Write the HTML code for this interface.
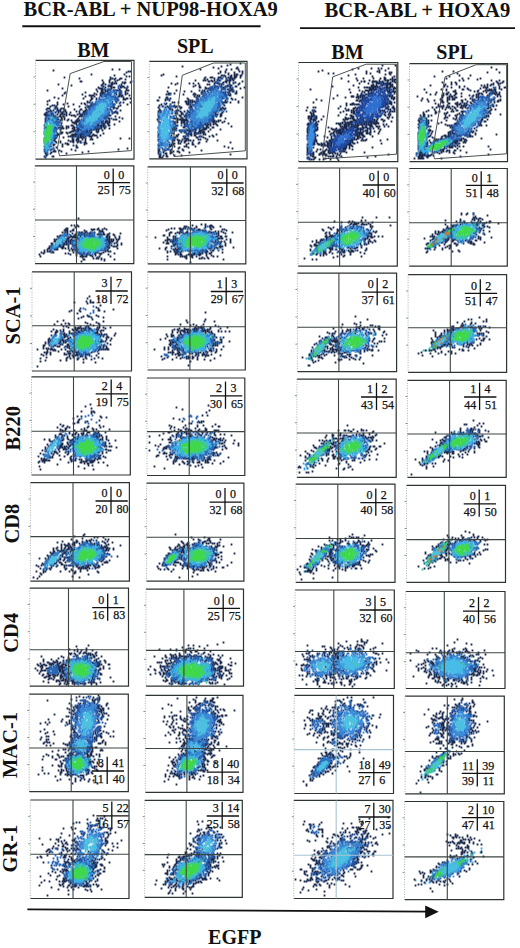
<!DOCTYPE html>
<html><head><meta charset="utf-8"><title>Figure</title>
<style>html,body{margin:0;padding:0;background:#fff;width:520px;height:948px;overflow:hidden}svg{display:block}</style>
</head><body>
<svg width="520" height="948" viewBox="0 0 520 948">
<rect width="520" height="948" fill="#fff"/>
<g font-family="&quot;Liberation Serif&quot;, serif" font-weight="bold" fill="#111">
<text x="23.5" y="15.6" font-size="20.5px">BCR-ABL + NUP98-HOXA9</text>
<text x="324.6" y="17.1" font-size="20.6px">BCR-ABL + HOXA9</text>
<text x="77.2" y="56.6" font-size="20px">BM</text>
<text x="176.9" y="53.3" font-size="20px">SPL</text>
<text x="331.3" y="58.7" font-size="20px">BM</text>
<text x="436.3" y="58.7" font-size="20px">SPL</text>
<text transform="translate(20.1 344.5) rotate(-90)" font-size="20.5px">SCA-1</text>
<text transform="translate(19.7 450.5) rotate(-90)" font-size="20.5px">B220</text>
<text transform="translate(19.2 543.5) rotate(-90)" font-size="20.5px">CD8</text>
<text transform="translate(17.5 652.7) rotate(-90)" font-size="20.5px">CD4</text>
<text transform="translate(17.3 778) rotate(-90)" font-size="20.5px">MAC-1</text>
<text transform="translate(16.7 872.5) rotate(-90)" font-size="20.5px">GR-1</text>
<text x="208.1" y="944" font-size="20px">EGFP</text>
</g>
<line x1="22.3" y1="26.2" x2="260.6" y2="26.2" stroke="#111" stroke-width="2"/>
<line x1="300" y1="28.2" x2="515" y2="28.2" stroke="#111" stroke-width="1.8"/>
<line x1="27.4" y1="909.4" x2="428" y2="911.6" stroke="#111" stroke-width="1.8"/>
<polygon points="425.2,905.6 438.7,911.7 425.2,918.3" fill="#111"/>
<g stroke-width="1.8" stroke-linecap="square" fill="none" transform="translate(0.5 0.5)">
<path stroke="#1b2a4c" d="M112 69h0m7 0h0m-66 1h0m75 1h0m2 0h0m-4 1h0m-35 2h0m33 0h0m-10 1h0m12 1h0m3 0h0m-65 1h0m46 0h0m-31 1h0m33 0h0m3 0h0m5 0h0m1 0h0m-11 1h0m4 0h0m5 0h0m6 0h0m-23 1h0m7 0h0m8 0h0m-37 1h0m1 0h0m34 0h0m16 0h0m-28 1h0m6 0h0m3 0h0m10 0h0m2 0h0m1 0h0m5 0h0m-27 1h0m8 0h0m3 0h0m2 0h0m8 0h0m-66 1h0m44 0h0m3 0h0m7 0h0m9 0h0m-50 1h0m30 0h0m8 0h0m2 0h0m-8 1h0m5 0h0m2 0h0m1 0h0m9 0h0m2 0h0m1 0h0m-25 1h0m7 0h0m8 0h0m1 0h0m6 0h0m1 0h0m3 0h0m3 0h0m-65 1h0m37 0h0m1 0h0m1 0h0m1 0h0m9 0h0m15 0h0m-30 1h0m8 0h0m4 0h0m2 0h0m9 0h0m7 0h0m-79 1h0m54 0h0m1 0h0m3 0h0m2 0h0m3 0h0m3 0h0m1 0h0m1 0h0m1 0h0m1 0h0m2 0h0m1 0h0m7 0h0m1 0h0m-31 1h0m5 0h0m3 0h0m2 0h0m2 0h0m6 0h0m10 0h0m-60 1h0m20 0h0m16 0h0m1 0h0m1 0h0m5 0h0m3 0h0m4 0h0m5 0h0m5 0h0m-61 1h0m30 0h0m6 0h0m3 0h0m1 0h0m15 0h0m1 0h0m7 0h0m-45 1h0m14 0h0m6 0h0m8 0h0m6 0h0m3 0h0m1 0h0m5 0h0m-63 1h0m27 0h0m1 0h0m2 0h0m1 0h0m7 0h0m3 0h0m2 0h0m16 0h0m1 0h0m7 0h0m-44 1h0m6 0h0m3 0h0m7 0h0m17 0h0m1 0h0m2 0h0m-67 1h0m59 0h0m10 0h0m-65 1h0m25 0h0m8 0h0m1 0h0m4 0h0m14 0h0m2 0h0m1 0h0m1 0h0m12 0h0m1 0h0m3 0h0m-39 1h0m5 0h0m8 0h0m11 0h0m8 0h0m1 0h0m1 0h0m-76 1h0m41 0h0m10 0h0m6 0h0m-59 1h0m40 0h0m-30 1h0m30 0h0m2 0h0m27 0h0m4 0h0m3 0h0m7 0h0m-73 1h0m10 0h0m14 0h0m3 0h0m7 0h0m-44 1h0m10 0h0m6 0h0m10 0h0m12 0h0m8 0h0m2 0h0m1 0h0m15 0h0m3 0h0m13 0h0m-75 1h0m2 0h0m36 0h0m1 0h0m8 0h0m3 0h0m6 0h0m12 0h0m-70 1h0m6 0h0m12 0h0m11 0h0m8 0h0m1 0h0m1 0h0m2 0h0m3 0h0m17 0h0m2 0h0m5 0h0m-63 1h0m30 0h0m3 0h0m8 0h0m17 0h0m1 0h0m-67 1h0m1 0h0m1 0h0m6 0h0m2 0h0m4 0h0m2 0h0m27 0h0m3 0h0m4 0h0m1 0h0m3 0h0m3 0h0m9 0h0m3 0h0m1 0h0m-71 1h0m14 0h0m4 0h0m10 0h0m6 0h0m1 0h0m5 0h0m3 0h0m18 0h0m-57 1h0m3 0h0m4 0h0m1 0h0m7 0h0m20 0h0m3 0h0m2 0h0m7 0h0m6 0h0m4 0h0m4 0h0m9 0h0m-72 1h0m2 0h0m1 0h0m9 0h0m3 0h0m2 0h0m11 0h0m3 0h0m4 0h0m1 0h0m3 0h0m9 0h0m3 0h0m16 0h0m-69 1h0m1 0h0m4 0h0m4 0h0m3 0h0m4 0h0m4 0h0m4 0h0m13 0h0m2 0h0m1 0h0m2 0h0m10 0h0m3 0h0m2 0h0m9 0h0m2 0h0m2 0h0m1 0h0m-72 1h0m2 0h0m5 0h0m9 0h0m2 0h0m16 0h0m8 0h0m1 0h0m20 0h0m4 0h0m5 0h0m-73 1h0m2 0h0m5 0h0m6 0h0m3 0h0m2 0h0m2 0h0m2 0h0m3 0h0m8 0h0m3 0h0m1 0h0m1 0h0m2 0h0m-39 1h0m2 0h0m1 0h0m1 0h0m3 0h0m1 0h0m13 0h0m5 0h0m2 0h0m1 0h0m6 0h0m2 0h0m20 0h0m4 0h0m1 0h0m2 0h0m1 0h0m-64 1h0m7 0h0m2 0h0m4 0h0m1 0h0m3 0h0m12 0h0m4 0h0m2 0h0m5 0h0m29 0h0m-69 1h0m11 0h0m4 0h0m3 0h0m20 0h0m18 0h0m2 0h0m1 0h0m2 0h0m12 0h0m-74 1h0m3 0h0m3 0h0m3 0h0m7 0h0m17 0h0m5 0h0m13 0h0m9 0h0m3 0h0m1 0h0m13 0h0m-73 1h0m1 0h0m1 0h0m5 0h0m1 0h0m1 0h0m3 0h0m3 0h0m4 0h0m9 0h0m22 0h0m14 0h0m2 0h0m1 0h0m-71 1h0m4 0h0m2 0h0m5 0h0m4 0h0m7 0h0m4 0h0m5 0h0m3 0h0m18 0h0m9 0h0m3 0h0m-34 1h0m2 0h0m1 0h0m18 0h0m1 0h0m4 0h0m4 0h0m1 0h0m1 0h0m12 0h0m-74 1h0m1 0h0m9 0h0m2 0h0m2 0h0m13 0h0m1 0h0m2 0h0m1 0h0m12 0h0m10 0h0m3 0h0m1 0h0m3 0h0m4 0h0m-64 1h0m1 0h0m4 0h0m4 0h0m1 0h0m6 0h0m13 0h0m5 0h0m4 0h0m9 0h0m5 0h0m1 0h0m4 0h0m1 0h0m4 0h0m1 0h0m-32 1h0m3 0h0m15 0h0m9 0h0m1 0h0m10 0h0m-70 1h0m2 0h0m8 0h0m17 0h0m1 0h0m25 0h0m1 0h0m2 0h0m1 0h0m2 0h0m5 0h0m1 0h0m-62 1h0m15 0h0m4 0h0m2 0h0m5 0h0m4 0h0m3 0h0m6 0h0m9 0h0m2 0h0m2 0h0m1 0h0m1 0h0m2 0h0m2 0h0m-60 1h0m2 0h0m4 0h0m4 0h0m3 0h0m1 0h0m1 0h0m2 0h0m6 0h0m5 0h0m1 0h0m5 0h0m2 0h0m5 0h0m6 0h0m3 0h0m2 0h0m2 0h0m5 0h0m1 0h0m-60 1h0m1 0h0m1 0h0m9 0h0m4 0h0m1 0h0m2 0h0m3 0h0m6 0h0m5 0h0m1 0h0m1 0h0m1 0h0m2 0h0m8 0h0m7 0h0m2 0h0m2 0h0m3 0h0m5 0h0m-64 1h0m2 0h0m2 0h0m5 0h0m6 0h0m14 0h0m4 0h0m2 0h0m1 0h0m1 0h0m4 0h0m1 0h0m3 0h0m1 0h0m2 0h0m1 0h0m2 0h0m2 0h0m-53 1h0m1 0h0m14 0h0m13 0h0m1 0h0m1 0h0m2 0h0m8 0h0m1 0h0m1 0h0m2 0h0m13 0h0m-57 1h0m26 0h0m1 0h0m1 0h0m3 0h0m1 0h0m1 0h0m5 0h0m2 0h0m4 0h0m1 0h0m1 0h0m5 0h0m2 0h0m-52 1h0m15 0h0m1 0h0m4 0h0m3 0h0m1 0h0m8 0h0m1 0h0m4 0h0m2 0h0m1 0h0m1 0h0m3 0h0m1 0h0m6 0h0m-53 1h0m2 0h0m11 0h0m3 0h0m1 0h0m6 0h0m8 0h0m3 0h0m1 0h0m2 0h0m2 0h0m7 0h0m13 0h0m-58 1h0m1 0h0m12 0h0m14 0h0m1 0h0m1 0h0m1 0h0m1 0h0m2 0h0m2 0h0m1 0h0m1 0h0m1 0h0m1 0h0m5 0h0m4 0h0m-47 1h0m2 0h0m7 0h0m1 0h0m1 0h0m14 0h0m1 0h0m5 0h0m1 0h0m2 0h0m3 0h0m4 0h0m1 0h0m1 0h0m3 0h0m2 0h0m1 0h0m1 0h0m4 0h0m-51 1h0m4 0h0m15 0h0m2 0h0m2 0h0m1 0h0m2 0h0m5 0h0m1 0h0m1 0h0m3 0h0m4 0h0m1 0h0m1 0h0m-46 1h0m1 0h0m2 0h0m1 0h0m5 0h0m2 0h0m7 0h0m14 0h0m1 0h0m2 0h0m1 0h0m2 0h0m2 0h0m6 0h0m6 0h0m-53 1h0m1 0h0m2 0h0m1 0h0m6 0h0m1 0h0m17 0h0m6 0h0m7 0h0m6 0h0m29 0h0m9 0h0m-84 1h0m1 0h0m1 0h0m4 0h0m22 0h0m3 0h0m1 0h0m1 0h0m4 0h0m8 0h0m2 0h0m-48 1h0m1 0h0m8 0h0m1 0h0m14 0h0m4 0h0m1 0h0m3 0h0m9 0h0m-38 1h0m8 0h0m5 0h0m10 0h0m2 0h0m6 0h0m2 0h0m-36 1h0m2 0h0m2 0h0m3 0h0m5 0h0m4 0h0m13 0h0m4 0h0m3 0h0m4 0h0m1 0h0m-39 1h0m1 0h0m3 0h0m15 0h0m2 0h0m19 0h0m7 0h0m-48 1h0m5 0h0m3 0h0m1 0h0m8 0h0m5 0h0m1 0h0m16 0h0m-37 1h0m6 0h0m9 0h0m11 0h0m3 0h0m-31 1h0m3 0h0m14 0h0m-17 1h0m11 0h0m20 0h0m1 0h0m-32 1h0m1 0h0m3 0h0m4 0h0m74 0h0m-83 1h0m1 0h0m6 0h0m20 0h0m47 0h0m-73 1h0m2 0h0m7 0h0m5 0h0m16 0h0m-22 1h0m1 0h0m1 0h0m6 0h0m27 0h0m-43 1h0m6 0h0m31 0h0m-37 1h0m1 0h0m4 0h0m16 0h0m-20 1h0m1 0h0m-1 1h0m-2 1h0m1 0h0m7 0h0m1 0h0m-8 1h0"/>
<path stroke="#2458a8" d="M108 85h0m11 0h0m-17 1h0m16 0h0m9 0h0m-9 2h0m-14 1h0m3 0h0m2 0h0m5 1h0m1 0h0m-5 1h0m3 0h0m1 0h0m5 0h0m2 0h0m-13 1h0m6 0h0m2 0h0m3 0h0m-15 1h0m3 0h0m1 0h0m1 0h0m1 0h0m4 0h0m7 0h0m-16 1h0m1 0h0m1 0h0m2 0h0m1 0h0m-8 1h0m1 0h0m2 0h0m1 0h0m2 0h0m1 0h0m1 0h0m4 0h0m-12 1h0m2 0h0m1 0h0m3 0h0m2 0h0m1 0h0m1 0h0m1 0h0m1 0h0m1 0h0m-16 1h0m7 0h0m4 0h0m2 0h0m2 0h0m3 0h0m-10 1h0m1 0h0m2 0h0m1 0h0m2 0h0m1 0h0m1 0h0m1 0h0m-17 1h0m2 0h0m2 0h0m2 0h0m10 0h0m2 0h0m1 0h0m-19 1h0m1 0h0m4 0h0m2 0h0m4 0h0m7 0h0m1 0h0m-22 1h0m2 0h0m5 0h0m1 0h0m5 0h0m3 0h0m3 0h0m1 0h0m-24 1h0m3 0h0m1 0h0m4 0h0m2 0h0m7 0h0m3 0h0m-21 1h0m4 0h0m1 0h0m2 0h0m10 0h0m1 0h0m1 0h0m1 0h0m8 0h0m-26 1h0m3 0h0m13 0h0m1 0h0m2 0h0m1 0h0m1 0h0m-27 1h0m7 0h0m2 0h0m12 0h0m1 0h0m4 0h0m-26 1h0m3 0h0m1 0h0m2 0h0m2 0h0m10 0h0m7 0h0m-21 1h0m2 0h0m2 0h0m15 0h0m-21 1h0m5 0h0m13 0h0m3 0h0m-20 1h0m1 0h0m18 0h0m1 0h0m-20 1h0m1 0h0m1 0h0m3 0h0m2 0h0m9 0h0m5 0h0m-24 1h0m1 0h0m2 0h0m1 0h0m7 0h0m10 0h0m8 0h0m-30 1h0m1 0h0m1 0h0m2 0h0m2 0h0m1 0h0m4 0h0m1 0h0m6 0h0m2 0h0m1 0h0m2 0h0m3 0h0m-30 1h0m5 0h0m2 0h0m2 0h0m1 0h0m2 0h0m10 0h0m2 0h0m1 0h0m1 0h0m-23 1h0m1 0h0m1 0h0m2 0h0m8 0h0m8 0h0m2 0h0m-19 1h0m15 0h0m1 0h0m1 0h0m1 0h0m1 0h0m-24 1h0m1 0h0m2 0h0m16 0h0m-16 1h0m15 0h0m1 0h0m2 0h0m3 0h0m-23 1h0m1 0h0m13 0h0m6 0h0m1 0h0m6 0h0m-30 1h0m4 0h0m14 0h0m1 0h0m-19 1h0m2 0h0m1 0h0m3 0h0m11 0h0m1 0h0m1 0h0m2 0h0m1 0h0m-23 1h0m3 0h0m1 0h0m12 0h0m-16 1h0m1 0h0m2 0h0m3 0h0m3 0h0m3 0h0m1 0h0m1 0h0m2 0h0m1 0h0m2 0h0m4 0h0m-21 1h0m1 0h0m1 0h0m4 0h0m2 0h0m2 0h0m1 0h0m2 0h0m1 0h0m1 0h0m1 0h0m3 0h0m-22 1h0m2 0h0m2 0h0m8 0h0m3 0h0m-17 1h0m1 0h0m1 0h0m1 0h0m2 0h0m1 0h0m1 0h0m1 0h0m1 0h0m2 0h0m2 0h0m1 0h0m1 0h0m-14 1h0m3 0h0m1 0h0m3 0h0m1 0h0m1 0h0m2 0h0m2 0h0m2 0h0m1 0h0m1 0h0m1 0h0m3 0h0m6 0h0m-29 1h0m2 0h0m1 0h0m2 0h0m2 0h0m2 0h0m3 0h0m1 0h0m1 0h0m4 0h0m3 0h0m2 0h0m-18 1h0m1 0h0m4 0h0m1 0h0m1 0h0m1 0h0m1 0h0m1 0h0m1 0h0m-11 1h0m3 0h0m2 0h0m1 0h0m1 0h0m1 0h0m1 0h0m3 0h0m-17 1h0m4 0h0m1 0h0m2 0h0m1 0h0m1 0h0m0 1h0m5 0h0m-14 1h0m2 0h0m3 0h0m2 0h0m1 0h0m4 0h0m-9 1h0m5 0h0m2 0h0m-8 1h0m6 0h0m2 0h0m2 0h0m-11 1h0m5 0h0m1 0h0m-6 1h0m-4 1h0m12 0h0m-4 5h0"/>
<path stroke="#2866b8" d="M54 108h0m-7 2h0m9 1h0m-6 1h0m1 0h0m-4 1h0m6 0h0m-4 1h0m3 1h0m3 0h0m-8 1h0m1 0h0m1 0h0m1 0h0m-4 1h0m4 0h0m1 0h0m-5 1h0m6 0h0m2 0h0m2 0h0m1 0h0m-8 1h0m2 0h0m3 0h0m-7 1h0m5 0h0m4 0h0m-10 1h0m6 0h0m1 0h0m3 0h0m1 0h0m2 0h0m-5 1h0m1 0h0m3 0h0m1 0h0m-9 1h0m2 0h0m1 0h0m1 0h0m1 0h0m2 0h0m1 0h0m-12 1h0m7 0h0m1 0h0m2 0h0m2 0h0m-5 1h0m1 0h0m2 0h0m1 0h0m2 0h0m1 0h0m-9 1h0m1 0h0m2 0h0m-9 1h0m5 0h0m2 0h0m1 0h0m1 0h0m-10 1h0m2 0h0m3 0h0m3 0h0m2 0h0m4 0h0m1 0h0m-13 1h0m1 0h0m2 0h0m1 0h0m2 0h0m2 0h0m1 0h0m1 0h0m-6 1h0m1 0h0m2 0h0m2 0h0m-11 1h0m7 0h0m1 0h0m1 0h0m3 0h0m-11 1h0m9 0h0m2 0h0m-7 1h0m3 0h0m1 0h0m1 0h0m-8 1h0m3 0h0m1 0h0m2 0h0m1 0h0m1 0h0m-8 1h0m-1 1h0m5 0h0m2 0h0m1 0h0m1 0h0m2 0h0m-5 1h0m3 0h0m-9 1h0m5 0h0m2 0h0m1 0h0m-3 1h0m-5 1h0m0 1h0m3 1h0m3 0h0m1 0h0m-6 1h0m5 0h0m-6 1h0m3 0h0m-3 1h0m1 0h0m-2 1h0m1 0h0m2 0h0m2 0h0m1 0h0m1 0h0m-6 1h0m2 0h0m6 1h0m-8 1h0m2 0h0m1 0h0m-2 1h0m4 0h0m-6 1h0m1 0h0m2 1h0m0 1h0m-2 3h0"/>
<path stroke="#3cb0e8" d="M50 117h0m1 0h0m0 1h0m3 1h0m-4 1h0m-2 1h0m1 0h0m2 0h0m-4 1h0m2 0h0m2 0h0m1 0h0m-7 1h0m1 0h0m6 0h0m2 1h0m-9 1h0m1 0h0m1 0h0m6 0h0m2 0h0m-4 1h0m2 0h0m-2 1h0m-6 2h0m7 0h0m-2 2h0m1 0h0m-6 1h0m7 0h0m1 1h0m-8 1h0m6 0h0m-4 1h0m4 0h0m1 0h0m-1 1h0m1 0h0m-6 1h0m4 0h0m1 0h0m-2 1h0m-3 1h0m6 0h0m-7 1h0m0 2h0m4 0h0m1 0h0m3 0h0m-5 1h0m-3 1h0m4 0h0m-5 1h0m1 0h0m1 0h0m1 0h0m-1 2h0m2 0h0m-3 1h0m2 0h0m1 0h0m1 0h0m-3 2h0"/>
<path stroke="#3a8ad8" d="M109 91h0m3 0h0m3 0h0m-4 1h0m0 2h0m-8 1h0m11 0h0m-6 1h0m-6 1h0m7 0h0m1 0h0m-3 1h0m2 0h0m3 0h0m1 0h0m-15 1h0m6 0h0m2 0h0m3 0h0m1 0h0m1 0h0m2 0h0m-12 1h0m3 0h0m1 0h0m1 0h0m1 0h0m1 0h0m3 0h0m-12 1h0m1 0h0m2 0h0m1 0h0m1 0h0m1 0h0m1 0h0m1 0h0m1 0h0m1 0h0m-13 1h0m1 0h0m1 0h0m2 0h0m1 0h0m2 0h0m2 0h0m1 0h0m1 0h0m-9 1h0m1 0h0m1 0h0m4 0h0m3 0h0m2 0h0m1 0h0m-13 1h0m1 0h0m1 0h0m1 0h0m1 0h0m3 0h0m2 0h0m2 0h0m1 0h0m-13 1h0m1 0h0m3 0h0m2 0h0m3 0h0m2 0h0m2 0h0m1 0h0m1 0h0m-17 1h0m1 0h0m2 0h0m1 0h0m1 0h0m8 0h0m2 0h0m-15 1h0m1 0h0m1 0h0m1 0h0m1 0h0m6 0h0m2 0h0m-15 1h0m1 0h0m3 0h0m9 0h0m1 0h0m1 0h0m-15 1h0m1 0h0m2 0h0m9 0h0m1 0h0m2 0h0m-18 1h0m3 0h0m1 0h0m1 0h0m2 0h0m11 0h0m-16 1h0m1 0h0m1 0h0m1 0h0m1 0h0m8 0h0m1 0h0m1 0h0m1 0h0m3 0h0m-20 1h0m2 0h0m1 0h0m1 0h0m1 0h0m9 0h0m2 0h0m1 0h0m1 0h0m1 0h0m-17 1h0m1 0h0m1 0h0m1 0h0m8 0h0m1 0h0m-14 1h0m1 0h0m2 0h0m1 0h0m5 0h0m3 0h0m1 0h0m2 0h0m1 0h0m1 0h0m1 0h0m-19 1h0m2 0h0m1 0h0m1 0h0m1 0h0m1 0h0m1 0h0m4 0h0m1 0h0m1 0h0m1 0h0m2 0h0m-18 1h0m3 0h0m2 0h0m1 0h0m1 0h0m6 0h0m2 0h0m1 0h0m1 0h0m-18 1h0m2 0h0m1 0h0m1 0h0m2 0h0m1 0h0m1 0h0m1 0h0m1 0h0m2 0h0m2 0h0m1 0h0m-15 1h0m1 0h0m3 0h0m1 0h0m1 0h0m1 0h0m2 0h0m2 0h0m1 0h0m1 0h0m4 0h0m1 0h0m-17 1h0m2 0h0m1 0h0m1 0h0m1 0h0m2 0h0m1 0h0m3 0h0m1 0h0m3 0h0m2 0h0m-16 1h0m1 0h0m2 0h0m3 0h0m1 0h0m1 0h0m3 0h0m1 0h0m1 0h0m-18 1h0m3 0h0m1 0h0m1 0h0m1 0h0m2 0h0m1 0h0m1 0h0m1 0h0m1 0h0m1 0h0m1 0h0m2 0h0m-16 1h0m1 0h0m1 0h0m2 0h0m1 0h0m1 0h0m1 0h0m1 0h0m2 0h0m2 0h0m1 0h0m1 0h0m1 0h0m2 0h0m-14 1h0m1 0h0m2 0h0m2 0h0m1 0h0m1 0h0m1 0h0m2 0h0m1 0h0m-13 1h0m2 0h0m1 0h0m1 0h0m1 0h0m1 0h0m1 0h0m1 0h0m2 0h0m1 0h0m2 0h0m-10 1h0m1 0h0m1 0h0m1 0h0m1 0h0m5 0h0m-16 1h0m6 0h0m2 0h0m1 0h0m1 0h0m3 0h0m-6 1h0m1 0h0m1 0h0m3 0h0m2 0h0m-12 1h0m5 0h0m3 0h0m4 0h0m-10 1h0m1 0h0m1 0h0m4 0h0m-9 3h0"/>
<path stroke="#3cc8a0" d="M52 117h0m-2 7h0m1 0h0m-6 1h0m3 0h0m1 0h0m2 0h0m-2 1h0m1 1h0m2 0h0m-2 1h0m-5 1h0m3 0h0m3 0h0m-6 1h0m-1 1h0m7 0h0m-7 1h0m1 0h0m1 0h0m-1 1h0m6 0h0m-7 1h0m4 0h0m2 0h0m-1 1h0m-4 1h0m-1 2h0m3 0h0m1 0h0m1 0h0m1 0h0m-5 1h0m1 0h0m2 0h0m1 0h0m-4 1h0m1 0h0m0 1h0m-2 1h0m1 0h0m1 0h0m1 0h0m-2 1h0m0 2h0m1 0h0"/>
<path stroke="#3fd84a" d="M47 125h0m0 1h0m3 0h0m-2 1h0m2 0h0m-3 1h0m1 0h0m1 0h0m1 0h0m-2 1h0m1 0h0m1 0h0m-4 1h0m1 0h0m2 0h0m1 0h0m-3 1h0m1 0h0m1 0h0m1 0h0m-3 1h0m1 0h0m1 0h0m1 0h0m-5 1h0m3 0h0m1 0h0m1 0h0m-3 1h0m1 0h0m-2 1h0m1 0h0m2 0h0m-3 1h0m1 0h0m1 0h0m1 0h0m-3 1h0m1 0h0m-2 1h0m1 0h0m1 0h0m2 0h0m-2 1h0m-3 1h0m2 0h0m2 0h0m-2 1h0"/>
<path stroke="#4cc0e0" d="M107 100h0m1 2h0m-7 1h0m1 0h0m2 0h0m-5 1h0m1 0h0m5 0h0m-4 1h0m1 0h0m1 0h0m-6 1h0m2 0h0m1 0h0m1 0h0m1 0h0m3 0h0m-9 1h0m4 0h0m1 0h0m1 0h0m-6 1h0m1 0h0m1 0h0m2 0h0m1 0h0m2 0h0m1 0h0m-8 1h0m2 0h0m1 0h0m1 0h0m3 0h0m-7 1h0m1 0h0m2 0h0m1 0h0m1 0h0m1 0h0m1 0h0m-9 1h0m1 0h0m1 0h0m2 0h0m3 0h0m-8 1h0m1 0h0m1 0h0m3 0h0m5 0h0m-10 1h0m1 0h0m1 0h0m1 0h0m3 0h0m1 0h0m1 0h0m-9 1h0m1 0h0m2 0h0m1 0h0m1 0h0m1 0h0m-6 1h0m2 0h0m1 0h0m1 0h0m2 0h0m1 0h0m-10 1h0m1 0h0m2 0h0m1 0h0m1 0h0m4 0h0m-6 1h0m2 0h0m2 0h0m-9 1h0m2 0h0m1 0h0m1 0h0m1 0h0m1 0h0m1 0h0m2 0h0m-10 1h0m1 0h0m1 0h0m1 0h0m1 0h0m1 0h0m1 0h0m1 0h0m1 0h0m2 0h0m-8 1h0m1 0h0m1 0h0m1 0h0m1 0h0m1 0h0m1 0h0m-8 1h0m1 0h0m1 0h0m3 0h0m1 0h0m-8 2h0m2 0h0m5 0h0m-1 1h0"/>
</g>
<path d="M35.5 60.3H134V159.2H35.5" fill="none" stroke="#2e3432" stroke-width="1.2"/>
<line x1="35.5" y1="60.3" x2="35.5" y2="159.2" stroke="#9aa8a8" stroke-width="0.9" stroke-dasharray="1 1.5"/>
<line x1="33.5" y1="131.7" x2="35.5" y2="131.7" stroke="#6a7a7a" stroke-width="0.8"/>
<line x1="33.5" y1="104.3" x2="35.5" y2="104.3" stroke="#6a7a7a" stroke-width="0.8"/>
<line x1="33.5" y1="76.8" x2="35.5" y2="76.8" stroke="#6a7a7a" stroke-width="0.8"/>
<polygon points="70.2,73.6 104,61.5 131.5,61.5 131.5,150.6 59.6,155.8 57.5,148" fill="none" stroke="#4a5250" stroke-width="1"/>
<g stroke-width="1.8" stroke-linecap="square" fill="none" transform="translate(0.5 0.5)">
<path stroke="#1b2a4c" d="M240 63h0m-10 1h0m-3 1h0m-45 1h0m39 0h0m-8 1h0m24 0h0m-19 1h0m18 0h0m-36 1h0m26 0h0m5 0h0m7 0h0m-18 2h0m5 0h0m14 0h0m3 0h0m-22 1h0m5 0h0m9 0h0m-16 1h0m10 0h0m14 0h0m-79 1h0m65 0h0m6 0h0m2 0h0m1 0h0m-76 1h0m60 0h0m1 0h0m2 0h0m7 0h0m9 0h0m1 0h0m-65 1h0m49 0h0m5 0h0m4 0h0m1 0h0m1 0h0m-31 1h0m5 0h0m1 0h0m1 0h0m6 0h0m1 0h0m1 0h0m8 0h0m3 0h0m4 0h0m5 0h0m-36 1h0m10 0h0m7 0h0m5 0h0m4 0h0m2 0h0m2 0h0m-27 1h0m7 0h0m4 0h0m11 0h0m3 0h0m-37 1h0m8 0h0m2 0h0m6 0h0m3 0h0m3 0h0m2 0h0m7 0h0m1 0h0m3 0h0m3 0h0m-25 1h0m1 0h0m3 0h0m13 0h0m4 0h0m13 0h0m-27 1h0m1 0h0m7 0h0m3 0h0m3 0h0m6 0h0m-64 1h0m6 0h0m12 0h0m4 0h0m5 0h0m16 0h0m3 0h0m1 0h0m1 0h0m3 0h0m7 0h0m4 0h0m6 0h0m-64 1h0m32 0h0m2 0h0m5 0h0m7 0h0m17 0h0m-43 1h0m4 0h0m28 0h0m2 0h0m1 0h0m1 0h0m-38 1h0m6 0h0m16 0h0m1 0h0m5 0h0m4 0h0m2 0h0m2 0h0m6 0h0m1 0h0m-68 1h0m31 0h0m1 0h0m5 0h0m5 0h0m1 0h0m3 0h0m2 0h0m5 0h0m2 0h0m7 0h0m14 0h0m-39 1h0m1 0h0m2 0h0m3 0h0m1 0h0m5 0h0m6 0h0m1 0h0m8 0h0m8 0h0m-31 1h0m6 0h0m12 0h0m1 0h0m1 0h0m2 0h0m-55 1h0m23 0h0m5 0h0m6 0h0m1 0h0m18 0h0m1 0h0m3 0h0m-66 1h0m17 0h0m7 0h0m11 0h0m2 0h0m3 0h0m25 0h0m1 0h0m3 0h0m-35 1h0m13 0h0m9 0h0m2 0h0m3 0h0m1 0h0m-61 1h0m1 0h0m1 0h0m4 0h0m20 0h0m7 0h0m1 0h0m8 0h0m13 0h0m12 0h0m1 0h0m-70 1h0m2 0h0m1 0h0m14 0h0m10 0h0m2 0h0m27 0h0m3 0h0m3 0h0m2 0h0m-33 1h0m2 0h0m17 0h0m9 0h0m1 0h0m3 0h0m1 0h0m-36 1h0m5 0h0m3 0h0m1 0h0m22 0h0m-66 1h0m7 0h0m1 0h0m29 0h0m1 0h0m5 0h0m2 0h0m6 0h0m1 0h0m13 0h0m18 0h0m-72 1h0m17 0h0m10 0h0m5 0h0m6 0h0m12 0h0m7 0h0m4 0h0m-66 1h0m2 0h0m2 0h0m19 0h0m10 0h0m4 0h0m8 0h0m3 0h0m1 0h0m1 0h0m17 0h0m3 0h0m-78 1h0m1 0h0m7 0h0m4 0h0m21 0h0m2 0h0m9 0h0m2 0h0m5 0h0m4 0h0m5 0h0m3 0h0m5 0h0m-40 1h0m1 0h0m2 0h0m6 0h0m2 0h0m2 0h0m12 0h0m11 0h0m4 0h0m13 0h0m-66 1h0m2 0h0m4 0h0m8 0h0m4 0h0m2 0h0m4 0h0m8 0h0m2 0h0m17 0h0m1 0h0m1 0h0m1 0h0m4 0h0m8 0h0m-72 1h0m20 0h0m2 0h0m7 0h0m2 0h0m2 0h0m4 0h0m8 0h0m11 0h0m-61 1h0m4 0h0m5 0h0m17 0h0m1 0h0m2 0h0m17 0h0m9 0h0m1 0h0m1 0h0m-59 1h0m15 0h0m19 0h0m1 0h0m3 0h0m2 0h0m2 0h0m5 0h0m8 0h0m1 0h0m9 0h0m-62 1h0m5 0h0m3 0h0m3 0h0m3 0h0m3 0h0m11 0h0m1 0h0m9 0h0m16 0h0m-58 1h0m7 0h0m3 0h0m2 0h0m5 0h0m5 0h0m1 0h0m8 0h0m2 0h0m7 0h0m17 0h0m1 0h0m1 0h0m5 0h0m-42 1h0m40 0h0m3 0h0m2 0h0m-66 1h0m10 0h0m1 0h0m2 0h0m18 0h0m24 0h0m1 0h0m1 0h0m1 0h0m3 0h0m1 0h0m3 0h0m-64 1h0m12 0h0m4 0h0m2 0h0m13 0h0m20 0h0m2 0h0m2 0h0m4 0h0m-61 1h0m17 0h0m1 0h0m4 0h0m4 0h0m4 0h0m6 0h0m18 0h0m1 0h0m3 0h0m-56 1h0m4 0h0m17 0h0m8 0h0m5 0h0m18 0h0m1 0h0m2 0h0m7 0h0m-64 1h0m9 0h0m8 0h0m2 0h0m4 0h0m1 0h0m4 0h0m5 0h0m24 0h0m6 0h0m-63 1h0m23 0h0m5 0h0m4 0h0m2 0h0m24 0h0m1 0h0m3 0h0m-62 1h0m21 0h0m6 0h0m4 0h0m22 0h0m1 0h0m1 0h0m1 0h0m1 0h0m6 0h0m-63 1h0m1 0h0m11 0h0m3 0h0m7 0h0m4 0h0m2 0h0m6 0h0m1 0h0m2 0h0m15 0h0m1 0h0m1 0h0m1 0h0m3 0h0m4 0h0m-61 1h0m13 0h0m1 0h0m8 0h0m5 0h0m5 0h0m4 0h0m-36 1h0m1 0h0m13 0h0m1 0h0m1 0h0m2 0h0m5 0h0m30 0h0m1 0h0m12 0h0m-68 1h0m20 0h0m2 0h0m1 0h0m2 0h0m1 0h0m2 0h0m1 0h0m6 0h0m15 0h0m2 0h0m2 0h0m1 0h0m-45 1h0m14 0h0m1 0h0m1 0h0m1 0h0m1 0h0m1 0h0m1 0h0m8 0h0m13 0h0m3 0h0m3 0h0m4 0h0m2 0h0m-62 1h0m11 0h0m4 0h0m4 0h0m4 0h0m10 0h0m1 0h0m17 0h0m3 0h0m1 0h0m1 0h0m2 0h0m2 0h0m6 0h0m-50 1h0m1 0h0m2 0h0m4 0h0m2 0h0m1 0h0m3 0h0m3 0h0m6 0h0m8 0h0m3 0h0m6 0h0m9 0h0m-41 1h0m10 0h0m1 0h0m2 0h0m6 0h0m2 0h0m1 0h0m2 0h0m5 0h0m5 0h0m13 0h0m-69 1h0m10 0h0m5 0h0m10 0h0m1 0h0m1 0h0m1 0h0m3 0h0m2 0h0m2 0h0m1 0h0m2 0h0m5 0h0m1 0h0m2 0h0m2 0h0m1 0h0m5 0h0m3 0h0m-48 1h0m8 0h0m1 0h0m7 0h0m5 0h0m4 0h0m2 0h0m1 0h0m2 0h0m1 0h0m2 0h0m6 0h0m3 0h0m7 0h0m-55 1h0m10 0h0m1 0h0m1 0h0m10 0h0m9 0h0m3 0h0m3 0h0m3 0h0m4 0h0m1 0h0m24 0h0m-73 1h0m1 0h0m24 0h0m1 0h0m4 0h0m7 0h0m2 0h0m3 0h0m3 0h0m5 0h0m4 0h0m1 0h0m-41 1h0m2 0h0m2 0h0m13 0h0m1 0h0m9 0h0m4 0h0m1 0h0m1 0h0m1 0h0m-34 1h0m3 0h0m11 0h0m5 0h0m3 0h0m1 0h0m7 0h0m2 0h0m1 0h0m5 0h0m10 0h0m-61 1h0m13 0h0m2 0h0m5 0h0m1 0h0m2 0h0m2 0h0m3 0h0m1 0h0m1 0h0m1 0h0m2 0h0m7 0h0m1 0h0m1 0h0m-43 1h0m22 0h0m5 0h0m10 0h0m4 0h0m4 0h0m5 0h0m-50 1h0m1 0h0m1 0h0m11 0h0m13 0h0m5 0h0m1 0h0m4 0h0m1 0h0m3 0h0m2 0h0m2 0h0m1 0h0m1 0h0m-46 1h0m1 0h0m10 0h0m4 0h0m13 0h0m2 0h0m3 0h0m5 0h0m1 0h0m1 0h0m2 0h0m-22 1h0m10 0h0m2 0h0m4 0h0m9 0h0m2 0h0m11 0h0m-58 1h0m13 0h0m5 0h0m1 0h0m10 0h0m4 0h0m3 0h0m1 0h0m17 0h0m-54 1h0m19 0h0m6 0h0m2 0h0m14 0h0m2 0h0m8 0h0m4 0h0m-43 1h0m4 0h0m1 0h0m10 0h0m11 0h0m1 0h0m6 0h0m-36 1h0m7 0h0m10 0h0m3 0h0m18 0h0m-47 1h0m1 0h0m13 0h0m1 0h0m4 0h0m5 0h0m4 0h0m2 0h0m10 0h0m2 0h0m7 0h0m-49 1h0m9 0h0m5 0h0m2 0h0m4 0h0m1 0h0m6 0h0m1 0h0m2 0h0m2 0h0m3 0h0m24 0h0m-36 1h0m3 0h0m1 0h0m21 0h0m-46 1h0m12 0h0m6 0h0m6 0h0m8 0h0m7 0h0m31 0h0m-71 1h0m4 0h0m11 0h0m4 0h0m2 0h0m8 0h0m10 0h0m-29 1h0m2 0h0m2 0h0m13 0h0m6 0h0m1 0h0m-35 1h0m1 0h0m12 0h0m15 0h0m-21 1h0m4 0h0m1 0h0m4 0h0m10 0h0m2 0h0m9 0h0m29 0h0m-65 1h0m20 0h0m9 0h0m40 0h0m-66 1h0m3 0h0m3 0h0m10 0h0m54 0h0m-74 1h0m1 0h0m8 0h0m1 0h0m3 0h0m11 0h0m-24 1h0m1 0h0m4 0h0m1 0h0m1 0h0m5 0h0m13 0h0m18 0h0m-43 1h0m15 0h0m4 0h0m1 0h0m-18 1h0m3 0h0m7 0h0m1 0h0m8 0h0m10 0h0m-31 1h0m2 0h0m5 0h0m1 0h0m4 0h0m-11 1h0m7 0h0m64 0h0m-71 1h0m1 0h0m3 0h0m3 0h0m8 0h0m7 0h0m-15 1h0m1 0h0m-8 1h0m1 0h0m2 0h0"/>
<path stroke="#2866b8" d="M170 94h0m-2 5h0m-4 4h0m6 1h0m-7 2h0m6 0h0m1 0h0m2 0h0m-13 1h0m11 0h0m-6 2h0m0 1h0m2 0h0m-5 1h0m3 0h0m4 0h0m7 0h0m-11 1h0m4 0h0m4 0h0m-11 1h0m3 0h0m2 0h0m5 0h0m1 0h0m-14 1h0m10 0h0m-9 1h0m3 0h0m13 0h0m-2 1h0m-3 1h0m2 0h0m-14 1h0m2 0h0m1 0h0m2 2h0m-4 1h0m11 0h0m2 0h0m-13 1h0m1 0h0m10 0h0m3 0h0m-14 1h0m14 0h0m-14 1h0m13 0h0m1 0h0m-3 1h0m4 0h0m-15 1h0m13 0h0m-2 1h0m5 0h0m-17 1h0m1 0h0m0 1h0m1 1h0m10 0h0m6 0h0m-17 1h0m12 0h0m1 0h0m-13 1h0m2 0h0m10 0h0m-12 1h0m12 0h0m-4 1h0m-9 2h0m1 0h0m1 0h0m-2 1h0m2 0h0m10 0h0m2 0h0m-3 1h0m1 0h0m4 0h0m-3 1h0m-13 1h0m2 0h0m7 0h0m-8 1h0m1 0h0m-1 1h0m1 0h0m1 0h0m3 0h0m1 0h0m3 0h0m1 0h0m-8 1h0m1 0h0m-4 1h0m1 0h0m1 0h0m2 0h0m3 0h0m1 0h0m-5 1h0m2 0h0m4 0h0m-9 2h0m0 1h0m10 0h0m-4 1h0m1 0h0m1 0h0m-3 1h0m-4 3h0"/>
<path stroke="#2458a8" d="M223 76h0m-1 2h0m-5 1h0m9 0h0m-6 1h0m-4 2h0m2 0h0m15 0h0m-14 2h0m4 0h0m-9 1h0m5 0h0m10 0h0m-17 1h0m5 0h0m3 0h0m6 0h0m-16 1h0m2 0h0m3 0h0m3 0h0m3 0h0m11 0h0m-22 1h0m5 0h0m1 0h0m1 0h0m1 0h0m3 0h0m4 0h0m-16 1h0m2 0h0m2 0h0m2 0h0m1 0h0m5 0h0m1 0h0m1 0h0m1 0h0m5 0h0m-27 1h0m5 0h0m4 0h0m2 0h0m3 0h0m5 0h0m-10 1h0m2 0h0m3 0h0m1 0h0m1 0h0m1 0h0m2 0h0m4 0h0m8 0h0m-28 1h0m3 0h0m3 0h0m3 0h0m6 0h0m2 0h0m5 0h0m-25 1h0m2 0h0m5 0h0m11 0h0m4 0h0m5 0h0m-23 1h0m3 0h0m9 0h0m1 0h0m1 0h0m2 0h0m2 0h0m-21 1h0m2 0h0m4 0h0m8 0h0m2 0h0m5 0h0m2 0h0m-23 1h0m1 0h0m3 0h0m8 0h0m2 0h0m4 0h0m2 0h0m-26 1h0m5 0h0m4 0h0m1 0h0m1 0h0m4 0h0m4 0h0m2 0h0m1 0h0m3 0h0m4 0h0m-26 1h0m4 0h0m2 0h0m13 0h0m1 0h0m2 0h0m1 0h0m4 0h0m-31 1h0m7 0h0m13 0h0m2 0h0m2 0h0m6 0h0m-29 1h0m4 0h0m4 0h0m14 0h0m1 0h0m1 0h0m-23 1h0m1 0h0m4 0h0m2 0h0m15 0h0m1 0h0m6 0h0m-31 1h0m2 0h0m4 0h0m5 0h0m11 0h0m4 0h0m-32 1h0m7 0h0m1 0h0m3 0h0m18 0h0m-27 1h0m3 0h0m1 0h0m1 0h0m3 0h0m1 0h0m8 0h0m8 0h0m1 0h0m5 0h0m-29 1h0m2 0h0m2 0h0m1 0h0m2 0h0m1 0h0m2 0h0m12 0h0m2 0h0m1 0h0m1 0h0m-17 1h0m7 0h0m1 0h0m1 0h0m3 0h0m4 0h0m-30 1h0m6 0h0m2 0h0m3 0h0m1 0h0m5 0h0m8 0h0m4 0h0m1 0h0m-27 1h0m3 0h0m1 0h0m1 0h0m2 0h0m11 0h0m1 0h0m3 0h0m3 0h0m-27 1h0m19 0h0m3 0h0m2 0h0m1 0h0m2 0h0m-30 1h0m3 0h0m2 0h0m1 0h0m3 0h0m17 0h0m3 0h0m1 0h0m4 0h0m-29 1h0m4 0h0m13 0h0m3 0h0m1 0h0m2 0h0m1 0h0m7 0h0m3 0h0m-39 1h0m3 0h0m1 0h0m1 0h0m2 0h0m2 0h0m16 0h0m1 0h0m-22 1h0m1 0h0m1 0h0m17 0h0m1 0h0m1 0h0m-29 1h0m3 0h0m2 0h0m1 0h0m3 0h0m1 0h0m1 0h0m14 0h0m3 0h0m-20 1h0m8 0h0m8 0h0m1 0h0m2 0h0m1 0h0m1 0h0m1 0h0m3 0h0m-29 1h0m2 0h0m1 0h0m2 0h0m2 0h0m2 0h0m11 0h0m2 0h0m1 0h0m1 0h0m-25 1h0m3 0h0m4 0h0m3 0h0m8 0h0m2 0h0m2 0h0m3 0h0m-18 1h0m1 0h0m3 0h0m1 0h0m7 0h0m1 0h0m3 0h0m1 0h0m1 0h0m1 0h0m-20 1h0m1 0h0m2 0h0m7 0h0m1 0h0m4 0h0m1 0h0m1 0h0m-18 1h0m1 0h0m4 0h0m4 0h0m1 0h0m1 0h0m1 0h0m2 0h0m2 0h0m2 0h0m2 0h0m-23 1h0m3 0h0m1 0h0m1 0h0m3 0h0m1 0h0m4 0h0m1 0h0m2 0h0m1 0h0m2 0h0m1 0h0m1 0h0m-23 1h0m7 0h0m1 0h0m2 0h0m2 0h0m1 0h0m1 0h0m1 0h0m1 0h0m1 0h0m1 0h0m1 0h0m2 0h0m2 0h0m-23 1h0m5 0h0m1 0h0m8 0h0m1 0h0m1 0h0m1 0h0m-18 1h0m5 0h0m3 0h0m1 0h0m2 0h0m1 0h0m1 0h0m2 0h0m1 0h0m1 0h0m1 0h0m-22 1h0m4 0h0m2 0h0m1 0h0m1 0h0m3 0h0m1 0h0m2 0h0m1 0h0m2 0h0m3 0h0m1 0h0m1 0h0m-27 1h0m9 0h0m1 0h0m1 0h0m1 0h0m3 0h0m1 0h0m5 0h0m1 0h0m1 0h0m1 0h0m2 0h0m-11 1h0m3 0h0m2 0h0m1 0h0m1 0h0m2 1h0m-12 1h0m3 0h0m2 0h0m3 0h0m-16 1h0m2 0h0m11 0h0m-9 1h0m7 0h0m-10 1h0m7 0h0m1 1h0m8 0h0m-11 1h0m-2 2h0m4 0h0m12 0h0"/>
<path stroke="#3a92dc" d="M166 108h0m0 2h0m3 0h0m-6 1h0m8 0h0m-6 1h0m1 0h0m1 0h0m-9 1h0m3 0h0m2 0h0m3 0h0m3 0h0m-10 1h0m4 0h0m3 0h0m-3 1h0m1 0h0m3 0h0m-7 1h0m2 0h0m4 0h0m-5 1h0m4 0h0m1 0h0m1 0h0m5 0h0m-12 1h0m1 0h0m4 0h0m5 0h0m-6 1h0m2 0h0m3 0h0m-3 1h0m1 0h0m2 0h0m-2 1h0m3 0h0m-3 1h0m-5 1h0m7 0h0m-10 1h0m13 0h0m-13 1h0m9 0h0m6 0h0m-14 1h0m8 0h0m2 0h0m2 0h0m-14 1h0m1 0h0m1 0h0m10 0h0m1 0h0m-11 1h0m8 0h0m1 0h0m-10 1h0m2 0h0m9 0h0m1 1h0m-11 1h0m-2 1h0m3 0h0m7 0h0m2 0h0m-11 1h0m1 0h0m7 0h0m-6 1h0m2 1h0m2 0h0m3 0h0m1 0h0m-10 1h0m7 0h0m1 0h0m-8 1h0m1 0h0m1 0h0m6 0h0m2 0h0m-8 1h0m1 0h0m1 0h0m2 0h0m2 0h0m2 0h0m-6 1h0m2 0h0m1 0h0m1 0h0m1 0h0m3 0h0m-12 1h0m1 0h0m2 0h0m3 0h0m-6 1h0m3 0h0m3 1h0m-6 1h0m5 0h0m3 0h0m-4 1h0m2 0h0m-1 1h0m4 0h0m-8 1h0m5 0h0m-6 1h0m2 0h0m4 1h0m-5 4h0"/>
<path stroke="#3a8ad8" d="M216 88h0m-1 2h0m-3 1h0m2 0h0m3 0h0m2 0h0m-6 1h0m1 0h0m4 0h0m-11 1h0m3 0h0m4 0h0m1 0h0m1 0h0m2 0h0m-10 1h0m3 0h0m2 0h0m3 0h0m2 0h0m1 0h0m1 0h0m2 0h0m-14 1h0m3 0h0m1 0h0m1 0h0m1 0h0m3 0h0m1 0h0m4 0h0m-17 1h0m3 0h0m2 0h0m1 0h0m2 0h0m1 0h0m1 0h0m-13 1h0m5 0h0m1 0h0m1 0h0m3 0h0m1 0h0m1 0h0m2 0h0m2 0h0m6 0h0m-21 1h0m4 0h0m1 0h0m1 0h0m1 0h0m1 0h0m1 0h0m4 0h0m1 0h0m1 0h0m2 0h0m-18 1h0m2 0h0m3 0h0m1 0h0m4 0h0m1 0h0m1 0h0m1 0h0m2 0h0m2 0h0m-14 1h0m1 0h0m1 0h0m1 0h0m2 0h0m5 0h0m1 0h0m2 0h0m2 0h0m-21 1h0m1 0h0m2 0h0m2 0h0m1 0h0m6 0h0m1 0h0m4 0h0m1 0h0m3 0h0m-19 1h0m1 0h0m2 0h0m1 0h0m6 0h0m3 0h0m1 0h0m-17 1h0m1 0h0m1 0h0m3 0h0m12 0h0m-19 1h0m2 0h0m3 0h0m1 0h0m1 0h0m9 0h0m1 0h0m1 0h0m1 0h0m1 0h0m4 0h0m-24 1h0m2 0h0m1 0h0m2 0h0m2 0h0m2 0h0m8 0h0m2 0h0m1 0h0m1 0h0m-23 1h0m4 0h0m6 0h0m2 0h0m3 0h0m2 0h0m1 0h0m2 0h0m1 0h0m1 0h0m-18 1h0m1 0h0m5 0h0m4 0h0m5 0h0m-15 1h0m2 0h0m4 0h0m5 0h0m1 0h0m1 0h0m1 0h0m2 0h0m1 0h0m1 0h0m-21 1h0m1 0h0m2 0h0m1 0h0m8 0h0m3 0h0m3 0h0m1 0h0m1 0h0m-19 1h0m2 0h0m1 0h0m1 0h0m1 0h0m1 0h0m5 0h0m2 0h0m2 0h0m2 0h0m1 0h0m4 0h0m-27 1h0m4 0h0m2 0h0m1 0h0m4 0h0m6 0h0m2 0h0m1 0h0m-17 1h0m2 0h0m2 0h0m1 0h0m8 0h0m1 0h0m2 0h0m1 0h0m7 0h0m-25 1h0m3 0h0m2 0h0m1 0h0m1 0h0m6 0h0m1 0h0m1 0h0m2 0h0m2 0h0m-21 1h0m2 0h0m2 0h0m1 0h0m1 0h0m1 0h0m1 0h0m1 0h0m5 0h0m1 0h0m1 0h0m2 0h0m-18 1h0m2 0h0m2 0h0m2 0h0m2 0h0m3 0h0m1 0h0m1 0h0m2 0h0m1 0h0m-15 1h0m2 0h0m2 0h0m1 0h0m1 0h0m2 0h0m1 0h0m1 0h0m2 0h0m2 0h0m1 0h0m3 0h0m4 0h0m-23 1h0m2 0h0m3 0h0m1 0h0m1 0h0m1 0h0m1 0h0m1 0h0m1 0h0m1 0h0m1 0h0m2 0h0m1 0h0m1 0h0m2 0h0m-22 1h0m5 0h0m3 0h0m1 0h0m1 0h0m1 0h0m1 0h0m1 0h0m1 0h0m2 0h0m1 0h0m1 0h0m-16 1h0m2 0h0m2 0h0m3 0h0m2 0h0m1 0h0m1 0h0m1 0h0m1 0h0m1 0h0m3 0h0m-13 1h0m1 0h0m2 0h0m2 0h0m1 0h0m1 0h0m-8 1h0m3 0h0m2 0h0m5 0h0m2 0h0m2 0h0m-11 1h0m2 0h0m4 0h0m-12 1h0m3 0h0m4 0h0m1 0h0m5 0h0m-10 1h0m1 0h0m-5 1h0m1 0h0m4 0h0m2 0h0m-7 1h0m6 0h0m-5 1h0m0 1h0m-5 1h0"/>
<path stroke="#48bce8" d="M166 112h0m2 2h0m-3 2h0m-1 1h0m1 0h0m-2 1h0m1 0h0m2 0h0m-2 1h0m1 0h0m1 0h0m-5 1h0m4 0h0m1 0h0m1 0h0m1 0h0m-4 1h0m1 0h0m1 0h0m-3 1h0m1 0h0m1 0h0m1 0h0m1 0h0m1 0h0m-6 1h0m2 0h0m3 0h0m1 0h0m-6 1h0m1 0h0m1 0h0m1 0h0m1 0h0m1 0h0m-6 1h0m2 0h0m2 0h0m1 0h0m1 0h0m1 0h0m-8 1h0m1 0h0m1 0h0m1 0h0m1 0h0m2 0h0m1 0h0m1 0h0m1 0h0m-6 1h0m1 0h0m1 0h0m1 0h0m1 0h0m1 0h0m-8 1h0m5 0h0m1 0h0m1 0h0m1 0h0m1 0h0m-8 1h0m2 0h0m1 0h0m1 0h0m1 0h0m1 0h0m-5 1h0m1 0h0m1 0h0m1 0h0m1 0h0m1 0h0m-9 1h0m3 0h0m2 0h0m1 0h0m3 0h0m-6 1h0m2 0h0m1 0h0m1 0h0m2 0h0m1 0h0m-7 1h0m2 0h0m2 0h0m1 0h0m-5 1h0m1 0h0m1 0h0m2 0h0m1 0h0m1 0h0m-5 1h0m2 0h0m1 0h0m1 0h0m-5 1h0m2 0h0m1 0h0m1 0h0m-1 1h0m3 0h0m-5 1h0m1 0h0m2 1h0m-2 2h0"/>
<path stroke="#4cc0e0" d="M217 96h0m-4 1h0m1 0h0m-5 1h0m3 0h0m0 1h0m2 0h0m-6 1h0m3 0h0m1 0h0m1 0h0m-5 1h0m1 0h0m1 0h0m-9 1h0m3 0h0m2 0h0m1 0h0m1 0h0m1 0h0m1 0h0m1 0h0m3 0h0m-9 1h0m1 0h0m1 0h0m1 0h0m1 0h0m1 0h0m1 0h0m-9 1h0m1 0h0m2 0h0m1 0h0m1 0h0m1 0h0m1 0h0m1 0h0m1 0h0m1 0h0m1 0h0m-10 1h0m1 0h0m1 0h0m1 0h0m3 0h0m1 0h0m1 0h0m-8 1h0m1 0h0m1 0h0m1 0h0m1 0h0m2 0h0m2 0h0m1 0h0m-15 1h0m6 0h0m1 0h0m1 0h0m1 0h0m2 0h0m1 0h0m2 0h0m-11 1h0m1 0h0m2 0h0m2 0h0m1 0h0m1 0h0m1 0h0m1 0h0m1 0h0m-10 1h0m1 0h0m1 0h0m1 0h0m1 0h0m1 0h0m1 0h0m1 0h0m1 0h0m1 0h0m1 0h0m-7 1h0m1 0h0m1 0h0m1 0h0m1 0h0m1 0h0m1 0h0m1 0h0m-13 1h0m1 0h0m3 0h0m1 0h0m1 0h0m2 0h0m1 0h0m1 0h0m1 0h0m-7 1h0m1 0h0m1 0h0m1 0h0m1 0h0m1 0h0m1 0h0m-8 1h0m3 0h0m1 0h0m1 0h0m1 0h0m1 0h0m1 0h0m-9 1h0m1 0h0m1 0h0m1 0h0m1 0h0m1 0h0m3 0h0m-7 1h0m2 0h0m1 0h0m1 0h0m2 0h0m2 0h0m-10 1h0m2 0h0m1 0h0m2 0h0m-6 1h0m4 0h0m2 0h0"/>
</g>
<path d="M149.3 61.3H247V158.8H149.3" fill="none" stroke="#2e3432" stroke-width="1.2"/>
<line x1="149.3" y1="61.3" x2="149.3" y2="158.8" stroke="#9aa8a8" stroke-width="0.9" stroke-dasharray="1 1.5"/>
<line x1="147.3" y1="131.7" x2="149.3" y2="131.7" stroke="#6a7a7a" stroke-width="0.8"/>
<line x1="147.3" y1="104.6" x2="149.3" y2="104.6" stroke="#6a7a7a" stroke-width="0.8"/>
<line x1="147.3" y1="77.5" x2="149.3" y2="77.5" stroke="#6a7a7a" stroke-width="0.8"/>
<polygon points="182.3,75.3 213.5,63 245.3,63 245.3,150.8 174.2,156.5 171.9,150.8" fill="none" stroke="#4a5250" stroke-width="1"/>
<g stroke-width="1.8" stroke-linecap="square" fill="none" transform="translate(0.5 0.5)">
<path stroke="#1b2a4c" d="M358 68h0m-6 1h0m-30 1h0m-4 1h0m10 2h0m5 0h0m22 1h0m-7 1h0m-7 3h0m47 2h0m-24 1h0m9 0h0m-20 4h0m28 0h0m-49 1h0m47 1h0m-69 2h0m49 1h0m-22 5h0m15 1h0m34 0h0m-53 2h0m-12 2h0m39 0h0m-53 7h0m6 0h0m35 2h0m8 0h0m-50 1h0m17 6h0m68 5h0m-83 6h0m21 4h0m41 1h0m-53 3h0m-4 1h0m74 3h0m-50 1h0m43 0h0m1 3h0m-63 1h0m34 2h0m20 1h0m-42 5h0m34 0h0m-29 1h0m-16 1h0m69 0h0m-13 2h0m-8 1h0"/>
<path stroke="#18264a" d="M382 65h0m13 0h0m-24 3h0m7 0h0m3 0h0m7 0h0m-9 2h0m6 0h0m-19 1h0m11 0h0m2 1h0m10 0h0m2 0h0m-25 1h0m4 0h0m19 0h0m-4 1h0m5 0h0m-18 2h0m22 0h0m-10 1h0m8 0h0m-36 1h0m7 0h0m10 0h0m7 0h0m5 0h0m-1 1h0m6 0h0m2 0h0m2 0h0m1 0h0m-38 1h0m12 0h0m10 0h0m6 0h0m2 0h0m-39 1h0m13 0h0m3 0h0m8 0h0m2 0h0m1 0h0m1 0h0m3 0h0m3 0h0m10 0h0m2 0h0m-22 1h0m5 0h0m2 0h0m1 0h0m1 0h0m2 0h0m4 0h0m3 0h0m5 0h0m-36 1h0m9 0h0m8 0h0m2 0h0m1 0h0m2 0h0m4 0h0m1 0h0m1 0h0m1 0h0m1 0h0m-16 1h0m3 0h0m5 0h0m2 0h0m1 0h0m5 0h0m1 0h0m2 0h0m-21 1h0m1 0h0m4 0h0m6 0h0m4 0h0m1 0h0m3 0h0m1 0h0m-20 1h0m2 0h0m1 0h0m1 0h0m2 0h0m15 0h0m-34 1h0m6 0h0m2 0h0m1 0h0m2 0h0m3 0h0m5 0h0m7 0h0m2 0h0m1 0h0m2 0h0m1 0h0m4 0h0m-24 1h0m3 0h0m2 0h0m1 0h0m3 0h0m1 0h0m2 0h0m11 0h0m1 0h0m1 0h0m-46 1h0m20 0h0m1 0h0m1 0h0m1 0h0m1 0h0m2 0h0m1 0h0m6 0h0m4 0h0m1 0h0m2 0h0m4 0h0m-28 1h0m1 0h0m1 0h0m2 0h0m5 0h0m6 0h0m4 0h0m-22 1h0m6 0h0m3 0h0m16 0h0m2 0h0m3 0h0m1 0h0m2 0h0m-45 1h0m14 0h0m7 0h0m11 0h0m6 0h0m1 0h0m1 0h0m4 0h0m-33 1h0m7 0h0m2 0h0m2 0h0m12 0h0m6 0h0m4 0h0m-37 1h0m9 0h0m5 0h0m-11 1h0m1 0h0m1 0h0m1 0h0m1 0h0m4 0h0m3 0h0m7 0h0m9 0h0m2 0h0m1 0h0m2 0h0m-41 1h0m2 0h0m4 0h0m1 0h0m4 0h0m2 0h0m19 0h0m6 0h0m3 0h0m-47 1h0m11 0h0m4 0h0m6 0h0m18 0h0m7 0h0m3 0h0m-36 1h0m4 0h0m1 0h0m2 0h0m21 0h0m1 0h0m4 0h0m2 0h0m1 0h0m-78 1h0m47 0h0m5 0h0m16 0h0m1 0h0m3 0h0m5 0h0m-37 1h0m1 0h0m3 0h0m1 0h0m1 0h0m22 0h0m-25 1h0m7 0h0m19 0h0m4 0h0m1 0h0m-77 1h0m78 0h0m3 0h0m-48 1h0m6 0h0m1 0h0m9 0h0m23 0h0m1 0h0m1 0h0m2 0h0m1 0h0m-40 1h0m1 0h0m1 0h0m2 0h0m2 0h0m1 0h0m1 0h0m23 0h0m2 0h0m1 0h0m2 0h0m1 0h0m4 0h0m-45 1h0m16 0h0m-22 1h0m21 0h0m22 0h0m2 0h0m3 0h0m5 0h0m-78 1h0m40 0h0m3 0h0m1 0h0m8 0h0m20 0h0m5 0h0m-54 1h0m7 0h0m8 0h0m1 0h0m3 0h0m4 0h0m25 0h0m1 0h0m6 0h0m1 0h0m-6 1h0m2 0h0m4 0h0m-82 1h0m2 0h0m32 0h0m2 0h0m3 0h0m2 0h0m3 0h0m6 0h0m18 0h0m2 0h0m2 0h0m-71 1h0m2 0h0m28 0h0m11 0h0m4 0h0m22 0h0m3 0h0m1 0h0m6 0h0m2 0h0m2 0h0m-84 1h0m30 0h0m11 0h0m2 0h0m4 0h0m2 0h0m20 0h0m6 0h0m4 0h0m-78 1h0m2 0h0m40 0h0m1 0h0m4 0h0m16 0h0m-28 1h0m17 0h0m12 0h0m9 0h0m4 0h0m2 0h0m-79 1h0m2 0h0m1 0h0m24 0h0m12 0h0m1 0h0m7 0h0m19 0h0m3 0h0m5 0h0m-77 1h0m1 0h0m3 0h0m4 0h0m35 0h0m1 0h0m1 0h0m7 0h0m1 0h0m10 0h0m18 0h0m-78 1h0m3 0h0m1 0h0m30 0h0m17 0h0m15 0h0m10 0h0m5 0h0m-84 1h0m2 0h0m1 0h0m5 0h0m29 0h0m1 0h0m2 0h0m2 0h0m2 0h0m1 0h0m7 0h0m3 0h0m9 0h0m16 0h0m-78 1h0m1 0h0m2 0h0m1 0h0m7 0h0m22 0h0m2 0h0m2 0h0m7 0h0m3 0h0m2 0h0m2 0h0m7 0h0m6 0h0m3 0h0m4 0h0m1 0h0m-72 1h0m5 0h0m38 0h0m1 0h0m1 0h0m4 0h0m1 0h0m1 0h0m2 0h0m4 0h0m3 0h0m2 0h0m2 0h0m2 0h0m8 0h0m-74 1h0m3 0h0m5 0h0m26 0h0m6 0h0m1 0h0m5 0h0m1 0h0m5 0h0m3 0h0m1 0h0m3 0h0m1 0h0m1 0h0m1 0h0m4 0h0m7 0h0m-73 1h0m6 0h0m26 0h0m3 0h0m2 0h0m1 0h0m2 0h0m1 0h0m1 0h0m3 0h0m2 0h0m2 0h0m2 0h0m3 0h0m4 0h0m1 0h0m5 0h0m2 0h0m1 0h0m-69 1h0m2 0h0m1 0h0m4 0h0m21 0h0m2 0h0m2 0h0m2 0h0m3 0h0m4 0h0m2 0h0m4 0h0m5 0h0m1 0h0m2 0h0m3 0h0m5 0h0m2 0h0m1 0h0m1 0h0m1 0h0m2 0h0m-71 1h0m2 0h0m2 0h0m1 0h0m1 0h0m4 0h0m22 0h0m5 0h0m2 0h0m2 0h0m1 0h0m3 0h0m3 0h0m2 0h0m1 0h0m2 0h0m1 0h0m3 0h0m4 0h0m1 0h0m1 0h0m1 0h0m4 0h0m8 0h0m3 0h0m-78 1h0m1 0h0m6 0h0m1 0h0m24 0h0m5 0h0m1 0h0m5 0h0m2 0h0m1 0h0m3 0h0m1 0h0m4 0h0m4 0h0m3 0h0m2 0h0m-63 1h0m1 0h0m5 0h0m1 0h0m25 0h0m2 0h0m2 0h0m4 0h0m3 0h0m1 0h0m1 0h0m1 0h0m2 0h0m6 0h0m8 0h0m2 0h0m4 0h0m1 0h0m2 0h0m5 0h0m4 0h0m-80 1h0m1 0h0m5 0h0m3 0h0m11 0h0m16 0h0m1 0h0m1 0h0m4 0h0m1 0h0m2 0h0m2 0h0m2 0h0m6 0h0m2 0h0m1 0h0m4 0h0m-63 1h0m2 0h0m4 0h0m18 0h0m5 0h0m5 0h0m2 0h0m2 0h0m7 0h0m1 0h0m3 0h0m1 0h0m1 0h0m2 0h0m2 0h0m1 0h0m4 0h0m2 0h0m4 0h0m5 0h0m-71 1h0m1 0h0m7 0h0m1 0h0m1 0h0m15 0h0m1 0h0m2 0h0m4 0h0m1 0h0m2 0h0m1 0h0m3 0h0m1 0h0m1 0h0m4 0h0m4 0h0m2 0h0m2 0h0m1 0h0m1 0h0m8 0h0m10 0h0m-73 1h0m7 0h0m1 0h0m1 0h0m21 0h0m1 0h0m1 0h0m1 0h0m2 0h0m1 0h0m3 0h0m6 0h0m1 0h0m2 0h0m2 0h0m3 0h0m5 0h0m2 0h0m-33 1h0m2 0h0m4 0h0m2 0h0m1 0h0m5 0h0m4 0h0m4 0h0m7 0h0m3 0h0m4 0h0m4 0h0m5 0h0m-72 1h0m1 0h0m6 0h0m19 0h0m3 0h0m2 0h0m1 0h0m1 0h0m1 0h0m2 0h0m12 0h0m1 0h0m2 0h0m1 0h0m1 0h0m2 0h0m4 0h0m1 0h0m-59 1h0m23 0h0m2 0h0m4 0h0m1 0h0m1 0h0m1 0h0m1 0h0m6 0h0m10 0h0m3 0h0m1 0h0m5 0h0m1 0h0m2 0h0m9 0h0m-69 1h0m5 0h0m16 0h0m4 0h0m3 0h0m3 0h0m1 0h0m13 0h0m2 0h0m1 0h0m2 0h0m2 0h0m1 0h0m8 0h0m-63 1h0m7 0h0m41 0h0m4 0h0m3 0h0m1 0h0m-49 1h0m1 0h0m9 0h0m7 0h0m3 0h0m1 0h0m22 0h0m1 0h0m5 0h0m1 0h0m8 0h0m-64 1h0m19 0h0m8 0h0m13 0h0m1 0h0m2 0h0m3 0h0m6 0h0m-53 1h0m8 0h0m16 0h0m4 0h0m16 0h0m2 0h0m4 0h0m1 0h0m4 0h0m-49 1h0m18 0h0m2 0h0m19 0h0m2 0h0m2 0h0m10 0h0m-53 1h0m1 0h0m1 0h0m1 0h0m13 0h0m1 0h0m2 0h0m13 0h0m2 0h0m1 0h0m1 0h0m1 0h0m1 0h0m1 0h0m9 0h0m2 0h0m2 0h0m-55 1h0m6 0h0m10 0h0m3 0h0m1 0h0m3 0h0m14 0h0m2 0h0m-35 1h0m13 0h0m2 0h0m1 0h0m1 0h0m2 0h0m15 0h0m2 0h0m2 0h0m5 0h0m-44 1h0m4 0h0m4 0h0m3 0h0m4 0h0m6 0h0m8 0h0m7 0h0m4 0h0m1 0h0m-47 1h0m1 0h0m4 0h0m1 0h0m1 0h0m5 0h0m3 0h0m2 0h0m3 0h0m2 0h0m2 0h0m13 0h0m1 0h0m1 0h0m1 0h0m1 0h0m2 0h0m-29 1h0m4 0h0m2 0h0m1 0h0m2 0h0m1 0h0m9 0h0m5 0h0m1 0h0m3 0h0m2 0h0m-42 1h0m14 0h0m4 0h0m1 0h0m3 0h0m11 0h0m2 0h0m1 0h0m1 0h0m3 0h0m-42 1h0m6 0h0m15 0h0m1 0h0m6 0h0m6 0h0m3 0h0m1 0h0m1 0h0m-39 1h0m2 0h0m20 0h0m4 0h0m1 0h0m5 0h0m3 0h0m1 0h0m1 0h0m1 0h0m4 0h0m-42 1h0m10 0h0m3 0h0m6 0h0m3 0h0m1 0h0m1 0h0m2 0h0m1 0h0m4 0h0m1 0h0m4 0h0m2 0h0m7 0h0m-45 1h0m2 0h0m2 0h0m14 0h0m3 0h0m1 0h0m1 0h0m4 0h0m6 0h0m3 0h0m-36 1h0m9 0h0m7 0h0m1 0h0m4 0h0m4 0h0m1 0h0m8 0h0m1 0h0m2 0h0m-37 1h0m6 0h0m8 0h0m2 0h0m5 0h0m2 0h0m4 0h0m12 0h0m-38 1h0m2 0h0m1 0h0m1 0h0m8 0h0m4 0h0m5 0h0m3 0h0m5 0h0m3 0h0m-33 1h0m4 0h0m2 0h0m6 0h0m3 0h0m1 0h0m3 0h0m11 0h0m-27 1h0m3 0h0m12 0h0m1 0h0m7 0h0m6 0h0m-27 1h0m1 0h0m15 0h0m2 0h0m2 0h0m1 0h0m3 0h0m5 0h0m-34 1h0m1 0h0m7 0h0m21 0h0m-28 1h0m1 0h0m5 0h0m11 0h0m12 0h0m-28 1h0m2 0h0m2 0h0m6 0h0m4 0h0m7 0h0m8 1h0"/>
<path stroke="#2456b0" d="M313 110h0m1 6h0m0 1h0m-5 3h0m2 2h0m1 1h0m-2 1h0m1 0h0m1 0h0m1 0h0m1 0h0m-5 1h0m1 0h0m3 0h0m1 0h0m-3 1h0m-2 1h0m1 0h0m2 0h0m1 0h0m2 0h0m-7 1h0m1 0h0m1 0h0m2 0h0m2 0h0m1 0h0m-7 1h0m1 0h0m4 0h0m-4 1h0m4 0h0m-4 1h0m1 0h0m3 0h0m-4 1h0m3 0h0m-3 1h0m5 0h0m-6 1h0m6 0h0m1 0h0m-2 1h0m-6 1h0m1 0h0m4 0h0m2 0h0m-6 1h0m4 1h0m-5 1h0m5 0h0m1 0h0m-5 1h0m5 0h0m-5 1h0m4 0h0m1 0h0m-5 1h0m1 0h0m3 0h0m-4 2h0m1 0h0m2 0h0m1 0h0m-4 1h0m1 0h0m1 0h0m1 0h0m-4 1h0m1 0h0m1 0h0m1 0h0m1 0h0m-2 1h0m1 0h0m1 0h0m-2 2h0m1 0h0m1 0h0m-1 1h0m1 0h0m-1 1h0m-2 1h0m2 0h0m-3 2h0m4 0h0m-4 4h0m2 0h0"/>
<path stroke="#1f48a0" d="M380 82h0m1 0h0m0 1h0m3 1h0m1 0h0m-4 1h0m-2 1h0m-3 2h0m3 0h0m3 0h0m2 0h0m3 1h0m4 0h0m-13 1h0m2 0h0m5 0h0m5 0h0m-17 1h0m3 0h0m4 0h0m1 0h0m1 0h0m2 0h0m-12 1h0m1 0h0m3 0h0m2 0h0m2 0h0m4 0h0m7 0h0m-22 1h0m4 0h0m2 0h0m3 0h0m5 0h0m5 0h0m-26 1h0m3 0h0m6 0h0m3 0h0m5 0h0m1 0h0m3 0h0m2 0h0m5 0h0m-21 1h0m2 0h0m1 0h0m3 0h0m1 0h0m3 0h0m2 0h0m1 0h0m3 0h0m2 0h0m-19 1h0m2 0h0m1 0h0m2 0h0m3 0h0m1 0h0m1 0h0m2 0h0m4 0h0m3 0h0m-24 1h0m1 0h0m3 0h0m3 0h0m2 0h0m4 0h0m3 0h0m2 0h0m2 0h0m1 0h0m1 0h0m-21 1h0m6 0h0m1 0h0m1 0h0m4 0h0m2 0h0m8 0h0m-21 1h0m2 0h0m1 0h0m2 0h0m2 0h0m9 0h0m1 0h0m3 0h0m2 0h0m-24 1h0m1 0h0m1 0h0m1 0h0m2 0h0m1 0h0m2 0h0m8 0h0m2 0h0m1 0h0m1 0h0m-22 1h0m5 0h0m1 0h0m1 0h0m12 0h0m1 0h0m1 0h0m1 0h0m1 0h0m1 0h0m2 0h0m2 0h0m-28 1h0m1 0h0m2 0h0m1 0h0m3 0h0m10 0h0m1 0h0m1 0h0m1 0h0m1 0h0m1 0h0m1 0h0m-19 1h0m1 0h0m4 0h0m9 0h0m1 0h0m1 0h0m1 0h0m1 0h0m4 0h0m-28 1h0m4 0h0m2 0h0m14 0h0m1 0h0m1 0h0m3 0h0m-23 1h0m1 0h0m2 0h0m1 0h0m16 0h0m1 0h0m2 0h0m-24 1h0m2 0h0m17 0h0m2 0h0m1 0h0m-24 1h0m4 0h0m1 0h0m1 0h0m14 0h0m2 0h0m1 0h0m1 0h0m6 0h0m-29 1h0m4 0h0m1 0h0m1 0h0m13 0h0m1 0h0m6 0h0m-24 1h0m1 0h0m1 0h0m15 0h0m-21 1h0m2 0h0m1 0h0m1 0h0m4 0h0m1 0h0m9 0h0m3 0h0m1 0h0m-21 1h0m1 0h0m4 0h0m2 0h0m2 0h0m6 0h0m1 0h0m2 0h0m3 0h0m4 0h0m4 0h0m-31 1h0m7 0h0m1 0h0m1 0h0m9 0h0m1 0h0m4 0h0m1 0h0m-18 1h0m2 0h0m1 0h0m3 0h0m4 0h0m3 0h0m2 0h0m5 0h0m-27 1h0m1 0h0m2 0h0m2 0h0m2 0h0m1 0h0m2 0h0m2 0h0m1 0h0m3 0h0m2 0h0m8 0h0m-23 1h0m2 0h0m1 0h0m1 0h0m4 0h0m6 0h0m4 0h0m2 0h0m1 0h0m-23 1h0m4 0h0m1 0h0m1 0h0m5 0h0m1 0h0m2 0h0m1 0h0m1 0h0m1 0h0m2 0h0m4 0h0m1 0h0m-23 1h0m4 0h0m1 0h0m2 0h0m1 0h0m1 0h0m4 0h0m1 0h0m1 0h0m4 0h0m1 0h0m1 0h0m-21 1h0m4 0h0m1 0h0m3 0h0m2 0h0m1 0h0m1 0h0m2 0h0m-12 1h0m2 0h0m6 0h0m1 0h0m2 0h0m-13 1h0m2 0h0m3 0h0m4 0h0m1 0h0m1 0h0m4 0h0m-11 1h0m6 0h0m-13 1h0m1 0h0m2 0h0m6 0h0m-11 1h0m6 0h0m2 0h0m9 0h0m-16 2h0m12 0h0m-16 2h0m3 0h0m-2 1h0m2 0h0m4 0h0m14 0h0m-29 1h0m8 0h0m2 0h0m1 0h0m1 0h0m9 0h0m-18 1h0m3 0h0m1 0h0m1 0h0m1 0h0m1 0h0m2 0h0m1 0h0m-9 1h0m4 0h0m1 0h0m2 0h0m5 0h0m-14 1h0m1 0h0m3 0h0m1 0h0m1 0h0m2 0h0m1 0h0m-15 1h0m6 0h0m1 0h0m1 0h0m4 0h0m1 0h0m1 0h0m4 0h0m-12 1h0m2 0h0m5 0h0m1 0h0m2 0h0m1 0h0m-21 1h0m4 0h0m2 0h0m3 0h0m1 0h0m5 0h0m1 0h0m2 0h0m-16 1h0m2 0h0m1 0h0m1 0h0m11 0h0m1 0h0m1 0h0m-17 1h0m3 0h0m11 0h0m3 0h0m-17 1h0m2 0h0m1 0h0m9 0h0m5 0h0m1 0h0m-20 1h0m2 0h0m1 0h0m1 0h0m1 0h0m12 0h0m-15 1h0m1 0h0m1 0h0m10 0h0m1 0h0m-16 1h0m1 0h0m1 0h0m2 0h0m8 0h0m2 0h0m1 0h0m2 0h0m-20 1h0m4 0h0m2 0h0m9 0h0m2 0h0m1 0h0m1 0h0m-15 1h0m1 0h0m1 0h0m2 0h0m2 0h0m1 0h0m1 0h0m3 0h0m1 0h0m-12 1h0m1 0h0m2 0h0m2 0h0m1 0h0m1 0h0m1 0h0m2 0h0m1 0h0m2 0h0m-17 1h0m4 0h0m3 0h0m1 0h0m3 0h0m1 0h0m1 0h0m1 0h0m-14 1h0m4 0h0m1 0h0m3 0h0m2 0h0m5 0h0m-14 1h0m1 0h0m4 0h0m1 0h0m1 0h0m1 0h0m2 0h0m1 0h0m1 0h0m-10 1h0m1 0h0m1 0h0m4 0h0m2 0h0m-10 1h0m2 0h0m1 0h0m2 0h0m-5 1h0m4 0h0m2 0h0m4 0h0m1 0h0m-9 1h0m7 0h0"/>
<path stroke="#3a8ee0" d="M312 124h0m-2 2h0m1 0h0m-1 1h0m1 0h0m-1 1h0m1 0h0m1 0h0m1 0h0m-2 1h0m1 0h0m1 0h0m-3 1h0m1 0h0m1 0h0m-2 1h0m-1 1h0m1 0h0m1 0h0m1 0h0m-3 1h0m1 0h0m1 0h0m-2 1h0m1 0h0m2 0h0m1 0h0m-4 1h0m2 0h0m1 0h0m-3 1h0m1 0h0m1 0h0m1 0h0m1 0h0m-5 1h0m1 0h0m1 0h0m2 0h0m-3 1h0m1 0h0m1 0h0m-2 1h0m2 0h0m1 0h0m-4 1h0m1 0h0m1 0h0m1 0h0m1 0h0m-3 1h0m1 0h0m1 0h0m-3 1h0m1 0h0m1 0h0m1 0h0m-1 1h0m1 0h0m-2 1h0m1 0h0m-1 1h0m1 0h0m1 0h0m-3 1h0m2 0h0m0 1h0m1 0h0m-2 2h0m1 0h0"/>
<path stroke="#2f6fd0" d="M376 95h0m0 1h0m3 0h0m-9 1h0m2 0h0m2 0h0m2 0h0m3 0h0m1 0h0m-6 1h0m1 0h0m1 0h0m2 0h0m1 0h0m-6 1h0m6 0h0m-7 1h0m1 0h0m1 0h0m1 0h0m1 0h0m2 0h0m1 0h0m-6 1h0m1 0h0m1 0h0m1 0h0m2 0h0m1 0h0m1 0h0m1 0h0m-11 1h0m3 0h0m2 0h0m2 0h0m1 0h0m1 0h0m1 0h0m-11 1h0m2 0h0m1 0h0m1 0h0m1 0h0m1 0h0m1 0h0m1 0h0m1 0h0m1 0h0m-12 1h0m3 0h0m1 0h0m1 0h0m2 0h0m1 0h0m1 0h0m1 0h0m1 0h0m2 0h0m-12 1h0m1 0h0m1 0h0m1 0h0m1 0h0m1 0h0m1 0h0m1 0h0m2 0h0m1 0h0m2 0h0m-12 1h0m1 0h0m1 0h0m1 0h0m2 0h0m2 0h0m1 0h0m1 0h0m1 0h0m-12 1h0m2 0h0m1 0h0m2 0h0m2 0h0m1 0h0m1 0h0m1 0h0m2 0h0m-12 1h0m1 0h0m1 0h0m1 0h0m1 0h0m1 0h0m1 0h0m2 0h0m2 0h0m-13 1h0m4 0h0m1 0h0m1 0h0m2 0h0m2 0h0m2 0h0m1 0h0m-11 1h0m2 0h0m2 0h0m1 0h0m1 0h0m3 0h0m-8 1h0m1 0h0m1 0h0m1 0h0m1 0h0m1 0h0m2 0h0m2 0h0m-4 1h0m-4 1h0m2 0h0m5 0h0m-11 1h0m6 0h0m-3 1h0m-1 1h0m-16 16h0m1 0h0m-5 2h0m2 0h0m-5 1h0m3 0h0m3 0h0m-8 1h0m4 0h0m2 0h0m1 0h0m1 0h0m1 0h0m-9 1h0m2 0h0m1 0h0m1 0h0m1 0h0m1 0h0m5 0h0m-13 1h0m2 0h0m1 0h0m2 0h0m3 0h0m1 0h0m-9 1h0m1 0h0m1 0h0m2 0h0m1 0h0m-5 1h0m1 0h0m1 0h0m1 0h0m1 0h0m1 0h0m-4 1h0m1 0h0m2 0h0m-6 1h0m1 0h0m1 0h0m1 0h0m2 0h0m2 0h0m-7 1h0m1 0h0m1 0h0m-1 1h0m2 0h0"/>
</g>
<path d="M298.5 62.5H397.8V161.6H298.5" fill="none" stroke="#2e3432" stroke-width="1.2"/>
<line x1="298.5" y1="62.5" x2="298.5" y2="161.6" stroke="#9aa8a8" stroke-width="0.9" stroke-dasharray="1 1.5"/>
<line x1="296.5" y1="134.1" x2="298.5" y2="134.1" stroke="#6a7a7a" stroke-width="0.8"/>
<line x1="296.5" y1="106.5" x2="298.5" y2="106.5" stroke="#6a7a7a" stroke-width="0.8"/>
<line x1="296.5" y1="79.0" x2="298.5" y2="79.0" stroke="#6a7a7a" stroke-width="0.8"/>
<polygon points="332.7,76.9 366.2,64.2 396.6,64.2 396.6,154.2 323.5,158.8 322.3,154.2" fill="none" stroke="#4a5250" stroke-width="1"/>
<g stroke-width="1.8" stroke-linecap="square" fill="none" transform="translate(0.5 0.5)">
<path stroke="#1b2a4c" d="M491 67h0m5 2h0m-54 2h0m11 0h0m34 1h0m12 0h0m-42 1h0m2 2h0m11 0h0m-36 1h0m15 0h0m-3 2h0m16 0h0m6 0h0m12 0h0m-3 1h0m-18 1h0m4 0h0m28 0h0m8 0h0m-3 1h0m7 0h0m-61 1h0m9 0h0m4 0h0m42 0h0m5 0h0m-46 1h0m37 0h0m5 0h0m2 0h0m-55 1h0m6 0h0m5 0h0m31 0h0m4 0h0m2 0h0m5 0h0m-68 1h0m14 0h0m37 0h0m3 0h0m3 0h0m3 0h0m-46 1h0m3 0h0m12 0h0m5 0h0m35 0h0m-48 1h0m8 0h0m24 0h0m2 0h0m2 0h0m17 0h0m1 0h0m-38 1h0m13 0h0m6 0h0m8 0h0m5 0h0m-75 1h0m17 0h0m5 0h0m16 0h0m1 0h0m5 0h0m21 0h0m2 0h0m3 0h0m1 0h0m6 0h0m-55 1h0m9 0h0m15 0h0m8 0h0m7 0h0m2 0h0m1 0h0m1 0h0m1 0h0m3 0h0m2 0h0m-42 1h0m1 0h0m20 0h0m3 0h0m6 0h0m9 0h0m3 0h0m-69 1h0m10 0h0m12 0h0m7 0h0m31 0h0m5 0h0m2 0h0m3 0h0m3 0h0m-56 1h0m3 0h0m1 0h0m9 0h0m5 0h0m17 0h0m1 0h0m2 0h0m8 0h0m1 0h0m1 0h0m1 0h0m2 0h0m-64 1h0m5 0h0m11 0h0m1 0h0m3 0h0m5 0h0m21 0h0m2 0h0m4 0h0m13 0h0m2 0h0m1 0h0m1 0h0m-57 1h0m1 0h0m11 0h0m15 0h0m4 0h0m14 0h0m2 0h0m-72 1h0m32 0h0m2 0h0m1 0h0m9 0h0m11 0h0m4 0h0m2 0h0m10 0h0m9 0h0m3 0h0m-58 1h0m5 0h0m2 0h0m6 0h0m1 0h0m20 0h0m2 0h0m9 0h0m-65 1h0m19 0h0m11 0h0m2 0h0m16 0h0m8 0h0m3 0h0m6 0h0m7 0h0m-67 1h0m13 0h0m7 0h0m2 0h0m3 0h0m1 0h0m1 0h0m11 0h0m7 0h0m2 0h0m4 0h0m13 0h0m2 0h0m7 0h0m-79 1h0m13 0h0m8 0h0m19 0h0m1 0h0m10 0h0m10 0h0m16 0h0m2 0h0m-72 1h0m13 0h0m6 0h0m15 0h0m5 0h0m6 0h0m1 0h0m6 0h0m3 0h0m6 0h0m1 0h0m4 0h0m3 0h0m1 0h0m-56 1h0m1 0h0m14 0h0m5 0h0m8 0h0m19 0h0m1 0h0m4 0h0m-59 1h0m13 0h0m1 0h0m6 0h0m1 0h0m4 0h0m4 0h0m2 0h0m5 0h0m5 0h0m4 0h0m3 0h0m5 0h0m-50 1h0m18 0h0m1 0h0m2 0h0m14 0h0m14 0h0m1 0h0m4 0h0m-49 1h0m4 0h0m14 0h0m2 0h0m1 0h0m2 0h0m26 0h0m1 0h0m3 0h0m-58 1h0m1 0h0m2 0h0m2 0h0m6 0h0m3 0h0m5 0h0m6 0h0m2 0h0m16 0h0m7 0h0m5 0h0m-61 1h0m4 0h0m6 0h0m4 0h0m2 0h0m6 0h0m6 0h0m1 0h0m4 0h0m25 0h0m-48 1h0m8 0h0m5 0h0m7 0h0m5 0h0m20 0h0m1 0h0m-54 1h0m11 0h0m7 0h0m32 0h0m1 0h0m6 0h0m4 0h0m-67 1h0m28 0h0m1 0h0m33 0h0m-64 1h0m9 0h0m4 0h0m12 0h0m2 0h0m8 0h0m1 0h0m1 0h0m24 0h0m2 0h0m-66 1h0m12 0h0m1 0h0m11 0h0m15 0h0m24 0h0m2 0h0m-65 1h0m12 0h0m9 0h0m2 0h0m13 0h0m3 0h0m22 0h0m6 0h0m-67 1h0m1 0h0m33 0h0m43 0h0m-80 1h0m4 0h0m4 0h0m3 0h0m14 0h0m4 0h0m6 0h0m5 0h0m1 0h0m2 0h0m20 0h0m3 0h0m2 0h0m-65 1h0m5 0h0m28 0h0m4 0h0m22 0h0m4 0h0m2 0h0m-67 1h0m3 0h0m21 0h0m2 0h0m15 0h0m22 0h0m1 0h0m-66 1h0m1 0h0m6 0h0m18 0h0m9 0h0m3 0h0m3 0h0m14 0h0m4 0h0m5 0h0m-62 1h0m1 0h0m5 0h0m29 0h0m26 0h0m1 0h0m5 0h0m-69 1h0m1 0h0m4 0h0m5 0h0m3 0h0m15 0h0m-23 1h0m2 0h0m1 0h0m2 0h0m31 0h0m18 0h0m3 0h0m1 0h0m3 0h0m1 0h0m-66 1h0m2 0h0m5 0h0m15 0h0m16 0h0m23 0h0m-61 1h0m9 0h0m10 0h0m17 0h0m1 0h0m2 0h0m20 0h0m2 0h0m-62 1h0m1 0h0m1 0h0m6 0h0m19 0h0m9 0h0m2 0h0m2 0h0m16 0h0m6 0h0m-53 1h0m20 0h0m2 0h0m2 0h0m28 0h0m2 0h0m5 0h0m-59 1h0m1 0h0m2 0h0m22 0h0m-34 1h0m1 0h0m1 0h0m30 0h0m3 0h0m1 0h0m-28 1h0m26 0h0m8 0h0m11 0h0m3 0h0m-55 1h0m10 0h0m26 0h0m14 0h0m-50 1h0m9 0h0m2 0h0m22 0h0m1 0h0m15 0h0m8 0h0m-47 1h0m3 0h0m18 0h0m2 0h0m6 0h0m9 0h0m2 0h0m1 0h0m1 0h0m2 0h0m-25 1h0m1 0h0m1 0h0m11 0h0m11 0h0m-54 1h0m1 0h0m9 0h0m3 0h0m17 0h0m4 0h0m1 0h0m1 0h0m12 0h0m3 0h0m6 0h0m-25 1h0m5 0h0m1 0h0m10 0h0m3 0h0m6 0h0m21 0h0m-78 1h0m12 0h0m14 0h0m1 0h0m3 0h0m2 0h0m4 0h0m4 0h0m1 0h0m6 0h0m5 0h0m-52 1h0m1 0h0m9 0h0m1 0h0m13 0h0m3 0h0m1 0h0m3 0h0m2 0h0m4 0h0m2 0h0m10 0h0m2 0h0m1 0h0m2 0h0m-54 1h0m1 0h0m1 0h0m12 0h0m9 0h0m4 0h0m2 0h0m1 0h0m7 0h0m-36 1h0m15 0h0m7 0h0m6 0h0m1 0h0m3 0h0m1 0h0m9 0h0m2 0h0m18 0h0m-63 1h0m8 0h0m10 0h0m2 0h0m2 0h0m2 0h0m1 0h0m8 0h0m5 0h0m3 0h0m2 0h0m4 0h0m-39 1h0m3 0h0m5 0h0m4 0h0m1 0h0m3 0h0m5 0h0m1 0h0m6 0h0m1 0h0m1 0h0m1 0h0m2 0h0m1 0h0m1 0h0m3 0h0m2 0h0m-31 1h0m2 0h0m15 0h0m3 0h0m1 0h0m1 0h0m7 0h0m-37 1h0m3 0h0m4 0h0m12 0h0m2 0h0m5 0h0m1 0h0m9 0h0m2 0h0m-45 1h0m5 0h0m1 0h0m1 0h0m4 0h0m2 0h0m9 0h0m9 0h0m1 0h0m3 0h0m1 0h0m1 0h0m2 0h0m-33 1h0m1 0h0m19 0h0m2 0h0m2 0h0m-32 1h0m4 0h0m9 0h0m7 0h0m9 0h0m5 0h0m2 0h0m3 0h0m-38 1h0m3 0h0m1 0h0m1 0h0m2 0h0m2 0h0m1 0h0m11 0h0m4 0h0m3 0h0m2 0h0m2 0h0m4 0h0m4 0h0m4 0h0m25 0h0m-69 1h0m1 0h0m29 0h0m1 0h0m1 0h0m1 0h0m-34 1h0m1 0h0m4 0h0m15 0h0m6 0h0m13 0h0m-39 1h0m3 0h0m2 0h0m17 0h0m2 0h0m1 0h0m47 0h0m-70 1h0m3 0h0m4 0h0m12 0h0m1 0h0m2 0h0m5 0h0m2 0h0m5 0h0m1 0h0m5 0h0m-41 1h0m1 0h0m6 0h0m10 0h0m7 0h0m3 0h0m-28 1h0m1 0h0m1 0h0m1 0h0m2 0h0m2 0h0m9 0h0m3 0h0m4 0h0m8 0h0m4 0h0m13 0h0m-50 1h0m3 0h0m5 0h0m3 0h0m12 0h0m15 0h0m-34 1h0m2 0h0m3 0h0m6 0h0m57 0h0m-69 1h0m1 0h0m1 0h0m1 0h0m1 0h0m1 0h0m3 0h0m1 0h0m1 0h0m1 0h0m3 0h0m-15 1h0m1 0h0m2 0h0m1 0h0m4 0h0m2 0h0m32 0h0m-42 1h0m1 0h0m8 0h0m-13 1h0m4 0h0m1 0h0m1 0h0m1 0h0m1 0h0m1 0h0m18 0h0"/>
<path stroke="#2458a8" d="M493 87h0m2 0h0m-2 4h0m-2 1h0m-1 2h0m1 0h0m-11 2h0m2 0h0m1 0h0m5 0h0m-16 1h0m7 0h0m1 0h0m1 0h0m2 0h0m1 0h0m1 0h0m1 0h0m1 0h0m7 0h0m-12 1h0m3 0h0m4 0h0m4 0h0m-8 1h0m1 0h0m1 0h0m1 0h0m1 0h0m-15 1h0m2 0h0m1 0h0m3 0h0m1 0h0m2 0h0m3 0h0m1 0h0m4 0h0m-13 1h0m4 0h0m1 0h0m5 0h0m1 0h0m1 0h0m1 0h0m-17 1h0m5 0h0m1 0h0m4 0h0m-8 1h0m3 0h0m5 0h0m3 0h0m-20 1h0m10 0h0m1 0h0m1 0h0m4 0h0m4 0h0m-18 1h0m2 0h0m2 0h0m3 0h0m7 0h0m3 0h0m4 0h0m2 0h0m-22 1h0m2 0h0m2 0h0m8 0h0m-14 1h0m6 0h0m1 0h0m-5 1h0m10 0h0m4 0h0m1 0h0m-14 1h0m12 0h0m2 0h0m-15 1h0m1 0h0m12 0h0m1 0h0m-20 1h0m1 0h0m3 0h0m13 0h0m5 0h0m-18 1h0m15 0h0m1 0h0m-18 1h0m13 0h0m5 0h0m3 0h0m-6 1h0m1 0h0m2 0h0m-22 1h0m-2 1h0m2 0h0m3 0h0m17 0h0m3 0h0m-24 1h0m1 0h0m1 0h0m1 0h0m-3 1h0m1 0h0m2 0h0m15 0h0m-20 1h0m3 0h0m-5 1h0m3 0h0m1 0h0m2 0h0m15 1h0m2 0h0m-23 1h0m2 0h0m15 0h0m-15 1h0m16 0h0m-18 1h0m2 0h0m15 0h0m1 0h0m3 0h0m-26 1h0m3 0h0m1 0h0m4 0h0m11 0h0m2 0h0m-20 1h0m4 0h0m20 0h0m-24 1h0m2 0h0m4 0h0m17 0h0m-8 1h0m1 0h0m-17 1h0m1 0h0m2 0h0m1 0h0m1 0h0m6 0h0m3 0h0m-9 1h0m3 0h0m11 0h0m-16 1h0m1 0h0m2 0h0m3 0h0m2 0h0m5 0h0m2 0h0m-19 1h0m6 0h0m5 0h0m2 0h0m1 0h0m1 0h0m3 0h0m-18 1h0m4 0h0m1 0h0m3 0h0m3 0h0m1 0h0m-3 1h0m2 0h0m1 0h0m2 0h0m2 0h0m-14 1h0m5 0h0m3 0h0m3 0h0m4 0h0m-18 1h0m5 0h0m5 0h0m7 0h0m-14 1h0m2 0h0m2 1h0m1 0h0m1 0h0m-9 1h0m2 0h0m3 0h0m-3 1h0m1 0h0m-1 1h0m5 2h0m-11 5h0"/>
<path stroke="#2866b8" d="M424 117h0m-3 1h0m1 0h0m-3 1h0m5 1h0m1 0h0m-4 1h0m2 0h0m-1 1h0m3 0h0m-5 1h0m1 0h0m2 0h0m1 0h0m-5 1h0m4 1h0m1 0h0m1 0h0m1 0h0m-7 1h0m2 0h0m6 0h0m-7 1h0m-1 1h0m1 1h0m-1 1h0m0 1h0m-1 1h0m1 0h0m9 0h0m-10 1h0m9 0h0m-8 1h0m6 0h0m2 0h0m-7 1h0m5 0h0m26 0h0m-32 1h0m7 0h0m28 0h0m-34 1h0m6 0h0m1 0h0m20 0h0m5 0h0m-6 1h0m3 0h0m2 0h0m5 0h0m-36 1h0m24 0h0m1 0h0m5 0h0m8 0h0m-40 1h0m1 0h0m23 0h0m10 0h0m-34 1h0m6 0h0m9 0h0m1 0h0m4 0h0m1 0h0m2 0h0m8 0h0m3 0h0m-34 1h0m7 0h0m22 0h0m1 0h0m2 0h0m-32 1h0m7 0h0m7 0h0m-13 1h0m7 0h0m5 0h0m2 0h0m15 0h0m3 0h0m-27 1h0m8 0h0m21 0h0m-35 1h0m5 0h0m22 0h0m1 0h0m-28 1h0m3 0h0m1 0h0m6 0h0m-9 1h0m5 0h0m-3 1h0m1 0h0m2 0h0m1 0h0m-6 1h0m3 0h0m1 0h0m1 0h0m14 0h0m-12 1h0m8 0h0m-10 1h0m3 0h0m5 0h0m2 0h0m-17 1h0m9 1h0m-10 1h0"/>
<path stroke="#3cb0e8" d="M424 121h0m-1 1h0m-1 1h0m1 0h0m-3 1h0m2 1h0m2 0h0m-2 1h0m-2 1h0m1 0h0m1 0h0m2 0h0m-4 1h0m2 0h0m1 0h0m1 1h0m-5 1h0m3 0h0m2 0h0m1 0h0m-6 1h0m1 0h0m4 0h0m1 1h0m0 1h0m1 1h0m-8 1h0m1 0h0m0 1h0m5 0h0m2 0h0m-8 1h0m7 0h0m-6 1h0m0 1h0m28 0h0m2 0h0m-30 1h0m7 0h0m13 0h0m3 0h0m1 0h0m1 0h0m2 0h0m4 0h0m1 0h0m-32 1h0m2 0h0m3 0h0m1 0h0m15 0h0m1 0h0m1 0h0m2 0h0m1 0h0m6 0h0m-32 1h0m2 0h0m3 0h0m11 0h0m2 0h0m8 0h0m1 0h0m2 0h0m1 0h0m-30 1h0m2 0h0m1 0h0m1 0h0m1 0h0m20 0h0m3 0h0m-28 1h0m2 0h0m1 0h0m2 0h0m8 0h0m2 0h0m10 0h0m1 0h0m2 0h0m-27 1h0m1 0h0m10 0h0m2 0h0m1 0h0m11 0h0m-24 1h0m2 0h0m5 0h0m13 0h0m-21 1h0m1 0h0m19 0h0m-21 1h0m2 0h0m1 0h0m4 0h0m1 0h0m11 0h0m-15 1h0m7 0h0m7 0h0m2 0h0m-20 1h0m3 0h0m4 0h0m2 0h0m1 0h0m2 0h0m1 0h0m4 0h0m-13 1h0m1 0h0m3 0h0m3 0h0m2 0h0m-14 1h0m5 0h0m3 1h0"/>
<path stroke="#3a8ad8" d="M490 95h0m3 2h0m-13 1h0m4 0h0m3 1h0m-10 2h0m4 0h0m4 0h0m-8 1h0m1 0h0m1 0h0m1 0h0m2 0h0m1 0h0m6 0h0m-10 1h0m4 0h0m2 0h0m-11 1h0m1 0h0m4 0h0m1 0h0m4 0h0m-6 1h0m1 0h0m2 0h0m1 0h0m2 0h0m1 0h0m-15 1h0m2 0h0m4 0h0m2 0h0m1 0h0m1 0h0m1 0h0m1 0h0m1 0h0m4 0h0m-13 1h0m3 0h0m1 0h0m2 0h0m1 0h0m3 0h0m-11 1h0m1 0h0m1 0h0m1 0h0m3 0h0m1 0h0m1 0h0m1 0h0m1 0h0m2 0h0m-12 1h0m2 0h0m2 0h0m1 0h0m2 0h0m1 0h0m-14 1h0m1 0h0m4 0h0m1 0h0m5 0h0m2 0h0m2 0h0m-13 1h0m3 0h0m1 0h0m5 0h0m2 0h0m7 0h0m-21 1h0m14 0h0m1 0h0m1 0h0m2 0h0m-16 1h0m4 0h0m7 0h0m1 0h0m1 0h0m-11 1h0m8 0h0m1 0h0m1 0h0m-15 1h0m2 0h0m12 0h0m1 0h0m2 0h0m1 0h0m-19 1h0m3 0h0m8 0h0m2 0h0m3 0h0m2 0h0m-19 1h0m3 0h0m9 0h0m3 0h0m2 0h0m-15 1h0m1 0h0m10 0h0m3 0h0m-16 1h0m1 0h0m1 0h0m1 0h0m9 0h0m2 0h0m-15 1h0m12 0h0m1 0h0m2 0h0m-15 1h0m1 0h0m1 0h0m8 0h0m1 0h0m1 0h0m1 0h0m1 0h0m-17 1h0m2 0h0m1 0h0m2 0h0m1 0h0m5 0h0m1 0h0m2 0h0m-12 1h0m2 0h0m1 0h0m3 0h0m2 0h0m2 0h0m1 0h0m1 0h0m1 0h0m-12 1h0m3 0h0m3 0h0m1 0h0m3 0h0m1 0h0m-15 1h0m1 0h0m5 0h0m1 0h0m2 0h0m2 0h0m1 0h0m-12 1h0m6 0h0m1 0h0m7 0h0m-17 1h0m2 0h0m1 0h0m1 0h0m1 0h0m1 0h0m1 0h0m3 0h0m1 0h0m1 0h0m2 0h0m-11 1h0m1 0h0m1 0h0m2 0h0m4 0h0m4 0h0m-14 1h0m1 0h0m3 0h0m2 0h0m1 0h0m2 0h0m4 1h0m-11 1h0m2 0h0m3 0h0m3 0h0m-10 1h0m3 0h0m3 0h0m1 0h0m1 0h0m-4 1h0m1 0h0m-6 2h0m0 2h0m-7 2h0"/>
<path stroke="#3cc8a0" d="M423 118h0m-2 6h0m0 2h0m1 1h0m1 1h0m2 0h0m-3 1h0m-2 1h0m1 1h0m2 0h0m-4 1h0m2 0h0m3 1h0m-5 1h0m5 0h0m-6 1h0m1 1h0m1 0h0m4 0h0m-6 1h0m6 0h0m-6 1h0m0 1h0m5 0h0m24 0h0m-27 1h0m3 0h0m22 0h0m-4 1h0m4 0h0m-26 1h0m2 0h0m17 0h0m1 0h0m2 0h0m1 0h0m-22 1h0m1 0h0m1 0h0m15 0h0m7 0h0m4 0h0m-28 1h0m1 0h0m1 0h0m20 0h0m3 0h0m-26 1h0m1 0h0m2 0h0m11 0h0m8 0h0m0 1h0m-11 1h0m8 0h0m1 0h0m1 0h0m-19 1h0m10 0h0m0 1h0m4 0h0m1 0h0m-5 1h0"/>
<path stroke="#3fd84a" d="M422 127h0m1 0h0m-1 2h0m-1 1h0m2 0h0m-3 1h0m1 0h0m1 0h0m1 0h0m-2 1h0m1 0h0m1 0h0m1 0h0m-4 1h0m2 0h0m1 0h0m1 0h0m-5 1h0m1 0h0m1 0h0m1 0h0m1 0h0m-3 1h0m1 0h0m1 0h0m-2 1h0m1 0h0m1 0h0m1 0h0m-4 1h0m3 0h0m1 0h0m-3 1h0m1 0h0m1 0h0m1 0h0m-3 1h0m1 0h0m1 0h0m1 0h0m-3 1h0m1 0h0m1 0h0m-1 1h0m1 0h0m22 0h0m3 0h0m-27 1h0m21 0h0m1 0h0m2 1h0m1 0h0m-10 1h0m1 0h0m1 0h0m1 0h0m1 0h0m1 0h0m1 0h0m1 0h0m1 0h0m-9 1h0m1 0h0m4 0h0m2 0h0m1 0h0m-10 1h0m2 0h0m1 0h0m2 0h0m1 0h0m2 0h0m1 0h0m-11 1h0m1 0h0m2 0h0m1 0h0m1 0h0m1 0h0m1 0h0m2 0h0m-8 1h0m1 0h0m1 0h0m1 0h0m1 0h0m2 0h0m1 0h0m-9 1h0m2 0h0m4 0h0"/>
<path stroke="#4cc0e0" d="M479 106h0m4 0h0m-6 2h0m1 0h0m1 0h0m2 0h0m-5 1h0m1 0h0m2 0h0m-8 1h0m2 0h0m1 0h0m2 0h0m2 0h0m-5 1h0m1 0h0m2 0h0m1 0h0m-4 1h0m1 0h0m1 0h0m1 0h0m1 0h0m-7 1h0m1 0h0m1 0h0m3 0h0m1 0h0m1 0h0m-8 1h0m4 0h0m2 0h0m1 0h0m2 0h0m-9 1h0m1 0h0m1 0h0m1 0h0m1 0h0m1 0h0m1 0h0m1 0h0m1 0h0m3 0h0m-13 1h0m1 0h0m1 0h0m1 0h0m2 0h0m2 0h0m1 0h0m-7 1h0m1 0h0m1 0h0m1 0h0m2 0h0m2 0h0m-9 1h0m2 0h0m1 0h0m1 0h0m1 0h0m2 0h0m1 0h0m1 0h0m-9 1h0m2 0h0m1 0h0m2 0h0m1 0h0m1 0h0m-10 1h0m2 0h0m1 0h0m1 0h0m1 0h0m1 0h0m1 0h0m2 0h0m2 0h0m-8 1h0m1 0h0m2 0h0m2 0h0m1 0h0m-8 1h0m1 0h0m2 0h0m1 0h0m1 0h0m1 0h0m-6 1h0m1 0h0m1 0h0m1 0h0m2 0h0m-5 1h0m1 0h0m1 0h0m3 0h0m-5 1h0m4 0h0m-4 1h0m1 0h0m1 0h0m0 1h0"/>
</g>
<path d="M409.5 63.7H507.5V161.6H409.5" fill="none" stroke="#2e3432" stroke-width="1.2"/>
<line x1="409.5" y1="63.7" x2="409.5" y2="161.6" stroke="#9aa8a8" stroke-width="0.9" stroke-dasharray="1 1.5"/>
<line x1="407.5" y1="134.4" x2="409.5" y2="134.4" stroke="#6a7a7a" stroke-width="0.8"/>
<line x1="407.5" y1="107.2" x2="409.5" y2="107.2" stroke="#6a7a7a" stroke-width="0.8"/>
<line x1="407.5" y1="80.0" x2="409.5" y2="80.0" stroke="#6a7a7a" stroke-width="0.8"/>
<polygon points="445,76.9 476.2,64.7 506.6,64.7 506.6,153.8 434.6,158.8 432.3,152" fill="none" stroke="#4a5250" stroke-width="1"/>
<g stroke-width="1.8" stroke-linecap="square" fill="none" transform="translate(0.5 0.5)">
<path stroke="#1b2a4c" d="M78 218h0m-7 7h0m3 0h0m3 0h0m1 1h0m-3 1h0m-9 1h0m1 0h0m31 0h0m6 0h0m-39 1h0m2 0h0m6 0h0m18 0h0m2 0h0m1 0h0m3 0h0m5 0h0m4 0h0m-42 1h0m2 0h0m6 0h0m1 0h0m11 0h0m8 0h0m7 0h0m-32 1h0m3 0h0m16 0h0m14 0h0m1 0h0m1 0h0m-40 1h0m3 0h0m2 0h0m9 0h0m3 0h0m2 0h0m1 0h0m3 0h0m5 0h0m4 0h0m5 0h0m4 0h0m-39 1h0m3 0h0m5 0h0m12 0h0m3 0h0m2 0h0m3 0h0m7 0h0m1 0h0m9 0h0m11 0h0m-53 1h0m8 0h0m3 0h0m2 0h0m1 0h0m1 0h0m9 0h0m1 0h0m5 0h0m1 0h0m3 0h0m2 0h0m1 0h0m3 0h0m1 0h0m5 0h0m-53 1h0m2 0h0m3 0h0m1 0h0m1 0h0m3 0h0m4 0h0m4 0h0m6 0h0m2 0h0m3 0h0m3 0h0m8 0h0m1 0h0m6 0h0m7 0h0m-57 1h0m2 0h0m8 0h0m3 0h0m1 0h0m2 0h0m2 0h0m1 0h0m1 0h0m3 0h0m4 0h0m3 0h0m1 0h0m2 0h0m16 0h0m3 0h0m10 0h0m-52 1h0m1 0h0m1 0h0m3 0h0m1 0h0m1 0h0m1 0h0m2 0h0m15 0h0m7 0h0m8 0h0m8 0h0m-57 1h0m9 0h0m9 0h0m2 0h0m4 0h0m20 0h0m3 0h0m4 0h0m10 0h0m-65 1h0m2 0h0m8 0h0m1 0h0m1 0h0m2 0h0m3 0h0m6 0h0m16 0h0m13 0h0m1 0h0m2 0h0m2 0h0m2 0h0m3 0h0m2 0h0m-53 1h0m5 0h0m2 0h0m2 0h0m2 0h0m4 0h0m2 0h0m20 0h0m2 0h0m2 0h0m2 0h0m1 0h0m4 0h0m-59 1h0m1 0h0m7 0h0m3 0h0m1 0h0m2 0h0m4 0h0m1 0h0m2 0h0m34 0h0m2 0h0m1 0h0m5 0h0m-51 1h0m4 0h0m6 0h0m32 0h0m1 0h0m1 0h0m6 0h0m-65 1h0m1 0h0m11 0h0m1 0h0m4 0h0m2 0h0m2 0h0m4 0h0m2 0h0m28 0h0m8 0h0m7 0h0m-70 1h0m6 0h0m2 0h0m5 0h0m2 0h0m6 0h0m3 0h0m34 0h0m8 0h0m4 0h0m-70 1h0m1 0h0m5 0h0m3 0h0m2 0h0m1 0h0m5 0h0m5 0h0m5 0h0m23 0h0m5 0h0m2 0h0m3 0h0m6 0h0m-68 1h0m9 0h0m1 0h0m1 0h0m14 0h0m1 0h0m1 0h0m37 0h0m1 0h0m2 0h0m-65 1h0m6 0h0m4 0h0m1 0h0m1 0h0m5 0h0m8 0h0m27 0h0m2 0h0m2 0h0m2 0h0m-61 1h0m1 0h0m6 0h0m7 0h0m3 0h0m3 0h0m3 0h0m5 0h0m31 0h0m1 0h0m9 0h0m-70 1h0m7 0h0m1 0h0m1 0h0m1 0h0m16 0h0m2 0h0m4 0h0m11 0h0m11 0h0m3 0h0m3 0h0m-63 1h0m6 0h0m19 0h0m3 0h0m3 0h0m1 0h0m2 0h0m1 0h0m2 0h0m9 0h0m2 0h0m3 0h0m10 0h0m2 0h0m-60 1h0m2 0h0m1 0h0m1 0h0m1 0h0m25 0h0m2 0h0m4 0h0m5 0h0m5 0h0m2 0h0m1 0h0m1 0h0m8 0h0m3 0h0m2 0h0m-69 1h0m3 0h0m7 0h0m2 0h0m20 0h0m4 0h0m1 0h0m2 0h0m10 0h0m4 0h0m3 0h0m6 0h0m-60 1h0m22 0h0m3 0h0m8 0h0m3 0h0m1 0h0m3 0h0m4 0h0m7 0h0m1 0h0m4 0h0m2 0h0m13 0h0m-75 1h0m31 0h0m6 0h0m5 0h0m5 0h0m1 0h0m2 0h0m11 0h0m8 0h0m-32 1h0m5 0h0m1 0h0m8 0h0m1 0h0m4 0h0m-55 1h0m40 0h0m3 0h0m2 0h0m1 0h0m6 0h0m7 0h0m11 0h0m-28 1h0m15 0h0m-4 1h0m3 0h0m2 0h0m3 0h0m-18 1h0m1 0h0m17 0h0m3 0h0m10 0h0m-10 1h0m-23 1h0"/>
<path stroke="#2866b8" d="M78 232h0m13 0h0m8 0h0m-17 1h0m10 0h0m2 0h0m6 0h0m-20 1h0m5 0h0m1 0h0m1 0h0m3 0h0m1 0h0m1 0h0m2 0h0m-18 1h0m9 0h0m2 0h0m3 0h0m1 0h0m3 0h0m7 0h0m-19 1h0m5 0h0m1 0h0m2 0h0m1 0h0m1 0h0m1 0h0m1 0h0m5 0h0m-21 1h0m7 0h0m3 0h0m8 0h0m2 0h0m2 0h0m-20 1h0m1 0h0m2 0h0m7 0h0m4 0h0m1 0h0m3 0h0m1 0h0m2 0h0m1 0h0m-25 1h0m2 0h0m8 0h0m9 0h0m5 0h0m3 0h0m-30 1h0m1 0h0m7 0h0m4 0h0m12 0h0m3 0h0m1 0h0m1 0h0m1 0h0m-32 1h0m4 0h0m3 0h0m2 0h0m1 0h0m18 0h0m2 0h0m4 0h0m-31 1h0m1 0h0m2 0h0m1 0h0m2 0h0m19 0h0m1 0h0m2 0h0m4 0h0m-39 1h0m4 0h0m2 0h0m1 0h0m1 0h0m2 0h0m2 0h0m2 0h0m21 0h0m2 0h0m6 0h0m-34 1h0m1 0h0m22 0h0m6 0h0m1 0h0m-31 1h0m2 0h0m2 0h0m19 0h0m1 0h0m2 0h0m1 0h0m3 0h0m-34 1h0m1 0h0m1 0h0m2 0h0m2 0h0m3 0h0m21 0h0m1 0h0m2 0h0m-30 1h0m1 0h0m1 0h0m2 0h0m2 0h0m17 0h0m1 0h0m1 0h0m1 0h0m1 0h0m-28 1h0m7 0h0m3 0h0m2 0h0m9 0h0m2 0h0m3 0h0m5 0h0m2 0h0m-30 1h0m4 0h0m3 0h0m2 0h0m9 0h0m3 0h0m1 0h0m2 0h0m4 0h0m-30 1h0m2 0h0m2 0h0m2 0h0m2 0h0m3 0h0m4 0h0m4 0h0m2 0h0m1 0h0m1 0h0m1 0h0m1 0h0m2 0h0m1 0h0m-25 1h0m1 0h0m3 0h0m2 0h0m9 0h0m1 0h0m2 0h0m1 0h0m-21 1h0m2 0h0m1 0h0m2 0h0m13 0h0m-10 1h0m2 0h0m2 0h0m-8 1h0m4 0h0m5 0h0m3 0h0"/>
<path stroke="#3cb0e8" d="M78 236h0m4 0h0m20 0h0m-15 1h0m9 0h0m-16 1h0m3 0h0m1 0h0m1 0h0m1 0h0m2 0h0m2 0h0m1 0h0m2 0h0m1 0h0m3 0h0m4 0h0m1 0h0m2 0h0m1 0h0m-23 1h0m5 0h0m4 0h0m4 0h0m1 0h0m1 0h0m1 0h0m3 0h0m2 0h0m-26 1h0m3 0h0m3 0h0m1 0h0m9 0h0m3 0h0m2 0h0m1 0h0m1 0h0m1 0h0m1 0h0m1 0h0m-26 1h0m4 0h0m1 0h0m1 0h0m1 0h0m2 0h0m7 0h0m-19 1h0m3 0h0m2 0h0m1 0h0m2 0h0m1 0h0m15 0h0m1 0h0m2 0h0m2 0h0m-26 1h0m4 0h0m22 0h0m-26 1h0m1 0h0m1 0h0m2 0h0m1 0h0m15 0h0m1 0h0m1 0h0m2 0h0m2 0h0m-25 1h0m2 0h0m4 0h0m15 0h0m3 0h0m2 0h0m-27 1h0m1 0h0m1 0h0m2 0h0m3 0h0m2 0h0m11 0h0m3 0h0m-21 1h0m1 0h0m1 0h0m2 0h0m2 0h0m8 0h0m1 0h0m2 0h0m3 0h0m2 0h0m2 0h0m-23 1h0m1 0h0m1 0h0m1 0h0m1 0h0m1 0h0m1 0h0m2 0h0m4 0h0m2 0h0m2 0h0m1 0h0m1 0h0m2 0h0m-18 1h0m1 0h0m1 0h0m1 0h0m1 0h0m1 0h0m1 0h0m2 0h0m3 0h0m1 0h0m1 0h0m1 0h0m1 0h0m1 0h0m1 0h0m-20 1h0m1 0h0m3 0h0m1 0h0m1 0h0m2 0h0m3 0h0m1 0h0m2 0h0m1 0h0m2 0h0m-15 1h0m1 0h0m8 0h0m4 0h0m-2 1h0"/>
<path stroke="#2f7fd0" d="M65 233h0m-1 1h0m1 0h0m4 0h0m-6 1h0m4 0h0m-6 1h0m1 0h0m1 0h0m1 0h0m3 0h0m-8 1h0m2 0h0m2 0h0m-3 1h0m1 0h0m2 0h0m1 0h0m-6 1h0m4 0h0m2 0h0m1 0h0m-3 1h0m2 0h0m-4 2h0m1 0h0m-6 1h0m7 0h0m-7 1h0m2 0h0m-5 1h0m1 0h0m3 0h0m2 0h0m3 0h0m-7 1h0m1 0h0m2 0h0m-6 1h0m2 0h0m1 0h0m1 0h0m1 0h0m-5 1h0m1 0h0m2 0h0m-3 1h0m0 1h0m0 1h0"/>
<path stroke="#3cc8a0" d="M97 237h0m-13 1h0m10 0h0m-8 1h0m3 0h0m1 0h0m1 0h0m3 0h0m2 0h0m3 0h0m1 0h0m-16 1h0m1 0h0m1 0h0m1 0h0m1 0h0m1 0h0m1 0h0m5 0h0m1 0h0m2 0h0m1 0h0m-17 1h0m2 0h0m2 0h0m2 0h0m7 0h0m2 0h0m1 0h0m3 0h0m-21 1h0m1 0h0m2 0h0m2 0h0m2 0h0m9 0h0m2 0h0m2 0h0m-20 1h0m1 0h0m3 0h0m1 0h0m10 0h0m3 0h0m3 0h0m-19 1h0m1 0h0m2 0h0m11 0h0m2 0h0m2 0h0m-19 1h0m1 0h0m2 0h0m1 0h0m11 0h0m1 0h0m1 0h0m1 0h0m1 0h0m1 0h0m-19 1h0m1 0h0m1 0h0m1 0h0m1 0h0m9 0h0m3 0h0m-17 1h0m3 0h0m1 0h0m1 0h0m1 0h0m1 0h0m2 0h0m1 0h0m5 0h0m3 0h0m-12 1h0m1 0h0m2 0h0m1 0h0m2 0h0m4 0h0m-8 1h0m2 0h0m2 0h0m-5 1h0m4 0h0m2 0h0"/>
<path stroke="#3fd84a" d="M92 238h0m-6 1h0m4 0h0m2 0h0m-5 1h0m3 0h0m1 0h0m5 0h0m-10 1h0m2 0h0m1 0h0m1 0h0m1 0h0m1 0h0m3 0h0m-6 1h0m1 0h0m1 0h0m1 0h0m1 0h0m3 0h0m1 0h0m-13 1h0m1 0h0m1 0h0m1 0h0m1 0h0m1 0h0m2 0h0m1 0h0m3 0h0m1 0h0m2 0h0m1 0h0m-15 1h0m2 0h0m1 0h0m1 0h0m1 0h0m1 0h0m1 0h0m1 0h0m1 0h0m2 0h0m2 0h0m-13 1h0m1 0h0m1 0h0m1 0h0m1 0h0m2 0h0m1 0h0m1 0h0m1 0h0m1 0h0m1 0h0m1 0h0m-12 1h0m1 0h0m2 0h0m1 0h0m1 0h0m1 0h0m1 0h0m1 0h0m1 0h0m1 0h0m-7 1h0m1 0h0m1 0h0m1 0h0m1 0h0m1 0h0m2 0h0m-3 1h0m3 0h0"/>
<path stroke="#4cc0e0" d="M62 237h0m1 1h0m-3 1h0m4 0h0m-6 1h0m2 0h0m1 0h0m-4 1h0m1 0h0m1 0h0m-2 1h0m2 0h0m1 0h0m-4 1h0m1 0h0m1 0h0m-2 1h0m1 0h0m-1 1h0m-2 1h0"/>
</g>
<path d="M35 165.8H133.8V263.6H35" fill="none" stroke="#2e3432" stroke-width="1.2"/>
<line x1="35" y1="165.8" x2="35" y2="263.6" stroke="#9aa8a8" stroke-width="0.9" stroke-dasharray="1 1.5"/>
<line x1="33" y1="236.4" x2="35" y2="236.4" stroke="#6a7a7a" stroke-width="0.8"/>
<line x1="33" y1="209.3" x2="35" y2="209.3" stroke="#6a7a7a" stroke-width="0.8"/>
<line x1="33" y1="182.1" x2="35" y2="182.1" stroke="#6a7a7a" stroke-width="0.8"/>
<line x1="35" y1="220" x2="133.8" y2="220" stroke="#3c4442" stroke-width="1.1"/>
<line x1="76.5" y1="165.8" x2="76.5" y2="263.6" stroke="#3c4442" stroke-width="1.1"/>
<g font-family="&quot;Liberation Serif&quot;, serif" font-size="12px" fill="#111" stroke="#111" stroke-width="0.25">
<line x1="97.7" y1="182.7" x2="130.0" y2="182.7" stroke="#111" stroke-width="1.3"/>
<line x1="113.2" y1="168.5" x2="113.2" y2="195.7" stroke="#111" stroke-width="1.3"/>
<text x="109.8" y="178.8" text-anchor="end">0</text>
<text x="118.2" y="178.8">0</text>
<text x="109.8" y="194.4" text-anchor="end">25</text>
<text x="118.7" y="194.4">75</text>
</g>
<g stroke-width="1.8" stroke-linecap="square" fill="none" transform="translate(0.5 0.5)">
<path stroke="#1b2a4c" d="M201 224h0m4 0h0m-13 1h0m18 0h0m1 0h0m-27 1h0m2 0h0m10 0h0m9 0h0m4 0h0m1 0h0m2 0h0m8 0h0m-32 1h0m8 0h0m9 0h0m8 0h0m-42 1h0m3 0h0m5 0h0m1 0h0m3 0h0m2 0h0m5 0h0m1 0h0m3 0h0m16 0h0m-42 1h0m13 0h0m1 0h0m10 0h0m6 0h0m1 0h0m12 0h0m11 0h0m2 0h0m-58 1h0m14 0h0m13 0h0m3 0h0m2 0h0m2 0h0m2 0h0m1 0h0m2 0h0m21 0h0m-44 1h0m5 0h0m8 0h0m6 0h0m1 0h0m7 0h0m6 0h0m3 0h0m3 0h0m-51 1h0m1 0h0m6 0h0m2 0h0m2 0h0m5 0h0m1 0h0m7 0h0m9 0h0m1 0h0m4 0h0m2 0h0m1 0h0m2 0h0m10 0h0m9 0h0m-63 1h0m6 0h0m4 0h0m4 0h0m2 0h0m1 0h0m1 0h0m6 0h0m2 0h0m9 0h0m3 0h0m4 0h0m5 0h0m2 0h0m7 0h0m-42 1h0m3 0h0m2 0h0m4 0h0m2 0h0m8 0h0m1 0h0m8 0h0m-48 1h0m1 0h0m5 0h0m36 0h0m1 0h0m12 0h0m-45 1h0m2 0h0m6 0h0m1 0h0m34 0h0m1 0h0m3 0h0m1 0h0m4 0h0m1 0h0m-71 1h0m12 0h0m6 0h0m2 0h0m6 0h0m32 0h0m2 0h0m2 0h0m-44 1h0m2 0h0m2 0h0m37 0h0m4 0h0m1 0h0m2 0h0m1 0h0m-55 1h0m1 0h0m1 0h0m8 0h0m39 0h0m1 0h0m9 0h0m4 0h0m-65 1h0m6 0h0m2 0h0m2 0h0m2 0h0m34 0h0m4 0h0m15 0h0m-63 1h0m3 0h0m2 0h0m3 0h0m37 0h0m6 0h0m3 0h0m3 0h0m-61 1h0m9 0h0m1 0h0m2 0h0m1 0h0m6 0h0m31 0h0m2 0h0m2 0h0m1 0h0m2 0h0m10 0h0m-64 1h0m1 0h0m1 0h0m5 0h0m4 0h0m4 0h0m27 0h0m8 0h0m1 0h0m8 0h0m-51 1h0m1 0h0m5 0h0m35 0h0m1 0h0m4 0h0m-47 1h0m1 0h0m3 0h0m2 0h0m32 0h0m3 0h0m11 0h0m-54 1h0m6 0h0m6 0h0m26 0h0m10 0h0m1 0h0m1 0h0m1 0h0m-56 1h0m14 0h0m5 0h0m22 0h0m4 0h0m1 0h0m2 0h0m2 0h0m4 0h0m13 0h0m-74 1h0m6 0h0m10 0h0m3 0h0m2 0h0m29 0h0m1 0h0m4 0h0m3 0h0m-52 1h0m8 0h0m4 0h0m2 0h0m6 0h0m3 0h0m1 0h0m7 0h0m5 0h0m4 0h0m17 0h0m-48 1h0m2 0h0m1 0h0m1 0h0m3 0h0m1 0h0m3 0h0m3 0h0m1 0h0m11 0h0m2 0h0m4 0h0m6 0h0m1 0h0m5 0h0m-51 1h0m3 0h0m4 0h0m3 0h0m1 0h0m2 0h0m1 0h0m9 0h0m4 0h0m4 0h0m4 0h0m3 0h0m2 0h0m-40 1h0m8 0h0m2 0h0m3 0h0m14 0h0m2 0h0m3 0h0m6 0h0m1 0h0m5 0h0m11 0h0m-46 1h0m4 0h0m13 0h0m1 0h0m2 0h0m3 0h0m1 0h0m2 0h0m4 0h0m3 0h0m1 0h0m-35 1h0m3 0h0m2 0h0m1 0h0m7 0h0m1 0h0m2 0h0m2 0h0m1 0h0m4 0h0m2 0h0m-14 1h0m4 0h0m2 0h0m7 0h0m7 0h0m5 0h0m-44 1h0m13 0h0m2 0h0m2 0h0m2 0h0m4 0h0m1 0h0m5 0h0m17 0h0m4 0h0m-32 1h0m7 0h0m10 0h0m5 0h0m-21 1h0m13 0h0m2 0h0m3 0h0m4 0h0m-41 1h0m56 0h0m-33 3h0"/>
<path stroke="#2866b8" d="M207 226h0m-19 2h0m16 0h0m-17 1h0m3 0h0m2 0h0m2 1h0m-12 1h0m13 0h0m4 0h0m1 0h0m3 0h0m2 0h0m1 0h0m-14 1h0m1 0h0m2 0h0m2 0h0m2 0h0m5 0h0m1 0h0m4 0h0m-21 1h0m1 0h0m1 0h0m2 0h0m1 0h0m3 0h0m5 0h0m1 0h0m5 0h0m5 0h0m2 0h0m-31 1h0m1 0h0m1 0h0m3 0h0m1 0h0m4 0h0m2 0h0m5 0h0m2 0h0m2 0h0m2 0h0m8 0h0m2 0h0m-35 1h0m8 0h0m1 0h0m1 0h0m2 0h0m6 0h0m5 0h0m3 0h0m2 0h0m3 0h0m-29 1h0m4 0h0m1 0h0m2 0h0m13 0h0m6 0h0m1 0h0m1 0h0m1 0h0m-31 1h0m1 0h0m4 0h0m1 0h0m20 0h0m3 0h0m4 0h0m2 0h0m-42 1h0m5 0h0m1 0h0m1 0h0m1 0h0m27 0h0m2 0h0m1 0h0m3 0h0m-37 1h0m1 0h0m1 0h0m6 0h0m25 0h0m1 0h0m3 0h0m-44 1h0m7 0h0m1 0h0m2 0h0m1 0h0m26 0h0m3 0h0m-37 1h0m2 0h0m2 0h0m1 0h0m27 0h0m1 0h0m1 0h0m2 0h0m1 0h0m2 0h0m-39 1h0m1 0h0m3 0h0m1 0h0m2 0h0m1 0h0m2 0h0m25 0h0m5 0h0m2 0h0m2 0h0m-45 1h0m3 0h0m2 0h0m29 0h0m2 0h0m6 0h0m-7 1h0m3 0h0m4 0h0m1 0h0m3 0h0m-41 1h0m4 0h0m1 0h0m1 0h0m2 0h0m20 0h0m8 0h0m-40 1h0m7 0h0m2 0h0m1 0h0m19 0h0m4 0h0m3 0h0m2 0h0m1 0h0m-36 1h0m2 0h0m2 0h0m1 0h0m1 0h0m13 0h0m2 0h0m-27 1h0m12 0h0m1 0h0m12 0h0m2 0h0m4 0h0m6 0h0m3 0h0m7 0h0m-36 1h0m6 0h0m2 0h0m4 0h0m7 0h0m2 0h0m-25 1h0m2 0h0m7 0h0m1 0h0m2 0h0m1 0h0m1 0h0m2 0h0m2 0h0m1 0h0m3 0h0m5 0h0m5 0h0m-21 1h0m4 0h0m1 0h0m4 0h0m1 0h0m4 0h0m1 0h0m-15 1h0m8 0h0m4 0h0m-23 1h0m14 0h0m4 1h0"/>
<path stroke="#3cb0e8" d="M195 230h0m6 1h0m-2 1h0m1 0h0m-7 1h0m2 0h0m1 0h0m3 0h0m2 0h0m1 0h0m1 0h0m1 0h0m-18 1h0m3 0h0m2 0h0m3 0h0m2 0h0m1 0h0m1 0h0m1 0h0m2 0h0m1 0h0m5 0h0m4 0h0m-35 1h0m7 0h0m6 0h0m1 0h0m1 0h0m1 0h0m2 0h0m1 0h0m2 0h0m4 0h0m1 0h0m3 0h0m-25 1h0m2 0h0m7 0h0m1 0h0m7 0h0m3 0h0m1 0h0m2 0h0m1 0h0m2 0h0m1 0h0m1 0h0m1 0h0m-28 1h0m3 0h0m3 0h0m22 0h0m-29 1h0m2 0h0m2 0h0m1 0h0m2 0h0m1 0h0m1 0h0m1 0h0m1 0h0m1 0h0m12 0h0m1 0h0m1 0h0m2 0h0m2 0h0m1 0h0m3 0h0m2 0h0m-38 1h0m1 0h0m5 0h0m1 0h0m2 0h0m1 0h0m17 0h0m1 0h0m1 0h0m2 0h0m-30 1h0m7 0h0m21 0h0m1 0h0m5 0h0m-32 1h0m1 0h0m2 0h0m1 0h0m2 0h0m18 0h0m1 0h0m1 0h0m-29 1h0m3 0h0m2 0h0m1 0h0m1 0h0m1 0h0m2 0h0m16 0h0m2 0h0m3 0h0m-26 1h0m3 0h0m16 0h0m3 0h0m1 0h0m3 0h0m-27 1h0m2 0h0m3 0h0m2 0h0m15 0h0m1 0h0m4 0h0m12 0h0m-43 1h0m1 0h0m1 0h0m4 0h0m20 0h0m1 0h0m4 0h0m-23 1h0m3 0h0m5 0h0m4 0h0m1 0h0m1 0h0m1 0h0m2 0h0m1 0h0m1 0h0m4 0h0m-27 1h0m3 0h0m3 0h0m1 0h0m1 0h0m4 0h0m4 0h0m4 0h0m2 0h0m2 0h0m7 0h0m-29 1h0m1 0h0m1 0h0m2 0h0m1 0h0m3 0h0m2 0h0m2 0h0m2 0h0m3 0h0m3 0h0m-21 1h0m2 0h0m5 0h0m9 0h0m19 0h0m-38 1h0m3 1h0m10 0h0m3 1h0"/>
<path stroke="#3cc8a0" d="M195 234h0m1 1h0m4 0h0m3 0h0m2 0h0m2 0h0m-22 1h0m4 0h0m3 0h0m3 0h0m2 0h0m1 0h0m1 0h0m1 0h0m1 0h0m1 0h0m1 0h0m-15 1h0m1 0h0m2 0h0m4 0h0m2 0h0m2 0h0m2 0h0m1 0h0m1 0h0m1 0h0m2 0h0m-19 1h0m1 0h0m2 0h0m1 0h0m1 0h0m1 0h0m2 0h0m2 0h0m2 0h0m3 0h0m-19 1h0m7 0h0m14 0h0m-23 1h0m6 0h0m1 0h0m1 0h0m13 0h0m2 0h0m1 0h0m-26 1h0m7 0h0m1 0h0m2 0h0m14 0h0m1 0h0m1 0h0m1 0h0m-22 1h0m2 0h0m1 0h0m16 0h0m2 0h0m-22 1h0m3 0h0m3 0h0m1 0h0m10 0h0m1 0h0m1 0h0m1 0h0m1 0h0m1 0h0m1 0h0m-21 1h0m1 0h0m2 0h0m1 0h0m1 0h0m4 0h0m5 0h0m1 0h0m2 0h0m2 0h0m-18 1h0m2 0h0m2 0h0m4 0h0m1 0h0m1 0h0m1 0h0m3 0h0m2 0h0m-19 1h0m5 0h0m2 0h0m4 0h0m3 0h0m-7 1h0m1 0h0m8 0h0m-9 1h0"/>
<path stroke="#3fd84a" d="M196 236h0m1 0h0m-7 1h0m1 0h0m3 0h0m1 0h0m4 0h0m-11 1h0m3 0h0m1 0h0m1 0h0m2 0h0m2 0h0m2 0h0m1 0h0m1 0h0m1 0h0m-13 1h0m1 0h0m1 0h0m1 0h0m1 0h0m1 0h0m1 0h0m1 0h0m1 0h0m1 0h0m1 0h0m1 0h0m1 0h0m1 0h0m1 0h0m-16 1h0m3 0h0m1 0h0m1 0h0m1 0h0m1 0h0m1 0h0m1 0h0m1 0h0m1 0h0m1 0h0m1 0h0m1 0h0m1 0h0m2 0h0m-17 1h0m2 0h0m1 0h0m1 0h0m2 0h0m1 0h0m1 0h0m1 0h0m1 0h0m1 0h0m1 0h0m1 0h0m-11 1h0m1 0h0m1 0h0m1 0h0m1 0h0m2 0h0m1 0h0m2 0h0m1 0h0m1 0h0m-12 1h0m1 0h0m1 0h0m1 0h0m1 0h0m1 0h0m1 0h0m2 0h0m1 0h0m1 0h0m2 0h0m2 0h0m-14 1h0m3 0h0m1 0h0m2 0h0m2 0h0m1 0h0m1 0h0m3 0h0m1 0h0m-17 1h0m3 0h0m4 0h0m4 0h0m1 0h0m1 0h0m-13 1h0m12 0h0m3 0h0"/>
</g>
<path d="M147.7 166.9H245.8V263.8H147.7" fill="none" stroke="#2e3432" stroke-width="1.2"/>
<line x1="147.7" y1="166.9" x2="147.7" y2="263.8" stroke="#9aa8a8" stroke-width="0.9" stroke-dasharray="1 1.5"/>
<line x1="145.7" y1="236.9" x2="147.7" y2="236.9" stroke="#6a7a7a" stroke-width="0.8"/>
<line x1="145.7" y1="210.0" x2="147.7" y2="210.0" stroke="#6a7a7a" stroke-width="0.8"/>
<line x1="145.7" y1="183.1" x2="147.7" y2="183.1" stroke="#6a7a7a" stroke-width="0.8"/>
<line x1="147.7" y1="220.5" x2="245.8" y2="220.5" stroke="#3c4442" stroke-width="1.1"/>
<line x1="190.4" y1="166.9" x2="190.4" y2="263.8" stroke="#3c4442" stroke-width="1.1"/>
<g font-family="&quot;Liberation Serif&quot;, serif" font-size="12px" fill="#111" stroke="#111" stroke-width="0.25">
<line x1="211.3" y1="183" x2="243.60000000000002" y2="183" stroke="#111" stroke-width="1.3"/>
<line x1="226.8" y1="168.8" x2="226.8" y2="196" stroke="#111" stroke-width="1.3"/>
<text x="223.4" y="179.1" text-anchor="end">0</text>
<text x="231.8" y="179.1">0</text>
<text x="223.4" y="194.7" text-anchor="end">32</text>
<text x="232.3" y="194.7">68</text>
</g>
<g stroke-width="1.8" stroke-linecap="square" fill="none" transform="translate(0.5 0.5)">
<path stroke="#3ea6e2" d="M336 235h0m-2 1h0m-3 1h0m8 0h0m2 0h0m-14 1h0m7 0h0m2 0h0m-12 2h0m6 0h0m2 0h0m-12 2h0m2 1h0m-2 1h0m10 0h0m-9 1h0m8 0h0m-4 2h0m5 0h0m-5 1h0m-10 1h0m1 0h0m8 0h0m1 0h0m-13 2h0m1 0h0m7 0h0m-8 1h0m-1 1h0m1 0h0m-2 1h0m1 0h0m5 0h0"/>
<path stroke="#1b2a4c" d="M362 217h0m14 0h0m13 0h0m-28 3h0m4 0h0m-31 1h0m15 0h0m3 0h0m9 0h0m-20 1h0m7 0h0m6 0h0m18 0h0m-21 1h0m4 0h0m1 0h0m2 0h0m4 0h0m6 0h0m-18 1h0m3 0h0m1 0h0m1 0h0m1 0h0m5 0h0m2 0h0m1 0h0m2 0h0m4 0h0m20 1h0m-37 1h0m4 0h0m13 0h0m2 0h0m-44 1h0m5 0h0m7 0h0m1 0h0m4 0h0m6 0h0m5 0h0m5 0h0m-31 1h0m10 0h0m6 0h0m3 0h0m3 0h0m19 0h0m-49 1h0m9 0h0m6 0h0m6 0h0m24 0h0m-44 1h0m14 0h0m1 0h0m3 0h0m18 0h0m9 0h0m-31 1h0m7 0h0m14 0h0m5 0h0m10 0h0m3 0h0m-50 1h0m3 0h0m8 0h0m4 0h0m2 0h0m26 0h0m6 0h0m-50 1h0m4 0h0m7 0h0m1 0h0m4 0h0m22 0h0m5 0h0m2 0h0m1 0h0m-34 1h0m31 0h0m-42 1h0m4 0h0m2 0h0m3 0h0m32 0h0m4 0h0m-46 1h0m4 0h0m2 0h0m2 0h0m1 0h0m2 0h0m1 0h0m7 0h0m24 0h0m2 0h0m1 0h0m3 0h0m4 0h0m4 0h0m-56 1h0m1 0h0m5 0h0m3 0h0m32 0h0m4 0h0m1 0h0m-46 1h0m2 0h0m3 0h0m1 0h0m33 0h0m2 0h0m-46 1h0m2 0h0m7 0h0m5 0h0m2 0h0m27 0h0m1 0h0m4 0h0m-53 1h0m4 0h0m2 0h0m4 0h0m6 0h0m9 0h0m19 0h0m4 0h0m10 0h0m-62 1h0m8 0h0m6 0h0m1 0h0m2 0h0m1 0h0m4 0h0m25 0h0m1 0h0m4 0h0m4 0h0m2 0h0m5 0h0m-59 1h0m2 0h0m2 0h0m7 0h0m1 0h0m3 0h0m1 0h0m1 0h0m39 0h0m-51 1h0m37 0h0m2 0h0m4 0h0m4 0h0m-54 1h0m1 0h0m4 0h0m13 0h0m2 0h0m11 0h0m11 0h0m1 0h0m3 0h0m4 0h0m2 0h0m-56 1h0m4 0h0m1 0h0m1 0h0m1 0h0m5 0h0m9 0h0m2 0h0m1 0h0m-23 1h0m5 0h0m13 0h0m1 0h0m2 0h0m4 0h0m3 0h0m11 0h0m1 0h0m10 0h0m-34 1h0m4 0h0m1 0h0m7 0h0m8 0h0m1 0h0m2 0h0m2 0h0m4 0h0m1 0h0m4 0h0m-43 1h0m11 0h0m1 0h0m1 0h0m9 0h0m10 0h0m4 0h0m1 0h0m11 0h0m-56 1h0m6 0h0m6 0h0m8 0h0m2 0h0m4 0h0m5 0h0m1 0h0m24 0h0m-56 1h0m13 0h0m18 0h0m3 0h0m4 0h0m3 0h0m1 0h0m5 0h0m8 0h0m-48 1h0m7 0h0m1 0h0m5 0h0m8 0h0m4 0h0m7 0h0m2 0h0m1 0h0m1 0h0m-30 1h0m1 0h0m5 0h0m11 0h0m3 0h0m1 0h0m16 0h0m-47 1h0m4 0h0m3 0h0m5 0h0m7 0h0m18 0h0m14 0h0m-53 1h0m5 0h0m7 0h0m3 0h0m15 0h0m9 0h0m-30 1h0m3 0h0m21 0h0m-7 1h0m6 0h0m18 0h0m-28 1h0m-29 1h0m8 1h0m4 0h0"/>
<path stroke="#3cc0b0" d="M332 238h0m-1 1h0m2 0h0m-6 2h0m2 0h0m4 0h0m-9 1h0m5 0h0m1 0h0m2 0h0m-11 1h0m10 0h0m1 0h0m-11 1h0m1 0h0m1 0h0m6 0h0m-10 1h0m1 0h0m8 0h0m-1 1h0m-2 1h0m-9 1h0m7 0h0m-7 1h0m2 0h0m1 0h0m-5 1h0m6 0h0m2 0h0m-7 1h0m2 0h0m1 0h0m-4 2h0m-3 1h0"/>
<path stroke="#2866b8" d="M341 225h0m8 0h0m-8 1h0m6 0h0m5 0h0m5 0h0m2 0h0m2 0h0m-21 1h0m10 0h0m1 0h0m2 0h0m2 0h0m2 0h0m1 0h0m2 0h0m3 0h0m-12 1h0m3 0h0m2 0h0m4 0h0m-20 1h0m2 0h0m3 0h0m1 0h0m3 0h0m8 0h0m4 0h0m2 0h0m3 0h0m-23 1h0m1 0h0m2 0h0m1 0h0m3 0h0m5 0h0m12 0h0m3 0h0m-16 1h0m6 0h0m3 0h0m1 0h0m3 0h0m-25 1h0m12 0h0m1 0h0m3 0h0m5 0h0m1 0h0m-30 1h0m9 0h0m18 0h0m5 0h0m-29 1h0m3 0h0m1 0h0m20 0h0m2 0h0m1 0h0m4 0h0m-30 1h0m1 0h0m21 0h0m6 0h0m-32 1h0m7 0h0m19 0h0m3 0h0m1 0h0m0 1h0m-24 1h0m22 0h0m-26 1h0m27 0h0m-27 1h0m2 0h0m1 0h0m17 0h0m4 0h0m1 0h0m-25 1h0m23 0h0m5 0h0m-31 1h0m3 0h0m3 0h0m15 0h0m1 0h0m-26 1h0m4 0h0m15 0h0m9 0h0m1 0h0m7 0h0m-32 1h0m1 0h0m2 0h0m6 0h0m2 0h0m9 0h0m4 0h0m-20 1h0m4 0h0m7 0h0m9 0h0m4 0h0m-26 1h0m3 0h0m12 0h0m3 0h0m1 0h0m-13 1h0m6 0h0m4 0h0m1 0h0m1 0h0m-10 1h0m-8 1h0m20 1h0m-14 1h0m-4 1h0"/>
<path stroke="#3cb0e8" d="M355 227h0m-8 1h0m8 0h0m4 0h0m-10 1h0m13 0h0m-12 1h0m4 0h0m4 0h0m-15 1h0m7 0h0m5 0h0m12 0h0m-20 1h0m5 0h0m2 0h0m1 0h0m1 0h0m1 0h0m3 0h0m1 0h0m1 0h0m-21 1h0m2 0h0m2 0h0m6 0h0m2 0h0m1 0h0m3 0h0m1 0h0m1 0h0m-17 1h0m2 0h0m13 0h0m3 0h0m1 0h0m2 0h0m-27 1h0m21 0h0m6 0h0m-24 1h0m2 0h0m2 0h0m1 0h0m16 0h0m3 0h0m1 0h0m-29 1h0m1 0h0m3 0h0m4 0h0m16 0h0m-20 1h0m1 0h0m2 0h0m17 0h0m-25 1h0m5 0h0m1 0h0m1 0h0m1 0h0m2 0h0m14 0h0m-20 1h0m1 0h0m1 0h0m15 0h0m-19 1h0m1 0h0m1 0h0m2 0h0m13 0h0m2 0h0m3 0h0m2 0h0m-22 1h0m3 0h0m3 0h0m5 0h0m8 0h0m2 0h0m-21 1h0m2 0h0m2 0h0m1 0h0m5 0h0m4 0h0m4 0h0m2 0h0m-12 1h0m1 0h0m2 0h0m1 0h0m3 0h0m-9 1h0m2 0h0m3 0h0m8 0h0m-17 1h0m1 0h0m3 0h0m6 0h0m3 0h0m-15 1h0m4 0h0m4 3h0"/>
<path stroke="#2f7fd0" d="M328 238h0m7 0h0m-11 1h0m4 1h0m-4 1h0m1 0h0m-4 1h0m2 0h0m8 0h0m-11 1h0m1 0h0m9 0h0m1 0h0m-9 1h0m7 0h0m-1 1h0m1 0h0m1 0h0m-12 1h0m2 0h0m9 0h0m2 0h0m-15 1h0m3 0h0m-4 1h0m2 0h0m1 0h0m1 0h0m6 0h0m-7 1h0m5 0h0m-9 1h0m3 0h0m7 0h0m1 0h0m-8 2h0m3 0h0m0 1h0"/>
<path stroke="#3cc8a0" d="M350 231h0m2 0h0m1 0h0m8 0h0m-11 1h0m1 0h0m1 0h0m1 0h0m2 0h0m1 0h0m1 0h0m-9 1h0m2 0h0m1 0h0m1 0h0m2 0h0m4 0h0m-18 1h0m3 0h0m4 0h0m7 0h0m-12 1h0m1 0h0m1 0h0m1 0h0m11 0h0m2 0h0m1 0h0m-17 1h0m1 0h0m1 0h0m-2 1h0m14 0h0m2 0h0m-16 1h0m2 0h0m13 0h0m-17 1h0m2 0h0m12 0h0m1 0h0m2 0h0m-16 1h0m2 0h0m-2 1h0m1 0h0m4 0h0m6 0h0m3 0h0m2 0h0m2 0h0m-16 1h0m2 0h0m4 0h0m3 0h0m1 0h0m-10 1h0m1 0h0m4 0h0m3 0h0m-5 1h0m3 0h0m-3 1h0"/>
<path stroke="#3fd34a" d="M331 240h0m-2 1h0m2 0h0m-4 1h0m1 0h0m1 0h0m-4 1h0m1 0h0m1 0h0m1 0h0m-6 1h0m1 0h0m1 0h0m1 0h0m1 0h0m1 0h0m2 0h0m-7 1h0m1 0h0m1 0h0m2 0h0m1 0h0m1 0h0m-8 1h0m1 0h0m1 0h0m1 0h0m1 0h0m1 0h0m-7 1h0m1 0h0m1 0h0m1 0h0m2 0h0m1 0h0m-5 1h0m1 0h0m1 0h0m1 0h0m1 0h0m1 0h0m-6 1h0m1 0h0m2 0h0m-3 1h0m3 0h0"/>
<path stroke="#3fd84a" d="M350 233h0m2 0h0m-5 1h0m2 0h0m1 0h0m2 0h0m1 0h0m1 0h0m2 0h0m-10 1h0m3 0h0m1 0h0m1 0h0m1 0h0m2 0h0m1 0h0m1 0h0m1 0h0m-13 1h0m1 0h0m1 0h0m1 0h0m2 0h0m2 0h0m1 0h0m1 0h0m-9 1h0m2 0h0m1 0h0m2 0h0m1 0h0m1 0h0m1 0h0m1 0h0m1 0h0m1 0h0m1 0h0m-15 1h0m2 0h0m2 0h0m6 0h0m1 0h0m3 0h0m-12 1h0m2 0h0m2 0h0m2 0h0m3 0h0m1 0h0m-8 1h0m1 0h0m1 0h0m4 0h0m-8 1h0m6 0h0m1 0h0m1 0h0m-3 1h0m1 0h0m-5 1h0m1 0h0m1 0h0"/>
<path stroke="#4cc0e0" d="M325 242h0m2 0h0m-2 1h0m2 0h0m-4 1h0m1 0h0m3 0h0m-5 1h0m2 0h0m1 0h0m-5 1h0m1 0h0m-1 1h0m1 0h0m2 0h0m1 0h0m1 0h0m-5 1h0m2 0h0m1 0h0m-4 1h0"/>
</g>
<path d="M298.1 168H397.3V266.2H298.1" fill="none" stroke="#2e3432" stroke-width="1.2"/>
<line x1="298.1" y1="168" x2="298.1" y2="266.2" stroke="#9aa8a8" stroke-width="0.9" stroke-dasharray="1 1.5"/>
<line x1="296.1" y1="238.9" x2="298.1" y2="238.9" stroke="#6a7a7a" stroke-width="0.8"/>
<line x1="296.1" y1="211.6" x2="298.1" y2="211.6" stroke="#6a7a7a" stroke-width="0.8"/>
<line x1="296.1" y1="184.4" x2="298.1" y2="184.4" stroke="#6a7a7a" stroke-width="0.8"/>
<line x1="298.1" y1="222.3" x2="397.3" y2="222.3" stroke="#3c4442" stroke-width="1.1"/>
<line x1="339.6" y1="168" x2="339.6" y2="266.2" stroke="#3c4442" stroke-width="1.1"/>
<g font-family="&quot;Liberation Serif&quot;, serif" font-size="12px" fill="#111" stroke="#111" stroke-width="0.25">
<line x1="362.7" y1="185" x2="395.0" y2="185" stroke="#111" stroke-width="1.3"/>
<line x1="378.2" y1="170.8" x2="378.2" y2="198" stroke="#111" stroke-width="1.3"/>
<text x="374.8" y="181.1" text-anchor="end">0</text>
<text x="383.2" y="181.1">0</text>
<text x="374.8" y="196.7" text-anchor="end">40</text>
<text x="383.7" y="196.7">60</text>
</g>
<g stroke-width="1.8" stroke-linecap="square" fill="none" transform="translate(0.5 0.5)">
<path stroke="#3cc0b0" d="M460 221h0m-4 4h0m2 0h0m-7 3h0m1 0h0m1 0h0m-5 1h0m2 0h0m1 0h0m1 0h0m1 0h0m-8 1h0m6 0h0m-6 1h0m2 0h0m1 0h0m3 0h0m1 0h0m-6 1h0m4 0h0m1 0h0m-9 1h0m10 0h0m-13 1h0m3 0h0m-3 1h0m7 0h0m3 0h0m-3 1h0m-9 1h0m1 0h0m8 0h0m-12 1h0m2 0h0m7 0h0m1 0h0m3 0h0m-6 1h0m-6 1h0m4 1h0m1 0h0m-10 1h0m3 0h0m1 0h0m4 0h0m0 1h0m-2 1h0m-6 1h0m5 0h0m-8 1h0m1 0h0m1 0h0m3 0h0m-4 1h0m2 0h0m-3 2h0"/>
<path stroke="#1b2a4c" d="M461 213h0m6 0h0m6 0h0m-12 1h0m5 0h0m7 0h0m14 1h0m-12 1h0m-2 1h0m1 1h0m2 0h0m3 0h0m1 0h0m-20 1h0m12 0h0m6 0h0m4 0h0m-37 1h0m15 0h0m14 0h0m4 0h0m-22 1h0m4 0h0m4 0h0m16 0h0m9 0h0m1 0h0m-26 1h0m7 0h0m6 0h0m3 0h0m6 0h0m3 0h0m-25 1h0m8 0h0m4 0h0m1 0h0m1 0h0m6 0h0m14 0h0m-53 1h0m15 0h0m23 0h0m-32 1h0m2 0h0m2 0h0m1 0h0m18 0h0m1 0h0m2 0h0m5 0h0m-35 1h0m5 0h0m1 0h0m31 0h0m3 0h0m-40 1h0m32 0h0m4 0h0m6 0h0m-43 1h0m2 0h0m2 0h0m1 0h0m25 0h0m5 0h0m-38 1h0m6 0h0m1 0h0m4 0h0m25 0h0m-35 1h0m1 0h0m8 0h0m1 0h0m26 0h0m3 0h0m-48 1h0m3 0h0m4 0h0m5 0h0m6 0h0m23 0h0m13 0h0m-51 1h0m2 0h0m1 0h0m1 0h0m1 0h0m4 0h0m32 0h0m-44 1h0m5 0h0m1 0h0m6 0h0m3 0h0m4 0h0m29 0h0m-51 1h0m5 0h0m2 0h0m5 0h0m1 0h0m1 0h0m30 0h0m8 0h0m-40 1h0m1 0h0m1 0h0m2 0h0m4 0h0m23 0h0m-45 1h0m2 0h0m2 0h0m15 0h0m1 0h0m1 0h0m1 0h0m3 0h0m18 0h0m5 0h0m-45 1h0m14 0h0m2 0h0m29 0h0m2 0h0m11 0h0m-67 1h0m9 0h0m13 0h0m6 0h0m2 0h0m3 0h0m15 0h0m6 0h0m-46 1h0m13 0h0m3 0h0m4 0h0m3 0h0m11 0h0m14 0h0m-50 1h0m14 0h0m1 0h0m2 0h0m6 0h0m4 0h0m2 0h0m6 0h0m4 0h0m6 0h0m1 0h0m-30 1h0m6 0h0m8 0h0m1 0h0m7 0h0m3 0h0m-38 1h0m8 0h0m1 0h0m3 0h0m23 0h0m2 0h0m14 0h0m-57 1h0m1 0h0m5 0h0m4 0h0m17 0h0m1 0h0m8 0h0m7 0h0m1 0h0m2 0h0m-47 1h0m5 0h0m2 0h0m1 0h0m10 0h0m13 0h0m16 0h0m1 0h0m-43 1h0m1 0h0m2 0h0m5 0h0m10 0h0m1 0h0m6 0h0m-22 1h0m13 0h0m-12 1h0m10 0h0m5 0h0m-25 1h0m2 0h0m2 0h0m13 0h0m7 0h0m-15 1h0m8 0h0m16 1h0m-31 1h0m25 0h0m7 0h0m-33 1h0"/>
<path stroke="#2866b8" d="M473 213h0m-10 8h0m8 0h0m-11 1h0m2 1h0m4 0h0m7 0h0m1 0h0m3 0h0m5 0h0m-25 1h0m10 0h0m1 0h0m1 0h0m3 0h0m2 0h0m4 0h0m-24 1h0m8 0h0m3 0h0m1 0h0m1 0h0m2 0h0m4 0h0m-18 1h0m4 0h0m14 0h0m2 0h0m-20 1h0m20 0h0m1 0h0m-27 1h0m5 0h0m1 0h0m1 0h0m22 0h0m-24 1h0m23 0h0m2 0h0m-21 1h0m18 0h0m1 0h0m-27 1h0m6 0h0m19 0h0m4 0h0m-25 1h0m2 0h0m17 0h0m-21 1h0m21 0h0m1 0h0m1 0h0m8 0h0m-34 1h0m1 0h0m1 0h0m2 1h0m17 0h0m1 0h0m-21 1h0m1 0h0m2 0h0m1 0h0m12 0h0m7 0h0m-18 1h0m15 0h0m1 0h0m4 0h0m-23 1h0m3 0h0m7 0h0m1 0h0m9 0h0m-6 1h0m3 0h0m1 0h0m-12 1h0m1 0h0m3 0h0m1 1h0m4 0h0m-9 1h0m3 0h0"/>
<path stroke="#3fd34a" d="M452 229h0m-3 1h0m2 0h0m-3 1h0m-3 1h0m1 0h0m1 0h0m-3 1h0m1 0h0m3 0h0m-4 1h0m1 0h0m2 0h0m1 0h0m-8 1h0m1 0h0m1 0h0m3 0h0m1 0h0m-5 1h0m3 0h0m-6 1h0m1 0h0m4 0h0m1 0h0m-2 1h0m1 0h0m-7 1h0m1 0h0m4 0h0m-5 1h0m2 0h0m1 0h0m-5 1h0m2 0h0m2 0h0m1 0h0m-5 1h0m1 0h0m2 0h0m1 0h0m-5 1h0m2 0h0m1 0h0m-6 1h0m2 0h0m1 0h0m1 0h0m-4 1h0m2 0h0m-4 1h0m3 0h0"/>
<path stroke="#3cb0e8" d="M474 222h0m-11 2h0m1 0h0m1 0h0m3 0h0m3 0h0m8 0h0m-12 1h0m2 0h0m2 0h0m1 0h0m-14 1h0m2 0h0m1 0h0m5 0h0m1 0h0m6 0h0m2 0h0m-17 1h0m1 0h0m1 0h0m2 0h0m7 0h0m4 0h0m9 0h0m-27 1h0m1 0h0m1 0h0m1 0h0m4 0h0m3 0h0m6 0h0m1 0h0m-14 1h0m12 0h0m3 0h0m-18 1h0m1 0h0m1 0h0m1 0h0m14 0h0m1 0h0m1 0h0m-21 1h0m5 0h0m16 0h0m-22 1h0m2 0h0m1 0h0m3 0h0m12 0h0m-16 1h0m16 0h0m2 0h0m-23 1h0m4 0h0m2 1h0m3 0h0m4 0h0m6 0h0m3 0h0m4 0h0m-25 1h0m3 0h0m1 0h0m2 0h0m1 0h0m3 0h0m7 0h0m-14 1h0m1 0h0m1 0h0m4 0h0m2 0h0m1 0h0m2 0h0m2 0h0m-10 1h0m1 0h0m2 0h0m5 0h0m-7 1h0m1 0h0m2 0h0m3 0h0m-4 2h0m3 1h0"/>
<path stroke="#2f7fd0" d="M446 229h0m0 2h0m-2 1h0m-5 3h0m1 0h0m5 0h0m1 0h0m-1 1h0m2 0h0m2 0h0m-13 1h0m7 0h0m2 0h0m-10 2h0m1 0h0m1 0h0m6 0h0m1 0h0m-10 1h0m9 0h0m1 0h0m-6 1h0m1 0h0m4 0h0m-11 1h0m2 0h0m4 0h0m1 0h0m1 0h0m-4 1h0m1 0h0m-4 1h0m2 0h0m-1 1h0m-1 1h0m-3 3h0"/>
<path stroke="#3cc8a0" d="M474 224h0m-12 2h0m1 0h0m1 0h0m2 0h0m-6 1h0m1 0h0m2 0h0m3 0h0m1 0h0m2 0h0m1 0h0m-16 1h0m7 0h0m12 0h0m-13 1h0m12 0h0m-12 1h0m14 0h0m-14 1h0m11 0h0m6 0h0m-18 1h0m2 0h0m9 0h0m1 0h0m-17 1h0m1 0h0m1 0h0m1 0h0m1 0h0m11 0h0m2 0h0m-16 1h0m3 0h0m1 0h0m9 0h0m1 0h0m-15 1h0m4 0h0m9 0h0m1 0h0m-8 1h0m1 0h0m2 0h0m2 0h0m-3 1h0m-5 1h0m2 0h0m4 0h0m2 0h0"/>
<path stroke="#d8702a" d="M446 232h0m2 1h0m-5 1h0m1 0h0m2 0h0m-4 1h0m1 0h0m1 0h0m-3 1h0m1 0h0m1 0h0m1 0h0m-4 1h0m1 0h0m1 0h0m-5 1h0m2 0h0m1 0h0m1 0h0m-4 1h0m1 0h0m1 0h0m1 0h0m-3 1h0m1 0h0m2 0h0m-5 1h0m2 0h0m-2 1h0m-3 2h0"/>
<path stroke="#4cc0e0" d="M441 233h0m-1 1h0m2 0h0m1 0h0m-3 1h0m2 0h0m1 0h0m1 0h0m-5 1h0m1 0h0m1 0h0m1 0h0m3 0h0m-7 1h0m2 0h0m1 0h0m1 0h0m4 0h0m-8 1h0m2 0h0m-1 1h0m1 0h0m-1 1h0m2 0h0m-4 1h0m1 0h0m2 0h0"/>
<path stroke="#3fd84a" d="M464 227h0m3 0h0m-3 1h0m1 0h0m1 0h0m1 0h0m2 0h0m-7 1h0m1 0h0m1 0h0m1 0h0m1 0h0m2 0h0m2 0h0m-8 1h0m2 0h0m1 0h0m1 0h0m1 0h0m1 0h0m-10 1h0m2 0h0m2 0h0m2 0h0m1 0h0m1 0h0m1 0h0m2 0h0m2 0h0m1 0h0m-13 1h0m1 0h0m2 0h0m1 0h0m1 0h0m1 0h0m1 0h0m2 0h0m-7 1h0m1 0h0m2 0h0m1 0h0m1 0h0m-8 1h0m2 0h0m2 0h0m6 0h0m-4 1h0m1 0h0m-8 1h0"/>
</g>
<path d="M409.2 168.5H507.3V266.2H409.2" fill="none" stroke="#2e3432" stroke-width="1.2"/>
<line x1="409.2" y1="168.5" x2="409.2" y2="266.2" stroke="#9aa8a8" stroke-width="0.9" stroke-dasharray="1 1.5"/>
<line x1="407.2" y1="239.1" x2="409.2" y2="239.1" stroke="#6a7a7a" stroke-width="0.8"/>
<line x1="407.2" y1="211.9" x2="409.2" y2="211.9" stroke="#6a7a7a" stroke-width="0.8"/>
<line x1="407.2" y1="184.8" x2="409.2" y2="184.8" stroke="#6a7a7a" stroke-width="0.8"/>
<line x1="409.2" y1="222.8" x2="507.3" y2="222.8" stroke="#3c4442" stroke-width="1.1"/>
<line x1="451.2" y1="168.5" x2="451.2" y2="266.2" stroke="#3c4442" stroke-width="1.1"/>
<g font-family="&quot;Liberation Serif&quot;, serif" font-size="12px" fill="#111" stroke="#111" stroke-width="0.25">
<line x1="465.7" y1="185.4" x2="498.0" y2="185.4" stroke="#111" stroke-width="1.3"/>
<line x1="481.2" y1="171.20000000000002" x2="481.2" y2="198.4" stroke="#111" stroke-width="1.3"/>
<text x="477.8" y="181.5" text-anchor="end">0</text>
<text x="486.2" y="181.5">1</text>
<text x="477.8" y="197.1" text-anchor="end">51</text>
<text x="486.7" y="197.1">48</text>
</g>
<g stroke-width="1.8" stroke-linecap="square" fill="none" transform="translate(0.5 0.5)">
<path stroke="#1b2a4c" d="M89 296h0m-2 2h0m11 0h0m-8 2h0m-4 1h0m-12 1h0m16 0h0m2 0h0m1 0h0m-6 1h0m13 2h0m-4 2h0m-16 1h0m18 0h0m15 1h0m-42 1h0m8 0h0m19 0h0m1 0h0m-30 1h0m11 0h0m24 0h0m-27 2h0m10 2h0m9 0h0m-13 1h0m5 0h0m1 0h0m9 0h0m-17 1h0m10 0h0m12 0h0m-25 1h0m14 1h0m-29 1h0m-6 1h0m46 0h0m-18 1h0m11 0h0m-31 1h0m3 0h0m19 0h0m11 0h0m-44 1h0m7 0h0m8 0h0m21 0h0m9 0h0m-6 1h0m6 0h0m-36 1h0m3 0h0m14 0h0m6 0h0m2 0h0m11 0h0m-31 1h0m7 0h0m3 0h0m7 0h0m3 0h0m9 0h0m2 0h0m4 0h0m7 0h0m-33 1h0m1 0h0m1 0h0m2 0h0m2 0h0m2 0h0m3 0h0m1 0h0m1 0h0m15 0h0m-52 1h0m10 0h0m9 0h0m3 0h0m2 0h0m4 0h0m5 0h0m2 0h0m1 0h0m7 0h0m2 0h0m-42 1h0m4 0h0m3 0h0m10 0h0m3 0h0m5 0h0m3 0h0m2 0h0m5 0h0m10 0h0m2 0h0m-52 1h0m6 0h0m6 0h0m6 0h0m9 0h0m1 0h0m3 0h0m6 0h0m5 0h0m1 0h0m3 0h0m3 0h0m-45 1h0m1 0h0m5 0h0m8 0h0m6 0h0m3 0h0m1 0h0m10 0h0m4 0h0m3 0h0m-41 1h0m5 0h0m1 0h0m3 0h0m5 0h0m2 0h0m1 0h0m1 0h0m7 0h0m14 0h0m1 0h0m2 0h0m4 0h0m14 0h0m-52 1h0m1 0h0m2 0h0m10 0h0m3 0h0m19 0h0m1 0h0m2 0h0m3 0h0m2 0h0m-55 1h0m3 0h0m1 0h0m9 0h0m11 0h0m1 0h0m27 0h0m11 0h0m-49 1h0m2 0h0m28 0h0m5 0h0m3 0h0m4 0h0m-54 1h0m9 0h0m2 0h0m6 0h0m26 0h0m10 0h0m2 0h0m-59 1h0m11 0h0m2 0h0m6 0h0m2 0h0m29 0h0m12 0h0m-63 1h0m10 0h0m9 0h0m39 0h0m-56 1h0m10 0h0m2 0h0m1 0h0m2 0h0m1 0h0m2 0h0m33 0h0m9 0h0m-62 1h0m11 0h0m7 0h0m4 0h0m1 0h0m29 0h0m1 0h0m1 0h0m3 0h0m-60 1h0m4 0h0m11 0h0m3 0h0m2 0h0m35 0h0m-55 1h0m3 0h0m10 0h0m1 0h0m14 0h0m26 0h0m8 0h0m-53 1h0m6 0h0m2 0h0m5 0h0m1 0h0m4 0h0m38 0h0m-67 1h0m1 0h0m5 0h0m6 0h0m12 0h0m1 0h0m2 0h0m33 0h0m1 0h0m-51 1h0m4 0h0m1 0h0m1 0h0m6 0h0m34 0h0m1 0h0m6 0h0m-63 1h0m8 0h0m16 0h0m2 0h0m3 0h0m25 0h0m2 0h0m1 0h0m3 0h0m-60 1h0m3 0h0m2 0h0m3 0h0m18 0h0m6 0h0m24 0h0m7 0h0m1 0h0m-70 1h0m13 0h0m1 0h0m1 0h0m2 0h0m7 0h0m4 0h0m6 0h0m3 0h0m19 0h0m2 0h0m4 0h0m2 0h0m2 0h0m2 0h0m2 0h0m1 0h0m-61 1h0m6 0h0m2 0h0m16 0h0m1 0h0m6 0h0m7 0h0m10 0h0m3 0h0m-40 1h0m9 0h0m2 0h0m3 0h0m3 0h0m3 0h0m7 0h0m8 0h0m1 0h0m-50 1h0m2 0h0m1 0h0m3 0h0m23 0h0m3 0h0m1 0h0m1 0h0m2 0h0m6 0h0m5 0h0m-45 1h0m18 0h0m4 0h0m2 0h0m7 0h0m2 0h0m2 0h0m4 0h0m3 0h0m10 0h0m-57 1h0m5 0h0m4 0h0m14 0h0m2 0h0m3 0h0m7 0h0m1 0h0m1 0h0m8 0h0m1 0h0m2 0h0m-46 1h0m29 0h0m1 0h0m2 0h0m2 0h0m3 0h0m1 0h0m1 0h0m3 0h0m4 0h0m7 0h0m-27 1h0m11 0h0m2 0h0m-36 1h0m21 0h0m6 0h0m12 0h0m13 0h0m-58 1h0m26 0h0m4 0h0m7 0h0m1 0h0m8 0h0m8 0h0m8 0h0m-25 1h0m6 0h0m8 0h0m-46 1h0m15 0h0m6 0h0m-26 1h0m43 1h0m12 0h0m-58 4h0"/>
<path stroke="#2866b8" d="M93 306h0m-10 2h0m2 1h0m8 1h0m0 2h0m-3 1h0m-4 14h0m1 2h0m4 0h0m3 0h0m-11 1h0m9 0h0m-12 1h0m7 0h0m1 0h0m5 0h0m-17 1h0m1 0h0m6 0h0m4 0h0m6 0h0m-18 1h0m1 0h0m4 0h0m1 0h0m3 0h0m1 0h0m2 0h0m2 0h0m1 0h0m3 0h0m-21 1h0m1 0h0m4 0h0m2 0h0m3 0h0m1 0h0m6 0h0m1 0h0m1 0h0m1 0h0m1 0h0m-25 1h0m7 0h0m4 0h0m1 0h0m4 0h0m1 0h0m7 0h0m2 0h0m2 0h0m1 0h0m1 0h0m4 0h0m-29 1h0m15 0h0m6 0h0m3 0h0m-22 1h0m15 0h0m7 0h0m2 0h0m-2 1h0m-26 1h0m4 0h0m2 0h0m2 0h0m18 0h0m1 0h0m3 0h0m-35 1h0m2 0h0m1 0h0m6 0h0m20 0h0m1 0h0m1 0h0m-26 1h0m1 0h0m1 0h0m1 0h0m22 0h0m2 0h0m5 0h0m-34 1h0m26 0h0m-25 1h0m3 0h0m22 0h0m1 0h0m1 0h0m-25 1h0m1 0h0m22 0h0m6 0h0m3 0h0m-34 1h0m1 0h0m3 0h0m1 0h0m16 0h0m1 0h0m1 0h0m3 0h0m5 0h0m-27 1h0m19 0h0m1 0h0m-30 1h0m8 0h0m1 0h0m2 0h0m9 0h0m3 0h0m4 0h0m1 0h0m3 0h0m2 0h0m2 0h0m-20 1h0m2 0h0m7 0h0m1 0h0m1 0h0m7 0h0m5 0h0m-31 1h0m11 0h0m3 0h0m1 0h0m3 0h0m7 0h0m-26 1h0m5 0h0m4 0h0m2 0h0m2 0h0m3 0h0m2 0h0m6 0h0m-19 1h0m6 0h0m3 0h0m2 0h0m1 0h0m5 0h0m5 0h0m-24 1h0m1 0h0m6 0h0m3 0h0m2 0h0m1 0h0m-13 1h0m5 0h0m2 0h0m3 0h0m6 0h0m-16 1h0m7 0h0m3 0h0m-1 1h0m4 0h0m5 1h0m-13 1h0"/>
<path stroke="#3cb0e8" d="M87 329h0m7 1h0m0 1h0m-10 1h0m2 0h0m1 0h0m3 0h0m-6 1h0m4 0h0m4 0h0m-13 1h0m2 0h0m1 0h0m2 0h0m1 0h0m4 0h0m1 0h0m1 0h0m3 0h0m-25 1h0m11 0h0m1 0h0m3 0h0m1 0h0m1 0h0m2 0h0m1 0h0m1 0h0m3 0h0m-17 1h0m1 0h0m2 0h0m7 0h0m1 0h0m2 0h0m2 0h0m1 0h0m2 0h0m1 0h0m1 0h0m2 0h0m-23 1h0m1 0h0m1 0h0m2 0h0m2 0h0m2 0h0m6 0h0m1 0h0m2 0h0m2 0h0m1 0h0m2 0h0m-21 1h0m4 0h0m1 0h0m3 0h0m5 0h0m2 0h0m4 0h0m1 0h0m1 0h0m2 0h0m-29 1h0m2 0h0m1 0h0m4 0h0m2 0h0m11 0h0m2 0h0m5 0h0m2 0h0m-26 1h0m1 0h0m1 0h0m1 0h0m2 0h0m15 0h0m3 0h0m1 0h0m-25 1h0m4 0h0m1 0h0m14 0h0m2 0h0m-24 1h0m6 0h0m3 0h0m15 0h0m1 0h0m2 0h0m-22 1h0m2 0h0m17 0h0m1 0h0m4 0h0m2 0h0m-30 1h0m5 0h0m1 0h0m1 0h0m2 0h0m11 0h0m1 0h0m1 0h0m1 0h0m-21 1h0m1 0h0m1 0h0m2 0h0m1 0h0m1 0h0m3 0h0m10 0h0m1 0h0m1 0h0m2 0h0m2 0h0m-26 1h0m2 0h0m3 0h0m1 0h0m8 0h0m5 0h0m1 0h0m1 0h0m1 0h0m2 0h0m-20 1h0m1 0h0m1 0h0m3 0h0m1 0h0m2 0h0m2 0h0m4 0h0m2 0h0m3 0h0m1 0h0m-20 1h0m1 0h0m3 0h0m4 0h0m2 0h0m1 0h0m1 0h0m8 0h0m-15 1h0m3 0h0m5 0h0m4 0h0m-13 1h0m5 0h0m2 0h0m1 0h0m2 0h0m4 0h0m-13 1h0m1 1h0m6 0h0"/>
<path stroke="#2f7fd0" d="M61 332h0m-1 2h0m1 0h0m-7 1h0m2 0h0m-2 1h0m6 0h0m1 0h0m-9 1h0m1 0h0m9 0h0m-9 1h0m7 0h0m-9 1h0m1 0h0m0 1h0m7 0h0m-7 1h0m5 0h0m-6 1h0m7 0h0m-9 1h0m1 0h0m2 0h0m3 0h0m6 0h0m-12 1h0m2 0h0m5 0h0m-5 2h0m1 0h0"/>
<path stroke="#3cc8a0" d="M83 335h0m1 0h0m5 0h0m-8 1h0m1 0h0m7 0h0m-10 1h0m1 0h0m1 0h0m3 0h0m1 0h0m2 0h0m1 0h0m2 0h0m-13 1h0m2 0h0m1 0h0m0 1h0m7 0h0m2 0h0m2 0h0m1 0h0m-12 1h0m10 0h0m1 0h0m1 0h0m1 0h0m-18 1h0m2 0h0m13 0h0m2 0h0m-15 1h0m2 0h0m11 0h0m7 0h0m-20 1h0m1 0h0m1 0h0m12 0h0m1 0h0m-17 1h0m3 0h0m2 0h0m1 0h0m8 0h0m-15 1h0m5 0h0m1 0h0m2 0h0m5 0h0m1 0h0m-10 1h0m1 0h0m1 0h0m4 0h0m1 0h0m1 0h0m-8 1h0m1 0h0m5 0h0m5 0h0m-11 1h0m2 0h0m5 0h0m1 0h0m3 0h0m-17 1h0m10 0h0m0 1h0"/>
<path stroke="#4cc0e0" d="M59 336h0m0 1h0m-4 1h0m1 0h0m2 0h0m-5 1h0m1 0h0m1 0h0m1 0h0m-2 1h0m2 0h0m1 0h0m-4 1h0m3 0h0m1 0h0m-4 1h0m1 0h0m1 0h0m-4 1h0m2 0h0m1 0h0"/>
<path stroke="#3fd84a" d="M83 336h0m2 0h0m5 0h0m-9 1h0m1 0h0m2 0h0m1 0h0m2 0h0m-4 1h0m2 0h0m1 0h0m1 0h0m1 0h0m-8 1h0m1 0h0m1 0h0m1 0h0m1 0h0m1 0h0m1 0h0m1 0h0m1 0h0m1 0h0m-11 1h0m1 0h0m2 0h0m1 0h0m1 0h0m1 0h0m1 0h0m1 0h0m1 0h0m1 0h0m1 0h0m1 0h0m-10 1h0m1 0h0m1 0h0m1 0h0m1 0h0m2 0h0m1 0h0m1 0h0m1 0h0m2 0h0m-13 1h0m2 0h0m1 0h0m1 0h0m1 0h0m2 0h0m1 0h0m1 0h0m1 0h0m1 0h0m1 0h0m2 0h0m-13 1h0m2 0h0m1 0h0m1 0h0m1 0h0m2 0h0m1 0h0m1 0h0m1 0h0m1 0h0m-12 1h0m1 0h0m1 0h0m1 0h0m1 0h0m1 0h0m1 0h0m1 0h0m1 0h0m1 0h0m2 0h0m-9 1h0m1 0h0m2 0h0m1 0h0m1 0h0m2 0h0m1 0h0m1 0h0m-12 1h0m3 0h0m1 0h0m2 0h0m1 0h0m1 0h0m1 0h0m2 0h0m-8 1h0m2 1h0"/>
</g>
<path d="M32 271.9H131.5V371H32" fill="none" stroke="#2e3432" stroke-width="1.2"/>
<line x1="32" y1="271.9" x2="32" y2="371" stroke="#9aa8a8" stroke-width="0.9" stroke-dasharray="1 1.5"/>
<line x1="30" y1="343.5" x2="32" y2="343.5" stroke="#6a7a7a" stroke-width="0.8"/>
<line x1="30" y1="315.9" x2="32" y2="315.9" stroke="#6a7a7a" stroke-width="0.8"/>
<line x1="30" y1="288.4" x2="32" y2="288.4" stroke="#6a7a7a" stroke-width="0.8"/>
<line x1="32" y1="325.7" x2="131.5" y2="325.7" stroke="#3c4442" stroke-width="1.1"/>
<line x1="74.2" y1="271.9" x2="74.2" y2="371" stroke="#3c4442" stroke-width="1.1"/>
<g font-family="&quot;Liberation Serif&quot;, serif" font-size="12px" fill="#111" stroke="#111" stroke-width="0.25">
<line x1="95.5" y1="291" x2="127.8" y2="291" stroke="#111" stroke-width="1.3"/>
<line x1="111" y1="276.8" x2="111" y2="304" stroke="#111" stroke-width="1.3"/>
<text x="107.6" y="287.1" text-anchor="end">3</text>
<text x="116" y="287.1">7</text>
<text x="107.6" y="302.7" text-anchor="end">18</text>
<text x="116.5" y="302.7">72</text>
</g>
<g stroke-width="1.8" stroke-linecap="square" fill="none" transform="translate(0.5 0.5)">
<path stroke="#1b2a4c" d="M205 312h0m0 7h0m-19 1h0m18 1h0m10 0h0m-27 1h0m-7 2h0m13 0h0m10 0h0m-13 1h0m6 0h0m19 0h0m-14 1h0m-6 1h0m3 0h0m2 0h0m3 0h0m7 0h0m17 0h0m-48 1h0m5 0h0m10 0h0m2 0h0m2 0h0m3 0h0m1 0h0m1 0h0m7 0h0m10 0h0m-46 1h0m3 0h0m8 0h0m1 0h0m1 0h0m1 0h0m5 0h0m3 0h0m7 0h0m1 0h0m3 0h0m2 0h0m-37 1h0m6 0h0m3 0h0m1 0h0m2 0h0m3 0h0m2 0h0m1 0h0m4 0h0m2 0h0m1 0h0m5 0h0m3 0h0m2 0h0m11 0h0m-38 1h0m3 0h0m4 0h0m5 0h0m4 0h0m1 0h0m3 0h0m3 0h0m2 0h0m2 0h0m1 0h0m3 0h0m7 0h0m3 0h0m4 0h0m4 0h0m-57 1h0m5 0h0m7 0h0m1 0h0m2 0h0m2 0h0m4 0h0m2 0h0m4 0h0m2 0h0m4 0h0m4 0h0m-29 1h0m8 0h0m2 0h0m15 0h0m6 0h0m1 0h0m-46 1h0m5 0h0m10 0h0m33 0h0m-42 1h0m1 0h0m6 0h0m3 0h0m1 0h0m23 0h0m-39 1h0m4 0h0m1 0h0m11 0h0m4 0h0m20 0h0m1 0h0m4 0h0m2 0h0m-37 1h0m1 0h0m1 0h0m2 0h0m4 0h0m4 0h0m23 0h0m4 0h0m7 0h0m-58 1h0m14 0h0m31 0h0m-50 1h0m13 0h0m1 0h0m2 0h0m1 0h0m4 0h0m32 0h0m1 0h0m6 0h0m1 0h0m-52 1h0m2 0h0m1 0h0m4 0h0m1 0h0m2 0h0m31 0h0m3 0h0m1 0h0m-41 1h0m2 0h0m1 0h0m36 0h0m9 0h0m8 0h0m-59 1h0m2 0h0m1 0h0m1 0h0m2 0h0m35 0h0m4 0h0m1 0h0m1 0h0m2 0h0m2 0h0m-51 1h0m36 0h0m7 0h0m2 0h0m2 0h0m-48 1h0m3 0h0m4 0h0m1 0h0m33 0h0m5 0h0m-45 1h0m5 0h0m35 0h0m2 0h0m1 0h0m2 0h0m2 0h0m-44 1h0m1 0h0m5 0h0m28 0h0m5 0h0m11 0h0m-59 1h0m4 0h0m4 0h0m1 0h0m2 0h0m1 0h0m2 0h0m-4 1h0m1 0h0m4 0h0m4 0h0m27 0h0m3 0h0m-59 1h0m10 0h0m4 0h0m6 0h0m3 0h0m2 0h0m2 0h0m2 0h0m20 0h0m13 0h0m5 0h0m-49 1h0m5 0h0m6 0h0m11 0h0m2 0h0m1 0h0m12 0h0m1 0h0m1 0h0m-39 1h0m6 0h0m4 0h0m4 0h0m1 0h0m2 0h0m4 0h0m4 0h0m9 0h0m5 0h0m5 0h0m-48 1h0m2 0h0m2 0h0m1 0h0m5 0h0m1 0h0m5 0h0m6 0h0m5 0h0m3 0h0m2 0h0m3 0h0m4 0h0m8 0h0m-38 1h0m7 0h0m1 0h0m4 0h0m3 0h0m4 0h0m-24 1h0m3 0h0m3 0h0m2 0h0m2 0h0m14 0h0m2 0h0m4 0h0m1 0h0m1 0h0m2 0h0m5 0h0m-33 1h0m1 0h0m16 0h0m3 0h0m4 0h0m5 0h0m1 0h0m12 0h0m-59 1h0m25 0h0m2 0h0m4 0h0m13 0h0m-38 1h0m9 0h0m6 0h0m4 0h0m3 0h0m4 0h0m4 0h0m-33 1h0m16 0h0m6 0h0m2 0h0m4 0h0m5 0h0m17 0h0m-52 1h0m10 0h0m25 0h0m7 0h0m6 1h0m-20 1h0m-2 4h0"/>
<path stroke="#2866b8" d="M218 326h0m-15 2h0m-11 1h0m6 0h0m3 1h0m-11 1h0m7 0h0m-2 1h0m1 0h0m4 0h0m-16 1h0m8 0h0m3 0h0m2 0h0m2 0h0m-14 1h0m2 0h0m1 0h0m2 0h0m2 0h0m1 0h0m6 0h0m2 0h0m2 0h0m4 0h0m3 0h0m1 0h0m-33 1h0m5 0h0m4 0h0m5 0h0m8 0h0m7 0h0m2 0h0m-30 1h0m4 0h0m1 0h0m3 0h0m1 0h0m2 0h0m4 0h0m12 0h0m8 0h0m-40 1h0m5 0h0m4 0h0m2 0h0m20 0h0m2 0h0m1 0h0m12 0h0m-39 1h0m1 0h0m23 0h0m1 0h0m-31 1h0m4 0h0m3 0h0m6 0h0m16 0h0m1 0h0m2 0h0m3 0h0m1 0h0m1 0h0m1 0h0m-42 1h0m2 0h0m3 0h0m3 0h0m3 0h0m2 0h0m24 0h0m2 0h0m-36 1h0m2 0h0m8 0h0m28 0h0m5 0h0m-39 1h0m1 0h0m1 0h0m1 0h0m28 0h0m1 0h0m2 0h0m-29 1h0m25 0h0m1 0h0m3 0h0m4 0h0m3 0h0m-47 1h0m7 0h0m27 0h0m1 0h0m3 0h0m-36 1h0m3 0h0m2 0h0m2 0h0m-3 1h0m8 0h0m1 0h0m16 0h0m1 0h0m1 0h0m-32 1h0m8 0h0m1 0h0m1 0h0m2 0h0m3 0h0m9 0h0m-24 1h0m2 0h0m6 0h0m1 0h0m8 0h0m2 0h0m4 0h0m1 0h0m5 0h0m2 0h0m1 0h0m3 0h0m3 0h0m-31 1h0m1 0h0m7 0h0m1 0h0m3 0h0m4 0h0m3 0h0m6 0h0m-26 1h0m9 0h0m1 0h0m3 0h0m9 0h0m2 0h0m2 0h0m8 0h0m-31 1h0m5 0h0m1 0h0m2 0h0m5 0h0m1 0h0m1 0h0m-14 1h0m8 0h0m14 0h0m-20 1h0m6 0h0m-27 1h0m2 0h0m17 0h0m14 0h0m-32 1h0m1 0h0m1 0h0m15 0h0m-14 1h0m16 1h0"/>
<path stroke="#3cb0e8" d="M192 331h0m7 0h0m-8 1h0m7 0h0m2 0h0m-9 1h0m2 0h0m1 0h0m1 0h0m1 0h0m5 0h0m-8 1h0m2 0h0m3 0h0m1 0h0m3 0h0m4 0h0m2 0h0m-23 1h0m1 0h0m2 0h0m2 0h0m2 0h0m1 0h0m3 0h0m2 0h0m1 0h0m1 0h0m-16 1h0m2 0h0m1 0h0m2 0h0m1 0h0m4 0h0m2 0h0m2 0h0m1 0h0m1 0h0m1 0h0m2 0h0m-18 1h0m1 0h0m2 0h0m1 0h0m1 0h0m7 0h0m5 0h0m3 0h0m2 0h0m1 0h0m1 0h0m2 0h0m-37 1h0m13 0h0m1 0h0m1 0h0m1 0h0m1 0h0m5 0h0m5 0h0m2 0h0m1 0h0m2 0h0m2 0h0m-33 1h0m6 0h0m1 0h0m21 0h0m1 0h0m1 0h0m1 0h0m2 0h0m-28 1h0m4 0h0m1 0h0m1 0h0m1 0h0m1 0h0m1 0h0m14 0h0m1 0h0m4 0h0m-27 1h0m3 0h0m1 0h0m1 0h0m16 0h0m3 0h0m1 0h0m1 0h0m1 0h0m1 0h0m-32 1h0m8 0h0m2 0h0m17 0h0m1 0h0m-26 1h0m4 0h0m5 0h0m15 0h0m1 0h0m1 0h0m1 0h0m4 0h0m-26 1h0m2 0h0m16 0h0m1 0h0m2 0h0m5 0h0m-30 1h0m4 0h0m1 0h0m1 0h0m1 0h0m11 0h0m3 0h0m1 0h0m2 0h0m-25 1h0m4 0h0m2 0h0m2 0h0m1 0h0m11 0h0m1 0h0m1 0h0m1 0h0m1 0h0m8 0h0m-26 1h0m2 0h0m2 0h0m1 0h0m1 0h0m4 0h0m1 0h0m1 0h0m1 0h0m1 0h0m1 0h0m1 0h0m3 0h0m5 0h0m-25 1h0m1 0h0m3 0h0m2 0h0m1 0h0m1 0h0m1 0h0m1 0h0m1 0h0m1 0h0m2 0h0m2 0h0m2 0h0m-17 1h0m2 0h0m1 0h0m1 0h0m2 0h0m1 0h0m3 0h0m2 0h0m2 0h0m2 0h0m1 0h0m1 0h0m2 0h0m-16 1h0m3 0h0m3 0h0m8 0h0m-17 1h0m7 0h0m4 0h0m-7 1h0"/>
<path stroke="#3cc8a0" d="M190 334h0m7 0h0m2 0h0m0 1h0m5 0h0m-11 1h0m1 0h0m2 0h0m2 0h0m2 0h0m11 0h0m-24 1h0m3 0h0m1 0h0m1 0h0m3 0h0m1 0h0m3 0h0m-15 1h0m1 0h0m3 0h0m1 0h0m1 0h0m1 0h0m2 0h0m4 0h0m1 0h0m3 0h0m3 0h0m-17 1h0m2 0h0m2 0h0m2 0h0m7 0h0m2 0h0m1 0h0m2 0h0m-21 1h0m3 0h0m3 0h0m11 0h0m2 0h0m2 0h0m-19 1h0m15 0h0m1 0h0m1 0h0m1 0h0m-20 1h0m1 0h0m1 0h0m2 0h0m14 0h0m1 0h0m1 0h0m1 0h0m1 0h0m-22 1h0m1 0h0m1 0h0m1 0h0m13 0h0m1 0h0m1 0h0m2 0h0m-18 1h0m1 0h0m1 0h0m13 0h0m1 0h0m-16 1h0m1 0h0m1 0h0m2 0h0m2 0h0m3 0h0m3 0h0m4 0h0m-15 1h0m1 0h0m1 0h0m2 0h0m1 0h0m1 0h0m5 0h0m5 0h0m-15 1h0m1 0h0m3 0h0m1 0h0m2 0h0m1 0h0m1 0h0m2 0h0m-12 1h0m4 0h0m4 0h0m3 0h0"/>
<path stroke="#3fd84a" d="M194 335h0m-5 2h0m4 0h0m1 0h0m1 0h0m1 0h0m3 0h0m1 0h0m-8 1h0m2 0h0m2 0h0m1 0h0m1 0h0m3 0h0m1 0h0m-13 1h0m1 0h0m1 0h0m1 0h0m1 0h0m1 0h0m1 0h0m1 0h0m1 0h0m1 0h0m1 0h0m2 0h0m-13 1h0m1 0h0m1 0h0m2 0h0m1 0h0m1 0h0m2 0h0m1 0h0m1 0h0m1 0h0m1 0h0m3 0h0m-17 1h0m3 0h0m1 0h0m1 0h0m1 0h0m1 0h0m1 0h0m1 0h0m1 0h0m1 0h0m1 0h0m1 0h0m1 0h0m1 0h0m-17 1h0m4 0h0m1 0h0m1 0h0m1 0h0m2 0h0m1 0h0m2 0h0m1 0h0m2 0h0m2 0h0m1 0h0m-17 1h0m3 0h0m1 0h0m1 0h0m1 0h0m1 0h0m1 0h0m1 0h0m1 0h0m1 0h0m2 0h0m1 0h0m1 0h0m-11 1h0m1 0h0m3 0h0m1 0h0m1 0h0m1 0h0m1 0h0m1 0h0m1 0h0m-10 1h0m1 0h0m1 0h0m2 0h0m1 0h0m1 0h0m1 0h0m1 0h0m4 0h0m1 0h0m-8 1h0m5 0h0m-5 1h0m2 0h0m-4 2h0"/>
</g>
<path d="M147.7 271.9H245.3V370H147.7" fill="none" stroke="#2e3432" stroke-width="1.2"/>
<line x1="147.7" y1="271.9" x2="147.7" y2="370" stroke="#9aa8a8" stroke-width="0.9" stroke-dasharray="1 1.5"/>
<line x1="145.7" y1="342.8" x2="147.7" y2="342.8" stroke="#6a7a7a" stroke-width="0.8"/>
<line x1="145.7" y1="315.5" x2="147.7" y2="315.5" stroke="#6a7a7a" stroke-width="0.8"/>
<line x1="145.7" y1="288.2" x2="147.7" y2="288.2" stroke="#6a7a7a" stroke-width="0.8"/>
<line x1="147.7" y1="326.8" x2="245.3" y2="326.8" stroke="#3c4442" stroke-width="1.1"/>
<line x1="189.9" y1="271.9" x2="189.9" y2="370" stroke="#3c4442" stroke-width="1.1"/>
<g font-family="&quot;Liberation Serif&quot;, serif" font-size="12px" fill="#111" stroke="#111" stroke-width="0.25">
<line x1="210.7" y1="291.5" x2="243.0" y2="291.5" stroke="#111" stroke-width="1.3"/>
<line x1="226.2" y1="277.3" x2="226.2" y2="304.5" stroke="#111" stroke-width="1.3"/>
<text x="222.79999999999998" y="287.6" text-anchor="end">1</text>
<text x="231.2" y="287.6">3</text>
<text x="222.79999999999998" y="303.2" text-anchor="end">29</text>
<text x="231.7" y="303.2">67</text>
</g>
<g stroke-width="1.8" stroke-linecap="square" fill="none" transform="translate(0.5 0.5)">
<path stroke="#3ea6e2" d="M331 335h0m-3 1h0m3 0h0m-4 1h0m4 0h0m-6 1h0m3 0h0m4 0h0m1 0h0m-9 1h0m4 2h0m-9 1h0m2 0h0m8 0h0m-10 2h0m-1 2h0m6 0h0m-4 3h0m4 0h0m-5 3h0m-8 1h0m2 0h0m-4 1h0m6 0h0m1 0h0m-7 1h0m1 0h0m3 0h0m-1 1h0m1 0h0m-7 2h0m2 0h0m4 1h0"/>
<path stroke="#1b2a4c" d="M355 316h0m12 3h0m-7 3h0m-6 1h0m-12 1h0m14 0h0m4 1h0m10 0h0m2 0h0m3 1h0m3 0h0m1 0h0m-38 1h0m15 0h0m2 0h0m1 0h0m5 0h0m3 0h0m-34 1h0m26 0h0m3 0h0m16 0h0m1 0h0m-32 1h0m3 0h0m6 0h0m6 0h0m1 0h0m6 0h0m4 0h0m6 0h0m-37 1h0m6 0h0m7 0h0m1 0h0m-21 1h0m11 0h0m4 0h0m7 0h0m17 0h0m10 0h0m-57 1h0m15 0h0m8 0h0m3 0h0m15 0h0m15 0h0m-54 1h0m3 0h0m2 0h0m7 0h0m8 0h0m6 0h0m10 0h0m4 0h0m2 0h0m4 0h0m-35 1h0m21 0h0m14 0h0m11 0h0m-54 1h0m34 0h0m16 0h0m-63 1h0m14 0h0m-8 1h0m1 0h0m2 0h0m40 0h0m-46 1h0m5 0h0m7 0h0m2 0h0m4 0h0m34 0h0m10 0h0m-54 1h0m43 0h0m-53 1h0m4 0h0m1 0h0m3 0h0m3 0h0m2 0h0m2 0h0m2 0h0m32 0h0m-50 1h0m2 0h0m8 0h0m3 0h0m2 0h0m2 0h0m31 0h0m5 0h0m7 0h0m2 0h0m3 0h0m-49 1h0m1 0h0m1 0h0m-21 1h0m13 0h0m1 0h0m9 0h0m35 0h0m3 0h0m-63 1h0m6 0h0m10 0h0m1 0h0m-13 1h0m4 0h0m11 0h0m3 0h0m30 0h0m-41 1h0m2 0h0m8 0h0m33 0h0m4 0h0m4 0h0m-64 1h0m20 0h0m6 0h0m3 0h0m24 0h0m-38 1h0m3 0h0m2 0h0m8 0h0m1 0h0m16 0h0m7 0h0m3 0h0m-43 1h0m6 0h0m2 0h0m1 0h0m2 0h0m1 0h0m1 0h0m27 0h0m5 0h0m3 0h0m-61 1h0m11 0h0m11 0h0m3 0h0m2 0h0m2 0h0m2 0h0m1 0h0m7 0h0m5 0h0m5 0h0m7 0h0m4 0h0m1 0h0m6 0h0m-54 1h0m2 0h0m2 0h0m1 0h0m3 0h0m4 0h0m11 0h0m17 0h0m-53 1h0m20 0h0m3 0h0m10 0h0m1 0h0m15 0h0m-49 1h0m12 0h0m15 0h0m1 0h0m1 0h0m2 0h0m18 0h0m-51 1h0m4 0h0m8 0h0m5 0h0m21 0h0m2 0h0m1 0h0m-41 1h0m4 0h0m4 0h0m2 0h0m5 0h0m10 0h0m7 0h0m14 0h0m1 0h0m16 0h0m-61 1h0m4 0h0m27 0h0m1 0h0m2 0h0m4 0h0m-47 1h0m16 0h0m1 0h0m2 0h0m23 0h0m2 0h0m5 0h0m9 0h0m-51 1h0m1 0h0m1 0h0m11 0h0m31 0h0m-15 1h0m1 0h0m2 0h0m8 0h0m6 0h0m4 0h0m-47 1h0m6 0h0m21 0h0m-24 1h0m-2 1h0m22 0h0m28 1h0m-55 2h0m1 0h0"/>
<path stroke="#3cc0b0" d="M328 337h0m-5 4h0m1 0h0m3 0h0m-3 1h0m1 0h0m-3 1h0m-1 1h0m4 0h0m-7 1h0m0 1h0m1 0h0m4 0h0m-7 1h0m7 0h0m-8 1h0m9 0h0m-9 1h0m1 0h0m5 0h0m-4 1h0m3 0h0m-9 3h0m3 0h0m2 0h0m2 0h0m-6 1h0m2 0h0m1 0h0m-3 1h0m3 0h0m-3 1h0m-3 1h0m1 2h0"/>
<path stroke="#2866b8" d="M356 327h0m-3 2h0m6 1h0m1 0h0m5 0h0m1 0h0m-11 1h0m1 0h0m4 1h0m6 0h0m4 0h0m-27 1h0m1 0h0m1 0h0m3 0h0m3 0h0m-7 1h0m3 0h0m2 0h0m13 0h0m6 0h0m6 0h0m-34 1h0m1 0h0m6 0h0m4 0h0m12 0h0m-25 1h0m8 0h0m13 0h0m8 0h0m-31 1h0m5 0h0m1 0h0m2 0h0m24 0h0m-26 1h0m2 0h0m1 0h0m24 0h0m-4 1h0m1 0h0m2 0h0m-26 1h0m20 0h0m2 0h0m1 0h0m1 0h0m1 0h0m-27 1h0m2 0h0m1 0h0m21 0h0m3 0h0m1 0h0m-25 1h0m23 0h0m1 0h0m-30 1h0m6 0h0m22 0h0m3 0h0m-33 1h0m2 0h0m28 0h0m-28 1h0m1 0h0m25 0h0m5 0h0m3 0h0m-34 1h0m1 0h0m3 0h0m2 0h0m2 0h0m14 0h0m14 0h0m-37 1h0m1 0h0m2 0h0m2 0h0m3 0h0m1 0h0m-5 1h0m9 0h0m13 0h0m2 0h0m-20 1h0m12 0h0m1 0h0m2 0h0m1 0h0m6 0h0m-23 1h0m2 0h0m2 0h0m4 0h0m1 0h0m1 0h0m2 0h0m-16 1h0m8 0h0m1 0h0m2 0h0m5 0h0m2 0h0m1 0h0m-30 1h0m18 0h0m3 0h0m10 0h0m-20 1h0m1 3h0m5 0h0m11 0h0"/>
<path stroke="#3cb0e8" d="M353 331h0m4 0h0m-6 1h0m11 0h0m-2 1h0m1 0h0m13 0h0m-25 1h0m3 0h0m1 0h0m4 0h0m2 0h0m8 0h0m-19 1h0m2 0h0m4 0h0m1 0h0m2 0h0m2 0h0m3 0h0m11 0h0m-22 1h0m3 0h0m2 0h0m1 0h0m1 0h0m1 0h0m9 0h0m-6 1h0m3 0h0m2 0h0m-25 1h0m7 0h0m1 0h0m1 0h0m8 0h0m3 0h0m1 0h0m-20 1h0m2 0h0m2 0h0m1 0h0m1 0h0m16 0h0m-21 1h0m18 0h0m1 0h0m4 0h0m-23 1h0m17 0h0m2 0h0m-23 1h0m3 0h0m2 0h0m17 0h0m1 0h0m1 0h0m-19 1h0m-4 1h0m5 0h0m11 0h0m3 0h0m1 0h0m-20 1h0m1 0h0m2 0h0m2 0h0m1 0h0m14 0h0m-17 1h0m1 0h0m13 0h0m4 0h0m-19 1h0m1 0h0m3 0h0m2 0h0m6 0h0m1 0h0m3 0h0m2 0h0m-18 1h0m6 0h0m1 0h0m3 0h0m1 0h0m2 0h0m2 0h0m2 0h0m-18 1h0m5 0h0m-3 1h0m5 0h0m-8 1h0m9 0h0m5 0h0"/>
<path stroke="#2f7fd0" d="M329 339h0m-4 1h0m2 0h0m1 0h0m-8 1h0m2 1h0m5 0h0m1 0h0m-6 1h0m2 0h0m2 0h0m-7 1h0m4 0h0m-6 1h0m6 2h0m1 0h0m-11 2h0m8 1h0m-8 1h0m2 0h0m1 0h0m3 0h0m1 0h0m2 0h0m-4 1h0m4 0h0m-10 1h0"/>
<path stroke="#3fd34a" d="M327 339h0m0 1h0m-2 1h0m1 0h0m-3 1h0m2 0h0m1 0h0m-4 1h0m1 0h0m-1 1h0m1 0h0m-4 1h0m2 0h0m2 0h0m-4 1h0m1 0h0m1 0h0m1 0h0m1 0h0m-6 1h0m2 0h0m1 0h0m1 0h0m1 0h0m-4 1h0m1 0h0m1 0h0m1 0h0m-4 1h0m1 0h0m2 0h0m-5 1h0m1 0h0m1 0h0m1 0h0m1 0h0m1 0h0m-5 1h0m1 0h0m-1 1h0m1 0h0m1 0h0m-3 2h0"/>
<path stroke="#3cc8a0" d="M353 332h0m5 3h0m-7 1h0m3 0h0m4 0h0m-8 1h0m4 0h0m2 0h0m3 0h0m1 0h0m1 0h0m-15 1h0m4 0h0m1 0h0m5 0h0m3 0h0m3 0h0m-13 1h0m-1 1h0m13 0h0m4 0h0m-23 1h0m4 0h0m14 0h0m2 0h0m-15 1h0m1 0h0m11 0h0m6 0h0m1 0h0m-20 1h0m1 0h0m15 0h0m-6 1h0m2 0h0m1 0h0m-15 1h0m3 0h0m2 0h0m7 0h0m2 0h0m3 0h0m-15 1h0m2 0h0m5 0h0m3 0h0m-1 1h0m-3 1h0m-5 1h0m3 0h0"/>
<path stroke="#4cc0e0" d="M322 344h0m-3 1h0m2 0h0m1 0h0m1 0h0m-1 1h0m-3 1h0m1 0h0m1 0h0m-1 1h0m-4 1h0m5 0h0m-5 1h0m3 0h0m-2 1h0m1 0h0m1 0h0m-2 1h0"/>
<path stroke="#3fd84a" d="M353 336h0m0 1h0m1 0h0m2 0h0m-7 1h0m2 0h0m2 0h0m1 0h0m1 0h0m1 0h0m1 0h0m1 0h0m2 0h0m-10 1h0m1 0h0m2 0h0m1 0h0m1 0h0m1 0h0m1 0h0m1 0h0m1 0h0m1 0h0m-13 1h0m2 0h0m1 0h0m1 0h0m1 0h0m1 0h0m1 0h0m1 0h0m2 0h0m1 0h0m2 0h0m1 0h0m3 0h0m-14 1h0m1 0h0m1 0h0m1 0h0m1 0h0m1 0h0m1 0h0m1 0h0m1 0h0m5 0h0m-18 1h0m6 0h0m1 0h0m1 0h0m3 0h0m1 0h0m1 0h0m2 0h0m-14 1h0m3 0h0m2 0h0m1 0h0m1 0h0m1 0h0m1 0h0m1 0h0m1 0h0m1 0h0m-8 1h0m2 0h0m1 0h0m2 0h0m1 0h0m5 0h0m-18 1h0m7 0h0m1 0h0m5 0h0m1 0h0m2 0h0m-6 1h0m2 0h0m2 0h0m-3 1h0"/>
</g>
<path d="M297.4 273.1H396.6V371.6H297.4" fill="none" stroke="#2e3432" stroke-width="1.2"/>
<line x1="297.4" y1="273.1" x2="297.4" y2="371.6" stroke="#9aa8a8" stroke-width="0.9" stroke-dasharray="1 1.5"/>
<line x1="295.4" y1="344.2" x2="297.4" y2="344.2" stroke="#6a7a7a" stroke-width="0.8"/>
<line x1="295.4" y1="316.9" x2="297.4" y2="316.9" stroke="#6a7a7a" stroke-width="0.8"/>
<line x1="295.4" y1="289.5" x2="297.4" y2="289.5" stroke="#6a7a7a" stroke-width="0.8"/>
<line x1="297.4" y1="327.3" x2="396.6" y2="327.3" stroke="#3c4442" stroke-width="1.1"/>
<line x1="338.9" y1="273.1" x2="338.9" y2="371.6" stroke="#3c4442" stroke-width="1.1"/>
<g font-family="&quot;Liberation Serif&quot;, serif" font-size="12px" fill="#111" stroke="#111" stroke-width="0.25">
<line x1="361.7" y1="292.2" x2="394.0" y2="292.2" stroke="#111" stroke-width="1.3"/>
<line x1="377.2" y1="278.0" x2="377.2" y2="305.2" stroke="#111" stroke-width="1.3"/>
<text x="373.8" y="288.3" text-anchor="end">0</text>
<text x="382.2" y="288.3">2</text>
<text x="373.8" y="303.9" text-anchor="end">37</text>
<text x="382.7" y="303.9">61</text>
</g>
<g stroke-width="1.8" stroke-linecap="square" fill="none" transform="translate(0.5 0.5)">
<path stroke="#3cc0b0" d="M456 328h0m-5 3h0m-3 1h0m-1 1h0m3 0h0m3 0h0m-6 1h0m2 0h0m1 0h0m1 0h0m1 0h0m-8 1h0m7 0h0m1 0h0m-8 1h0m-3 1h0m-1 1h0m8 0h0m2 0h0m-11 1h0m8 0h0m-11 1h0m2 0h0m-3 1h0m9 0h0m-11 1h0m1 0h0m2 0h0m7 0h0m-10 1h0m7 0h0m0 1h0m-3 1h0m-6 1h0m5 0h0m2 0h0m-7 1h0m1 0h0m3 0h0m-6 1h0m4 0h0m1 0h0m1 0h0m-6 1h0m4 0h0m1 0h0m-11 1h0m3 0h0m3 0h0"/>
<path stroke="#1b2a4c" d="M479 317h0m-11 2h0m3 0h0m15 0h0m-22 2h0m19 0h0m3 0h0m-29 1h0m14 0h0m-9 1h0m9 0h0m4 0h0m-5 1h0m-9 1h0m2 0h0m-11 1h0m1 0h0m9 0h0m6 0h0m3 0h0m7 0h0m2 0h0m3 0h0m2 0h0m-34 1h0m9 0h0m5 0h0m5 0h0m2 0h0m3 0h0m14 0h0m-36 1h0m5 0h0m17 0h0m4 0h0m2 0h0m-34 1h0m4 0h0m1 0h0m3 0h0m-22 1h0m11 0h0m5 0h0m4 0h0m27 0h0m-33 1h0m1 0h0m1 0h0m2 0h0m23 0h0m12 0h0m-51 1h0m9 0h0m6 0h0m1 0h0m7 0h0m30 0h0m-47 1h0m7 0h0m2 0h0m27 0h0m2 0h0m2 0h0m2 0h0m-48 1h0m12 0h0m2 0h0m6 0h0m24 0h0m-39 1h0m1 0h0m9 0h0m28 0h0m5 0h0m-48 1h0m4 0h0m2 0h0m2 0h0m1 0h0m1 0h0m5 0h0m3 0h0m33 0h0m-49 1h0m3 0h0m1 0h0m4 0h0m5 0h0m-19 1h0m9 0h0m2 0h0m1 0h0m2 0h0m1 0h0m23 0h0m10 0h0m4 0h0m1 0h0m-47 1h0m7 0h0m5 0h0m24 0h0m3 0h0m13 0h0m-57 1h0m5 0h0m10 0h0m1 0h0m3 0h0m19 0h0m1 0h0m10 0h0m2 0h0m-37 1h0m2 0h0m24 0h0m1 0h0m-42 1h0m2 0h0m1 0h0m4 0h0m2 0h0m27 0h0m3 0h0m1 0h0m2 0h0m-42 1h0m14 0h0m1 0h0m2 0h0m9 0h0m2 0h0m21 0h0m-45 1h0m8 0h0m1 0h0m1 0h0m1 0h0m3 0h0m2 0h0m12 0h0m4 0h0m2 0h0m2 0h0m9 0h0m-48 1h0m4 0h0m6 0h0m2 0h0m3 0h0m22 0h0m3 0h0m5 0h0m-44 1h0m8 0h0m1 0h0m21 0h0m3 0h0m-29 1h0m2 0h0m1 0h0m12 0h0m2 0h0m14 0h0m-31 1h0m3 0h0m34 0h0m-41 1h0m1 0h0m25 0h0m3 0h0m-37 1h0m4 0h0m2 0h0m31 0h0m1 0h0m5 0h0m-33 1h0m6 0h0m7 0h0m3 0h0m-30 1h0m20 0h0m-23 1h0m12 0h0m8 0h0m13 0h0m4 0h0m-10 1h0m-23 1h0m10 1h0"/>
<path stroke="#2866b8" d="M465 324h0m8 1h0m-9 1h0m19 0h0m-32 1h0m24 0h0m-18 1h0m6 0h0m10 0h0m-18 1h0m2 0h0m1 0h0m4 0h0m5 0h0m5 0h0m1 0h0m1 0h0m1 0h0m-25 1h0m1 0h0m8 0h0m1 0h0m14 0h0m-24 1h0m7 0h0m14 0h0m2 0h0m3 0h0m-28 1h0m9 0h0m13 0h0m1 0h0m-22 1h0m4 0h0m-5 1h0m6 0h0m18 0h0m9 0h0m-8 1h0m2 0h0m2 0h0m1 0h0m4 0h0m-41 1h0m6 0h0m3 0h0m18 0h0m4 0h0m-22 1h0m1 0h0m-6 1h0m1 0h0m3 0h0m22 0h0m-24 1h0m19 0h0m3 0h0m-25 1h0m9 0h0m14 0h0m5 0h0m-27 1h0m3 0h0m12 0h0m1 0h0m6 0h0m3 0h0m3 0h0m-22 1h0m1 0h0m1 0h0m6 0h0m5 0h0m2 0h0m5 0h0m2 0h0m-32 1h0m22 0h0m1 0h0m-4 1h0m1 0h0m-10 1h0m3 0h0m-8 1h0m6 0h0m14 0h0"/>
<path stroke="#3fd34a" d="M449 334h0m1 0h0m-3 1h0m2 0h0m-2 1h0m-5 1h0m1 0h0m5 0h0m-6 1h0m2 0h0m2 0h0m1 0h0m-7 1h0m1 0h0m4 0h0m1 0h0m-7 1h0m3 0h0m2 0h0m1 0h0m-8 1h0m1 0h0m-3 1h0m2 0h0m-3 1h0m1 0h0m1 0h0m3 0h0m1 0h0m-7 1h0m2 0h0m4 0h0m-5 1h0m1 0h0m1 0h0m-3 1h0m1 0h0"/>
<path stroke="#3cb0e8" d="M471 325h0m-6 1h0m2 0h0m-3 1h0m0 1h0m3 0h0m-2 1h0m1 0h0m4 0h0m1 0h0m-15 1h0m2 0h0m1 0h0m4 0h0m2 0h0m2 0h0m4 0h0m5 0h0m-20 1h0m1 0h0m1 0h0m7 0h0m4 0h0m2 0h0m-22 1h0m5 0h0m5 0h0m1 0h0m2 0h0m8 0h0m-6 1h0m5 0h0m4 0h0m-23 1h0m1 0h0m2 0h0m1 0h0m1 0h0m2 0h0m12 0h0m1 0h0m3 0h0m-24 1h0m2 0h0m20 0h0m2 0h0m1 0h0m-25 1h0m1 0h0m2 0h0m18 0h0m1 0h0m1 0h0m-24 1h0m2 0h0m20 0h0m-18 1h0m3 0h0m13 0h0m1 0h0m3 0h0m1 0h0m-9 1h0m1 0h0m1 0h0m2 0h0m-17 1h0m2 0h0m2 0h0m1 0h0m5 0h0m3 0h0m1 0h0m1 0h0m3 0h0m2 0h0m2 0h0m-25 1h0m5 0h0m2 0h0m2 0h0m3 0h0m3 0h0m1 0h0m6 0h0m-18 1h0m5 0h0m1 0h0m1 0h0m1 0h0m1 0h0m1 0h0m-16 1h0m12 1h0m2 0h0m-11 2h0"/>
<path stroke="#2f7fd0" d="M444 333h0m3 1h0m4 0h0m-7 1h0m5 1h0m-6 1h0m4 0h0m-8 1h0m7 0h0m1 0h0m1 0h0m2 0h0m-13 1h0m1 0h0m-2 1h0m1 0h0m7 0h0m1 0h0m5 0h0m-6 1h0m-7 1h0m7 0h0m1 0h0m-4 1h0m-9 1h0m3 0h0m5 0h0m2 0h0m-10 1h0m5 0h0m-2 1h0"/>
<path stroke="#3cc8a0" d="M463 329h0m4 1h0m1 0h0m3 0h0m-13 1h0m1 0h0m2 0h0m4 0h0m3 0h0m1 0h0m1 0h0m-15 1h0m2 0h0m4 0h0m5 0h0m2 0h0m1 0h0m-12 1h0m1 0h0m8 0h0m5 0h0m-18 1h0m1 0h0m1 0h0m11 0h0m1 0h0m1 0h0m2 0h0m-16 1h0m1 0h0m11 0h0m1 0h0m2 0h0m2 0h0m-17 1h0m2 1h0m11 0h0m-15 1h0m2 0h0m2 0h0m5 0h0m1 0h0m4 0h0m-12 1h0m1 0h0m4 0h0m2 0h0m1 0h0m4 0h0m-9 1h0m6 0h0m2 0h0m4 0h0m-4 1h0m-4 1h0"/>
<path stroke="#d8702a" d="M445 337h0m-3 1h0m2 0h0m1 0h0m-5 1h0m1 0h0m1 0h0m1 0h0m1 0h0m1 0h0m-6 1h0m1 0h0m1 0h0m1 0h0m1 0h0m-5 1h0m1 0h0m1 0h0m1 0h0m1 0h0m-5 1h0m2 0h0m1 0h0m1 0h0m-5 1h0m1 0h0m1 0h0m2 0h0m-5 1h0m1 0h0m1 0h0m-2 1h0m1 0h0"/>
<path stroke="#3fd84a" d="M464 331h0m7 0h0m-13 1h0m1 0h0m2 0h0m2 0h0m3 0h0m-7 1h0m1 0h0m1 0h0m1 0h0m1 0h0m1 0h0m1 0h0m-9 1h0m2 0h0m1 0h0m1 0h0m2 0h0m1 0h0m1 0h0m1 0h0m1 0h0m1 0h0m-11 1h0m3 0h0m1 0h0m1 0h0m1 0h0m1 0h0m1 0h0m-9 1h0m2 0h0m1 0h0m2 0h0m6 0h0m1 0h0m1 0h0m-13 1h0m1 0h0m2 0h0m3 0h0m1 0h0m1 0h0m1 0h0m1 0h0m2 0h0m-16 1h0m5 0h0m2 0h0m3 0h0m2 0h0m1 0h0m-9 1h0m1 0h0m4 0h0m3 0h0m2 0h0m-7 1h0m3 0h0m1 0h0"/>
<path stroke="#4cc0e0" d="M444 337h0m0 1h0m-3 1h0m1 0h0m2 0h0m-3 1h0m2 0h0m-4 1h0m2 0h0m1 0h0m-4 1h0m-2 1h0m2 0h0m1 0h0m-3 1h0m2 0h0m1 0h0"/>
</g>
<path d="M408.1 274.7H506.6V372.3H408.1" fill="none" stroke="#2e3432" stroke-width="1.2"/>
<line x1="408.1" y1="274.7" x2="408.1" y2="372.3" stroke="#9aa8a8" stroke-width="0.9" stroke-dasharray="1 1.5"/>
<line x1="406.1" y1="345.2" x2="408.1" y2="345.2" stroke="#6a7a7a" stroke-width="0.8"/>
<line x1="406.1" y1="318.1" x2="408.1" y2="318.1" stroke="#6a7a7a" stroke-width="0.8"/>
<line x1="406.1" y1="291.0" x2="408.1" y2="291.0" stroke="#6a7a7a" stroke-width="0.8"/>
<line x1="408.1" y1="327.8" x2="506.6" y2="327.8" stroke="#3c4442" stroke-width="1.1"/>
<line x1="450.3" y1="274.7" x2="450.3" y2="372.3" stroke="#3c4442" stroke-width="1.1"/>
<g font-family="&quot;Liberation Serif&quot;, serif" font-size="12px" fill="#111" stroke="#111" stroke-width="0.25">
<line x1="464.8" y1="293.4" x2="497.1" y2="293.4" stroke="#111" stroke-width="1.3"/>
<line x1="480.3" y1="279.2" x2="480.3" y2="306.4" stroke="#111" stroke-width="1.3"/>
<text x="476.90000000000003" y="289.5" text-anchor="end">0</text>
<text x="485.3" y="289.5">2</text>
<text x="476.90000000000003" y="305.1" text-anchor="end">51</text>
<text x="485.8" y="305.1">47</text>
</g>
<g stroke-width="1.8" stroke-linecap="square" fill="none" transform="translate(0.5 0.5)">
<path stroke="#1b2a4c" d="M90 404h0m-5 2h0m6 2h0m-10 3h0m10 0h0m2 0h0m1 1h0m-3 1h0m-14 3h0m4 0h0m19 0h0m1 1h0m5 0h0m-33 1h0m6 1h0m-1 1h0m21 0h0m-12 1h0m-10 1h0m1 0h0m7 0h0m-12 1h0m1 0h0m-14 1h0m3 1h0m36 0h0m-37 1h0m5 0h0m21 0h0m15 0h0m-46 1h0m12 0h0m18 0h0m13 0h0m-35 1h0m1 0h0m18 0h0m8 0h0m-32 1h0m21 0h0m12 0h0m3 0h0m13 0h0m-49 1h0m2 0h0m3 0h0m9 0h0m10 0h0m2 0h0m7 0h0m-31 1h0m1 0h0m20 0h0m15 0h0m-29 1h0m7 0h0m7 0h0m4 0h0m1 0h0m1 0h0m6 0h0m10 0h0m-45 1h0m9 0h0m6 0h0m6 0h0m13 0h0m2 0h0m1 0h0m1 0h0m-39 1h0m2 0h0m11 0h0m1 0h0m2 0h0m3 0h0m4 0h0m1 0h0m3 0h0m7 0h0m3 0h0m3 0h0m-44 1h0m7 0h0m2 0h0m8 0h0m10 0h0m4 0h0m1 0h0m3 0h0m4 0h0m7 0h0m-39 1h0m5 0h0m11 0h0m3 0h0m1 0h0m3 0h0m8 0h0m3 0h0m1 0h0m2 0h0m7 0h0m-51 1h0m1 0h0m1 0h0m4 0h0m1 0h0m12 0h0m1 0h0m1 0h0m1 0h0m4 0h0m13 0h0m8 0h0m-39 1h0m4 0h0m8 0h0m3 0h0m1 0h0m3 0h0m12 0h0m1 0h0m2 0h0m5 0h0m4 0h0m-62 1h0m5 0h0m8 0h0m5 0h0m1 0h0m5 0h0m4 0h0m5 0h0m11 0h0m5 0h0m3 0h0m4 0h0m6 0h0m-57 1h0m5 0h0m7 0h0m1 0h0m8 0h0m1 0h0m1 0h0m3 0h0m3 0h0m3 0h0m15 0h0m1 0h0m2 0h0m3 0h0m6 0h0m7 0h0m-65 1h0m2 0h0m22 0h0m2 0h0m-24 1h0m15 0h0m3 0h0m4 0h0m25 0h0m6 0h0m-46 1h0m2 0h0m1 0h0m5 0h0m4 0h0m1 0h0m26 0h0m5 0h0m6 0h0m-62 1h0m15 0h0m6 0h0m4 0h0m4 0h0m24 0h0m2 0h0m1 0h0m2 0h0m-45 1h0m1 0h0m9 0h0m3 0h0m-25 1h0m9 0h0m1 0h0m1 0h0m2 0h0m3 0h0m2 0h0m3 0h0m29 0h0m6 0h0m2 0h0m3 0h0m2 0h0m-66 1h0m12 0h0m3 0h0m2 0h0m6 0h0m5 0h0m43 0h0m-57 1h0m5 0h0m1 0h0m3 0h0m5 0h0m28 0h0m-56 1h0m13 0h0m5 0h0m2 0h0m1 0h0m36 0h0m3 0h0m1 0h0m-64 1h0m4 0h0m27 0h0m22 0h0m6 0h0m7 0h0m2 0h0m-65 1h0m9 0h0m1 0h0m4 0h0m9 0h0m34 0h0m-48 1h0m2 0h0m9 0h0m33 0h0m8 0h0m-66 1h0m11 0h0m6 0h0m11 0h0m7 0h0m19 0h0m8 0h0m-59 1h0m10 0h0m14 0h0m6 0h0m8 0h0m14 0h0m-49 1h0m2 0h0m11 0h0m16 0h0m2 0h0m3 0h0m7 0h0m3 0h0m4 0h0m4 0h0m2 0h0m-62 1h0m11 0h0m3 0h0m12 0h0m7 0h0m9 0h0m12 0h0m2 0h0m5 0h0m4 0h0m-55 1h0m1 0h0m1 0h0m2 0h0m18 0h0m19 0h0m3 0h0m6 0h0m7 0h0m-64 1h0m3 0h0m31 0h0m13 0h0m2 0h0m5 0h0m3 0h0m1 0h0m1 0h0m-59 1h0m2 0h0m3 0h0m14 0h0m10 0h0m1 0h0m8 0h0m2 0h0m5 0h0m1 0h0m3 0h0m4 0h0m3 0h0m-54 1h0m1 0h0m1 0h0m1 0h0m2 0h0m1 0h0m24 0h0m2 0h0m6 0h0m5 0h0m1 0h0m2 0h0m1 0h0m1 0h0m1 0h0m2 0h0m-55 1h0m3 0h0m29 0h0m10 0h0m2 0h0m2 0h0m1 0h0m7 0h0m-55 1h0m6 0h0m24 0h0m12 0h0m1 0h0m9 0h0m1 0h0m1 0h0m6 0h0m5 0h0m-19 1h0m3 0h0m1 0h0m-31 1h0m31 0h0m0 1h0m4 0h0m15 0h0m-68 1h0m39 0h0m6 2h0m-44 1h0m53 0h0"/>
<path stroke="#2866b8" d="M88 415h0m4 0h0m-7 1h0m-4 2h0m10 1h0m-6 2h0m11 1h0m-8 1h0m6 9h0m2 2h0m1 0h0m1 0h0m-12 1h0m5 0h0m3 0h0m-12 1h0m3 0h0m2 0h0m4 0h0m1 0h0m2 0h0m-16 1h0m1 0h0m14 0h0m5 0h0m-19 1h0m1 0h0m1 0h0m5 0h0m1 0h0m4 0h0m2 0h0m5 0h0m-13 1h0m11 0h0m1 0h0m-19 1h0m2 0h0m2 0h0m1 0h0m3 0h0m1 0h0m3 0h0m3 0h0m1 0h0m3 0h0m1 0h0m-26 1h0m3 0h0m1 0h0m1 0h0m1 0h0m1 0h0m1 0h0m4 0h0m8 0h0m-23 1h0m2 0h0m1 0h0m4 0h0m1 0h0m17 0h0m1 0h0m1 0h0m1 0h0m5 0h0m1 0h0m1 0h0m-33 1h0m3 0h0m1 0h0m5 0h0m1 0h0m15 0h0m1 0h0m1 0h0m1 0h0m-22 1h0m20 0h0m2 0h0m4 0h0m-5 1h0m4 0h0m1 0h0m-28 1h0m24 0h0m1 0h0m-33 1h0m7 0h0m2 0h0m21 0h0m3 0h0m-28 1h0m24 0h0m3 0h0m2 0h0m-31 1h0m6 0h0m22 0h0m2 0h0m1 0h0m1 0h0m-28 1h0m5 0h0m12 0h0m5 0h0m1 0h0m4 0h0m-35 1h0m1 0h0m3 0h0m3 0h0m1 0h0m19 0h0m1 0h0m3 0h0m2 0h0m-24 1h0m4 0h0m13 0h0m4 0h0m3 0h0m-23 1h0m2 0h0m5 0h0m2 0h0m6 0h0m5 0h0m-19 1h0m8 0h0m3 0h0m1 0h0m1 0h0m2 0h0m3 0h0m2 0h0m-21 1h0m6 0h0m2 0h0m1 0h0m4 0h0m1 0h0m2 0h0m1 0h0m-19 1h0m5 0h0m7 0h0m3 0h0m1 0h0m2 0h0m4 0h0m2 0h0m-10 1h0m2 0h0m1 0h0m3 0h0m-18 1h0m9 0h0m1 0h0m1 0h0m-14 1h0m15 0h0m2 0h0"/>
<path stroke="#3cb0e8" d="M90 435h0m-9 1h0m-5 1h0m5 0h0m2 0h0m3 0h0m1 0h0m-8 1h0m2 0h0m4 0h0m1 0h0m2 0h0m2 0h0m1 0h0m2 0h0m2 0h0m-21 1h0m7 0h0m5 0h0m1 0h0m4 0h0m-15 1h0m2 0h0m2 0h0m1 0h0m1 0h0m4 0h0m1 0h0m2 0h0m3 0h0m1 0h0m4 0h0m-21 1h0m3 0h0m1 0h0m2 0h0m1 0h0m1 0h0m4 0h0m1 0h0m3 0h0m2 0h0m2 0h0m2 0h0m4 0h0m-23 1h0m3 0h0m7 0h0m3 0h0m1 0h0m-19 1h0m1 0h0m3 0h0m2 0h0m14 0h0m1 0h0m1 0h0m1 0h0m1 0h0m-24 1h0m2 0h0m3 0h0m15 0h0m6 0h0m-23 1h0m1 0h0m1 0h0m3 0h0m13 0h0m1 0h0m2 0h0m1 0h0m-27 1h0m3 0h0m1 0h0m1 0h0m1 0h0m1 0h0m-6 1h0m3 0h0m17 0h0m3 0h0m-21 1h0m1 0h0m20 0h0m2 0h0m1 0h0m-22 1h0m1 0h0m1 0h0m1 0h0m15 0h0m3 0h0m1 0h0m3 0h0m-25 1h0m1 0h0m1 0h0m2 0h0m10 0h0m2 0h0m1 0h0m4 0h0m3 0h0m-25 1h0m3 0h0m8 0h0m4 0h0m2 0h0m1 0h0m1 0h0m-17 1h0m1 0h0m2 0h0m4 0h0m5 0h0m1 0h0m1 0h0m1 0h0m1 0h0m2 0h0m-20 1h0m1 0h0m3 0h0m1 0h0m5 0h0m2 0h0m1 0h0m1 0h0m1 0h0m1 0h0m1 0h0m3 0h0m-20 1h0m2 0h0m1 0h0m2 0h0m2 0h0m1 0h0m1 0h0m1 0h0m2 0h0m3 0h0m-14 1h0m2 0h0m1 0h0m2 0h0m6 0h0m-4 1h0m4 1h0"/>
<path stroke="#2f7fd0" d="M65 433h0m1 1h0m-8 2h0m5 0h0m-7 1h0m0 1h0m3 0h0m3 0h0m-5 1h0m1 0h0m1 0h0m-5 1h0m6 0h0m-6 1h0m4 0h0m2 0h0m-6 1h0m4 0h0m2 0h0m-8 1h0m1 0h0m4 0h0m1 0h0m1 0h0m-9 1h0m7 0h0m1 0h0m-7 1h0m7 0h0m-9 1h0m8 1h0m1 0h0m-11 1h0m8 1h0m-10 1h0m4 0h0m3 0h0m-4 1h0m4 0h0m-5 1h0m4 0h0m-3 1h0m-4 1h0m1 0h0m-1 1h0m1 0h0m2 0h0m2 0h0m-5 1h0m1 0h0m1 0h0m2 0h0m0 1h0m-1 1h0"/>
<path stroke="#3cc8a0" d="M88 439h0m2 0h0m-5 1h0m2 0h0m3 0h0m-11 1h0m7 0h0m3 0h0m1 0h0m1 0h0m-7 1h0m3 0h0m1 0h0m1 0h0m1 0h0m1 0h0m1 0h0m1 0h0m-15 1h0m5 0h0m-4 1h0m1 0h0m9 0h0m1 0h0m1 0h0m1 0h0m-15 1h0m2 0h0m1 0h0m1 0h0m9 0h0m2 0h0m1 0h0m1 0h0m-18 1h0m3 0h0m14 0h0m1 0h0m-17 1h0m2 0h0m14 0h0m-16 1h0m2 0h0m1 0h0m1 0h0m12 0h0m-13 1h0m1 0h0m1 0h0m9 0h0m2 0h0m-14 1h0m2 0h0m2 0h0m2 0h0m2 0h0m4 0h0m1 0h0m2 0h0m1 0h0m2 0h0m-20 1h0m2 0h0m4 0h0m2 0h0m1 0h0m2 0h0m2 0h0m-12 1h0m4 0h0m1 0h0m1 0h0m3 0h0m2 0h0m-9 1h0m6 0h0m1 0h0m5 0h0m-8 1h0m4 0h0"/>
<path stroke="#4cc0e0" d="M57 440h0m-2 1h0m2 0h0m-4 1h0m1 0h0m1 0h0m1 0h0m0 1h0m3 0h0m-6 1h0m-1 1h0m2 0h0m1 0h0m-4 1h0m2 0h0m-4 1h0m2 0h0m2 0h0m-4 1h0m2 0h0m-3 1h0m4 0h0m-3 1h0m3 0h0m-3 1h0"/>
<path stroke="#3fd84a" d="M86 440h0m0 1h0m2 1h0m2 0h0m1 0h0m1 0h0m-12 1h0m2 0h0m2 0h0m1 0h0m1 0h0m1 0h0m1 0h0m1 0h0m2 0h0m-11 1h0m1 0h0m1 0h0m1 0h0m1 0h0m1 0h0m1 0h0m1 0h0m1 0h0m1 0h0m-9 1h0m2 0h0m1 0h0m1 0h0m1 0h0m1 0h0m1 0h0m2 0h0m1 0h0m1 0h0m1 0h0m-17 1h0m4 0h0m2 0h0m1 0h0m1 0h0m1 0h0m1 0h0m2 0h0m1 0h0m1 0h0m1 0h0m2 0h0m-12 1h0m1 0h0m1 0h0m1 0h0m1 0h0m1 0h0m1 0h0m1 0h0m1 0h0m1 0h0m3 0h0m4 0h0m-17 1h0m4 0h0m1 0h0m1 0h0m2 0h0m1 0h0m1 0h0m1 0h0m1 0h0m3 0h0m-13 1h0m4 0h0m1 0h0m2 0h0m1 0h0m1 0h0m-7 1h0m1 0h0m1 0h0m1 0h0m1 0h0m2 0h0m3 0h0m-11 1h0m2 0h0m2 0h0m2 0h0m2 0h0m1 0h0m-6 1h0m6 0h0m-6 2h0"/>
</g>
<path d="M31.5 376.9H130.3V475H31.5" fill="none" stroke="#2e3432" stroke-width="1.2"/>
<line x1="31.5" y1="376.9" x2="31.5" y2="475" stroke="#9aa8a8" stroke-width="0.9" stroke-dasharray="1 1.5"/>
<line x1="29.5" y1="447.8" x2="31.5" y2="447.8" stroke="#6a7a7a" stroke-width="0.8"/>
<line x1="29.5" y1="420.5" x2="31.5" y2="420.5" stroke="#6a7a7a" stroke-width="0.8"/>
<line x1="29.5" y1="393.2" x2="31.5" y2="393.2" stroke="#6a7a7a" stroke-width="0.8"/>
<line x1="31.5" y1="431.2" x2="130.3" y2="431.2" stroke="#3c4442" stroke-width="1.1"/>
<line x1="73.5" y1="376.9" x2="73.5" y2="475" stroke="#3c4442" stroke-width="1.1"/>
<g font-family="&quot;Liberation Serif&quot;, serif" font-size="12px" fill="#111" stroke="#111" stroke-width="0.25">
<line x1="95.7" y1="393.8" x2="128.0" y2="393.8" stroke="#111" stroke-width="1.3"/>
<line x1="111.2" y1="379.6" x2="111.2" y2="406.8" stroke="#111" stroke-width="1.3"/>
<text x="107.8" y="389.9" text-anchor="end">2</text>
<text x="116.2" y="389.9">4</text>
<text x="107.8" y="405.5" text-anchor="end">19</text>
<text x="116.7" y="405.5">75</text>
</g>
<g stroke-width="1.8" stroke-linecap="square" fill="none" transform="translate(0.5 0.5)">
<path stroke="#1b2a4c" d="M208 405h0m-32 2h0m6 2h0m27 1h0m-3 2h0m-4 3h0m5 0h0m-34 3h0m6 1h0m3 2h0m16 0h0m3 0h0m2 0h0m-4 1h0m2 0h0m-12 1h0m2 0h0m24 1h0m-46 1h0m16 0h0m12 0h0m6 0h0m-32 1h0m26 0h0m15 0h0m6 0h0m1 0h0m-45 1h0m9 0h0m-13 1h0m16 0h0m9 0h0m10 0h0m-27 1h0m7 0h0m3 0h0m1 0h0m10 0h0m7 0h0m-32 1h0m6 0h0m1 0h0m7 0h0m1 0h0m2 0h0m7 0h0m7 0h0m9 0h0m1 0h0m1 0h0m2 0h0m-47 1h0m15 0h0m4 0h0m5 0h0m6 0h0m2 0h0m2 0h0m1 0h0m12 0h0m-50 1h0m1 0h0m9 0h0m3 0h0m3 0h0m13 0h0m10 0h0m3 0h0m4 0h0m-51 1h0m14 0h0m4 0h0m5 0h0m2 0h0m1 0h0m9 0h0m4 0h0m8 0h0m-34 1h0m10 0h0m4 0h0m5 0h0m4 0h0m7 0h0m8 0h0m6 0h0m4 0h0m-65 1h0m13 0h0m4 0h0m2 0h0m3 0h0m8 0h0m2 0h0m9 0h0m1 0h0m14 0h0m16 0h0m-82 1h0m31 0h0m10 0h0m2 0h0m5 0h0m13 0h0m-40 1h0m6 0h0m4 0h0m3 0h0m5 0h0m3 0h0m21 0h0m-31 1h0m3 0h0m10 0h0m3 0h0m11 0h0m1 0h0m5 0h0m2 0h0m4 0h0m3 0h0m-61 1h0m6 0h0m1 0h0m1 0h0m12 0h0m31 0h0m1 0h0m4 0h0m1 0h0m-48 1h0m8 0h0m26 0h0m6 0h0m4 0h0m5 0h0m2 0h0m3 0h0m9 0h0m-31 1h0m8 0h0m1 0h0m-63 1h0m20 0h0m1 0h0m5 0h0m41 0h0m8 0h0m-52 1h0m47 0h0m2 0h0m1 0h0m11 0h0m5 0h0m-78 1h0m52 0h0m4 0h0m-61 1h0m17 0h0m3 0h0m35 0h0m5 0h0m9 0h0m14 0h0m-80 1h0m8 0h0m1 0h0m1 0h0m1 0h0m4 0h0m1 0h0m40 0h0m8 0h0m-58 1h0m5 0h0m3 0h0m1 0h0m36 0h0m1 0h0m4 0h0m1 0h0m1 0h0m9 0h0m-62 1h0m2 0h0m1 0h0m10 0h0m1 0h0m32 0h0m5 0h0m12 0h0m-63 1h0m7 0h0m41 0h0m2 0h0m9 0h0m-73 1h0m60 0h0m-5 1h0m-45 1h0m5 0h0m6 0h0m4 0h0m27 0h0m10 0h0m2 0h0m3 0h0m-53 1h0m1 0h0m2 0h0m6 0h0m18 0h0m3 0h0m13 0h0m2 0h0m2 0h0m2 0h0m1 0h0m1 0h0m6 0h0m-50 1h0m1 0h0m1 0h0m7 0h0m16 0h0m11 0h0m6 0h0m5 0h0m-60 1h0m1 0h0m11 0h0m8 0h0m3 0h0m20 0h0m13 0h0m4 0h0m1 0h0m-62 1h0m10 0h0m9 0h0m5 0h0m1 0h0m10 0h0m2 0h0m16 0h0m1 0h0m-40 1h0m5 0h0m1 0h0m2 0h0m6 0h0m6 0h0m6 0h0m1 0h0m1 0h0m1 0h0m5 0h0m4 0h0m20 0h0m-52 1h0m1 0h0m6 0h0m2 0h0m1 0h0m1 0h0m1 0h0m1 0h0m2 0h0m1 0h0m2 0h0m3 0h0m1 0h0m1 0h0m5 0h0m3 0h0m1 0h0m1 0h0m-42 1h0m7 0h0m2 0h0m17 0h0m4 0h0m11 0h0m2 0h0m-34 1h0m16 0h0m10 0h0m3 0h0m2 0h0m7 0h0m-41 1h0m2 0h0m7 0h0m5 0h0m2 0h0m3 0h0m7 0h0m24 0h0m-40 1h0m10 0h0m4 0h0m1 0h0m1 0h0m6 0h0m2 0h0m1 0h0m-35 1h0m11 0h0m4 0h0m24 0h0m8 0h0m-41 1h0m8 0h0m14 0h0m-11 1h0m8 0h0m-44 1h0m41 0h0m7 1h0m-38 1h0"/>
<path stroke="#2866b8" d="M190 415h0m-1 1h0m2 0h0m6 0h0m-1 1h0m-13 1h0m13 0h0m-12 1h0m8 2h0m5 1h0m0 9h0m-4 1h0m19 0h0m-30 1h0m15 0h0m13 0h0m-32 1h0m13 0h0m7 0h0m7 0h0m-26 1h0m29 0h0m-35 1h0m5 0h0m9 0h0m5 0h0m8 0h0m4 0h0m-22 1h0m2 0h0m2 0h0m8 0h0m1 0h0m2 0h0m6 0h0m1 0h0m6 0h0m-25 1h0m3 0h0m1 0h0m1 0h0m2 0h0m5 0h0m3 0h0m1 0h0m1 0h0m6 0h0m1 0h0m-34 1h0m7 0h0m1 0h0m20 0h0m4 0h0m-18 1h0m11 0h0m3 0h0m5 0h0m3 0h0m-34 1h0m3 0h0m7 0h0m1 0h0m16 0h0m4 0h0m2 0h0m6 0h0m2 0h0m-44 1h0m16 0h0m15 0h0m4 0h0m1 0h0m1 0h0m1 0h0m3 0h0m4 0h0m-47 1h0m4 0h0m4 0h0m23 0h0m7 0h0m1 0h0m4 0h0m-43 1h0m3 0h0m29 0h0m1 0h0m7 0h0m2 0h0m-46 1h0m7 0h0m5 0h0m33 0h0m-44 1h0m3 0h0m1 0h0m1 0h0m3 0h0m1 0h0m2 0h0m24 0h0m3 0h0m2 0h0m3 0h0m7 0h0m-48 1h0m1 0h0m1 0h0m3 0h0m3 0h0m26 0h0m1 0h0m3 0h0m1 0h0m2 0h0m1 0h0m4 0h0m-48 1h0m6 0h0m5 0h0m1 0h0m25 0h0m1 0h0m2 0h0m1 0h0m2 0h0m-55 1h0m16 0h0m1 0h0m4 0h0m1 0h0m3 0h0m21 0h0m4 0h0m5 0h0m-50 1h0m10 0h0m3 0h0m2 0h0m28 0h0m4 0h0m-37 1h0m9 0h0m1 0h0m1 0h0m22 0h0m2 0h0m-34 1h0m4 0h0m5 0h0m12 0h0m5 0h0m1 0h0m6 0h0m-25 1h0m1 0h0m23 0h0m4 0h0m2 0h0m1 0h0m-37 1h0m4 0h0m3 0h0m1 0h0m8 0h0m2 0h0m5 0h0m1 0h0m1 0h0m1 0h0m1 0h0m2 0h0m1 0h0m2 0h0m12 0h0m-37 1h0m1 0h0m2 0h0m1 0h0m6 0h0m2 0h0m4 0h0m3 0h0m2 0h0m12 0h0m-35 1h0m2 0h0m3 0h0m1 0h0m8 0h0m1 0h0m1 0h0m3 0h0m4 0h0m7 0h0m-39 1h0m11 0h0m3 0h0m4 0h0m6 0h0m1 0h0m3 0h0m2 0h0m6 0h0m-28 1h0m2 0h0m4 0h0m4 0h0m1 0h0m13 0h0m-28 1h0m14 0h0m1 0h0m8 0h0m3 0h0m-8 1h0m10 0h0m-14 2h0"/>
<path stroke="#3cb0e8" d="M192 437h0m6 0h0m2 0h0m-9 1h0m1 0h0m2 0h0m9 0h0m4 0h0m-24 1h0m1 0h0m2 0h0m4 0h0m6 0h0m2 0h0m1 0h0m2 0h0m1 0h0m-20 1h0m3 0h0m8 0h0m4 0h0m1 0h0m5 0h0m3 0h0m-25 1h0m1 0h0m1 0h0m2 0h0m1 0h0m1 0h0m4 0h0m1 0h0m3 0h0m2 0h0m1 0h0m4 0h0m1 0h0m1 0h0m2 0h0m2 0h0m-34 1h0m3 0h0m3 0h0m4 0h0m1 0h0m1 0h0m1 0h0m2 0h0m1 0h0m1 0h0m-14 1h0m2 0h0m3 0h0m1 0h0m1 0h0m2 0h0m1 0h0m9 0h0m3 0h0m5 0h0m1 0h0m2 0h0m3 0h0m6 0h0m-34 1h0m19 0h0m3 0h0m1 0h0m3 0h0m1 0h0m-30 1h0m24 0h0m1 0h0m2 0h0m4 0h0m4 0h0m-40 1h0m1 0h0m1 0h0m1 0h0m1 0h0m1 0h0m3 0h0m2 0h0m21 0h0m2 0h0m3 0h0m-36 1h0m2 0h0m3 0h0m1 0h0m2 0h0m19 0h0m4 0h0m2 0h0m1 0h0m-37 1h0m2 0h0m3 0h0m1 0h0m4 0h0m19 0h0m2 0h0m1 0h0m3 0h0m1 0h0m-28 1h0m4 0h0m17 0h0m1 0h0m2 0h0m3 0h0m-30 1h0m2 0h0m3 0h0m1 0h0m16 0h0m1 0h0m4 0h0m1 0h0m5 0h0m1 0h0m-32 1h0m1 0h0m2 0h0m1 0h0m2 0h0m1 0h0m1 0h0m6 0h0m1 0h0m3 0h0m1 0h0m3 0h0m1 0h0m-30 1h0m11 0h0m2 0h0m1 0h0m3 0h0m2 0h0m5 0h0m2 0h0m3 0h0m2 0h0m1 0h0m7 0h0m-33 1h0m3 0h0m3 0h0m6 0h0m4 0h0m1 0h0m1 0h0m1 0h0m1 0h0m1 0h0m3 0h0m2 0h0m-27 1h0m6 0h0m5 0h0m6 0h0m14 0h0m-29 1h0m3 0h0m2 0h0m2 0h0m1 0h0m2 0h0m2 0h0m1 0h0m7 0h0m-11 1h0m11 0h0m-8 1h0m8 1h0"/>
<path stroke="#3cc8a0" d="M187 437h0m8 2h0m5 0h0m-12 1h0m3 0h0m5 0h0m2 0h0m-7 1h0m1 0h0m1 0h0m1 0h0m2 0h0m2 0h0m3 0h0m-14 1h0m1 0h0m1 0h0m1 0h0m1 0h0m6 0h0m2 0h0m1 0h0m1 0h0m1 0h0m1 0h0m1 0h0m1 0h0m-21 1h0m1 0h0m1 0h0m1 0h0m3 0h0m2 0h0m3 0h0m-13 1h0m2 0h0m3 0h0m1 0h0m1 0h0m12 0h0m2 0h0m2 0h0m-25 1h0m2 0h0m2 0h0m2 0h0m2 0h0m14 0h0m1 0h0m2 0h0m0 1h0m-24 1h0m18 0h0m2 0h0m3 0h0m-23 1h0m3 0h0m1 0h0m14 0h0m1 0h0m1 0h0m5 0h0m-25 1h0m3 0h0m1 0h0m3 0h0m8 0h0m4 0h0m1 0h0m2 0h0m1 0h0m1 0h0m-21 1h0m2 0h0m2 0h0m8 0h0m2 0h0m2 0h0m1 0h0m1 0h0m-22 1h0m8 0h0m1 0h0m1 0h0m3 0h0m3 0h0m1 0h0m2 0h0m3 0h0m-17 1h0m1 0h0m2 0h0m10 0h0m-11 1h0m3 0h0m0 1h0"/>
<path stroke="#3fd84a" d="M179 441h0m12 0h0m2 0h0m3 0h0m-9 1h0m4 0h0m1 0h0m1 0h0m6 0h0m-8 1h0m1 0h0m2 0h0m1 0h0m1 0h0m2 0h0m1 0h0m4 0h0m-19 1h0m2 0h0m1 0h0m2 0h0m1 0h0m1 0h0m2 0h0m1 0h0m2 0h0m1 0h0m1 0h0m2 0h0m-18 1h0m1 0h0m2 0h0m1 0h0m1 0h0m2 0h0m1 0h0m1 0h0m1 0h0m1 0h0m1 0h0m1 0h0m1 0h0m1 0h0m1 0h0m1 0h0m4 0h0m-19 1h0m1 0h0m1 0h0m1 0h0m1 0h0m1 0h0m1 0h0m1 0h0m2 0h0m1 0h0m1 0h0m1 0h0m2 0h0m2 0h0m6 0h0m-19 1h0m1 0h0m1 0h0m2 0h0m1 0h0m1 0h0m1 0h0m1 0h0m1 0h0m1 0h0m1 0h0m3 0h0m-19 1h0m5 0h0m2 0h0m1 0h0m1 0h0m1 0h0m1 0h0m1 0h0m1 0h0m1 0h0m1 0h0m1 0h0m1 0h0m1 0h0m1 0h0m-15 1h0m1 0h0m1 0h0m1 0h0m1 0h0m1 0h0m1 0h0m1 0h0m1 0h0m1 0h0m1 0h0m1 0h0m1 0h0m1 0h0m1 0h0m1 0h0m-18 1h0m1 0h0m1 0h0m1 0h0m1 0h0m2 0h0m1 0h0m1 0h0m1 0h0m1 0h0m1 0h0m1 0h0m4 0h0m-12 1h0m1 0h0m3 0h0m1 0h0m7 0h0m-13 1h0m7 0h0m-7 1h0m11 0h0"/>
</g>
<path d="M147 378H244.8V475.5H147" fill="none" stroke="#2e3432" stroke-width="1.2"/>
<line x1="147" y1="378" x2="147" y2="475.5" stroke="#9aa8a8" stroke-width="0.9" stroke-dasharray="1 1.5"/>
<line x1="145" y1="448.4" x2="147" y2="448.4" stroke="#6a7a7a" stroke-width="0.8"/>
<line x1="145" y1="421.3" x2="147" y2="421.3" stroke="#6a7a7a" stroke-width="0.8"/>
<line x1="145" y1="394.2" x2="147" y2="394.2" stroke="#6a7a7a" stroke-width="0.8"/>
<line x1="147" y1="431.6" x2="244.8" y2="431.6" stroke="#3c4442" stroke-width="1.1"/>
<line x1="189.2" y1="378" x2="189.2" y2="475.5" stroke="#3c4442" stroke-width="1.1"/>
<g font-family="&quot;Liberation Serif&quot;, serif" font-size="12px" fill="#111" stroke="#111" stroke-width="0.25">
<line x1="210.0" y1="395.8" x2="242.3" y2="395.8" stroke="#111" stroke-width="1.3"/>
<line x1="225.5" y1="381.6" x2="225.5" y2="408.8" stroke="#111" stroke-width="1.3"/>
<text x="222.1" y="391.9" text-anchor="end">2</text>
<text x="230.5" y="391.9">3</text>
<text x="222.1" y="407.5" text-anchor="end">30</text>
<text x="231.0" y="407.5">65</text>
</g>
<g stroke-width="1.8" stroke-linecap="square" fill="none" transform="translate(0.5 0.5)">
<path stroke="#3ea6e2" d="M332 438h0m-3 2h0m-2 1h0m2 0h0m0 1h0m1 0h0m5 0h0m-9 1h0m3 0h0m-6 1h0m1 0h0m4 1h0m-6 1h0m1 0h0m-3 1h0m-2 1h0m1 1h0m-2 2h0m-1 1h0m-6 3h0m0 2h0m6 0h0m-8 1h0m2 0h0m5 1h0m1 3h0m-13 1h0m5 0h0m-3 1h0m1 0h0m3 0h0m-3 2h0m-2 2h0m3 0h0m-3 1h0"/>
<path stroke="#1b2a4c" d="M347 425h0m6 4h0m8 0h0m-23 1h0m6 0h0m1 0h0m3 0h0m13 0h0m2 0h0m3 0h0m-16 1h0m1 0h0m6 0h0m16 0h0m-1 1h0m-32 1h0m23 0h0m6 0h0m-37 1h0m24 0h0m3 0h0m10 0h0m7 0h0m-50 1h0m7 0h0m5 0h0m2 0h0m3 0h0m1 0h0m2 0h0m7 0h0m8 0h0m2 0h0m12 0h0m-43 1h0m16 0h0m1 0h0m1 0h0m6 0h0m6 0h0m3 0h0m7 0h0m-47 1h0m18 0h0m8 0h0m14 0h0m3 0h0m2 0h0m3 0h0m-40 1h0m2 0h0m1 0h0m4 0h0m2 0h0m1 0h0m2 0h0m10 0h0m8 0h0m3 0h0m1 0h0m4 0h0m-38 1h0m5 0h0m23 0h0m11 0h0m-53 1h0m3 0h0m4 0h0m4 0h0m12 0h0m17 0h0m10 0h0m3 0h0m4 0h0m-52 1h0m5 0h0m4 0h0m4 0h0m4 0h0m2 0h0m27 0h0m-41 1h0m6 0h0m6 0h0m23 0h0m-43 1h0m2 0h0m3 0h0m2 0h0m3 0h0m2 0h0m6 0h0m2 0h0m43 0h0m-57 1h0m5 0h0m1 0h0m-20 1h0m11 0h0m2 0h0m9 0h0m-16 1h0m11 0h0m4 0h0m3 0h0m33 0h0m3 0h0m1 0h0m5 0h0m1 0h0m-66 1h0m1 0h0m4 0h0m6 0h0m2 0h0m5 0h0m4 0h0m1 0h0m3 0h0m23 0h0m2 0h0m1 0h0m3 0h0m-53 1h0m9 0h0m2 0h0m2 0h0m2 0h0m45 0h0m-50 1h0m1 0h0m1 0h0m1 0h0m9 0h0m24 0h0m6 0h0m1 0h0m6 0h0m-64 1h0m9 0h0m7 0h0m2 0h0m38 0h0m-62 1h0m8 0h0m13 0h0m6 0h0m4 0h0m30 0h0m5 0h0m-46 1h0m1 0h0m1 0h0m1 0h0m10 0h0m30 0h0m-61 1h0m19 0h0m29 0h0m6 0h0m-52 1h0m14 0h0m5 0h0m5 0h0m7 0h0m2 0h0m19 0h0m5 0h0m11 0h0m-77 1h0m26 0h0m6 0h0m8 0h0m24 0h0m5 0h0m-64 1h0m4 0h0m24 0h0m2 0h0m30 0h0m-60 1h0m29 0h0m4 0h0m2 0h0m11 0h0m3 0h0m1 0h0m-48 1h0m14 0h0m7 0h0m5 0h0m1 0h0m3 0h0m3 0h0m5 0h0m2 0h0m7 0h0m8 0h0m-40 1h0m16 0h0m5 0h0m26 0h0m7 0h0m-71 1h0m13 0h0m4 0h0m5 0h0m11 0h0m3 0h0m11 0h0m2 0h0m10 0h0m-37 1h0m19 0h0m-32 1h0m32 0h0m14 0h0m-53 1h0m1 0h0m11 0h0m20 0h0m-29 1h0m3 0h0m25 0h0m10 0h0m-33 1h0m10 0h0m-26 1h0m11 0h0m2 0h0m38 0h0m-52 1h0m2 0h0m13 0h0m35 0h0m-12 1h0m8 0h0m-1 1h0m9 0h0m-40 2h0m-13 1h0m7 0h0m2 0h0"/>
<path stroke="#3cc0b0" d="M333 440h0m-4 2h0m-2 1h0m1 1h0m-3 1h0m1 0h0m1 0h0m1 0h0m-3 1h0m-5 1h0m1 0h0m-1 1h0m1 0h0m1 0h0m4 0h0m-5 1h0m4 0h0m-7 1h0m1 0h0m5 0h0m-7 1h0m8 0h0m-4 1h0m-2 1h0m1 0h0m-6 1h0m-1 1h0m-5 3h0m8 0h0m1 0h0m-7 1h0m4 0h0m1 0h0m-2 1h0m1 0h0m-5 1h0m2 0h0m0 1h0m1 0h0m-3 1h0"/>
<path stroke="#2866b8" d="M352 435h0m7 0h0m1 0h0m-17 1h0m8 0h0m8 0h0m-12 1h0m7 0h0m1 0h0m7 0h0m1 0h0m0 1h0m1 0h0m-26 1h0m7 0h0m3 0h0m2 0h0m3 0h0m5 0h0m1 0h0m2 0h0m6 0h0m-24 1h0m6 0h0m13 0h0m2 0h0m4 0h0m-30 1h0m22 0h0m2 0h0m3 0h0m5 0h0m-14 1h0m4 0h0m6 0h0m-31 1h0m6 0h0m2 0h0m3 0h0m-9 1h0m5 0h0m1 0h0m24 0h0m-30 1h0m3 0h0m23 0h0m2 0h0m2 0h0m-31 1h0m3 0h0m22 0h0m1 0h0m1 0h0m3 0h0m-30 1h0m1 0h0m29 0h0m-29 1h0m26 0h0m1 0h0m-29 1h0m4 0h0m3 0h0m23 0h0m-26 1h0m21 0h0m3 0h0m1 0h0m-25 1h0m6 0h0m20 0h0m-37 1h0m22 0h0m6 0h0m4 0h0m-22 1h0m1 0h0m4 0h0m4 0h0m5 0h0m9 0h0m-22 1h0m2 0h0m5 0h0m16 0h0m-18 1h0m1 0h0m5 0h0m4 0h0m1 0h0m6 0h0m-21 1h0m1 0h0m2 0h0m20 0h0m-12 1h0m1 0h0m3 0h0m9 0h0m-20 1h0m2 0h0m2 0h0m5 0h0m5 0h0m1 0h0"/>
<path stroke="#3cb0e8" d="M353 437h0m3 0h0m-9 1h0m4 0h0m9 0h0m-7 1h0m1 0h0m2 0h0m2 0h0m3 0h0m1 0h0m-16 1h0m11 0h0m1 0h0m1 0h0m-14 1h0m1 0h0m2 0h0m1 0h0m2 0h0m7 0h0m-17 1h0m2 0h0m3 0h0m5 0h0m1 0h0m5 0h0m2 0h0m1 0h0m7 0h0m-22 1h0m5 0h0m8 0h0m1 0h0m3 0h0m1 0h0m-22 1h0m1 0h0m16 0h0m3 0h0m1 0h0m-21 1h0m1 0h0m3 0h0m13 0h0m2 0h0m-20 1h0m2 0h0m3 0h0m1 0h0m14 0h0m1 0h0m6 0h0m-29 1h0m5 0h0m16 0h0m3 0h0m2 0h0m-26 1h0m4 0h0m17 0h0m1 0h0m1 0h0m-20 1h0m17 0h0m1 0h0m3 0h0m4 0h0m-27 1h0m3 0h0m2 0h0m11 0h0m1 0h0m2 0h0m6 0h0m-25 1h0m1 0h0m3 0h0m1 0h0m1 0h0m10 0h0m3 0h0m-17 1h0m1 0h0m2 0h0m1 0h0m1 0h0m2 0h0m3 0h0m2 0h0m1 0h0m1 0h0m5 0h0m2 0h0m-26 1h0m6 0h0m2 0h0m3 0h0m1 0h0m1 0h0m8 0h0m-21 1h0m6 0h0m4 0h0m3 0h0m5 0h0m1 0h0m-12 1h0m9 0h0m3 0h0m-12 1h0m3 0h0m0 2h0"/>
<path stroke="#2f7fd0" d="M323 445h0m-2 1h0m1 0h0m2 0h0m3 0h0m-7 1h0m3 0h0m1 0h0m-3 1h0m2 0h0m-2 1h0m4 0h0m0 1h0m-2 1h0m1 0h0m1 0h0m2 1h0m-12 1h0m7 1h0m1 0h0m-10 1h0m7 0h0m1 0h0m-12 2h0m1 0h0m2 0h0m6 0h0m-8 1h0m1 0h0m2 0h0m1 0h0m4 0h0m-5 2h0m-6 3h0m4 2h0m-4 3h0"/>
<path stroke="#3fd34a" d="M325 445h0m-1 2h0m1 0h0m1 0h0m2 0h0m-6 1h0m1 0h0m1 0h0m-5 1h0m1 0h0m2 0h0m1 0h0m1 0h0m-4 1h0m1 0h0m1 0h0m1 0h0m-5 1h0m1 0h0m2 0h0m1 0h0m-5 1h0m1 0h0m1 0h0m1 0h0m1 0h0m-5 1h0m1 0h0m1 0h0m1 0h0m1 0h0m-5 1h0m2 0h0m1 0h0m1 0h0m-5 1h0m1 0h0m1 0h0m1 0h0m1 0h0m-3 1h0m1 0h0m1 0h0m1 0h0m-5 1h0m1 0h0m1 0h0m1 0h0m-6 1h0m2 0h0m3 0h0m-6 1h0m3 0h0m1 0h0m1 0h0m-3 1h0"/>
<path stroke="#3cc8a0" d="M345 438h0m9 2h0m1 0h0m2 0h0m-10 1h0m4 0h0m4 0h0m-12 1h0m6 0h0m1 0h0m1 0h0m3 0h0m4 0h0m3 0h0m-15 1h0m2 0h0m1 0h0m3 0h0m4 0h0m4 0h0m1 0h0m-15 1h0m1 0h0m7 0h0m7 0h0m-18 1h0m15 1h0m2 0h0m-15 1h0m11 0h0m4 0h0m-19 1h0m5 0h0m11 0h0m-17 1h0m3 0h0m12 0h0m4 0h0m-17 1h0m2 0h0m1 0h0m2 0h0m8 0h0m7 0h0m-16 1h0m1 0h0m6 0h0m3 0h0m3 0h0m-13 1h0m3 0h0m2 0h0m-6 1h0m1 0h0m2 0h0m1 0h0"/>
<path stroke="#4cc0e0" d="M320 449h0m0 1h0m1 0h0m-5 2h0m2 0h0m3 0h0m-3 1h0m1 0h0m1 0h0m-4 1h0m3 0h0m-8 1h0m8 0h0m-4 1h0m2 0h0"/>
<path stroke="#3fd84a" d="M354 442h0m3 0h0m-6 1h0m2 0h0m-3 1h0m1 0h0m1 0h0m2 0h0m1 0h0m1 0h0m2 0h0m-12 1h0m1 0h0m3 0h0m1 0h0m1 0h0m1 0h0m1 0h0m2 0h0m1 0h0m1 0h0m-11 1h0m1 0h0m4 0h0m3 0h0m2 0h0m1 0h0m-12 1h0m1 0h0m1 0h0m2 0h0m1 0h0m1 0h0m1 0h0m1 0h0m1 0h0m1 0h0m1 0h0m-14 1h0m8 0h0m1 0h0m1 0h0m1 0h0m1 0h0m2 0h0m-10 1h0m2 0h0m2 0h0m2 0h0m-7 1h0m1 0h0m1 0h0m1 0h0m1 0h0m1 0h0m2 0h0m1 0h0m-5 1h0m0 1h0"/>
</g>
<path d="M296.9 379.2H396.2V477.3H296.9" fill="none" stroke="#2e3432" stroke-width="1.2"/>
<line x1="296.9" y1="379.2" x2="296.9" y2="477.3" stroke="#9aa8a8" stroke-width="0.9" stroke-dasharray="1 1.5"/>
<line x1="294.9" y1="450.1" x2="296.9" y2="450.1" stroke="#6a7a7a" stroke-width="0.8"/>
<line x1="294.9" y1="422.8" x2="296.9" y2="422.8" stroke="#6a7a7a" stroke-width="0.8"/>
<line x1="294.9" y1="395.6" x2="296.9" y2="395.6" stroke="#6a7a7a" stroke-width="0.8"/>
<line x1="296.9" y1="433" x2="396.2" y2="433" stroke="#3c4442" stroke-width="1.1"/>
<line x1="338.5" y1="379.2" x2="338.5" y2="477.3" stroke="#3c4442" stroke-width="1.1"/>
<g font-family="&quot;Liberation Serif&quot;, serif" font-size="12px" fill="#111" stroke="#111" stroke-width="0.25">
<line x1="361.0" y1="397" x2="393.3" y2="397" stroke="#111" stroke-width="1.3"/>
<line x1="376.5" y1="382.8" x2="376.5" y2="410" stroke="#111" stroke-width="1.3"/>
<text x="373.1" y="393.1" text-anchor="end">1</text>
<text x="381.5" y="393.1">2</text>
<text x="373.1" y="408.7" text-anchor="end">43</text>
<text x="382.0" y="408.7">54</text>
</g>
<g stroke-width="1.8" stroke-linecap="square" fill="none" transform="translate(0.5 0.5)">
<path stroke="#3ea6e2" d="M446 439h0m10 0h0m-11 3h0m1 0h0m4 0h0m1 0h0m-2 1h0m-6 1h0m-3 1h0m4 0h0m-4 2h0m6 0h0m-10 1h0m9 0h0m1 0h0m-3 2h0m-10 2h0m4 3h0m-8 1h0m-2 1h0m9 0h0m-6 1h0m-5 1h0m8 0h0m-10 1h0m2 0h0m4 0h0m2 0h0m1 0h0m-5 1h0m3 0h0m-8 1h0m4 0h0m3 0h0m-6 1h0m2 0h0m1 0h0"/>
<path stroke="#1b2a4c" d="M473 420h0m6 3h0m4 0h0m-19 1h0m2 0h0m11 1h0m4 1h0m-7 1h0m-14 1h0m11 0h0m-11 1h0m10 0h0m1 0h0m2 0h0m5 0h0m-10 1h0m2 0h0m9 0h0m6 0h0m-25 1h0m8 0h0m4 0h0m6 0h0m10 0h0m-53 1h0m16 0h0m12 0h0m6 0h0m1 0h0m2 0h0m7 0h0m-25 1h0m6 0h0m1 0h0m5 0h0m8 0h0m1 0h0m-23 1h0m2 0h0m4 0h0m2 0h0m17 0h0m-23 1h0m14 0h0m14 0h0m-36 1h0m3 0h0m24 0h0m4 0h0m2 0h0m1 0h0m-36 1h0m1 0h0m43 0h0m-34 1h0m23 0h0m-45 1h0m10 0h0m4 0h0m3 0h0m3 0h0m22 0h0m6 0h0m4 0h0m-44 1h0m3 0h0m2 0h0m2 0h0m1 0h0m4 0h0m29 0h0m-37 1h0m5 0h0m27 0h0m2 0h0m7 0h0m1 0h0m-50 1h0m5 0h0m30 0h0m8 0h0m-39 1h0m1 0h0m2 0h0m8 0h0m23 0h0m2 0h0m2 0h0m1 0h0m-37 1h0m4 0h0m2 0h0m3 0h0m26 0h0m1 0h0m1 0h0m-40 1h0m13 0h0m18 0h0m1 0h0m-36 1h0m5 0h0m4 0h0m7 0h0m16 0h0m3 0h0m8 0h0m-48 1h0m13 0h0m4 0h0m19 0h0m8 0h0m5 0h0m-47 1h0m22 0h0m10 0h0m10 0h0m-30 1h0m5 0h0m9 0h0m5 0h0m2 0h0m4 0h0m-37 1h0m1 0h0m4 0h0m8 0h0m3 0h0m1 0h0m12 0h0m2 0h0m-39 1h0m3 0h0m18 0h0m1 0h0m1 0h0m1 0h0m2 0h0m2 0h0m1 0h0m7 0h0m8 0h0m6 0h0m-43 1h0m10 0h0m3 0h0m2 0h0m3 0h0m16 0h0m9 0h0m-47 1h0m20 0h0m5 0h0m1 0h0m-22 1h0m27 0h0m4 0h0m5 0h0m-39 1h0m10 0h0m2 0h0m-14 1h0m13 0h0m3 0h0m8 0h0m9 0h0m-33 1h0m5 0h0m7 0h0m15 0h0m9 0h0m-40 1h0m7 0h0m-14 1h0m12 0h0m2 0h0m15 0h0m-22 1h0m6 0h0m20 0h0m-25 1h0m20 0h0m-24 1h0m5 1h0m3 0h0m5 0h0m3 0h0m-15 1h0m4 0h0m-2 1h0m4 1h0m7 0h0m-7 2h0m-15 6h0"/>
<path stroke="#3cc0b0" d="M449 440h0m0 1h0m1 0h0m-4 2h0m2 0h0m-6 2h0m4 1h0m-5 1h0m6 0h0m-8 1h0m5 0h0m-8 2h0m6 0h0m1 0h0m-11 2h0m2 0h0m-1 1h0m5 0h0m-10 2h0m2 0h0m6 0h0m-8 1h0m1 0h0m1 0h0m1 0h0m3 0h0m-6 1h0m4 0h0m2 0h0m-6 2h0m3 0h0m-4 1h0m-4 1h0m3 0h0m-3 1h0"/>
<path stroke="#2866b8" d="M467 428h0m8 1h0m-9 1h0m2 0h0m-14 1h0m13 0h0m2 0h0m9 0h0m-20 1h0m-5 1h0m6 0h0m3 0h0m6 0h0m2 0h0m1 0h0m4 0h0m-20 1h0m5 0h0m4 0h0m1 0h0m4 0h0m4 0h0m-26 1h0m2 0h0m13 0h0m3 0h0m1 0h0m3 0h0m1 0h0m5 0h0m1 0h0m-26 1h0m3 0h0m11 0h0m3 0h0m8 0h0m2 0h0m5 0h0m-27 1h0m14 0h0m1 0h0m7 0h0m-27 1h0m27 0h0m-31 1h0m2 0h0m1 0h0m26 0h0m-29 1h0m1 0h0m4 1h0m-9 1h0m26 0h0m3 0h0m3 0h0m-28 1h0m2 0h0m2 0h0m20 0h0m2 0h0m-29 1h0m4 0h0m3 0h0m2 0h0m12 0h0m3 0h0m4 0h0m0 1h0m-23 1h0m17 0h0m4 0h0m5 0h0m-34 1h0m3 0h0m4 0h0m3 0h0m2 0h0m3 0h0m5 0h0m11 0h0m-32 1h0m8 0h0m4 0h0m3 0h0m2 0h0m1 0h0m10 0h0m3 0h0m-20 1h0m2 0h0m4 0h0m4 0h0m5 0h0m-18 1h0m2 0h0m2 0h0m10 0h0"/>
<path stroke="#3cb0e8" d="M458 432h0m7 1h0m-9 1h0m1 0h0m9 0h0m1 0h0m-14 1h0m1 0h0m6 0h0m4 0h0m3 0h0m3 0h0m2 0h0m-13 1h0m4 0h0m2 0h0m1 0h0m4 0h0m2 0h0m-21 1h0m2 0h0m1 0h0m1 0h0m2 0h0m1 0h0m6 0h0m5 0h0m-12 1h0m9 0h0m1 0h0m5 0h0m1 0h0m-21 1h0m16 0h0m1 0h0m3 0h0m-25 1h0m5 0h0m1 0h0m21 0h0m1 0h0m-25 1h0m3 0h0m17 0h0m1 0h0m1 0h0m-25 1h0m1 0h0m2 0h0m17 0h0m1 0h0m1 0h0m1 0h0m1 0h0m-24 1h0m6 0h0m1 0h0m12 0h0m1 0h0m2 0h0m2 0h0m-23 1h0m2 0h0m1 0h0m1 0h0m10 0h0m1 0h0m1 0h0m1 0h0m1 0h0m4 0h0m-21 1h0m1 0h0m10 0h0m1 0h0m1 0h0m1 0h0m1 0h0m1 0h0m-16 1h0m1 0h0m2 0h0m1 0h0m3 0h0m2 0h0m2 0h0m4 0h0m-16 1h0m4 0h0m1 0h0m6 0h0m3 0h0m-10 1h0m1 0h0m3 0h0m1 0h0m1 0h0m3 0h0m-8 1h0m-3 1h0"/>
<path stroke="#2f7fd0" d="M450 440h0m0 4h0m-13 1h0m8 0h0m0 1h0m-5 1h0m1 0h0m5 0h0m-8 1h0m6 0h0m1 0h0m-11 1h0m1 0h0m10 0h0m2 0h0m-5 1h0m1 0h0m1 0h0m-12 1h0m8 1h0m1 1h0m-11 1h0m2 0h0m6 0h0m1 0h0m-4 2h0m-3 1h0m3 0h0m-5 1h0m4 0h0m-8 1h0m6 0h0m1 0h0m-4 1h0"/>
<path stroke="#3fd34a" d="M449 444h0m-5 1h0m2 0h0m-4 1h0m-2 1h0m1 0h0m2 0h0m2 0h0m-5 1h0m1 0h0m1 0h0m2 0h0m-4 1h0m1 0h0m1 0h0m1 0h0m-6 1h0m1 0h0m1 0h0m1 0h0m1 0h0m1 0h0m-7 1h0m1 0h0m1 0h0m1 0h0m1 0h0m1 0h0m1 0h0m-6 1h0m1 0h0m1 0h0m2 0h0m-5 1h0m1 0h0m1 0h0m1 0h0m1 0h0m-7 1h0m2 0h0m1 0h0m2 0h0m2 0h0m-7 1h0m1 0h0m1 0h0m1 0h0m1 0h0m1 0h0m-5 1h0m1 0h0m1 0h0m-3 1h0m1 0h0m-1 1h0m0 1h0"/>
<path stroke="#3cc8a0" d="M461 435h0m5 0h0m-6 1h0m1 0h0m9 0h0m-13 1h0m4 0h0m7 0h0m-11 1h0m3 0h0m2 0h0m2 0h0m1 0h0m1 0h0m-12 1h0m1 0h0m16 0h0m-19 1h0m1 0h0m13 0h0m1 0h0m1 0h0m-16 1h0m12 0h0m3 0h0m-17 1h0m2 0h0m3 0h0m9 0h0m1 0h0m-15 1h0m1 0h0m13 0h0m2 0h0m1 0h0m-17 1h0m2 0h0m1 0h0m6 0h0m2 0h0m1 0h0m-9 1h0m2 0h0m7 0h0m2 0h0m-12 1h0m2 0h0m7 0h0m-8 1h0m5 1h0"/>
<path stroke="#3fd84a" d="M465 437h0m-9 1h0m1 0h0m9 0h0m-10 1h0m2 0h0m1 0h0m1 0h0m1 0h0m1 0h0m2 0h0m1 0h0m-11 1h0m1 0h0m1 0h0m1 0h0m1 0h0m1 0h0m1 0h0m1 0h0m1 0h0m1 0h0m1 0h0m1 0h0m-12 1h0m1 0h0m1 0h0m1 0h0m3 0h0m2 0h0m1 0h0m1 0h0m3 0h0m-12 1h0m3 0h0m1 0h0m1 0h0m2 0h0m1 0h0m1 0h0m-10 1h0m2 0h0m1 0h0m1 0h0m1 0h0m3 0h0m2 0h0m-11 1h0m5 0h0m1 0h0m1 0h0m1 0h0m1 0h0m-6 1h0m4 0h0m-6 1h0m6 0h0"/>
<path stroke="#4cc0e0" d="M441 447h0m-3 1h0m2 0h0m2 0h0m-4 1h0m1 0h0m-1 1h0m1 0h0m1 0h0m2 0h0m-5 1h0m1 0h0m1 0h0m1 0h0m-4 1h0m1 0h0m1 0h0m2 0h0m-5 1h0m-1 1h0m1 0h0m1 0h0m0 1h0"/>
</g>
<path d="M407.4 380.4H506.2V477.3H407.4" fill="none" stroke="#2e3432" stroke-width="1.2"/>
<line x1="407.4" y1="380.4" x2="407.4" y2="477.3" stroke="#9aa8a8" stroke-width="0.9" stroke-dasharray="1 1.5"/>
<line x1="405.4" y1="450.4" x2="407.4" y2="450.4" stroke="#6a7a7a" stroke-width="0.8"/>
<line x1="405.4" y1="423.5" x2="407.4" y2="423.5" stroke="#6a7a7a" stroke-width="0.8"/>
<line x1="405.4" y1="396.5" x2="407.4" y2="396.5" stroke="#6a7a7a" stroke-width="0.8"/>
<line x1="407.4" y1="434" x2="506.2" y2="434" stroke="#3c4442" stroke-width="1.1"/>
<line x1="449.6" y1="380.4" x2="449.6" y2="477.3" stroke="#3c4442" stroke-width="1.1"/>
<g font-family="&quot;Liberation Serif&quot;, serif" font-size="12px" fill="#111" stroke="#111" stroke-width="0.25">
<line x1="464.1" y1="397" x2="496.40000000000003" y2="397" stroke="#111" stroke-width="1.3"/>
<line x1="479.6" y1="382.8" x2="479.6" y2="410" stroke="#111" stroke-width="1.3"/>
<text x="476.20000000000005" y="393.1" text-anchor="end">1</text>
<text x="484.6" y="393.1">4</text>
<text x="476.20000000000005" y="408.7" text-anchor="end">44</text>
<text x="485.1" y="408.7">51</text>
</g>
<g stroke-width="1.8" stroke-linecap="square" fill="none" transform="translate(0.5 0.5)">
<path stroke="#1b2a4c" d="M84 534h0m-1 1h0m-9 1h0m20 1h0m3 0h0m6 0h0m-21 1h0m-11 1h0m20 0h0m14 0h0m3 0h0m-32 1h0m10 0h0m3 0h0m7 0h0m-34 1h0m15 0h0m5 0h0m5 0h0m3 0h0m12 0h0m5 0h0m-50 1h0m17 0h0m2 0h0m6 0h0m4 0h0m4 0h0m8 0h0m6 0h0m8 0h0m-44 1h0m5 0h0m6 0h0m3 0h0m4 0h0m1 0h0m3 0h0m1 0h0m3 0h0m11 0h0m-44 1h0m3 0h0m5 0h0m3 0h0m2 0h0m8 0h0m2 0h0m4 0h0m2 0h0m2 0h0m5 0h0m1 0h0m10 0h0m-43 1h0m1 0h0m1 0h0m7 0h0m6 0h0m12 0h0m2 0h0m2 0h0m5 0h0m5 0h0m14 0h0m-59 1h0m7 0h0m2 0h0m10 0h0m1 0h0m3 0h0m9 0h0m1 0h0m3 0h0m7 0h0m-47 1h0m4 0h0m4 0h0m3 0h0m3 0h0m25 0h0m5 0h0m1 0h0m3 0h0m2 0h0m-54 1h0m3 0h0m5 0h0m3 0h0m5 0h0m2 0h0m11 0h0m15 0h0m2 0h0m1 0h0m1 0h0m1 0h0m1 0h0m3 0h0m1 0h0m2 0h0m4 0h0m-60 1h0m8 0h0m6 0h0m1 0h0m4 0h0m2 0h0m4 0h0m18 0h0m6 0h0m1 0h0m10 0h0m-56 1h0m1 0h0m3 0h0m2 0h0m2 0h0m1 0h0m5 0h0m1 0h0m1 0h0m23 0h0m9 0h0m1 0h0m2 0h0m-55 1h0m1 0h0m5 0h0m1 0h0m2 0h0m3 0h0m1 0h0m4 0h0m33 0h0m1 0h0m-54 1h0m8 0h0m6 0h0m4 0h0m2 0h0m-18 1h0m1 0h0m2 0h0m1 0h0m6 0h0m1 0h0m2 0h0m3 0h0m1 0h0m31 0h0m4 0h0m3 0h0m-56 1h0m1 0h0m1 0h0m13 0h0m6 0h0m29 0h0m3 0h0m1 0h0m4 0h0m-62 1h0m9 0h0m4 0h0m2 0h0m9 0h0m28 0h0m2 0h0m1 0h0m2 0h0m-56 1h0m2 0h0m12 0h0m9 0h0m31 0h0m1 0h0m2 0h0m1 0h0m11 0h0m-64 1h0m11 0h0m2 0h0m1 0h0m2 0h0m32 0h0m2 0h0m-64 1h0m6 0h0m3 0h0m7 0h0m4 0h0m1 0h0m8 0h0m4 0h0m24 0h0m3 0h0m1 0h0m-52 1h0m12 0h0m4 0h0m6 0h0m29 0h0m4 0h0m-57 1h0m11 0h0m1 0h0m5 0h0m4 0h0m1 0h0m1 0h0m3 0h0m27 0h0m3 0h0m7 0h0m-36 1h0m16 0h0m12 0h0m5 0h0m-61 1h0m1 0h0m10 0h0m3 0h0m1 0h0m5 0h0m9 0h0m1 0h0m2 0h0m5 0h0m15 0h0m7 0h0m1 0h0m1 0h0m1 0h0m-65 1h0m12 0h0m1 0h0m6 0h0m13 0h0m1 0h0m2 0h0m6 0h0m6 0h0m3 0h0m1 0h0m-50 1h0m2 0h0m5 0h0m11 0h0m1 0h0m13 0h0m2 0h0m1 0h0m10 0h0m2 0h0m4 0h0m2 0h0m6 0h0m-66 1h0m5 0h0m4 0h0m6 0h0m1 0h0m1 0h0m4 0h0m7 0h0m2 0h0m3 0h0m1 0h0m2 0h0m14 0h0m4 0h0m3 0h0m5 0h0m-60 1h0m18 0h0m20 0h0m1 0h0m5 0h0m1 0h0m2 0h0m2 0h0m1 0h0m6 0h0m1 0h0m4 0h0m-54 1h0m6 0h0m13 0h0m15 0h0m2 0h0m4 0h0m2 0h0m8 0h0m2 0h0m1 0h0m-58 1h0m6 0h0m3 0h0m17 0h0m12 0h0m3 0h0m2 0h0m2 0h0m1 0h0m3 0h0m6 0h0m-52 1h0m3 0h0m4 0h0m15 0h0m6 0h0m9 0h0m-37 1h0m29 0h0m15 0h0m-51 1h0m9 0h0m15 0h0m9 0h0m6 0h0m5 0h0m17 0h0m-54 1h0m31 0h0m1 0h0m23 0h0m-58 1h0m34 0h0m-33 1h0m47 0h0m-49 2h0m33 0h0m-39 1h0m46 0h0m-42 1h0"/>
<path stroke="#2866b8" d="M93 540h0m-9 2h0m2 0h0m10 0h0m-13 1h0m3 0h0m4 0h0m6 0h0m2 0h0m-16 1h0m3 0h0m1 0h0m2 0h0m3 0h0m-11 1h0m4 0h0m2 0h0m1 0h0m5 0h0m7 0h0m-19 1h0m6 0h0m3 0h0m1 0h0m1 0h0m2 0h0m-19 1h0m4 0h0m1 0h0m1 0h0m3 0h0m1 0h0m2 0h0m4 0h0m3 0h0m1 0h0m2 0h0m2 0h0m2 0h0m-24 1h0m6 0h0m9 0h0m2 0h0m5 0h0m-28 1h0m6 0h0m1 0h0m2 0h0m19 0h0m4 0h0m-29 1h0m6 0h0m15 0h0m1 0h0m2 0h0m5 0h0m-25 1h0m21 0h0m3 0h0m3 0h0m-29 1h0m2 0h0m24 0h0m2 0h0m-37 1h0m11 0h0m19 0h0m2 0h0m1 0h0m1 0h0m-5 1h0m2 0h0m7 0h0m2 0h0m2 0h0m-42 1h0m7 0h0m25 0h0m4 0h0m1 0h0m-34 1h0m1 0h0m2 0h0m1 0h0m2 0h0m21 0h0m15 0h0m-46 1h0m34 0h0m3 0h0m-32 1h0m2 0h0m2 0h0m2 0h0m19 0h0m1 0h0m8 0h0m-36 1h0m3 0h0m1 0h0m3 0h0m2 0h0m13 0h0m6 0h0m2 0h0m1 0h0m2 0h0m-30 1h0m4 0h0m1 0h0m2 0h0m13 0h0m5 0h0m5 0h0m-34 1h0m2 0h0m7 0h0m3 0h0m4 0h0m4 0h0m1 0h0m3 0h0m-19 1h0m3 0h0m2 0h0m1 0h0m4 0h0m6 0h0m-17 1h0m3 0h0m1 0h0m1 0h0m1 0h0m1 0h0m3 0h0m1 0h0m2 0h0m3 0h0m1 0h0m1 0h0m2 0h0m6 0h0m-24 1h0m4 0h0m6 0h0m11 0h0m-26 1h0m12 0h0m3 0h0m2 0h0m10 0h0m-22 1h0m19 2h0"/>
<path stroke="#3cb0e8" d="M87 544h0m-1 1h0m9 0h0m-14 1h0m6 0h0m6 0h0m2 0h0m1 0h0m-8 1h0m2 0h0m2 0h0m5 0h0m-21 1h0m5 0h0m1 0h0m1 0h0m1 0h0m2 0h0m2 0h0m1 0h0m4 0h0m1 0h0m1 0h0m-15 1h0m2 0h0m1 0h0m5 0h0m5 0h0m2 0h0m-18 1h0m2 0h0m3 0h0m6 0h0m5 0h0m1 0h0m1 0h0m3 0h0m1 0h0m1 0h0m-22 1h0m1 0h0m2 0h0m13 0h0m1 0h0m1 0h0m2 0h0m-29 1h0m3 0h0m2 0h0m2 0h0m1 0h0m1 0h0m1 0h0m1 0h0m13 0h0m2 0h0m2 0h0m1 0h0m1 0h0m2 0h0m-29 1h0m3 0h0m1 0h0m1 0h0m17 0h0m2 0h0m2 0h0m-29 1h0m4 0h0m1 0h0m4 0h0m17 0h0m1 0h0m1 0h0m1 0h0m2 0h0m-27 1h0m1 0h0m2 0h0m1 0h0m16 0h0m1 0h0m2 0h0m4 0h0m5 0h0m-31 1h0m1 0h0m1 0h0m2 0h0m1 0h0m12 0h0m2 0h0m1 0h0m-21 1h0m2 0h0m1 0h0m17 0h0m2 0h0m2 0h0m2 0h0m-24 1h0m1 0h0m1 0h0m11 0h0m3 0h0m1 0h0m1 0h0m2 0h0m2 0h0m-24 1h0m1 0h0m2 0h0m3 0h0m1 0h0m2 0h0m1 0h0m5 0h0m1 0h0m5 0h0m2 0h0m-23 1h0m4 0h0m2 0h0m2 0h0m4 0h0m4 0h0m1 0h0m1 0h0m-16 1h0m1 0h0m2 0h0m6 0h0m4 0h0m1 0h0m2 0h0m1 0h0m-15 1h0m4 0h0m1 0h0m3 0h0m3 0h0m1 0h0m1 0h0m0 1h0m3 0h0m-20 1h0m7 0h0m3 0h0"/>
<path stroke="#2f7fd0" d="M65 550h0m-7 1h0m4 1h0m-7 1h0m2 0h0m1 0h0m-5 1h0m3 0h0m-3 1h0m1 0h0m3 0h0m-8 1h0m4 0h0m3 0h0m4 0h0m-10 1h0m9 0h0m-8 1h0m-4 1h0m2 0h0m8 0h0m-8 1h0m7 0h0m-11 1h0m2 0h0m-1 1h0m1 0h0m1 0h0m-3 1h0m6 0h0m1 0h0m-5 1h0m5 0h0m4 0h0m-12 1h0m1 0h0m1 0h0m1 0h0m3 0h0m2 0h0m-7 1h0m1 0h0m-1 1h0m-1 1h0m3 0h0m-3 1h0"/>
<path stroke="#3cc8a0" d="M84 547h0m0 1h0m1 0h0m-2 1h0m1 0h0m2 0h0m1 0h0m4 0h0m-8 1h0m1 0h0m2 0h0m2 0h0m2 0h0m4 0h0m-20 1h0m2 0h0m3 0h0m3 0h0m1 0h0m1 0h0m2 0h0m2 0h0m2 0h0m2 0h0m1 0h0m1 0h0m-15 1h0m1 0h0m1 0h0m1 0h0m11 0h0m1 0h0m4 0h0m-19 1h0m12 0h0m2 0h0m-17 1h0m15 0h0m1 0h0m3 0h0m1 0h0m-19 1h0m1 0h0m14 0h0m-15 1h0m2 0h0m1 0h0m10 0h0m4 0h0m-18 1h0m4 0h0m11 0h0m-18 1h0m2 0h0m2 0h0m3 0h0m2 0h0m1 0h0m1 0h0m1 0h0m5 0h0m1 0h0m1 0h0m-17 1h0m3 0h0m2 0h0m2 0h0m1 0h0m6 0h0m2 0h0m-11 1h0m3 0h0m1 0h0m3 0h0m4 0h0m-11 2h0"/>
<path stroke="#3fd84a" d="M83 548h0m7 1h0m-2 1h0m1 0h0m1 0h0m-8 1h0m1 0h0m1 0h0m1 0h0m3 0h0m2 0h0m1 0h0m-10 1h0m1 0h0m2 0h0m1 0h0m1 0h0m1 0h0m1 0h0m1 0h0m1 0h0m1 0h0m1 0h0m2 0h0m-14 1h0m1 0h0m1 0h0m1 0h0m1 0h0m1 0h0m1 0h0m1 0h0m4 0h0m1 0h0m-12 1h0m1 0h0m1 0h0m1 0h0m1 0h0m2 0h0m1 0h0m1 0h0m2 0h0m4 0h0m-12 1h0m1 0h0m1 0h0m1 0h0m1 0h0m1 0h0m1 0h0m1 0h0m2 0h0m4 0h0m-15 1h0m1 0h0m1 0h0m2 0h0m1 0h0m1 0h0m1 0h0m1 0h0m1 0h0m3 0h0m1 0h0m-13 1h0m1 0h0m1 0h0m1 0h0m2 0h0m2 0h0m2 0h0m2 0h0m-12 1h0m2 0h0m1 0h0m1 0h0m1 0h0m1 0h0m1 0h0m4 0h0m-9 1h0m2 0h0m0 1h0"/>
<path stroke="#4cc0e0" d="M56 556h0m-4 1h0m1 0h0m1 0h0m1 0h0m-4 1h0m1 0h0m1 0h0m3 0h0m-6 1h0m2 0h0m1 0h0m1 0h0m1 0h0m-4 1h0m1 0h0m1 0h0m1 0h0m-5 1h0m1 0h0m1 0h0m1 0h0m1 0h0m1 0h0m-2 1h0m-4 1h0m2 0h0m2 0h0m-6 2h0"/>
</g>
<path d="M30.4 482.6H129.4V581.2H30.4" fill="none" stroke="#2e3432" stroke-width="1.2"/>
<line x1="30.4" y1="482.6" x2="30.4" y2="581.2" stroke="#9aa8a8" stroke-width="0.9" stroke-dasharray="1 1.5"/>
<line x1="28.4" y1="553.8" x2="30.4" y2="553.8" stroke="#6a7a7a" stroke-width="0.8"/>
<line x1="28.4" y1="526.4" x2="30.4" y2="526.4" stroke="#6a7a7a" stroke-width="0.8"/>
<line x1="28.4" y1="499.0" x2="30.4" y2="499.0" stroke="#6a7a7a" stroke-width="0.8"/>
<line x1="30.4" y1="536.6" x2="129.4" y2="536.6" stroke="#3c4442" stroke-width="1.1"/>
<line x1="73" y1="482.6" x2="73" y2="581.2" stroke="#3c4442" stroke-width="1.1"/>
<g font-family="&quot;Liberation Serif&quot;, serif" font-size="12px" fill="#111" stroke="#111" stroke-width="0.25">
<line x1="95.5" y1="501" x2="127.8" y2="501" stroke="#111" stroke-width="1.3"/>
<line x1="111" y1="486.8" x2="111" y2="514" stroke="#111" stroke-width="1.3"/>
<text x="107.6" y="497.1" text-anchor="end">0</text>
<text x="116" y="497.1">0</text>
<text x="107.6" y="512.7" text-anchor="end">20</text>
<text x="116.5" y="512.7">80</text>
</g>
<g stroke-width="1.8" stroke-linecap="square" fill="none" transform="translate(0.5 0.5)">
<path stroke="#1b2a4c" d="M175 534h0m16 3h0m13 0h0m4 1h0m1 0h0m-16 1h0m5 0h0m22 0h0m-21 1h0m8 0h0m2 0h0m-28 1h0m23 0h0m1 0h0m5 0h0m-28 1h0m6 0h0m10 0h0m4 0h0m1 0h0m7 0h0m9 0h0m-36 1h0m4 0h0m1 0h0m6 0h0m5 0h0m7 0h0m2 0h0m4 0h0m2 0h0m3 0h0m-39 1h0m8 0h0m6 0h0m10 0h0m29 0h0m-52 1h0m5 0h0m3 0h0m6 0h0m1 0h0m1 0h0m1 0h0m1 0h0m3 0h0m17 0h0m2 0h0m-42 1h0m6 0h0m5 0h0m12 0h0m6 0h0m5 0h0m4 0h0m2 0h0m6 0h0m-54 1h0m6 0h0m5 0h0m1 0h0m3 0h0m3 0h0m6 0h0m3 0h0m2 0h0m6 0h0m7 0h0m5 0h0m-46 1h0m9 0h0m3 0h0m8 0h0m2 0h0m9 0h0m11 0h0m2 0h0m-44 1h0m4 0h0m1 0h0m2 0h0m6 0h0m5 0h0m17 0h0m9 0h0m-42 1h0m4 0h0m1 0h0m4 0h0m1 0h0m1 0h0m4 0h0m22 0h0m3 0h0m4 0h0m-41 1h0m2 0h0m2 0h0m6 0h0m1 0h0m3 0h0m1 0h0m1 0h0m18 0h0m4 0h0m-32 1h0m2 0h0m1 0h0m9 0h0m27 0h0m1 0h0m-53 1h0m1 0h0m6 0h0m9 0h0m29 0h0m1 0h0m1 0h0m1 0h0m18 0h0m-66 1h0m1 0h0m1 0h0m9 0h0m1 0h0m4 0h0m33 0h0m1 0h0m-52 1h0m16 0h0m29 0h0m4 0h0m1 0h0m-49 1h0m4 0h0m5 0h0m2 0h0m3 0h0m2 0h0m38 0h0m-42 1h0m39 0h0m-54 1h0m11 0h0m1 0h0m3 0h0m2 0h0m3 0h0m24 0h0m7 0h0m-51 1h0m12 0h0m1 0h0m4 0h0m4 0h0m22 0h0m4 0h0m4 0h0m6 0h0m-47 1h0m1 0h0m8 0h0m24 0h0m3 0h0m1 0h0m2 0h0m1 0h0m-26 1h0m19 0h0m4 0h0m5 0h0m-53 1h0m1 0h0m10 0h0m1 0h0m1 0h0m1 0h0m1 0h0m6 0h0m21 0h0m3 0h0m8 0h0m3 0h0m12 0h0m-72 1h0m6 0h0m15 0h0m5 0h0m1 0h0m2 0h0m21 0h0m1 0h0m-48 1h0m1 0h0m10 0h0m7 0h0m4 0h0m14 0h0m1 0h0m2 0h0m3 0h0m7 0h0m-49 1h0m2 0h0m1 0h0m1 0h0m9 0h0m7 0h0m4 0h0m1 0h0m1 0h0m4 0h0m1 0h0m1 0h0m5 0h0m2 0h0m5 0h0m3 0h0m18 0h0m-70 1h0m26 0h0m4 0h0m2 0h0m2 0h0m3 0h0m4 0h0m5 0h0m3 0h0m4 0h0m3 0h0m-21 1h0m1 0h0m4 0h0m3 0h0m2 0h0m2 0h0m12 0h0m6 0h0m1 0h0m-65 1h0m9 0h0m15 0h0m5 0h0m5 0h0m10 0h0m11 0h0m-53 1h0m4 0h0m4 0h0m5 0h0m20 0h0m3 0h0m2 0h0m5 0h0m4 0h0m4 0h0m-17 1h0m6 0h0m1 0h0m2 0h0m5 0h0m-37 1h0m44 0h0m-22 1h0m4 2h0m-5 2h0m-13 1h0"/>
<path stroke="#2866b8" d="M200 540h0m-1 2h0m-3 1h0m3 0h0m-4 1h0m2 0h0m1 0h0m-9 1h0m4 0h0m1 0h0m7 0h0m-8 1h0m4 0h0m1 0h0m1 0h0m2 0h0m4 0h0m1 0h0m3 0h0m-22 1h0m1 0h0m5 0h0m3 0h0m3 0h0m3 0h0m1 0h0m1 0h0m-24 1h0m9 0h0m3 0h0m3 0h0m1 0h0m9 0h0m4 0h0m2 0h0m2 0h0m-28 1h0m8 0h0m1 0h0m2 0h0m9 0h0m1 0h0m1 0h0m2 0h0m1 0h0m1 0h0m5 0h0m-42 1h0m6 0h0m5 0h0m1 0h0m5 0h0m20 0h0m1 0h0m-38 1h0m3 0h0m1 0h0m9 0h0m1 0h0m2 0h0m2 0h0m18 0h0m1 0h0m-39 1h0m1 0h0m2 0h0m1 0h0m2 0h0m7 0h0m4 0h0m1 0h0m24 0h0m-40 1h0m11 0h0m5 0h0m15 0h0m-36 1h0m2 0h0m8 0h0m6 0h0m25 0h0m-34 1h0m4 0h0m3 0h0m4 0h0m1 0h0m22 0h0m2 0h0m1 0h0m-47 1h0m3 0h0m14 0h0m4 0h0m23 0h0m2 0h0m-46 1h0m1 0h0m8 0h0m8 0h0m3 0h0m2 0h0m22 0h0m2 0h0m-47 1h0m2 0h0m9 0h0m1 0h0m3 0h0m3 0h0m3 0h0m24 0h0m-45 1h0m40 0h0m6 0h0m3 0h0m-50 1h0m19 0h0m2 0h0m6 0h0m1 0h0m8 0h0m4 0h0m1 0h0m5 0h0m1 0h0m-38 1h0m11 0h0m5 0h0m3 0h0m1 0h0m1 0h0m11 0h0m-38 1h0m4 0h0m19 0h0m3 0h0m8 0h0m2 0h0m1 0h0m1 0h0m6 0h0m-47 1h0m3 0h0m1 0h0m18 0h0m3 0h0m2 0h0m9 0h0m2 0h0m9 0h0m-48 1h0m4 0h0m1 0h0m2 0h0m13 0h0m2 0h0m5 0h0m1 0h0m1 0h0m2 0h0m1 0h0m2 0h0m1 0h0m4 0h0m2 0h0m-40 1h0m21 0h0m11 0h0m5 0h0m1 0h0m-11 1h0m5 0h0m3 0h0m1 0h0m-34 1h0m24 0h0m2 0h0m3 0h0m3 0h0m11 0h0"/>
<path stroke="#3cb0e8" d="M200 544h0m2 1h0m-11 2h0m7 0h0m3 0h0m2 0h0m2 0h0m3 0h0m-12 1h0m6 0h0m4 0h0m-21 1h0m6 0h0m6 0h0m5 0h0m-14 1h0m4 0h0m2 0h0m1 0h0m3 0h0m3 0h0m1 0h0m3 0h0m6 0h0m-36 1h0m10 0h0m2 0h0m6 0h0m1 0h0m2 0h0m5 0h0m6 0h0m2 0h0m2 0h0m-37 1h0m15 0h0m1 0h0m1 0h0m2 0h0m2 0h0m11 0h0m2 0h0m1 0h0m8 0h0m-43 1h0m3 0h0m8 0h0m3 0h0m2 0h0m1 0h0m1 0h0m14 0h0m3 0h0m1 0h0m1 0h0m1 0h0m-40 1h0m1 0h0m3 0h0m1 0h0m11 0h0m2 0h0m17 0h0m1 0h0m4 0h0m-36 1h0m1 0h0m7 0h0m1 0h0m1 0h0m2 0h0m2 0h0m1 0h0m1 0h0m14 0h0m1 0h0m1 0h0m1 0h0m-39 1h0m7 0h0m6 0h0m8 0h0m17 0h0m2 0h0m-42 1h0m1 0h0m5 0h0m1 0h0m1 0h0m12 0h0m1 0h0m16 0h0m1 0h0m1 0h0m1 0h0m1 0h0m1 0h0m-34 1h0m11 0h0m2 0h0m1 0h0m1 0h0m13 0h0m3 0h0m2 0h0m-36 1h0m1 0h0m1 0h0m14 0h0m2 0h0m1 0h0m1 0h0m1 0h0m7 0h0m1 0h0m4 0h0m1 0h0m-36 1h0m1 0h0m1 0h0m17 0h0m4 0h0m1 0h0m5 0h0m2 0h0m1 0h0m1 0h0m-37 1h0m2 0h0m1 0h0m1 0h0m1 0h0m15 0h0m2 0h0m1 0h0m1 0h0m1 0h0m1 0h0m1 0h0m1 0h0m2 0h0m2 0h0m1 0h0m1 0h0m1 0h0m3 0h0m1 0h0m-41 1h0m2 0h0m1 0h0m1 0h0m23 0h0m4 0h0m4 0h0m1 0h0m1 0h0m-33 1h0m23 0h0m2 0h0m1 0h0m5 0h0m-8 1h0m1 0h0m4 0h0m2 0h0m4 0h0m3 0h0m-8 1h0m-3 2h0"/>
<path stroke="#3cc8a0" d="M199 548h0m4 1h0m1 0h0m-13 1h0m3 0h0m2 0h0m1 0h0m1 0h0m3 0h0m3 0h0m5 0h0m-17 1h0m1 0h0m1 0h0m2 0h0m1 0h0m1 0h0m1 0h0m1 0h0m1 0h0m1 0h0m1 0h0m-13 1h0m6 0h0m1 0h0m4 0h0m1 0h0m2 0h0m2 0h0m1 0h0m1 0h0m-16 1h0m1 0h0m1 0h0m10 0h0m2 0h0m4 0h0m-37 1h0m3 0h0m1 0h0m12 0h0m3 0h0m2 0h0m9 0h0m1 0h0m4 0h0m-38 1h0m20 0h0m2 0h0m12 0h0m1 0h0m3 0h0m-38 1h0m1 0h0m1 0h0m2 0h0m16 0h0m1 0h0m1 0h0m11 0h0m6 0h0m-40 1h0m6 0h0m15 0h0m2 0h0m-23 1h0m4 0h0m18 0h0m1 0h0m1 0h0m8 0h0m1 0h0m1 0h0m-35 1h0m4 0h0m18 0h0m1 0h0m1 0h0m1 0h0m4 0h0m1 0h0m1 0h0m1 0h0m4 0h0m-9 1h0m3 0h0m1 0h0m1 0h0m-34 1h0m3 0h0m1 0h0m25 0h0m1 0h0m3 0h0m2 0h0m1 0h0m1 0h0m-36 1h0m2 0h0m22 0h0"/>
<path stroke="#3fd84a" d="M195 550h0m4 0h0m-3 1h0m2 0h0m3 0h0m2 0h0m-9 1h0m1 0h0m2 0h0m1 0h0m1 0h0m1 0h0m3 0h0m1 0h0m-11 1h0m2 0h0m1 0h0m1 0h0m1 0h0m1 0h0m1 0h0m1 0h0m-6 1h0m1 0h0m1 0h0m1 0h0m1 0h0m1 0h0m1 0h0m1 0h0m1 0h0m-30 1h0m1 0h0m19 0h0m1 0h0m2 0h0m1 0h0m1 0h0m1 0h0m1 0h0m1 0h0m2 0h0m1 0h0m-34 1h0m2 0h0m1 0h0m1 0h0m19 0h0m1 0h0m1 0h0m1 0h0m1 0h0m1 0h0m1 0h0m1 0h0m1 0h0m2 0h0m1 0h0m-35 1h0m2 0h0m1 0h0m2 0h0m18 0h0m1 0h0m3 0h0m1 0h0m1 0h0m1 0h0m1 0h0m1 0h0m1 0h0m1 0h0m-34 1h0m1 0h0m1 0h0m1 0h0m1 0h0m20 0h0m1 0h0m1 0h0m1 0h0m1 0h0m1 0h0m1 0h0m1 0h0m1 0h0m1 0h0m4 0h0m-38 1h0m3 0h0m1 0h0m21 0h0m1 0h0m1 0h0m1 0h0m2 0h0m1 0h0m2 0h0m-33 1h0m1 0h0m1 0h0m1 0h0m20 0h0m5 0h0m7 0h0m-35 2h0"/>
</g>
<path d="M146.5 483.1H243.9V581.2H146.5" fill="none" stroke="#2e3432" stroke-width="1.2"/>
<line x1="146.5" y1="483.1" x2="146.5" y2="581.2" stroke="#9aa8a8" stroke-width="0.9" stroke-dasharray="1 1.5"/>
<line x1="144.5" y1="554.0" x2="146.5" y2="554.0" stroke="#6a7a7a" stroke-width="0.8"/>
<line x1="144.5" y1="526.7" x2="146.5" y2="526.7" stroke="#6a7a7a" stroke-width="0.8"/>
<line x1="144.5" y1="499.5" x2="146.5" y2="499.5" stroke="#6a7a7a" stroke-width="0.8"/>
<line x1="146.5" y1="537.3" x2="243.9" y2="537.3" stroke="#3c4442" stroke-width="1.1"/>
<line x1="188.5" y1="483.1" x2="188.5" y2="581.2" stroke="#3c4442" stroke-width="1.1"/>
<g font-family="&quot;Liberation Serif&quot;, serif" font-size="12px" fill="#111" stroke="#111" stroke-width="0.25">
<line x1="209.5" y1="502.2" x2="241.8" y2="502.2" stroke="#111" stroke-width="1.3"/>
<line x1="225" y1="488.0" x2="225" y2="515.2" stroke="#111" stroke-width="1.3"/>
<text x="221.6" y="498.3" text-anchor="end">0</text>
<text x="230" y="498.3">0</text>
<text x="221.6" y="513.9" text-anchor="end">32</text>
<text x="230.5" y="513.9">68</text>
</g>
<g stroke-width="1.8" stroke-linecap="square" fill="none" transform="translate(0.5 0.5)">
<path stroke="#3ea6e2" d="M330 542h0m4 0h0m2 0h0m-4 2h0m1 0h0m-6 1h0m-2 1h0m4 0h0m-6 2h0m3 0h0m1 0h0m4 0h0m2 0h0m-4 1h0m-11 1h0m4 0h0m-3 1h0m7 0h0m-2 3h0m0 1h0m-10 1h0m1 0h0m5 2h0m-8 1h0m-2 2h0m6 0h0m1 0h0m-2 1h0m2 1h0m-13 2h0m6 0h0m-4 1h0m3 0h0m1 0h0m-5 1h0m2 0h0m3 0h0m1 0h0m-2 2h0m-5 2h0"/>
<path stroke="#1b2a4c" d="M352 534h0m12 1h0m-15 1h0m-20 1h0m22 0h0m2 0h0m3 0h0m2 0h0m-13 1h0m17 0h0m-25 1h0m3 0h0m-11 1h0m3 0h0m13 0h0m13 0h0m13 0h0m-31 1h0m2 0h0m17 0h0m5 0h0m-29 1h0m5 0h0m14 0h0m3 0h0m3 0h0m8 0h0m-31 1h0m2 0h0m8 0h0m1 0h0m5 0h0m3 0h0m12 0h0m-44 1h0m7 0h0m4 0h0m14 0h0m6 0h0m1 0h0m4 0h0m7 0h0m2 0h0m13 0h0m-56 1h0m3 0h0m4 0h0m15 0h0m8 0h0m6 0h0m1 0h0m3 0h0m-48 1h0m8 0h0m2 0h0m1 0h0m10 0h0m3 0h0m15 0h0m7 0h0m1 0h0m3 0h0m-47 1h0m12 0h0m4 0h0m24 0h0m1 0h0m-29 1h0m25 0h0m5 0h0m10 0h0m-61 1h0m9 0h0m2 0h0m2 0h0m1 0h0m4 0h0m2 0h0m4 0h0m25 0h0m5 0h0m2 0h0m-53 1h0m1 0h0m10 0h0m4 0h0m1 0h0m4 0h0m2 0h0m30 0h0m8 0h0m-54 1h0m8 0h0m2 0h0m30 0h0m3 0h0m12 0h0m-60 1h0m9 0h0m4 0h0m1 0h0m1 0h0m5 0h0m-25 1h0m15 0h0m6 0h0m-20 1h0m11 0h0m6 0h0m1 0h0m5 0h0m35 0h0m2 0h0m-47 1h0m6 0h0m3 0h0m32 0h0m2 0h0m-58 1h0m13 0h0m4 0h0m1 0h0m2 0h0m1 0h0m38 0h0m-47 1h0m9 0h0m4 0h0m28 0h0m-42 1h0m1 0h0m3 0h0m5 0h0m3 0h0m4 0h0m-28 1h0m18 0h0m5 0h0m-22 1h0m12 0h0m9 0h0m2 0h0m4 0h0m26 0h0m6 0h0m-50 1h0m9 0h0m6 0h0m1 0h0m19 0h0m5 0h0m6 0h0m-32 1h0m3 0h0m3 0h0m2 0h0m7 0h0m9 0h0m11 0h0m-61 1h0m9 0h0m2 0h0m17 0h0m3 0h0m2 0h0m12 0h0m3 0h0m2 0h0m1 0h0m1 0h0m-53 1h0m2 0h0m5 0h0m4 0h0m33 0h0m2 0h0m1 0h0m1 0h0m2 0h0m2 0h0m-49 1h0m12 0h0m7 0h0m6 0h0m4 0h0m7 0h0m3 0h0m6 0h0m6 0h0m-60 1h0m13 0h0m11 0h0m13 0h0m1 0h0m1 0h0m8 0h0m5 0h0m1 0h0m-49 1h0m2 0h0m7 0h0m32 0h0m2 0h0m-39 1h0m1 0h0m7 0h0m12 0h0m7 0h0m4 0h0m6 0h0m10 0h0m1 0h0m5 0h0m-64 1h0m15 0h0m30 0h0m-35 1h0m1 0h0m1 0h0m1 0h0m6 0h0m17 0h0m12 0h0m-40 1h0m2 0h0m1 0h0m3 0h0m-12 1h0m11 0h0m3 1h0m-13 1h0m32 3h0m-19 1h0m-12 1h0"/>
<path stroke="#3cc0b0" d="M326 546h0m1 0h0m1 0h0m3 0h0m-3 1h0m-5 1h0m4 0h0m-4 1h0m4 0h0m-5 1h0m1 0h0m1 0h0m-3 1h0m1 0h0m2 0h0m1 0h0m-6 1h0m1 0h0m5 0h0m-7 1h0m0 1h0m5 0h0m-1 1h0m-1 1h0m1 0h0m-8 1h0m1 0h0m-1 1h0m-2 1h0m6 0h0m-6 1h0m5 0h0m1 0h0m-7 1h0m4 0h0m-4 1h0m1 0h0m4 0h0m-7 1h0m1 0h0m3 0h0m1 0h0m-6 2h0m1 0h0m-2 1h0m2 1h0m1 1h0"/>
<path stroke="#2866b8" d="M348 541h0m5 0h0m9 0h0m-9 3h0m3 0h0m-20 1h0m3 0h0m9 0h0m6 0h0m2 0h0m2 0h0m-17 1h0m3 0h0m7 0h0m3 0h0m1 0h0m3 0h0m-18 1h0m2 0h0m3 0h0m8 0h0m9 0h0m2 0h0m4 0h0m-27 1h0m3 0h0m13 0h0m1 0h0m3 0h0m1 0h0m-29 1h0m4 0h0m2 0h0m1 0h0m2 0h0m1 0h0m3 0h0m10 0h0m2 0h0m5 0h0m-25 1h0m2 0h0m18 0h0m1 0h0m3 0h0m-25 1h0m1 0h0m3 0h0m16 0h0m6 0h0m3 0h0m-34 1h0m5 0h0m1 0h0m1 0h0m-1 1h0m5 0h0m17 0h0m3 0h0m2 0h0m-5 1h0m2 0h0m-31 1h0m1 0h0m3 0h0m1 0h0m1 0h0m1 0h0m24 0h0m-37 1h0m9 0h0m3 0h0m20 0h0m3 0h0m1 0h0m-24 1h0m20 0h0m1 0h0m1 0h0m1 0h0m0 1h0m-14 1h0m6 0h0m1 0h0m2 0h0m1 0h0m4 0h0m1 0h0m-28 1h0m3 0h0m2 0h0m1 0h0m3 0h0m8 0h0m4 0h0m-21 1h0m5 0h0m1 0h0m1 0h0m2 0h0m13 0h0m-19 1h0m11 0h0m2 0h0m1 0h0m2 0h0m3 0h0m-26 1h0m7 0h0m2 0h0m4 0h0m7 0h0m2 0h0m1 0h0m1 0h0m4 0h0m-18 1h0m6 0h0m3 0h0m2 0h0m-10 1h0m2 1h0m7 0h0m2 2h0"/>
<path stroke="#3cb0e8" d="M353 544h0m-6 1h0m3 0h0m-2 1h0m1 0h0m1 0h0m0 1h0m-6 1h0m1 0h0m1 0h0m3 0h0m2 0h0m1 0h0m3 0h0m4 0h0m-19 1h0m1 0h0m1 0h0m2 0h0m5 0h0m1 0h0m6 0h0m-16 1h0m1 0h0m1 0h0m2 0h0m10 0h0m2 0h0m-14 1h0m13 0h0m3 0h0m1 0h0m-23 1h0m1 0h0m1 0h0m1 0h0m14 0h0m4 0h0m1 0h0m-19 1h0m1 0h0m15 0h0m-19 1h0m2 0h0m3 0h0m1 0h0m17 0h0m-21 1h0m1 0h0m1 0h0m1 0h0m15 0h0m1 0h0m-20 1h0m1 0h0m1 0h0m14 0h0m-17 1h0m3 0h0m1 0h0m1 0h0m11 0h0m6 0h0m1 0h0m-23 1h0m4 0h0m1 0h0m3 0h0m9 0h0m2 0h0m2 0h0m-22 1h0m7 0h0m2 0h0m11 0h0m3 0h0m-20 1h0m2 0h0m3 0h0m6 0h0m1 0h0m1 0h0m4 0h0m-12 1h0m1 0h0m2 0h0m6 0h0m1 0h0m1 0h0m-16 1h0m2 0h0m4 0h0m7 1h0m-6 2h0m-3 1h0"/>
<path stroke="#2f7fd0" d="M324 548h0m3 0h0m-1 1h0m2 0h0m-7 1h0m5 0h0m2 0h0m-11 1h0m4 0h0m2 0h0m2 0h0m3 0h0m-11 1h0m3 0h0m2 0h0m2 0h0m1 0h0m-8 1h0m1 0h0m1 0h0m3 0h0m-6 1h0m1 0h0m7 0h0m-9 2h0m-4 1h0m11 0h0m-1 2h0m-5 1h0m-6 1h0m1 0h0m1 1h0m1 0h0m2 0h0m1 0h0m2 1h0m-6 1h0m3 0h0m-2 1h0m2 1h0m-8 1h0"/>
<path stroke="#3fd34a" d="M330 545h0m-8 6h0m1 0h0m2 0h0m1 0h0m-5 1h0m-1 1h0m1 0h0m-2 1h0m1 0h0m1 0h0m-4 1h0m2 0h0m1 0h0m1 0h0m1 0h0m-5 1h0m1 0h0m1 0h0m-4 1h0m1 0h0m1 0h0m1 0h0m1 0h0m-5 1h0m1 0h0m1 0h0m1 0h0m1 0h0m1 0h0m-6 1h0m1 0h0m1 0h0m1 0h0m1 0h0m1 0h0m-6 1h0m1 0h0m1 0h0m1 0h0m1 0h0m1 0h0m-5 1h0m1 0h0m-1 1h0m1 0h0m-3 2h0m0 1h0"/>
<path stroke="#3cc8a0" d="M352 548h0m-5 1h0m3 0h0m1 0h0m1 0h0m-4 1h0m1 0h0m1 0h0m1 0h0m1 0h0m5 0h0m-16 1h0m8 0h0m3 0h0m1 0h0m1 0h0m-11 1h0m1 0h0m10 0h0m1 0h0m-15 1h0m1 0h0m12 0h0m4 0h0m1 0h0m-16 1h0m13 0h0m1 0h0m1 0h0m-17 1h0m1 0h0m1 0h0m12 0h0m1 0h0m-13 1h0m1 0h0m1 0h0m9 0h0m-12 1h0m1 0h0m2 0h0m4 0h0m2 0h0m5 0h0m-8 1h0m4 0h0m2 0h0m-9 1h0m2 0h0m1 0h0m2 0h0m2 0h0m1 0h0m-2 3h0m-2 2h0"/>
<path stroke="#3fd84a" d="M349 548h0m4 0h0m-8 1h0m6 0h0m2 0h0m-6 1h0m1 0h0m1 0h0m-4 1h0m1 0h0m1 0h0m4 0h0m1 0h0m1 0h0m-8 1h0m1 0h0m1 0h0m1 0h0m2 0h0m2 0h0m1 0h0m1 0h0m-13 1h0m1 0h0m2 0h0m1 0h0m2 0h0m3 0h0m1 0h0m1 0h0m2 0h0m1 0h0m-13 1h0m2 0h0m1 0h0m1 0h0m2 0h0m2 0h0m1 0h0m1 0h0m-11 1h0m2 0h0m1 0h0m2 0h0m1 0h0m3 0h0m1 0h0m1 0h0m-9 1h0m1 0h0m1 0h0m1 0h0m1 0h0m1 0h0m1 0h0m1 0h0m1 0h0m4 0h0m-7 1h0m2 0h0m1 0h0m1 0h0m-6 1h0m1 0h0m2 0h0m1 0h0m2 0h0m-3 1h0m-5 1h0"/>
<path stroke="#4cc0e0" d="M318 552h0m-1 1h0m2 0h0m1 0h0m0 1h0m1 0h0m1 0h0m-6 1h0m6 0h0m-6 1h0m1 0h0m1 0h0m1 0h0m1 0h0m1 0h0m-7 1h0m4 0h0m-5 2h0m2 0h0m-1 1h0m2 0h0m1 0h0m1 0h0m0 1h0"/>
</g>
<path d="M295.8 484.2H395V582.3H295.8" fill="none" stroke="#2e3432" stroke-width="1.2"/>
<line x1="295.8" y1="484.2" x2="295.8" y2="582.3" stroke="#9aa8a8" stroke-width="0.9" stroke-dasharray="1 1.5"/>
<line x1="293.8" y1="555.0" x2="295.8" y2="555.0" stroke="#6a7a7a" stroke-width="0.8"/>
<line x1="293.8" y1="527.8" x2="295.8" y2="527.8" stroke="#6a7a7a" stroke-width="0.8"/>
<line x1="293.8" y1="500.5" x2="295.8" y2="500.5" stroke="#6a7a7a" stroke-width="0.8"/>
<line x1="295.8" y1="538.5" x2="395" y2="538.5" stroke="#3c4442" stroke-width="1.1"/>
<line x1="337.8" y1="484.2" x2="337.8" y2="582.3" stroke="#3c4442" stroke-width="1.1"/>
<g font-family="&quot;Liberation Serif&quot;, serif" font-size="12px" fill="#111" stroke="#111" stroke-width="0.25">
<line x1="360.3" y1="502.7" x2="392.6" y2="502.7" stroke="#111" stroke-width="1.3"/>
<line x1="375.8" y1="488.5" x2="375.8" y2="515.7" stroke="#111" stroke-width="1.3"/>
<text x="372.40000000000003" y="498.8" text-anchor="end">0</text>
<text x="380.8" y="498.8">2</text>
<text x="372.40000000000003" y="514.4" text-anchor="end">40</text>
<text x="381.3" y="514.4">58</text>
</g>
<g stroke-width="1.8" stroke-linecap="square" fill="none" transform="translate(0.5 0.5)">
<path stroke="#1b2a4c" d="M465 531h0m4 1h0m4 2h0m-26 1h0m14 0h0m12 0h0m5 1h0m-30 1h0m4 0h0m10 0h0m1 0h0m8 0h0m3 0h0m3 0h0m5 0h0m-27 1h0m3 0h0m4 0h0m6 0h0m1 0h0m8 0h0m-34 1h0m8 0h0m11 0h0m3 0h0m1 0h0m18 0h0m3 0h0m-39 1h0m11 0h0m2 0h0m4 0h0m1 0h0m3 0h0m1 0h0m3 0h0m1 0h0m6 0h0m5 0h0m-38 1h0m2 0h0m6 0h0m5 0h0m6 0h0m14 0h0m-39 1h0m1 0h0m3 0h0m2 0h0m8 0h0m16 0h0m-31 1h0m10 0h0m4 0h0m-16 1h0m7 0h0m2 0h0m2 0h0m3 0h0m18 0h0m14 0h0m3 0h0m-39 1h0m8 0h0m16 0h0m-40 1h0m4 0h0m2 0h0m2 0h0m2 0h0m-6 1h0m8 0h0m3 0h0m1 0h0m29 0h0m-44 1h0m1 0h0m9 0h0m4 0h0m28 0h0m-43 1h0m12 0h0m2 0h0m1 0h0m25 0h0m4 0h0m9 0h0m2 0h0m-43 1h0m2 0h0m5 0h0m2 0h0m30 0h0m-38 1h0m-20 1h0m15 0h0m5 0h0m29 0h0m5 0h0m-54 1h0m20 0h0m1 0h0m3 0h0m22 0h0m3 0h0m-44 1h0m11 0h0m10 0h0m22 0h0m1 0h0m3 0h0m3 0h0m-52 1h0m12 0h0m6 0h0m13 0h0m10 0h0m1 0h0m-40 1h0m12 0h0m12 0h0m1 0h0m3 0h0m7 0h0m4 0h0m1 0h0m5 0h0m-48 1h0m9 0h0m5 0h0m3 0h0m13 0h0m13 0h0m-44 1h0m13 0h0m1 0h0m8 0h0m17 0h0m7 0h0m-35 1h0m8 0h0m2 0h0m1 0h0m8 0h0m11 0h0m-44 1h0m9 0h0m2 0h0m11 0h0m3 0h0m10 0h0m2 0h0m3 0h0m-32 1h0m4 0h0m-6 1h0m3 0h0m18 0h0m6 0h0m-32 1h0m5 0h0m40 0h0m-41 2h0m-10 1h0m16 0h0m-4 1h0m-6 1h0m4 0h0"/>
<path stroke="#3cc0b0" d="M448 539h0m1 0h0m2 1h0m-4 2h0m-1 1h0m-5 1h0m2 0h0m2 0h0m-3 1h0m-2 1h0m2 0h0m2 0h0m-2 1h0m2 0h0m-5 1h0m3 0h0m1 0h0m-7 1h0m6 0h0m2 0h0m-9 1h0m6 0h0m-7 1h0m-1 1h0m2 0h0m4 0h0m2 0h0m3 0h0m-10 1h0m-3 1h0m6 0h0m-2 2h0m1 0h0m-8 1h0m6 1h0m1 0h0m-3 1h0m-1 1h0m1 1h0m-8 1h0m2 0h0m1 2h0m-1 1h0m-4 4h0"/>
<path stroke="#2866b8" d="M468 538h0m-5 1h0m5 0h0m-11 1h0m4 0h0m8 0h0m-13 1h0m6 0h0m2 0h0m11 0h0m-15 1h0m5 0h0m3 0h0m6 0h0m2 0h0m3 0h0m-27 1h0m5 0h0m1 0h0m20 0h0m-27 1h0m3 0h0m2 0h0m1 0h0m18 0h0m2 0h0m-25 1h0m2 0h0m-6 1h0m21 0h0m-17 1h0m2 0h0m1 0h0m15 0h0m4 0h0m2 0h0m-27 1h0m1 0h0m2 0h0m1 0h0m3 0h0m17 0h0m5 0h0m-28 1h0m3 0h0m20 0h0m-4 1h0m6 0h0m-21 1h0m17 0h0m-23 1h0m4 0h0m17 0h0m-14 1h0m4 0h0m9 0h0m-15 1h0m9 0h0m1 0h0m4 0h0m5 0h0m-18 1h0m2 0h0m5 0h0m6 0h0m-13 1h0m2 0h0m1 0h0m2 0h0m1 0h0m2 0h0m1 0h0m1 0h0m-3 1h0m9 1h0m-11 1h0"/>
<path stroke="#3fd34a" d="M444 543h0m1 2h0m-4 1h0m1 0h0m1 0h0m1 0h0m-3 1h0m1 0h0m-3 1h0m2 0h0m1 0h0m-5 1h0m2 0h0m1 0h0m-3 1h0m1 0h0m2 0h0m-4 1h0m4 0h0m1 0h0m-2 1h0m-5 1h0m4 0h0m-5 1h0m0 1h0m3 0h0m-2 1h0m-4 1h0m1 0h0m1 0h0m2 0h0m1 0h0m-6 1h0m1 0h0m2 0h0m-3 1h0m1 0h0m1 0h0m-3 1h0m1 0h0m1 0h0m1 0h0m-2 2h0"/>
<path stroke="#3cb0e8" d="M465 540h0m-2 1h0m1 0h0m2 0h0m6 0h0m-12 1h0m11 0h0m-14 1h0m1 0h0m1 0h0m1 0h0m2 0h0m2 0h0m4 0h0m3 0h0m1 0h0m-16 1h0m5 0h0m2 0h0m4 0h0m1 0h0m2 0h0m4 0h0m-15 1h0m10 0h0m1 0h0m1 0h0m-15 1h0m2 0h0m18 0h0m-26 1h0m18 0h0m3 0h0m1 0h0m-17 1h0m1 0h0m13 0h0m1 0h0m-18 1h0m3 0h0m2 0h0m11 0h0m1 0h0m3 0h0m3 0h0m-27 1h0m4 0h0m16 0h0m1 0h0m-17 1h0m6 0h0m-5 1h0m1 0h0m1 0h0m1 0h0m1 0h0m6 0h0m1 0h0m2 0h0m4 0h0m-14 1h0m1 0h0m1 0h0m3 0h0m4 0h0m2 0h0m1 0h0m1 0h0m2 0h0m-18 1h0m1 0h0m4 0h0m2 0h0m1 0h0m1 0h0m2 0h0m1 0h0m4 0h0m-17 1h0m3 0h0m2 0h0m2 0h0m3 0h0m1 0h0m-7 2h0m0 1h0m3 0h0"/>
<path stroke="#2f7fd0" d="M442 542h0m-3 3h0m3 0h0m-1 1h0m5 0h0m-7 1h0m-5 1h0m-1 1h0m6 0h0m-5 1h0m1 0h0m1 0h0m4 0h0m-1 1h0m2 0h0m-1 1h0m2 0h0m1 0h0m-4 1h0m0 1h0m-8 1h0m1 1h0m-1 1h0m1 0h0m1 0h0m1 0h0m1 0h0m1 0h0m-9 1h0m5 0h0m3 0h0m1 0h0m-6 1h0m1 0h0m0 1h0m4 0h0m-8 1h0m4 0h0"/>
<path stroke="#3cc8a0" d="M466 543h0m2 0h0m-11 2h0m1 0h0m3 0h0m1 0h0m2 0h0m1 0h0m1 0h0m1 0h0m1 0h0m4 0h0m-15 1h0m1 0h0m1 0h0m6 0h0m3 0h0m-9 1h0m13 0h0m-16 1h0m2 0h0m10 0h0m-11 1h0m10 0h0m4 0h0m-18 1h0m3 0h0m12 0h0m1 0h0m-15 1h0m12 0h0m1 0h0m2 0h0m-11 1h0m2 0h0m1 0h0m2 0h0m1 0h0m1 0h0m-9 1h0m3 0h0m5 0h0m4 0h0m-10 1h0m3 0h0m1 0h0m-2 1h0"/>
<path stroke="#d8702a" d="M443 546h0m-4 3h0m-1 1h0m1 0h0m1 0h0m-3 1h0m1 0h0m1 0h0m1 0h0m1 0h0m-5 1h0m1 0h0m1 0h0m-3 1h0m1 0h0m1 0h0m-3 1h0m1 0h0m-2 1h0m1 0h0m1 0h0m2 0h0m-5 1h0m1 0h0m1 0h0m-2 1h0m1 0h0m-1 1h0m-2 1h0"/>
<path stroke="#4cc0e0" d="M440 549h0m-4 1h0m3 0h0m0 1h0m-5 1h0m1 0h0m1 0h0m1 0h0m1 0h0m-5 1h0m4 0h0m2 0h0m-5 1h0m2 0h0m-4 1h0m1 2h0m-1 1h0"/>
<path stroke="#3fd84a" d="M466 544h0m-4 1h0m1 0h0m2 0h0m-7 1h0m1 0h0m1 0h0m2 0h0m1 0h0m2 0h0m2 0h0m1 0h0m-9 1h0m1 0h0m1 0h0m1 0h0m2 0h0m1 0h0m1 0h0m1 0h0m1 0h0m-12 1h0m2 0h0m2 0h0m2 0h0m1 0h0m1 0h0m2 0h0m2 0h0m-11 1h0m3 0h0m1 0h0m1 0h0m1 0h0m-3 1h0m3 0h0m2 0h0m1 0h0m1 0h0m-11 1h0m2 0h0m1 0h0m1 0h0m1 0h0m1 0h0m-2 1h0m1 0h0m1 0h0m0 1h0m-1 1h0m4 0h0"/>
</g>
<path d="M406.5 485.4H505.5V582.3H406.5" fill="none" stroke="#2e3432" stroke-width="1.2"/>
<line x1="406.5" y1="485.4" x2="406.5" y2="582.3" stroke="#9aa8a8" stroke-width="0.9" stroke-dasharray="1 1.5"/>
<line x1="404.5" y1="555.4" x2="406.5" y2="555.4" stroke="#6a7a7a" stroke-width="0.8"/>
<line x1="404.5" y1="528.5" x2="406.5" y2="528.5" stroke="#6a7a7a" stroke-width="0.8"/>
<line x1="404.5" y1="501.5" x2="406.5" y2="501.5" stroke="#6a7a7a" stroke-width="0.8"/>
<line x1="406.5" y1="539.6" x2="505.5" y2="539.6" stroke="#3c4442" stroke-width="1.1"/>
<line x1="448.9" y1="485.4" x2="448.9" y2="582.3" stroke="#3c4442" stroke-width="1.1"/>
<g font-family="&quot;Liberation Serif&quot;, serif" font-size="12px" fill="#111" stroke="#111" stroke-width="0.25">
<line x1="463.7" y1="503.8" x2="496.0" y2="503.8" stroke="#111" stroke-width="1.3"/>
<line x1="479.2" y1="489.6" x2="479.2" y2="516.8" stroke="#111" stroke-width="1.3"/>
<text x="475.8" y="499.9" text-anchor="end">0</text>
<text x="484.2" y="499.9">1</text>
<text x="475.8" y="515.5" text-anchor="end">49</text>
<text x="484.7" y="515.5">50</text>
</g>
<g stroke-width="1.8" stroke-linecap="square" fill="none" transform="translate(0.5 0.5)">
<path stroke="#1b2a4c" d="M88 645h0m-12 1h0m10 2h0m-17 1h0m8 0h0m-3 1h0m7 0h0m5 0h0m6 0h0m-15 1h0m3 1h0m4 0h0m1 0h0m11 0h0m-27 1h0m2 0h0m3 0h0m5 0h0m4 0h0m3 0h0m2 0h0m2 0h0m5 0h0m-25 1h0m5 0h0m13 0h0m4 0h0m-15 1h0m10 0h0m3 0h0m3 0h0m3 0h0m-55 1h0m20 0h0m15 0h0m9 0h0m8 0h0m1 0h0m7 0h0m-38 1h0m5 0h0m9 0h0m8 0h0m2 0h0m7 0h0m-36 1h0m10 0h0m10 0h0m2 0h0m5 0h0m2 0h0m4 0h0m7 0h0m-55 1h0m8 0h0m18 0h0m4 0h0m3 0h0m11 0h0m9 0h0m-40 1h0m7 0h0m3 0h0m1 0h0m2 0h0m12 0h0m3 0h0m10 0h0m10 0h0m-61 1h0m10 0h0m4 0h0m9 0h0m1 0h0m1 0h0m1 0h0m4 0h0m5 0h0m5 0h0m7 0h0m6 0h0m4 0h0m5 0h0m-58 1h0m1 0h0m6 0h0m1 0h0m2 0h0m3 0h0m3 0h0m3 0h0m26 0h0m5 0h0m1 0h0m7 0h0m-65 1h0m9 0h0m1 0h0m2 0h0m5 0h0m2 0h0m11 0h0m17 0h0m1 0h0m2 0h0m2 0h0m1 0h0m3 0h0m3 0h0m-62 1h0m6 0h0m1 0h0m5 0h0m1 0h0m1 0h0m2 0h0m4 0h0m5 0h0m1 0h0m2 0h0m32 0h0m2 0h0m2 0h0m7 0h0m1 0h0m-71 1h0m3 0h0m1 0h0m3 0h0m1 0h0m5 0h0m5 0h0m1 0h0m1 0h0m3 0h0m1 0h0m3 0h0m1 0h0m28 0h0m2 0h0m2 0h0m1 0h0m-59 1h0m16 0h0m2 0h0m1 0h0m1 0h0m9 0h0m27 0h0m1 0h0m1 0h0m5 0h0m-61 1h0m7 0h0m5 0h0m2 0h0m3 0h0m2 0h0m1 0h0m1 0h0m1 0h0m27 0h0m-56 1h0m6 0h0m5 0h0m1 0h0m1 0h0m10 0h0m1 0h0m34 0h0m7 0h0m3 0h0m6 0h0m-51 1h0m1 0h0m1 0h0m2 0h0m3 0h0m1 0h0m2 0h0m31 0h0m1 0h0m-63 1h0m4 0h0m1 0h0m2 0h0m1 0h0m9 0h0m6 0h0m2 0h0m1 0h0m1 0h0m5 0h0m1 0h0m24 0h0m1 0h0m3 0h0m-58 1h0m8 0h0m11 0h0m1 0h0m2 0h0m33 0h0m-40 1h0m7 0h0m1 0h0m8 0h0m27 0h0m-59 1h0m8 0h0m1 0h0m1 0h0m3 0h0m6 0h0m3 0h0m2 0h0m1 0h0m1 0h0m4 0h0m22 0h0m1 0h0m2 0h0m6 0h0m-57 1h0m5 0h0m4 0h0m1 0h0m1 0h0m3 0h0m8 0h0m1 0h0m3 0h0m28 0h0m3 0h0m1 0h0m-59 1h0m7 0h0m1 0h0m5 0h0m2 0h0m3 0h0m1 0h0m3 0h0m2 0h0m27 0h0m-47 1h0m2 0h0m1 0h0m4 0h0m8 0h0m1 0h0m4 0h0m2 0h0m2 0h0m21 0h0m1 0h0m2 0h0m-50 1h0m1 0h0m4 0h0m5 0h0m6 0h0m1 0h0m6 0h0m2 0h0m1 0h0m22 0h0m18 0h0m-61 1h0m2 0h0m9 0h0m3 0h0m3 0h0m17 0h0m14 0h0m2 0h0m-51 1h0m5 0h0m12 0h0m8 0h0m2 0h0m13 0h0m4 0h0m1 0h0m1 0h0m-38 1h0m1 0h0m1 0h0m3 0h0m1 0h0m1 0h0m2 0h0m2 0h0m4 0h0m1 0h0m6 0h0m1 0h0m12 0h0m2 0h0m-50 1h0m13 0h0m3 0h0m6 0h0m2 0h0m1 0h0m4 0h0m1 0h0m5 0h0m35 0h0m-65 1h0m19 0h0m7 0h0m1 0h0m2 0h0m2 0h0m4 0h0m5 0h0m2 0h0m1 0h0m2 0h0m1 0h0m6 0h0m-40 1h0m4 0h0m3 0h0m1 0h0m4 0h0m5 0h0m3 0h0m2 0h0m2 0h0m1 0h0m11 0h0m-37 1h0m7 0h0m8 0h0m10 0h0m7 0h0m5 0h0"/>
<path stroke="#2866b8" d="M86 655h0m-13 1h0m1 0h0m3 0h0m5 0h0m2 0h0m2 1h0m4 0h0m1 0h0m-13 1h0m5 0h0m6 0h0m-18 1h0m2 0h0m2 0h0m4 0h0m1 0h0m2 0h0m1 0h0m2 0h0m4 0h0m-22 1h0m1 0h0m2 0h0m1 0h0m4 0h0m3 0h0m2 0h0m7 0h0m-20 1h0m5 0h0m4 0h0m6 0h0m3 0h0m3 0h0m2 0h0m9 0h0m-36 1h0m3 0h0m3 0h0m2 0h0m4 0h0m4 0h0m4 0h0m4 0h0m1 0h0m6 0h0m-26 1h0m3 0h0m3 0h0m3 0h0m8 0h0m1 0h0m3 0h0m1 0h0m5 0h0m1 0h0m-28 1h0m5 0h0m16 0h0m5 0h0m-39 1h0m1 0h0m15 0h0m19 0h0m1 0h0m5 0h0m-46 1h0m3 0h0m39 0h0m-41 1h0m2 0h0m1 0h0m3 0h0m9 0h0m5 0h0m1 0h0m-23 1h0m1 0h0m3 0h0m2 0h0m2 0h0m9 0h0m2 0h0m1 0h0m1 0h0m22 0h0m3 0h0m-44 1h0m1 0h0m1 0h0m2 0h0m1 0h0m8 0h0m2 0h0m3 0h0m21 0h0m6 0h0m-49 1h0m1 0h0m1 0h0m3 0h0m1 0h0m3 0h0m1 0h0m8 0h0m1 0h0m3 0h0m21 0h0m1 0h0m5 0h0m-48 1h0m1 0h0m5 0h0m1 0h0m12 0h0m2 0h0m2 0h0m-22 1h0m1 0h0m1 0h0m1 0h0m2 0h0m2 0h0m1 0h0m11 0h0m1 0h0m1 0h0m21 0h0m2 0h0m2 0h0m-46 1h0m4 0h0m1 0h0m1 0h0m6 0h0m4 0h0m2 0h0m25 0h0m5 0h0m1 0h0m-32 1h0m1 0h0m1 0h0m23 0h0m3 0h0m-28 1h0m19 0h0m1 0h0m3 0h0m1 0h0m5 0h0m-31 1h0m2 0h0m3 0h0m18 0h0m1 0h0m3 0h0m3 0h0m1 0h0m1 0h0m1 0h0m-31 1h0m6 0h0m1 0h0m6 0h0m1 0h0m-11 1h0m2 0h0m15 0h0m8 0h0m-21 1h0m4 0h0m1 0h0m4 0h0m2 0h0m1 0h0m1 0h0m3 0h0m10 0h0m-31 1h0m2 0h0m7 0h0m3 0h0m9 0h0m3 0h0m-15 1h0m4 0h0m1 0h0m2 0h0m5 0h0m-13 1h0m7 0h0m-7 1h0m2 1h0m5 0h0"/>
<path stroke="#3cb0e8" d="M88 659h0m-15 1h0m4 0h0m3 0h0m1 0h0m1 0h0m-9 1h0m1 0h0m3 0h0m1 0h0m4 0h0m2 0h0m1 0h0m1 0h0m-15 1h0m2 0h0m2 0h0m2 0h0m1 0h0m3 0h0m1 0h0m3 0h0m1 0h0m3 0h0m-22 1h0m7 0h0m1 0h0m3 0h0m1 0h0m1 0h0m2 0h0m5 0h0m1 0h0m3 0h0m-21 1h0m2 0h0m1 0h0m1 0h0m3 0h0m1 0h0m1 0h0m1 0h0m3 0h0m8 0h0m-14 1h0m2 0h0m8 0h0m1 0h0m1 0h0m1 0h0m3 0h0m-22 1h0m2 0h0m1 0h0m1 0h0m12 0h0m1 0h0m1 0h0m-18 1h0m1 0h0m16 0h0m1 0h0m1 0h0m4 0h0m-25 1h0m2 0h0m17 0h0m2 0h0m1 0h0m1 0h0m-22 1h0m1 0h0m1 0h0m16 0h0m1 0h0m4 0h0m-26 1h0m1 0h0m5 0h0m14 0h0m2 0h0m3 0h0m-23 1h0m3 0h0m17 0h0m1 0h0m1 0h0m2 0h0m-18 1h0m12 0h0m1 0h0m1 0h0m3 0h0m-5 1h0m1 0h0m1 0h0m2 0h0m-20 1h0m13 0h0m2 0h0m1 0h0m1 0h0m-20 1h0m6 0h0m4 0h0m10 0h0m3 0h0m-22 1h0m4 0h0m2 0h0m1 0h0m3 0h0m3 0h0m3 0h0m2 0h0m2 0h0m-21 1h0m4 0h0m2 0h0m2 0h0m2 0h0m2 0h0m1 0h0m1 0h0m8 0h0m-15 1h0m1 0h0m1 0h0m2 0h0m1 0h0m3 0h0m7 0h0m-15 1h0m4 0h0m1 0h0m5 0h0m1 0h0m1 0h0m-9 1h0m3 0h0m1 0h0m-3 1h0"/>
<path stroke="#3cc8a0" d="M71 661h0m10 0h0m2 1h0m-13 1h0m5 0h0m2 0h0m1 0h0m2 0h0m-5 1h0m1 0h0m1 0h0m2 0h0m1 0h0m1 0h0m1 0h0m1 0h0m3 0h0m1 0h0m-10 1h0m12 0h0m-16 1h0m1 0h0m1 0h0m1 0h0m2 0h0m1 0h0m5 0h0m1 0h0m2 0h0m-15 1h0m1 0h0m6 0h0m8 0h0m-16 1h0m4 0h0m11 0h0m5 0h0m-18 1h0m1 0h0m1 0h0m12 0h0m-16 1h0m2 0h0m3 0h0m12 0h0m1 0h0m-15 1h0m2 0h0m11 0h0m1 0h0m-15 1h0m1 0h0m3 0h0m6 0h0m1 0h0m1 0h0m1 0h0m1 0h0m1 0h0m1 0h0m-16 1h0m3 0h0m1 0h0m1 0h0m1 0h0m7 0h0m3 0h0m1 0h0m-16 1h0m2 0h0m1 0h0m2 0h0m2 0h0m2 0h0m3 0h0m-13 1h0m1 0h0m3 0h0m4 0h0m2 0h0m1 0h0m1 0h0m1 0h0m-13 1h0m2 0h0m4 0h0m2 0h0m2 0h0m1 0h0m1 0h0m-2 1h0m1 0h0m-7 2h0"/>
<path stroke="#3fd84a" d="M78 664h0m6 0h0m-10 1h0m5 0h0m1 0h0m2 0h0m-6 1h0m3 0h0m1 0h0m1 0h0m2 0h0m6 0h0m-12 1h0m1 0h0m1 0h0m1 0h0m1 0h0m2 0h0m1 0h0m1 0h0m1 0h0m2 0h0m-14 1h0m2 0h0m1 0h0m1 0h0m1 0h0m2 0h0m1 0h0m1 0h0m1 0h0m1 0h0m2 0h0m-12 1h0m1 0h0m1 0h0m1 0h0m1 0h0m1 0h0m1 0h0m1 0h0m1 0h0m1 0h0m1 0h0m-9 1h0m1 0h0m1 0h0m1 0h0m1 0h0m1 0h0m1 0h0m1 0h0m1 0h0m-12 1h0m4 0h0m1 0h0m1 0h0m1 0h0m1 0h0m2 0h0m3 0h0m1 0h0m-11 1h0m2 0h0m1 0h0m1 0h0m1 0h0m1 0h0m1 0h0m1 0h0m1 0h0m1 0h0m1 0h0m1 0h0m-11 1h0m1 0h0m1 0h0m1 0h0m1 0h0m2 0h0m2 0h0m1 0h0m3 0h0m-8 1h0m1 0h0m2 0h0m1 0h0m-4 1h0m1 0h0m2 2h0"/>
</g>
<path d="M29.7 588.1H128.5V686.2H29.7" fill="none" stroke="#2e3432" stroke-width="1.2"/>
<line x1="29.7" y1="588.1" x2="29.7" y2="686.2" stroke="#9aa8a8" stroke-width="0.9" stroke-dasharray="1 1.5"/>
<line x1="27.7" y1="659.0" x2="29.7" y2="659.0" stroke="#6a7a7a" stroke-width="0.8"/>
<line x1="27.7" y1="631.7" x2="29.7" y2="631.7" stroke="#6a7a7a" stroke-width="0.8"/>
<line x1="27.7" y1="604.5" x2="29.7" y2="604.5" stroke="#6a7a7a" stroke-width="0.8"/>
<line x1="29.7" y1="649.7" x2="128.5" y2="649.7" stroke="#3c4442" stroke-width="1.1"/>
<line x1="68.5" y1="588.1" x2="68.5" y2="686.2" stroke="#3c4442" stroke-width="1.1"/>
<g font-family="&quot;Liberation Serif&quot;, serif" font-size="12px" fill="#111" stroke="#111" stroke-width="0.25">
<line x1="92.2" y1="607.7" x2="124.5" y2="607.7" stroke="#111" stroke-width="1.3"/>
<line x1="107.7" y1="593.5" x2="107.7" y2="620.7" stroke="#111" stroke-width="1.3"/>
<text x="104.3" y="603.8" text-anchor="end">0</text>
<text x="112.7" y="603.8">1</text>
<text x="104.3" y="619.4" text-anchor="end">16</text>
<text x="113.2" y="619.4">83</text>
</g>
<g stroke-width="1.8" stroke-linecap="square" fill="none" transform="translate(0.5 0.5)">
<path stroke="#1b2a4c" d="M223 642h0m-6 2h0m-29 1h0m5 0h0m14 0h0m-8 1h0m-17 1h0m6 1h0m2 0h0m3 0h0m11 0h0m-45 1h0m11 0h0m6 0h0m10 0h0m-10 1h0m7 0h0m2 0h0m12 0h0m-12 1h0m5 0h0m5 0h0m1 0h0m14 0h0m-25 1h0m6 0h0m13 0h0m-25 1h0m19 0h0m5 0h0m-33 1h0m5 0h0m14 0h0m19 0h0m5 0h0m-48 1h0m6 0h0m2 0h0m6 0h0m1 0h0m10 0h0m4 0h0m1 0h0m1 0h0m14 0h0m8 0h0m4 0h0m-68 1h0m11 0h0m11 0h0m4 0h0m1 0h0m1 0h0m2 0h0m1 0h0m1 0h0m2 0h0m3 0h0m2 0h0m1 0h0m4 0h0m1 0h0m1 0h0m5 0h0m-39 1h0m5 0h0m2 0h0m2 0h0m4 0h0m8 0h0m4 0h0m4 0h0m2 0h0m4 0h0m4 0h0m2 0h0m2 0h0m1 0h0m10 0h0m-58 1h0m9 0h0m2 0h0m1 0h0m2 0h0m2 0h0m6 0h0m1 0h0m1 0h0m1 0h0m3 0h0m1 0h0m3 0h0m1 0h0m1 0h0m5 0h0m5 0h0m1 0h0m2 0h0m3 0h0m18 0h0m-54 1h0m2 0h0m4 0h0m3 0h0m6 0h0m9 0h0m8 0h0m3 0h0m6 0h0m2 0h0m-54 1h0m2 0h0m3 0h0m5 0h0m9 0h0m8 0h0m10 0h0m3 0h0m1 0h0m4 0h0m8 0h0m-53 1h0m9 0h0m2 0h0m2 0h0m1 0h0m1 0h0m5 0h0m5 0h0m3 0h0m19 0h0m8 0h0m-63 1h0m2 0h0m2 0h0m10 0h0m34 0h0m8 0h0m2 0h0m6 0h0m10 0h0m-65 1h0m2 0h0m1 0h0m1 0h0m3 0h0m3 0h0m26 0h0m9 0h0m5 0h0m4 0h0m15 0h0m-64 1h0m6 0h0m1 0h0m23 0h0m3 0h0m8 0h0m2 0h0m3 0h0m11 0h0m-68 1h0m7 0h0m5 0h0m2 0h0m31 0h0m4 0h0m21 0h0m1 0h0m-81 1h0m12 0h0m1 0h0m1 0h0m2 0h0m3 0h0m5 0h0m37 0h0m2 0h0m6 0h0m1 0h0m1 0h0m1 0h0m-62 1h0m6 0h0m1 0h0m5 0h0m40 0h0m6 0h0m4 0h0m3 0h0m-61 1h0m47 0h0m3 0h0m1 0h0m3 0h0m2 0h0m1 0h0m-73 1h0m6 0h0m7 0h0m3 0h0m4 0h0m3 0h0m36 0h0m4 0h0m2 0h0m2 0h0m4 0h0m6 0h0m5 0h0m-75 1h0m6 0h0m4 0h0m4 0h0m41 0h0m5 0h0m2 0h0m8 0h0m1 0h0m2 0h0m-61 1h0m6 0h0m41 0h0m5 0h0m1 0h0m1 0h0m-62 1h0m4 0h0m3 0h0m6 0h0m1 0h0m4 0h0m35 0h0m1 0h0m1 0h0m5 0h0m10 0h0m-74 1h0m5 0h0m4 0h0m4 0h0m1 0h0m1 0h0m1 0h0m43 0h0m3 0h0m2 0h0m4 0h0m6 0h0m2 0h0m-81 1h0m10 0h0m3 0h0m3 0h0m1 0h0m3 0h0m4 0h0m37 0h0m3 0h0m5 0h0m1 0h0m-52 1h0m1 0h0m4 0h0m6 0h0m32 0h0m1 0h0m1 0h0m6 0h0m3 0h0m4 0h0m-64 1h0m6 0h0m4 0h0m44 0h0m3 0h0m2 0h0m10 0h0m-66 1h0m9 0h0m3 0h0m5 0h0m24 0h0m7 0h0m1 0h0m5 0h0m2 0h0m-50 1h0m1 0h0m2 0h0m33 0h0m7 0h0m1 0h0m6 0h0m8 0h0m-63 1h0m5 0h0m4 0h0m1 0h0m8 0h0m21 0h0m4 0h0m2 0h0m2 0h0m1 0h0m1 0h0m12 0h0m-64 1h0m3 0h0m1 0h0m5 0h0m1 0h0m6 0h0m7 0h0m6 0h0m6 0h0m17 0h0m-50 1h0m6 0h0m3 0h0m3 0h0m1 0h0m2 0h0m2 0h0m1 0h0m18 0h0m-26 1h0m7 0h0m10 0h0m6 0h0m11 0h0m3 0h0m5 0h0m-48 1h0m3 0h0m6 0h0m1 0h0m3 0h0m2 0h0m1 0h0m10 0h0m15 0h0m2 0h0m3 0h0m-44 1h0m10 0h0m8 0h0m9 0h0m26 0h0"/>
<path stroke="#2866b8" d="M187 654h0m14 0h0m-14 1h0m8 0h0m-5 1h0m-10 1h0m10 0h0m4 0h0m2 0h0m1 0h0m2 0h0m-30 1h0m4 0h0m12 0h0m5 0h0m7 0h0m1 0h0m4 0h0m3 0h0m1 0h0m4 0h0m-35 1h0m6 0h0m1 0h0m9 0h0m2 0h0m2 0h0m3 0h0m4 0h0m6 0h0m-30 1h0m6 0h0m2 0h0m1 0h0m3 0h0m2 0h0m5 0h0m3 0h0m10 0h0m-34 1h0m4 0h0m4 0h0m4 0h0m7 0h0m2 0h0m3 0h0m4 0h0m4 0h0m4 0h0m-39 1h0m4 0h0m1 0h0m8 0h0m19 0h0m-28 1h0m1 0h0m2 0h0m4 0h0m6 0h0m1 0h0m2 0h0m2 0h0m7 0h0m9 0h0m-35 1h0m1 0h0m2 0h0m2 0h0m27 0h0m-35 1h0m1 0h0m2 0h0m2 0h0m2 0h0m25 0h0m2 0h0m3 0h0m-39 1h0m3 0h0m2 0h0m1 0h0m2 0h0m2 0h0m1 0h0m18 0h0m3 0h0m6 0h0m1 0h0m2 0h0m-47 1h0m1 0h0m1 0h0m4 0h0m3 0h0m38 0h0m-41 1h0m4 0h0m31 0h0m1 0h0m2 0h0m8 0h0m-47 1h0m2 0h0m1 0h0m2 0h0m4 0h0m1 0h0m28 0h0m-46 1h0m15 0h0m1 0h0m1 0h0m27 0h0m1 0h0m3 0h0m1 0h0m1 0h0m-40 1h0m3 0h0m31 0h0m5 0h0m2 0h0m2 0h0m-46 1h0m1 0h0m4 0h0m33 0h0m2 0h0m-42 1h0m7 0h0m5 0h0m28 0h0m3 0h0m1 0h0m8 0h0m-46 1h0m1 0h0m2 0h0m2 0h0m30 0h0m-42 1h0m2 0h0m6 0h0m2 0h0m3 0h0m1 0h0m20 0h0m3 0h0m4 0h0m2 0h0m2 0h0m7 0h0m-50 1h0m6 0h0m4 0h0m27 0h0m-31 1h0m2 0h0m2 0h0m21 0h0m1 0h0m4 0h0m2 0h0m1 0h0m1 0h0m4 0h0m-41 1h0m1 0h0m2 0h0m14 0h0m1 0h0m4 0h0m8 0h0m2 0h0m11 0h0m1 0h0m-43 1h0m2 0h0m3 0h0m5 0h0m2 0h0m3 0h0m1 0h0m3 0h0m3 0h0m4 0h0m1 0h0m3 0h0m5 0h0m6 0h0m1 0h0m-34 1h0m1 0h0m3 0h0m2 0h0m11 0h0m1 0h0m2 0h0m1 0h0m2 0h0m1 0h0m1 0h0m2 0h0m-26 1h0m1 0h0m15 0h0m3 0h0m-25 1h0m5 0h0m15 0h0m1 0h0m3 0h0m-28 1h0m9 0h0m6 0h0m4 0h0m1 0h0m1 0h0m4 0h0m2 0h0m-5 1h0"/>
<path stroke="#3cb0e8" d="M187 658h0m13 0h0m5 0h0m-18 1h0m-6 1h0m2 0h0m4 0h0m1 0h0m3 0h0m5 0h0m-14 1h0m3 0h0m1 0h0m1 0h0m1 0h0m4 0h0m1 0h0m2 0h0m-9 1h0m2 0h0m4 0h0m2 0h0m1 0h0m1 0h0m5 0h0m-22 1h0m2 0h0m1 0h0m2 0h0m3 0h0m3 0h0m1 0h0m3 0h0m1 0h0m1 0h0m5 0h0m1 0h0m1 0h0m1 0h0m3 0h0m-36 1h0m6 0h0m2 0h0m1 0h0m2 0h0m2 0h0m1 0h0m1 0h0m4 0h0m1 0h0m4 0h0m2 0h0m3 0h0m2 0h0m2 0h0m1 0h0m1 0h0m2 0h0m-30 1h0m3 0h0m5 0h0m3 0h0m1 0h0m4 0h0m6 0h0m1 0h0m3 0h0m3 0h0m2 0h0m-35 1h0m2 0h0m3 0h0m1 0h0m2 0h0m1 0h0m2 0h0m1 0h0m9 0h0m4 0h0m1 0h0m2 0h0m1 0h0m-27 1h0m1 0h0m4 0h0m4 0h0m15 0h0m1 0h0m2 0h0m1 0h0m2 0h0m2 0h0m2 0h0m-35 1h0m1 0h0m2 0h0m1 0h0m1 0h0m17 0h0m2 0h0m3 0h0m1 0h0m1 0h0m1 0h0m1 0h0m1 0h0m1 0h0m-36 1h0m3 0h0m3 0h0m1 0h0m1 0h0m1 0h0m1 0h0m20 0h0m2 0h0m3 0h0m1 0h0m1 0h0m-35 1h0m2 0h0m1 0h0m26 0h0m3 0h0m-35 1h0m5 0h0m2 0h0m22 0h0m2 0h0m1 0h0m1 0h0m1 0h0m1 0h0m3 0h0m-38 1h0m2 0h0m1 0h0m4 0h0m1 0h0m2 0h0m1 0h0m19 0h0m1 0h0m2 0h0m1 0h0m2 0h0m1 0h0m1 0h0m1 0h0m3 0h0m-36 1h0m2 0h0m1 0h0m1 0h0m1 0h0m1 0h0m16 0h0m3 0h0m1 0h0m1 0h0m1 0h0m1 0h0m1 0h0m1 0h0m1 0h0m2 0h0m-40 1h0m9 0h0m1 0h0m23 0h0m1 0h0m3 0h0m2 0h0m-36 1h0m1 0h0m2 0h0m5 0h0m1 0h0m6 0h0m9 0h0m4 0h0m6 0h0m-36 1h0m9 0h0m1 0h0m8 0h0m6 0h0m1 0h0m1 0h0m1 0h0m3 0h0m1 0h0m1 0h0m2 0h0m3 0h0m-30 1h0m1 0h0m11 0h0m2 0h0m1 0h0m1 0h0m2 0h0m1 0h0m2 0h0m5 0h0m-26 1h0m6 0h0m1 0h0m2 0h0m1 0h0m3 0h0m3 0h0m3 0h0m-20 1h0m2 0h0m4 0h0m2 0h0m1 0h0m1 0h0m2 0h0m1 0h0m1 0h0m1 0h0m1 0h0m2 0h0m1 0h0m1 0h0m1 0h0m5 0h0m-27 1h0m9 0h0m6 0h0m3 0h0m2 0h0m6 0h0m1 0h0m-24 1h0m16 0h0m2 2h0"/>
<path stroke="#3cc8a0" d="M194 662h0m-11 1h0m6 0h0m5 0h0m1 0h0m-9 1h0m12 0h0m7 0h0m-25 1h0m4 0h0m1 0h0m2 0h0m2 0h0m5 0h0m1 0h0m4 0h0m4 0h0m2 0h0m2 0h0m-22 1h0m1 0h0m1 0h0m1 0h0m2 0h0m3 0h0m1 0h0m1 0h0m2 0h0m3 0h0m2 0h0m1 0h0m-23 1h0m2 0h0m1 0h0m1 0h0m3 0h0m7 0h0m5 0h0m5 0h0m-23 1h0m1 0h0m18 0h0m2 0h0m-23 1h0m2 0h0m1 0h0m15 0h0m3 0h0m1 0h0m3 0h0m-23 1h0m4 0h0m16 0h0m1 0h0m2 0h0m-22 1h0m1 0h0m1 0h0m1 0h0m13 0h0m2 0h0m1 0h0m2 0h0m1 0h0m-23 1h0m2 0h0m1 0h0m15 0h0m1 0h0m8 0h0m-30 1h0m2 0h0m17 0h0m2 0h0m1 0h0m1 0h0m1 0h0m2 0h0m-23 1h0m1 0h0m1 0h0m1 0h0m1 0h0m1 0h0m4 0h0m7 0h0m2 0h0m6 0h0m1 0h0m-25 1h0m2 0h0m3 0h0m2 0h0m2 0h0m6 0h0m1 0h0m1 0h0m9 0h0m-25 1h0m2 0h0m2 0h0m1 0h0m2 0h0m1 0h0m1 0h0m1 0h0m1 0h0m1 0h0m5 0h0m-13 1h0m7 0h0m1 0h0m2 0h0m1 0h0m2 0h0m-9 1h0m3 0h0m6 0h0m-1 1h0m8 3h0"/>
<path stroke="#3fd84a" d="M194 663h0m-5 1h0m3 0h0m-6 1h0m4 0h0m5 0h0m-12 1h0m1 0h0m8 0h0m1 0h0m1 0h0m3 0h0m3 0h0m-16 1h0m2 0h0m1 0h0m1 0h0m1 0h0m3 0h0m1 0h0m1 0h0m3 0h0m2 0h0m1 0h0m-19 1h0m3 0h0m2 0h0m1 0h0m1 0h0m1 0h0m1 0h0m1 0h0m1 0h0m2 0h0m2 0h0m1 0h0m1 0h0m1 0h0m-20 1h0m2 0h0m3 0h0m2 0h0m3 0h0m1 0h0m1 0h0m1 0h0m1 0h0m2 0h0m1 0h0m1 0h0m1 0h0m2 0h0m-21 1h0m3 0h0m1 0h0m1 0h0m1 0h0m1 0h0m1 0h0m1 0h0m1 0h0m1 0h0m1 0h0m1 0h0m1 0h0m1 0h0m1 0h0m1 0h0m1 0h0m1 0h0m1 0h0m1 0h0m-18 1h0m2 0h0m1 0h0m1 0h0m1 0h0m1 0h0m1 0h0m1 0h0m1 0h0m2 0h0m1 0h0m1 0h0m1 0h0m2 0h0m1 0h0m2 0h0m-17 1h0m2 0h0m1 0h0m2 0h0m1 0h0m1 0h0m2 0h0m2 0h0m1 0h0m1 0h0m1 0h0m1 0h0m3 0h0m1 0h0m-21 1h0m2 0h0m1 0h0m1 0h0m1 0h0m1 0h0m1 0h0m1 0h0m1 0h0m1 0h0m2 0h0m1 0h0m1 0h0m1 0h0m1 0h0m1 0h0m3 0h0m-18 1h0m2 0h0m1 0h0m3 0h0m1 0h0m1 0h0m1 0h0m1 0h0m1 0h0m1 0h0m2 0h0m2 0h0m-11 1h0m3 0h0m3 0h0m1 0h0m2 0h0m-10 1h0m4 0h0m2 0h0m4 0h0m2 0h0"/>
</g>
<path d="M146 589.2H243.5V686.2H146" fill="none" stroke="#2e3432" stroke-width="1.2"/>
<line x1="146" y1="589.2" x2="146" y2="686.2" stroke="#9aa8a8" stroke-width="0.9" stroke-dasharray="1 1.5"/>
<line x1="144" y1="659.3" x2="146" y2="659.3" stroke="#6a7a7a" stroke-width="0.8"/>
<line x1="144" y1="632.3" x2="146" y2="632.3" stroke="#6a7a7a" stroke-width="0.8"/>
<line x1="144" y1="605.4" x2="146" y2="605.4" stroke="#6a7a7a" stroke-width="0.8"/>
<line x1="146" y1="650.4" x2="243.5" y2="650.4" stroke="#3c4442" stroke-width="1.1"/>
<line x1="183.9" y1="589.2" x2="183.9" y2="686.2" stroke="#3c4442" stroke-width="1.1"/>
<g font-family="&quot;Liberation Serif&quot;, serif" font-size="12px" fill="#111" stroke="#111" stroke-width="0.25">
<line x1="207.7" y1="608.4" x2="240.0" y2="608.4" stroke="#111" stroke-width="1.3"/>
<line x1="223.2" y1="594.1999999999999" x2="223.2" y2="621.4" stroke="#111" stroke-width="1.3"/>
<text x="219.79999999999998" y="604.5" text-anchor="end">0</text>
<text x="228.2" y="604.5">0</text>
<text x="219.79999999999998" y="620.1" text-anchor="end">25</text>
<text x="228.7" y="620.1">75</text>
</g>
<g stroke-width="1.8" stroke-linecap="square" fill="none" transform="translate(0.5 0.5)">
<path stroke="#3ea6e2" d="M347 658h0m1 0h0m1 2h0m4 0h0m9 0h0m-20 1h0m11 0h0m3 0h0m0 1h0m13 0h0m-27 1h0m19 0h0m6 0h0m-25 1h0m-4 2h0m2 0h0m1 0h0m1 0h0m25 0h0m-26 1h0m17 1h0m-11 1h0m9 0h0m-4 1h0"/>
<path stroke="#1b2a4c" d="M361 639h0m6 1h0m-21 1h0m11 0h0m4 0h0m1 0h0m2 1h0m2 0h0m-28 1h0m44 0h0m-25 1h0m7 0h0m-57 1h0m33 0h0m10 0h0m9 0h0m2 0h0m-39 1h0m2 0h0m18 0h0m14 0h0m6 0h0m-32 1h0m8 0h0m9 0h0m8 0h0m8 0h0m12 0h0m-44 1h0m13 0h0m6 0h0m5 0h0m3 0h0m1 0h0m4 0h0m10 0h0m-48 1h0m9 0h0m3 0h0m11 0h0m10 0h0m2 0h0m10 0h0m-38 1h0m2 0h0m24 0h0m-19 1h0m2 0h0m2 0h0m9 0h0m10 0h0m11 0h0m-64 1h0m14 0h0m1 0h0m5 0h0m2 0h0m3 0h0m3 0h0m6 0h0m12 0h0m18 0h0m-67 1h0m2 0h0m9 0h0m7 0h0m5 0h0m5 0h0m2 0h0m2 0h0m23 0h0m14 0h0m1 0h0m6 0h0m-80 1h0m27 0h0m6 0h0m2 0h0m6 0h0m35 0h0m-66 1h0m5 0h0m7 0h0m8 0h0m10 0h0m21 0h0m-60 1h0m7 0h0m2 0h0m15 0h0m8 0h0m2 0h0m1 0h0m5 0h0m-30 1h0m19 0h0m3 0h0m-26 1h0m23 0h0m5 0h0m1 0h0m29 0h0m1 0h0m1 0h0m6 0h0m4 0h0m-75 1h0m2 0h0m1 0h0m23 0h0m11 0h0m28 0h0m17 0h0m-78 1h0m2 0h0m7 0h0m2 0h0m1 0h0m11 0h0m1 0h0m5 0h0m9 0h0m16 0h0m-27 1h0m1 0h0m2 0h0m26 0h0m2 0h0m10 0h0m-53 1h0m10 0h0m11 0h0m30 0h0m2 0h0m4 0h0m8 0h0m-46 1h0m27 0h0m7 0h0m-80 1h0m7 0h0m4 0h0m6 0h0m7 0h0m12 0h0m3 0h0m2 0h0m10 0h0m3 0h0m18 0h0m4 0h0m1 0h0m3 0h0m-75 1h0m1 0h0m3 0h0m1 0h0m3 0h0m18 0h0m2 0h0m1 0h0m3 0h0m7 0h0m33 0h0m-65 1h0m17 0h0m43 0h0m5 0h0m-47 1h0m5 0h0m3 0h0m9 0h0m23 0h0m1 0h0m1 0h0m-67 1h0m24 0h0m10 0h0m9 0h0m27 0h0m1 0h0m-71 1h0m26 0h0m11 0h0m1 0h0m-37 1h0m30 0h0m3 0h0m4 0h0m2 0h0m2 0h0m30 0h0m13 0h0m-52 1h0m40 0h0m-67 1h0m30 0h0m7 0h0m11 0h0m11 0h0m1 0h0m-58 1h0m21 0h0m5 0h0m18 0h0m1 0h0m3 0h0m4 0h0m5 0h0m2 0h0m-61 1h0m5 0h0m14 0h0m4 0h0m1 0h0m2 0h0m5 0h0m1 0h0m3 0h0m4 0h0m2 0h0m8 0h0m10 0h0m-67 1h0m3 0h0m13 0h0m10 0h0m5 0h0m8 0h0m4 0h0m9 0h0m19 0h0m-64 1h0m15 0h0m5 0h0m13 0h0m3 0h0m4 0h0m2 0h0m7 0h0m2 0h0m3 0h0m-30 1h0m2 0h0m1 0h0m1 0h0m12 0h0m11 0h0m9 0h0m-49 1h0m1 0h0m8 0h0m17 0h0m3 0h0m1 0h0m9 0h0m9 0h0m-63 1h0m13 0h0m20 0h0m6 0h0m10 0h0m3 0h0m-38 1h0m1 0h0m1 0h0m6 0h0m6 0h0m19 0h0m-36 1h0m36 0h0m1 0h0m1 0h0m-34 1h0m6 0h0m1 0h0m1 0h0m8 0h0m3 0h0m4 0h0m1 0h0m-13 1h0m3 0h0m19 0h0m-44 1h0m11 0h0m16 0h0m8 0h0m8 0h0m5 0h0m-10 1h0m-25 1h0m33 0h0"/>
<path stroke="#3cc0b0" d="M348 661h0m8 0h0m-11 1h0m6 0h0m4 0h0m-10 1h0m14 0h0m-14 1h0m2 0h0m10 0h0m-12 1h0m2 0h0m1 0h0m11 0h0m-12 1h0m1 0h0m11 0h0m1 0h0m-12 1h0m8 0h0m1 0h0m1 0h0m-8 1h0"/>
<path stroke="#2458a8" d="M307 650h0m5 0h0m18 1h0m-5 1h0m-6 1h0m-1 1h0m4 0h0m5 0h0m-18 1h0m13 0h0m-8 1h0m11 0h0m3 0h0m4 0h0m-25 1h0m6 0h0m19 0h0m2 0h0m-14 1h0m8 0h0m3 0h0m3 1h0m-20 1h0m13 0h0m5 0h0m6 0h0m-31 1h0m2 0h0m3 0h0m20 0h0m-21 1h0m3 0h0m24 0h0m-28 1h0m17 0h0m8 0h0m-2 1h0m1 0h0m6 0h0m-33 1h0m5 0h0m22 0h0m1 0h0m7 0h0m-37 1h0m3 0h0m22 0h0m-24 1h0m5 0h0m1 0h0m19 0h0m-24 1h0m29 0h0m-30 1h0m25 0h0m3 0h0m5 0h0m-35 1h0m3 1h0m2 0h0m4 0h0m9 0h0m7 0h0m8 0h0m-22 1h0m3 0h0m1 0h0m3 0h0m9 0h0m10 0h0m-25 1h0m5 0h0m3 0h0m5 0h0m-17 1h0m3 0h0m2 0h0m3 0h0m7 0h0m-9 1h0m2 0h0m2 0h0m7 0h0m-19 1h0m7 0h0m3 0h0m3 2h0m-5 1h0"/>
<path stroke="#2866b8" d="M350 648h0m0 1h0m7 0h0m3 0h0m-5 1h0m-18 1h0m16 0h0m1 0h0m1 0h0m-13 1h0m10 0h0m3 0h0m4 0h0m2 0h0m4 0h0m-25 1h0m2 0h0m1 0h0m4 0h0m1 0h0m7 0h0m-18 1h0m16 0h0m4 0h0m5 0h0m1 0h0m3 0h0m-26 1h0m6 0h0m-4 1h0m4 0h0m16 0h0m1 0h0m-29 1h0m1 0h0m6 0h0m3 0h0m4 0h0m15 0h0m5 0h0m2 0h0m2 0h0m-37 1h0m6 0h0m32 0h0m-33 1h0m1 0h0m26 0h0m7 0h0m-36 1h0m27 0h0m-33 1h0m30 0h0m-33 1h0m7 0h0m27 0h0m6 0h0m2 0h0m-10 1h0m4 0h0m1 0h0m-27 1h0m23 1h0m2 0h0m8 0h0m-42 1h0m33 0h0m5 0h0m-6 1h0m1 0h0m7 0h0m-33 1h0m2 0h0m21 0h0m2 0h0m1 0h0m-7 1h0m3 0h0m1 0h0m1 0h0m6 0h0m-32 1h0m1 0h0m4 0h0m25 0h0m-31 1h0m1 0h0m5 0h0m2 0h0m4 0h0m5 0h0m3 0h0m8 0h0m-22 1h0m4 0h0m2 0h0m3 0h0m7 0h0m-12 1h0m3 0h0m6 0h0m2 0h0m8 0h0m-24 1h0m7 0h0m6 0h0m-13 1h0m12 0h0m1 0h0m5 0h0m-4 1h0m6 0h0m-20 2h0"/>
<path stroke="#3a92dc" d="M343 651h0m10 1h0m-13 1h0m12 0h0m5 0h0m2 1h0m4 0h0m-24 1h0m12 0h0m3 0h0m1 0h0m-10 1h0m3 0h0m4 0h0m1 0h0m1 0h0m1 0h0m1 0h0m3 0h0m1 0h0m2 0h0m2 0h0m-21 1h0m2 0h0m11 0h0m1 0h0m2 0h0m3 0h0m1 0h0m-23 1h0m3 0h0m3 0h0m1 0h0m1 0h0m1 0h0m4 0h0m5 0h0m3 0h0m1 0h0m3 0h0m1 0h0m1 0h0m1 0h0m-27 1h0m4 0h0m17 0h0m-25 1h0m2 0h0m17 0h0m4 0h0m9 0h0m-27 1h0m20 0h0m1 0h0m4 0h0m1 0h0m-29 1h0m2 0h0m20 0h0m1 0h0m7 0h0m-34 1h0m3 0h0m1 0h0m3 0h0m2 0h0m18 0h0m2 0h0m2 0h0m-26 1h0m3 0h0m1 0h0m16 0h0m2 0h0m3 0h0m-27 1h0m5 0h0m17 0h0m-20 1h0m3 0h0m14 0h0m1 0h0m-18 1h0m4 0h0m2 0h0m8 0h0m2 0h0m1 0h0m1 0h0m1 0h0m2 0h0m3 0h0m3 0h0m-37 1h0m10 0h0m2 0h0m2 0h0m2 0h0m1 0h0m2 0h0m4 0h0m2 0h0m1 0h0m2 0h0m1 0h0m1 0h0m1 0h0m-16 1h0m1 0h0m4 0h0m2 0h0m3 0h0m6 0h0m-15 1h0m3 0h0m1 0h0m3 0h0m2 0h0m2 0h0m-17 1h0m6 0h0m5 0h0m-3 1h0m1 0h0m4 0h0m-5 1h0m8 0h0m-14 1h0m6 0h0m-2 1h0"/>
<path stroke="#3a8ad8" d="M317 656h0m5 0h0m-4 2h0m4 0h0m2 0h0m5 0h0m2 0h0m-18 1h0m6 0h0m2 0h0m2 0h0m1 0h0m1 0h0m2 0h0m-14 1h0m3 0h0m7 0h0m2 0h0m3 0h0m4 0h0m-19 1h0m1 0h0m1 0h0m2 0h0m2 0h0m2 0h0m5 0h0m1 0h0m6 0h0m-22 1h0m4 0h0m4 0h0m5 0h0m1 0h0m4 0h0m-18 1h0m1 0h0m1 0h0m2 0h0m11 0h0m2 0h0m2 0h0m-18 1h0m2 0h0m4 0h0m10 0h0m1 0h0m1 0h0m1 0h0m-18 1h0m15 0h0m2 0h0m-19 1h0m3 0h0m1 0h0m1 0h0m11 0h0m1 0h0m2 0h0m3 0h0m3 0h0m-22 1h0m1 0h0m14 0h0m-25 1h0m9 0h0m13 0h0m1 0h0m2 0h0m-20 1h0m3 0h0m3 0h0m5 0h0m8 0h0m2 0h0m-25 1h0m8 0h0m10 0h0m4 0h0m5 0h0m-16 1h0m5 0h0m2 0h0m1 0h0m8 0h0m-12 1h0m1 0h0m4 0h0m1 0h0m1 0h0m7 0h0m1 0h0m-21 1h0m3 0h0m1 0h0m3 0h0m2 0h0m4 0h0m-7 1h0m-10 1h0m7 1h0m4 0h0"/>
<path stroke="#3fd34a" d="M353 661h0m0 1h0m2 0h0m-6 1h0m3 0h0m2 0h0m-6 1h0m1 0h0m1 0h0m1 0h0m2 0h0m1 0h0m1 0h0m1 0h0m2 0h0m-11 1h0m3 0h0m1 0h0m4 0h0m2 0h0m2 0h0m-8 1h0m1 0h0m1 0h0m4 0h0m1 0h0m-6 1h0m-2 1h0m1 0h0"/>
<path stroke="#48bce8" d="M348 656h0m8 0h0m-9 1h0m1 0h0m2 0h0m3 0h0m-11 1h0m3 0h0m2 0h0m2 0h0m3 0h0m1 0h0m1 0h0m1 0h0m-7 1h0m2 0h0m4 0h0m1 0h0m1 0h0m1 0h0m5 0h0m-18 1h0m2 0h0m1 0h0m3 0h0m2 0h0m1 0h0m1 0h0m3 0h0m1 0h0m4 0h0m-20 1h0m3 0h0m1 0h0m3 0h0m1 0h0m1 0h0m1 0h0m1 0h0m2 0h0m1 0h0m4 0h0m3 0h0m-20 1h0m1 0h0m1 0h0m2 0h0m1 0h0m2 0h0m3 0h0m4 0h0m3 0h0m1 0h0m-20 1h0m6 0h0m1 0h0m1 0h0m1 0h0m3 0h0m1 0h0m2 0h0m1 0h0m4 0h0m-16 1h0m1 0h0m2 0h0m3 0h0m1 0h0m1 0h0m1 0h0m4 0h0m-16 1h0m3 0h0m3 0h0m2 0h0m1 0h0m1 0h0m1 0h0m1 0h0m4 0h0m2 0h0m2 0h0m-14 1h0m4 0h0m4 0h0m2 0h0m-14 1h0m2 0h0m3 0h0m1 0h0m1 0h0m1 0h0m1 0h0m1 0h0m1 0h0m1 0h0m-10 1h0m2 0h0m1 0h0m2 0h0m1 0h0m1 0h0m-1 1h0m1 0h0"/>
<path stroke="#4cc0e0" d="M322 660h0m1 0h0m6 0h0m-12 1h0m0 1h0m2 0h0m3 0h0m2 0h0m-6 1h0m1 0h0m4 0h0m3 0h0m-13 1h0m4 0h0m2 0h0m2 0h0m1 0h0m2 0h0m1 0h0m2 0h0m2 0h0m-16 1h0m4 0h0m2 0h0m1 0h0m1 0h0m1 0h0m1 0h0m3 0h0m2 0h0m1 0h0m-13 1h0m2 0h0m2 0h0m1 0h0m6 0h0m1 0h0m-13 1h0m3 0h0m1 0h0m1 0h0m2 0h0m6 0h0m-10 1h0m1 0h0m2 0h0m2 0h0m1 0h0m1 0h0m1 0h0m-7 1h0m4 0h0m2 0h0m1 0h0m-5 1h0m3 0h0m1 0h0"/>
</g>
<path d="M295.1 590H394.3V688.5H295.1" fill="none" stroke="#2e3432" stroke-width="1.2"/>
<line x1="295.1" y1="590" x2="295.1" y2="688.5" stroke="#9aa8a8" stroke-width="0.9" stroke-dasharray="1 1.5"/>
<line x1="293.1" y1="661.1" x2="295.1" y2="661.1" stroke="#6a7a7a" stroke-width="0.8"/>
<line x1="293.1" y1="633.8" x2="295.1" y2="633.8" stroke="#6a7a7a" stroke-width="0.8"/>
<line x1="293.1" y1="606.4" x2="295.1" y2="606.4" stroke="#6a7a7a" stroke-width="0.8"/>
<line x1="295.1" y1="651.5" x2="394.3" y2="651.5" stroke="#3c4442" stroke-width="1.1"/>
<line x1="333.8" y1="590" x2="333.8" y2="688.5" stroke="#3c4442" stroke-width="1.1"/>
<g font-family="&quot;Liberation Serif&quot;, serif" font-size="12px" fill="#111" stroke="#111" stroke-width="0.25">
<line x1="359.5" y1="610" x2="391.8" y2="610" stroke="#111" stroke-width="1.3"/>
<line x1="375" y1="595.8" x2="375" y2="623" stroke="#111" stroke-width="1.3"/>
<text x="371.6" y="606.1" text-anchor="end">3</text>
<text x="380" y="606.1">5</text>
<text x="371.6" y="621.7" text-anchor="end">32</text>
<text x="380.5" y="621.7">60</text>
</g>
<g stroke-width="1.8" stroke-linecap="square" fill="none" transform="translate(0.5 0.5)">
<path stroke="#3ea6e2" d="M435 659h0m21 1h0m1 1h0m6 0h0m-28 1h0m6 0h0m3 0h0m10 0h0m3 0h0m-17 1h0m-7 1h0m33 0h0m4 0h0m8 0h0m-46 1h0m2 0h0m2 0h0m4 0h0m1 0h0m27 0h0m6 0h0m-44 1h0m5 1h0m3 0h0m3 0h0m34 0h0m-6 1h0m6 1h0m-34 1h0m16 0h0m-6 1h0m9 0h0"/>
<path stroke="#1b2a4c" d="M457 639h0m-3 3h0m12 1h0m5 1h0m-24 1h0m-15 3h0m4 0h0m18 0h0m11 0h0m-13 1h0m11 0h0m3 0h0m-50 1h0m24 0h0m9 0h0m17 0h0m6 0h0m12 0h0m-66 1h0m26 0h0m4 0h0m4 0h0m1 0h0m12 0h0m2 0h0m-38 1h0m10 0h0m8 0h0m1 0h0m8 0h0m2 0h0m1 0h0m1 0h0m2 0h0m6 0h0m1 0h0m9 0h0m-68 1h0m31 0h0m3 0h0m13 0h0m-30 1h0m8 0h0m12 0h0m3 0h0m9 0h0m17 0h0m2 0h0m7 0h0m-15 1h0m2 0h0m-36 1h0m8 0h0m1 0h0m6 0h0m10 0h0m2 0h0m6 0h0m4 0h0m-35 1h0m5 0h0m8 0h0m11 0h0m3 0h0m15 0h0m-43 1h0m2 0h0m9 0h0m9 0h0m4 0h0m3 0h0m14 0h0m4 0h0m-55 1h0m9 0h0m1 0h0m6 0h0m26 0h0m-59 1h0m14 0h0m3 0h0m41 0h0m7 0h0m2 0h0m-49 1h0m3 0h0m7 0h0m4 0h0m23 0h0m1 0h0m4 0h0m1 0h0m3 0h0m5 0h0m-54 1h0m5 0h0m1 0h0m1 0h0m5 0h0m1 0h0m-15 1h0m8 0h0m1 0h0m1 0h0m33 0h0m8 0h0m-56 1h0m3 0h0m53 0h0m2 0h0m7 0h0m-58 1h0m7 0h0m2 0h0m-18 1h0m59 0h0m2 0h0m-54 1h0m42 0h0m4 0h0m7 0h0m3 0h0m2 0h0m3 0h0m-66 1h0m3 0h0m4 0h0m6 0h0m40 0h0m2 0h0m1 0h0m-43 1h0m5 0h0m35 0h0m4 0h0m3 0h0m9 0h0m-69 1h0m7 0h0m47 0h0m2 0h0m6 0h0m12 0h0m-68 1h0m5 0h0m5 0h0m41 0h0m2 0h0m3 0h0m3 0h0m3 0h0m-60 1h0m4 0h0m4 0h0m3 0h0m36 0h0m5 0h0m2 0h0m-46 1h0m1 0h0m1 0h0m7 0h0m23 0h0m6 0h0m7 0h0m4 0h0m-54 1h0m2 0h0m3 0h0m2 0h0m2 0h0m6 0h0m23 0h0m2 0h0m2 0h0m3 0h0m3 0h0m2 0h0m-50 1h0m5 0h0m7 0h0m2 0h0m4 0h0m14 0h0m5 0h0m7 0h0m3 0h0m1 0h0m16 0h0m-80 1h0m15 0h0m8 0h0m3 0h0m3 0h0m1 0h0m39 0h0m-54 1h0m6 0h0m3 0h0m1 0h0m6 0h0m7 0h0m4 0h0m12 0h0m4 0h0m12 0h0m-51 1h0m1 0h0m6 0h0m8 0h0m1 0h0m7 0h0m3 0h0m3 0h0m6 0h0m13 0h0m6 0h0m-41 1h0m2 0h0m6 0h0m1 0h0m2 0h0m5 0h0m10 0h0m-36 1h0m3 0h0m6 0h0m4 0h0m5 0h0m1 0h0m5 0h0m3 0h0m4 0h0m1 0h0m-32 1h0m3 0h0m8 0h0m12 0h0m22 0h0m-43 1h0m3 0h0m5 0h0m16 0h0m2 0h0m1 0h0m2 0h0m5 0h0m-45 1h0m25 0h0m4 0h0m8 0h0m1 0h0m-21 1h0m5 0h0m4 0h0m15 0h0m-25 1h0m4 0h0m33 0h0m-28 1h0m5 0h0"/>
<path stroke="#3cc0b0" d="M449 660h0m0 1h0m-5 1h0m6 0h0m3 0h0m5 0h0m3 0h0m-18 1h0m2 0h0m1 0h0m4 0h0m4 0h0m3 0h0m3 0h0m3 0h0m-21 1h0m21 0h0m4 0h0m1 0h0m-31 1h0m33 0h0m-31 1h0m6 0h0m15 0h0m1 0h0m2 0h0m-28 1h0m4 0h0m2 0h0m18 0h0m-21 1h0m6 0h0m6 0h0m8 0h0m1 0h0m4 0h0m-11 1h0m4 0h0m2 0h0m10 0h0m-23 1h0m3 0h0m5 0h0"/>
<path stroke="#2866b8" d="M441 651h0m18 0h0m-11 1h0m1 2h0m1 0h0m3 0h0m5 0h0m3 0h0m-19 1h0m8 0h0m3 0h0m4 0h0m7 0h0m-27 1h0m7 0h0m8 0h0m2 0h0m2 0h0m-9 1h0m3 0h0m10 0h0m7 0h0m-28 1h0m10 0h0m2 0h0m2 0h0m4 0h0m4 0h0m2 0h0m4 0h0m-40 1h0m6 0h0m11 0h0m3 0h0m11 0h0m2 0h0m6 0h0m1 0h0m-30 1h0m6 0h0m1 0h0m12 0h0m7 0h0m2 0h0m2 0h0m1 0h0m1 0h0m-39 1h0m6 0h0m1 0h0m1 0h0m4 0h0m5 0h0m25 0h0m3 0h0m-39 1h0m4 0h0m2 0h0m23 0h0m1 0h0m9 0h0m-39 1h0m1 0h0m1 0h0m27 0h0m10 0h0m-46 1h0m7 0h0m9 0h0m18 0h0m2 0h0m-29 1h0m1 0h0m27 0h0m7 0h0m1 0h0m-38 1h0m36 0h0m1 0h0m3 0h0m2 0h0m-45 1h0m1 0h0m8 0h0m26 0h0m3 0h0m1 0h0m2 0h0m-34 1h0m2 0h0m-11 1h0m5 0h0m1 0h0m34 0h0m1 0h0m1 0h0m1 0h0m-39 1h0m4 0h0m27 0h0m1 0h0m2 0h0m-34 1h0m7 0h0m1 0h0m21 0h0m9 0h0m-35 1h0m4 0h0m17 0h0m-22 1h0m5 0h0m2 0h0m2 0h0m1 0h0m10 0h0m10 0h0m-26 1h0m11 0h0m4 0h0m12 0h0m1 0h0m1 0h0m-22 1h0m4 0h0m1 0h0m5 0h0m2 0h0m1 0h0m3 0h0m1 0h0m2 0h0m-22 1h0m6 0h0m9 0h0m9 0h0m-19 1h0m5 0h0m6 0h0m2 0h0m4 0h0m-22 1h0m7 0h0m5 0h0m2 0h0m2 0h0m-14 1h0m1 1h0m10 0h0"/>
<path stroke="#3a92dc" d="M458 654h0m-6 2h0m4 0h0m15 0h0m-27 1h0m4 0h0m1 0h0m3 0h0m2 0h0m3 0h0m-11 1h0m1 0h0m2 0h0m4 0h0m2 0h0m2 0h0m2 0h0m-21 1h0m6 0h0m4 0h0m4 0h0m3 0h0m4 0h0m-17 1h0m2 0h0m1 0h0m2 0h0m2 0h0m1 0h0m1 0h0m6 0h0m-20 1h0m1 0h0m3 0h0m4 0h0m2 0h0m7 0h0m5 0h0m4 0h0m1 0h0m1 0h0m-23 1h0m5 0h0m11 0h0m2 0h0m1 0h0m4 0h0m-25 1h0m2 0h0m3 0h0m14 0h0m4 0h0m1 0h0m1 0h0m1 0h0m4 0h0m1 0h0m-32 1h0m5 0h0m1 0h0m21 0h0m2 0h0m1 0h0m-38 1h0m4 0h0m4 0h0m4 0h0m1 0h0m17 0h0m3 0h0m3 0h0m6 0h0m-35 1h0m1 0h0m2 0h0m1 0h0m20 0h0m2 0h0m3 0h0m1 0h0m6 0h0m-34 1h0m1 0h0m2 0h0m16 0h0m1 0h0m2 0h0m-28 1h0m1 0h0m3 0h0m1 0h0m3 0h0m3 0h0m14 0h0m4 0h0m2 0h0m-31 1h0m5 0h0m2 0h0m20 0h0m2 0h0m1 0h0m1 0h0m-38 1h0m10 0h0m5 0h0m1 0h0m1 0h0m2 0h0m11 0h0m2 0h0m4 0h0m2 0h0m1 0h0m3 0h0m-27 1h0m1 0h0m7 0h0m7 0h0m1 0h0m1 0h0m1 0h0m2 0h0m1 0h0m1 0h0m3 0h0m5 0h0m-32 1h0m2 0h0m4 0h0m1 0h0m3 0h0m5 0h0m4 0h0m3 0h0m2 0h0m1 0h0m1 0h0m2 0h0m-29 1h0m4 0h0m6 0h0m1 0h0m5 0h0m1 0h0m1 0h0m1 0h0m2 0h0m3 0h0m2 0h0m-26 1h0m2 0h0m1 0h0m1 0h0m2 0h0m1 0h0m3 0h0m1 0h0m1 0h0m2 0h0m1 0h0m3 0h0m1 0h0m7 0h0m-24 1h0m3 0h0m3 0h0m7 0h0m2 0h0m3 0h0m3 0h0m-13 1h0m2 0h0m1 0h0m3 0h0m5 0h0m2 1h0m-16 3h0m21 0h0"/>
<path stroke="#3fd34a" d="M448 663h0m8 0h0m3 0h0m1 0h0m-15 1h0m1 0h0m1 0h0m1 0h0m2 0h0m2 0h0m2 0h0m3 0h0m-14 1h0m1 0h0m1 0h0m1 0h0m1 0h0m2 0h0m1 0h0m1 0h0m1 0h0m1 0h0m5 0h0m2 0h0m1 0h0m3 0h0m-23 1h0m3 0h0m1 0h0m1 0h0m1 0h0m2 0h0m1 0h0m1 0h0m1 0h0m1 0h0m4 0h0m1 0h0m3 0h0m-14 1h0m1 0h0m1 0h0m4 0h0m2 0h0m-9 1h0m3 0h0m3 0h0m1 0h0m5 0h0m2 0h0m0 1h0"/>
<path stroke="#48bce8" d="M448 658h0m6 0h0m-3 2h0m1 0h0m1 0h0m2 0h0m2 0h0m3 0h0m-14 1h0m1 0h0m2 0h0m1 0h0m2 0h0m1 0h0m1 0h0m1 0h0m4 0h0m-11 1h0m2 0h0m2 0h0m1 0h0m1 0h0m3 0h0m-14 1h0m1 0h0m2 0h0m1 0h0m1 0h0m1 0h0m1 0h0m1 0h0m1 0h0m2 0h0m2 0h0m1 0h0m1 0h0m1 0h0m4 0h0m-20 1h0m2 0h0m2 0h0m2 0h0m2 0h0m1 0h0m1 0h0m1 0h0m2 0h0m2 0h0m1 0h0m-15 1h0m1 0h0m1 0h0m2 0h0m1 0h0m1 0h0m1 0h0m1 0h0m2 0h0m1 0h0m3 0h0m1 0h0m1 0h0m2 0h0m-20 1h0m2 0h0m2 0h0m1 0h0m1 0h0m2 0h0m1 0h0m1 0h0m1 0h0m1 0h0m2 0h0m1 0h0m1 0h0m3 0h0m1 0h0m2 0h0m-21 1h0m1 0h0m1 0h0m1 0h0m1 0h0m2 0h0m3 0h0m1 0h0m1 0h0m1 0h0m1 0h0m1 0h0m1 0h0m1 0h0m3 0h0m2 0h0m-26 1h0m4 0h0m1 0h0m2 0h0m1 0h0m1 0h0m1 0h0m1 0h0m2 0h0m1 0h0m1 0h0m1 0h0m1 0h0m1 0h0m1 0h0m1 0h0m1 0h0m2 0h0m-20 1h0m1 0h0m3 0h0m2 0h0m1 0h0m1 0h0m1 0h0m1 0h0m1 0h0m1 0h0m2 0h0m1 0h0m1 0h0m2 0h0m1 0h0m1 0h0m-19 1h0m1 0h0m3 0h0m1 0h0m3 0h0m1 0h0m1 0h0m2 0h0m1 0h0m1 0h0m1 0h0m1 0h0m2 0h0m-15 1h0m1 0h0m1 0h0m3 0h0m1 0h0m2 0h0m3 0h0m6 0h0m-13 1h0m1 0h0m1 0h0m1 0h0m3 0h0m1 0h0m2 0h0m1 0h0m2 0h0m1 0h0m-9 1h0m2 3h0"/>
</g>
<path d="M405.8 591.5H505V688.5H405.8" fill="none" stroke="#2e3432" stroke-width="1.2"/>
<line x1="405.8" y1="591.5" x2="405.8" y2="688.5" stroke="#9aa8a8" stroke-width="0.9" stroke-dasharray="1 1.5"/>
<line x1="403.8" y1="661.6" x2="405.8" y2="661.6" stroke="#6a7a7a" stroke-width="0.8"/>
<line x1="403.8" y1="634.6" x2="405.8" y2="634.6" stroke="#6a7a7a" stroke-width="0.8"/>
<line x1="403.8" y1="607.7" x2="405.8" y2="607.7" stroke="#6a7a7a" stroke-width="0.8"/>
<line x1="405.8" y1="652.7" x2="505" y2="652.7" stroke="#3c4442" stroke-width="1.1"/>
<line x1="444.3" y1="591.5" x2="444.3" y2="688.5" stroke="#3c4442" stroke-width="1.1"/>
<g font-family="&quot;Liberation Serif&quot;, serif" font-size="12px" fill="#111" stroke="#111" stroke-width="0.25">
<line x1="463.0" y1="611.2" x2="495.3" y2="611.2" stroke="#111" stroke-width="1.3"/>
<line x1="478.5" y1="597.0" x2="478.5" y2="624.2" stroke="#111" stroke-width="1.3"/>
<text x="475.1" y="607.3" text-anchor="end">2</text>
<text x="483.5" y="607.3">2</text>
<text x="475.1" y="622.9" text-anchor="end">40</text>
<text x="484.0" y="622.9">56</text>
</g>
<g stroke-width="1.8" stroke-linecap="square" fill="none" transform="translate(0.5 0.5)">
<path stroke="#1b2a4c" d="M98 695h0m-19 1h0m9 0h0m-12 1h0m7 0h0m10 0h0m6 0h0m-2 1h0m-26 1h0m21 0h0m3 0h0m2 0h0m2 0h0m-52 1h0m29 0h0m7 0h0m2 0h0m7 0h0m2 0h0m-1 1h0m5 0h0m-14 1h0m4 0h0m6 0h0m-25 1h0m11 0h0m3 0h0m6 0h0m2 0h0m3 0h0m13 0h0m-28 1h0m27 0h0m-35 1h0m6 0h0m10 0h0m10 0h0m1 0h0m1 0h0m7 0h0m-31 1h0m2 0h0m3 0h0m14 0h0m7 0h0m-28 1h0m3 0h0m4 0h0m16 0h0m1 0h0m1 0h0m-31 1h0m10 0h0m20 0h0m1 0h0m1 0h0m3 0h0m1 0h0m5 0h0m-39 1h0m5 0h0m17 0h0m3 0h0m6 0h0m-28 1h0m24 0h0m1 0h0m3 0h0m1 0h0m2 0h0m-30 1h0m26 0h0m2 0h0m-32 1h0m27 0h0m5 0h0m-30 1h0m4 0h0m21 0h0m8 0h0m2 0h0m-52 1h0m19 0h0m26 0h0m3 0h0m-26 1h0m32 0h0m-42 1h0m2 0h0m8 0h0m21 0h0m5 0h0m1 0h0m-31 1h0m3 0h0m26 0h0m-29 1h0m25 0h0m-49 1h0m14 0h0m14 0h0m25 0h0m6 0h0m-38 1h0m29 0h0m-37 1h0m8 0h0m26 0h0m-50 1h0m4 0h0m17 0h0m3 0h0m29 0h0m-58 1h0m29 0h0m-22 1h0m20 0h0m8 0h0m0 1h0m29 1h0m-32 1h0m3 0h0m22 0h0m3 0h0m-28 1h0m13 0h0m-41 1h0m27 0h0m2 0h0m1 0h0m25 0h0m-20 1h0m16 0h0m5 0h0m-60 1h0m13 0h0m21 0h0m21 0h0m3 0h0m5 0h0m10 0h0m-66 1h0m26 0h0m1 0h0m1 0h0m31 0h0m-61 1h0m39 0h0m11 0h0m6 0h0m7 0h0m-54 1h0m17 0h0m6 0h0m5 0h0m18 0h0m-29 1h0m9 0h0m16 0h0m2 0h0m-52 1h0m2 0h0m22 0h0m5 0h0m2 0h0m2 0h0m2 0h0m5 0h0m14 0h0m1 0h0m9 0h0m3 0h0m-72 1h0m30 0h0m3 0h0m3 0h0m1 0h0m5 0h0m3 0h0m4 0h0m4 0h0m2 0h0m5 0h0m-29 1h0m6 0h0m7 0h0m2 0h0m7 0h0m-54 1h0m6 0h0m2 0h0m39 0h0m7 0h0m1 0h0m1 0h0m-25 1h0m2 0h0m14 0h0m5 0h0m4 0h0m7 0h0m-57 1h0m34 0h0m1 0h0m11 0h0m10 0h0m-58 1h0m3 0h0m2 0h0m20 0h0m3 0h0m1 0h0m10 0h0m7 0h0m12 0h0m3 0h0m-62 1h0m10 0h0m10 0h0m9 0h0m5 0h0m6 0h0m15 0h0m1 0h0m1 0h0m-35 1h0m2 0h0m2 0h0m3 0h0m13 0h0m20 0h0m-59 1h0m4 0h0m17 0h0m7 0h0m2 0h0m3 0h0m5 0h0m7 0h0m-21 1h0m2 0h0m13 0h0m1 0h0m1 0h0m1 0h0m2 0h0m-20 1h0m7 0h0m4 0h0m1 0h0m4 0h0m3 0h0m2 0h0m1 0h0m3 0h0m1 0h0m-27 1h0m3 0h0m2 0h0m1 0h0m6 0h0m2 0h0m4 0h0m-24 1h0m2 0h0m7 0h0m2 0h0m3 0h0m6 0h0m3 0h0m3 0h0m3 0h0m9 0h0m-43 1h0m10 0h0m7 0h0m1 0h0m2 0h0m9 0h0m13 0h0m2 0h0m-50 1h0m23 0h0m1 0h0m3 0h0m1 0h0m2 0h0m6 0h0m3 0h0m1 0h0m-27 1h0m6 0h0m2 0h0m4 0h0m1 0h0m1 0h0m2 0h0m3 0h0m3 0h0m-18 1h0m1 0h0m16 0h0m1 0h0m3 0h0m1 0h0m-45 1h0m11 0h0m14 0h0m1 0h0m4 0h0m2 0h0m1 0h0m1 0h0m4 0h0m3 0h0m9 0h0m3 0h0m-51 1h0m10 0h0m9 0h0m1 0h0m2 0h0m1 0h0m3 0h0m2 0h0m3 0h0m9 0h0m2 0h0m1 0h0m-48 1h0m9 0h0m9 0h0m2 0h0m12 0h0m12 0h0m6 0h0m6 0h0m-47 1h0m7 0h0m9 0h0m1 0h0m3 0h0m1 0h0m10 0h0m2 0h0m4 0h0m-24 1h0m1 0h0m2 0h0m2 0h0m15 0h0m1 0h0m2 0h0m-46 1h0m13 0h0m1 0h0m9 0h0m1 0h0m3 0h0m7 0h0m9 0h0m9 0h0m-31 1h0m2 0h0m1 0h0m2 0h0m16 0h0m4 0h0m-28 1h0m24 0h0m3 0h0m2 0h0m1 0h0m2 0h0m-25 1h0m16 0h0m3 0h0m3 0h0m1 0h0m3 0h0m4 0h0m-36 1h0m1 0h0m5 0h0m21 0h0m2 0h0m7 0h0m-45 2h0m6 0h0m3 0h0m4 0h0m4 0h0m16 0h0m3 0h0m-29 1h0m2 0h0m9 0h0m24 0h0m2 0h0m5 0h0m-59 1h0m23 0h0m3 0h0m1 0h0m2 0h0m15 0h0m6 0h0m-26 1h0m28 0h0m-33 1h0m21 0h0m4 0h0m1 0h0m1 0h0m8 0h0m-54 1h0m16 0h0m3 0h0m2 0h0m3 0h0m19 0h0m2 0h0m10 0h0m-30 1h0m1 0h0m3 0h0m1 0h0m9 0h0m7 0h0m-28 1h0m1 0h0m9 0h0m21 0h0m-47 1h0m4 0h0m19 0h0m20 0h0m1 0h0m4 0h0m-54 1h0m22 0h0m5 0h0m3 0h0m2 0h0m2 0h0m1 0h0m2 0h0m11 0h0m-19 1h0m3 0h0m10 0h0m1 0h0m1 0h0m1 0h0m-28 1h0m16 0h0m7 0h0m5 1h0m-8 1h0m6 0h0m-21 1h0m9 0h0m6 0h0m9 0h0m5 0h0m-32 1h0m23 0h0m13 0h0m-18 1h0m13 0h0m-16 2h0m25 0h0"/>
<path stroke="#2866b8" d="M85 732h0m-9 1h0m-1 2h0m3 2h0m2 0h0m-6 1h0m8 0h0m6 0h0m-17 1h0m4 0h0m13 0h0m-14 1h0m2 0h0m12 0h0m2 0h0m-16 1h0m16 0h0m1 0h0m-20 1h0m18 1h0m1 0h0m1 0h0m-21 1h0m-1 1h0m3 0h0m2 0h0m16 0h0m-18 2h0m16 0h0m-12 1h0m1 1h0m11 0h0m-16 1h0m3 0h0m3 0h0m5 0h0m3 0h0m-8 1h0m4 0h0m7 0h0m-12 1h0m3 0h0m6 0h0m-10 1h0m4 0h0m2 0h0m-13 1h0m10 0h0m1 0h0m3 0h0m1 0h0m-7 1h0m4 0h0m1 0h0m-10 1h0m1 0h0m1 0h0m3 0h0m2 0h0m-6 1h0m2 0h0m7 0h0m1 0h0m-16 1h0m17 0h0m1 0h0m2 0h0m-22 1h0m2 0h0m2 0h0m16 0h0m3 0h0m1 0h0m1 0h0m8 0h0m-26 1h0m14 0h0m-20 1h0m2 0h0m1 0h0m-1 1h0m3 0h0m15 0h0m2 0h0m-22 1h0m4 0h0m16 0h0m-18 1h0m1 0h0m19 0h0m2 0h0m-25 1h0m3 0h0m1 0h0m1 0h0m16 0h0m2 0h0m3 0h0m-25 1h0m18 0h0m7 0h0m-21 1h0m1 0h0m15 0h0m-18 1h0m2 0h0m11 0h0m4 0h0m-17 1h0m2 0h0m1 0h0m9 0h0m2 0h0m1 0h0m2 0h0m-12 1h0m4 0h0m3 0h0m6 0h0m3 0h0m-15 1h0m2 0h0m1 0h0m1 0h0m3 0h0m-13 1h0m5 0h0m2 0h0m1 0h0m1 0h0m2 0h0m1 0h0m6 0h0m-13 1h0m3 0h0m-6 1h0m6 0h0m1 1h0m3 2h0"/>
<path stroke="#2458a8" d="M90 696h0m-4 1h0m3 1h0m8 0h0m-17 2h0m1 0h0m1 0h0m1 0h0m1 0h0m1 1h0m2 0h0m11 0h0m-14 1h0m1 0h0m8 0h0m-15 1h0m6 0h0m8 0h0m5 0h0m-13 1h0m1 0h0m5 0h0m2 0h0m4 0h0m-21 1h0m5 0h0m2 0h0m7 0h0m5 0h0m5 0h0m-21 1h0m3 0h0m3 0h0m4 0h0m2 0h0m4 0h0m-16 1h0m1 0h0m3 0h0m2 0h0m2 0h0m1 0h0m5 0h0m-11 1h0m2 0h0m7 0h0m1 0h0m1 0h0m2 0h0m-16 1h0m1 0h0m1 0h0m3 0h0m11 0h0m-20 1h0m3 0h0m1 0h0m3 0h0m4 0h0m5 0h0m1 0h0m2 0h0m1 0h0m1 0h0m1 0h0m1 0h0m-19 1h0m1 0h0m1 0h0m1 0h0m2 0h0m9 0h0m1 0h0m-17 1h0m3 0h0m10 0h0m3 0h0m3 0h0m2 0h0m6 0h0m-29 1h0m3 0h0m3 0h0m1 0h0m1 0h0m-2 1h0m18 0h0m-23 1h0m1 0h0m1 0h0m2 0h0m13 0h0m3 0h0m1 0h0m2 0h0m-26 1h0m26 0h0m-27 1h0m6 0h0m4 0h0m21 0h0m-27 1h0m1 0h0m19 0h0m2 0h0m3 0h0m-26 1h0m3 0h0m-4 1h0m1 0h0m20 0h0m-19 1h0m2 0h0m-2 1h0m1 0h0m1 0h0m20 0h0m2 0h0m3 0h0m-31 1h0m5 0h0m17 0h0m3 0h0m9 0h0m-29 1h0m1 0h0m-12 1h0m7 0h0m3 0h0m-4 1h0m2 0h0m21 0h0m4 0h0m1 0h0m1 0h0m-7 1h0m5 0h0m2 0h0m-4 1h0m2 0h0m-24 1h0m21 0h0m2 0h0m-2 1h0m-16 1h0m14 0h0m4 0h0m1 0h0m-8 1h0m3 0h0m-18 1h0m1 0h0m14 0h0m1 0h0m6 0h0m-23 1h0m7 0h0m5 0h0m7 0h0m6 0h0m-26 1h0m8 0h0m7 0h0m2 0h0m2 0h0m6 0h0m-23 1h0m1 0h0m1 0h0m4 0h0m2 0h0m8 0h0m6 0h0m-19 1h0m3 0h0m6 0h0m2 0h0m3 0h0m-11 1h0m1 0h0m3 0h0m7 0h0m-11 1h0m4 0h0m4 0h0m3 0h0m3 0h0m-17 1h0m4 0h0m-10 1h0m16 0h0m2 0h0m4 0h0m-19 1h0m10 0h0m4 0h0m-1 1h0m2 0h0m1 0h0m-8 1h0m2 0h0m1 0h0m-9 1h0m14 0h0m-1 4h0"/>
<path stroke="#3cb0e8" d="M83 753h0m-4 2h0m-6 1h0m4 0h0m1 0h0m2 0h0m1 0h0m-12 1h0m4 0h0m1 0h0m4 0h0m2 0h0m-8 1h0m2 0h0m2 0h0m5 0h0m4 0h0m1 0h0m3 0h0m-17 1h0m2 0h0m8 0h0m1 1h0m1 0h0m-15 1h0m1 0h0m3 0h0m10 0h0m1 0h0m1 0h0m2 0h0m-4 1h0m-14 1h0m1 0h0m2 0h0m11 0h0m2 0h0m1 0h0m-19 1h0m3 0h0m2 0h0m10 0h0m1 0h0m1 0h0m1 0h0m1 0h0m1 0h0m-17 1h0m2 0h0m12 0h0m1 0h0m1 0h0m-16 1h0m3 0h0m11 0h0m1 0h0m-17 1h0m2 0h0m1 0h0m1 0h0m1 0h0m11 0h0m2 0h0m2 0h0m-15 1h0m3 0h0m1 0h0m7 0h0m-11 1h0m1 0h0m2 0h0m2 0h0m3 0h0m1 0h0m-11 1h0m4 0h0m1 0h0m4 0h0m-2 1h0m-7 1h0m3 0h0m1 0h0m1 0h0m3 0h0m4 0h0m-6 1h0"/>
<path stroke="#3a92dc" d="M82 738h0m2 0h0m-2 1h0m-8 1h0m9 0h0m-5 1h0m-4 1h0m12 1h0m-14 1h0m14 0h0m1 0h0m1 0h0m-13 1h0m10 0h0m1 0h0m3 0h0m-17 1h0m0 1h0m1 0h0m4 0h0m9 0h0m-16 1h0m5 0h0m1 0h0m1 0h0m9 0h0m-1 1h0m-9 1h0m2 0h0m4 0h0m-10 1h0m7 0h0"/>
<path stroke="#3a8ad8" d="M88 702h0m3 1h0m-4 1h0m4 0h0m1 0h0m-10 1h0m4 0h0m1 0h0m4 0h0m2 0h0m-11 1h0m5 0h0m6 0h0m1 0h0m2 0h0m-14 1h0m7 0h0m1 0h0m1 0h0m2 0h0m-12 1h0m3 0h0m3 0h0m1 0h0m1 0h0m1 0h0m-10 1h0m2 0h0m2 0h0m1 0h0m4 0h0m1 0h0m1 0h0m2 0h0m4 0h0m-17 1h0m3 0h0m1 0h0m2 0h0m1 0h0m1 0h0m3 0h0m1 0h0m1 0h0m-12 1h0m5 0h0m1 0h0m2 0h0m1 0h0m3 0h0m-11 1h0m1 0h0m3 0h0m4 0h0m2 0h0m3 0h0m-16 1h0m2 0h0m8 0h0m1 0h0m-12 1h0m1 0h0m4 0h0m1 0h0m1 0h0m3 0h0m1 0h0m2 0h0m2 0h0m-15 1h0m1 0h0m1 0h0m2 0h0m5 0h0m3 0h0m1 0h0m1 0h0m1 0h0m-13 1h0m8 0h0m5 0h0m1 0h0m-14 1h0m1 0h0m1 0h0m8 0h0m1 0h0m1 0h0m1 0h0m2 0h0m3 0h0m-18 1h0m2 0h0m1 0h0m9 0h0m2 0h0m1 0h0m-22 1h0m6 0h0m12 0h0m1 0h0m2 0h0m-23 1h0m3 0h0m6 0h0m2 0h0m10 0h0m1 0h0m-16 1h0m3 0h0m11 0h0m3 0h0m-16 1h0m3 0h0m1 0h0m9 0h0m1 0h0m1 0h0m1 0h0m1 0h0m-18 1h0m5 0h0m8 0h0m1 0h0m2 0h0m1 0h0m-18 1h0m3 0h0m1 0h0m1 0h0m1 0h0m8 0h0m2 0h0m1 0h0m2 0h0m-17 1h0m1 0h0m13 0h0m-14 1h0m2 0h0m3 0h0m3 0h0m2 0h0m3 0h0m-12 1h0m11 0h0m2 0h0m-16 1h0m4 0h0m1 0h0m1 0h0m5 0h0m3 0h0m1 0h0m-12 1h0m3 0h0m1 0h0m1 0h0m4 0h0m1 0h0m2 0h0m1 0h0m-14 1h0m1 0h0m3 0h0m2 0h0m2 0h0m3 0h0m1 0h0m2 0h0m-14 1h0m1 0h0m1 0h0m1 0h0m4 0h0m2 0h0m2 0h0m-10 1h0m1 0h0m1 0h0m1 0h0m4 0h0m3 0h0m1 0h0m-9 1h0m1 0h0m1 0h0m3 0h0m3 0h0m2 0h0m-9 1h0m2 0h0m3 0h0m-6 1h0m1 0h0m1 0h0m4 0h0m2 0h0m2 0h0m-10 1h0m3 0h0m1 0h0m3 0h0m-8 2h0m5 0h0m1 0h0m2 0h0m3 1h0m-10 2h0"/>
<path stroke="#3cc8a0" d="M74 756h0m5 0h0m1 0h0m-1 1h0m-2 1h0m3 0h0m-8 1h0m5 0h0m1 0h0m1 0h0m1 0h0m2 0h0m-5 1h0m3 0h0m2 0h0m1 0h0m4 0h0m-16 1h0m2 0h0m8 0h0m1 0h0m-10 1h0m1 0h0m10 0h0m-13 1h0m1 0h0m2 0h0m10 0h0m-11 1h0m9 0h0m1 0h0m1 0h0m1 0h0m-11 1h0m8 0h0m1 0h0m3 0h0m-13 1h0m1 0h0m5 0h0m4 0h0m-10 1h0m2 0h0m2 0h0m4 0h0m1 0h0m3 0h0m-8 1h0m1 1h0m1 0h0m2 0h0m1 1h0m-5 1h0"/>
<path stroke="#48bce8" d="M79 740h0m3 0h0m1 0h0m-5 1h0m3 0h0m-4 1h0m2 0h0m1 0h0m1 0h0m1 0h0m1 0h0m2 0h0m-9 1h0m4 0h0m1 0h0m1 0h0m4 0h0m-8 1h0m2 0h0m3 0h0m3 0h0m-9 1h0m3 0h0m1 0h0m1 0h0m2 0h0m1 0h0m-6 1h0m1 0h0m1 0h0m2 0h0m2 0h0m-10 1h0m2 0h0m2 0h0m1 0h0m1 0h0m1 0h0m-6 1h0m3 0h0m1 0h0m1 0h0m3 0h0m-4 1h0m2 0h0m-1 1h0m1 1h0"/>
<path stroke="#4cc0e0" d="M90 711h0m-3 1h0m-4 1h0m1 0h0m3 0h0m1 0h0m-3 1h0m1 0h0m2 0h0m3 0h0m-7 1h0m1 0h0m3 0h0m1 0h0m-3 1h0m2 0h0m2 0h0m-5 1h0m2 0h0m1 0h0m2 0h0m1 0h0m-6 1h0m1 0h0m1 0h0m1 0h0m1 0h0m1 0h0m2 0h0m-10 1h0m2 0h0m1 0h0m3 0h0m1 0h0m-6 1h0m5 0h0m2 0h0m-7 1h0m1 0h0m1 0h0m2 0h0m1 0h0m1 0h0m1 0h0m1 0h0m1 0h0m-10 1h0m1 0h0m1 0h0m1 0h0m2 0h0m1 0h0m1 0h0m2 0h0m-9 1h0m1 0h0m1 0h0m2 0h0m1 0h0m1 0h0m1 0h0m2 0h0m1 0h0m-10 1h0m1 0h0m1 0h0m2 0h0m1 0h0m1 0h0m1 0h0m1 0h0m-7 1h0m1 0h0m1 0h0m2 0h0m1 0h0m1 0h0m1 0h0m1 0h0m-7 1h0m1 0h0m1 0h0m2 0h0m1 0h0m1 0h0m-9 1h0m5 0h0m2 0h0m1 0h0m-7 1h0m1 0h0m3 0h0m1 0h0m3 0h0m-5 1h0m1 0h0m1 0h0m-2 1h0m0 2h0m3 0h0m-6 1h0m1 1h0m1 0h0m1 0h0"/>
<path stroke="#3fd84a" d="M75 759h0m2 0h0m1 0h0m2 0h0m-5 1h0m1 0h0m3 0h0m2 0h0m-4 1h0m2 0h0m1 0h0m1 0h0m-5 1h0m1 0h0m1 0h0m1 0h0m1 0h0m1 0h0m-10 1h0m1 0h0m1 0h0m1 0h0m1 0h0m1 0h0m2 0h0m1 0h0m-4 1h0m1 0h0m1 0h0m1 0h0m1 0h0m1 0h0m1 0h0m1 0h0m-9 1h0m1 0h0m1 0h0m2 0h0m1 0h0m1 0h0m1 0h0m1 0h0m1 0h0m-8 1h0m1 0h0m1 0h0m1 0h0m1 0h0m1 0h0m1 0h0m-5 1h0m1 0h0m1 0h0m1 0h0m-2 1h0m2 0h0m1 0h0"/>
</g>
<path d="M29.2 694.2H128.3V791.7H29.2" fill="none" stroke="#2e3432" stroke-width="1.2"/>
<line x1="29.2" y1="694.2" x2="29.2" y2="791.7" stroke="#9aa8a8" stroke-width="0.9" stroke-dasharray="1 1.5"/>
<line x1="27.2" y1="764.6" x2="29.2" y2="764.6" stroke="#6a7a7a" stroke-width="0.8"/>
<line x1="27.2" y1="737.5" x2="29.2" y2="737.5" stroke="#6a7a7a" stroke-width="0.8"/>
<line x1="27.2" y1="710.5" x2="29.2" y2="710.5" stroke="#6a7a7a" stroke-width="0.8"/>
<line x1="29.2" y1="748" x2="128.3" y2="748" stroke="#3c4442" stroke-width="1.1"/>
<line x1="71.2" y1="694.2" x2="71.2" y2="791.7" stroke="#3c4442" stroke-width="1.1"/>
<g font-family="&quot;Liberation Serif&quot;, serif" font-size="12px" fill="#111" stroke="#111" stroke-width="0.25">
<line x1="91.7" y1="771" x2="124.0" y2="771" stroke="#111" stroke-width="1.3"/>
<line x1="107.2" y1="756.8" x2="107.2" y2="784" stroke="#111" stroke-width="1.3"/>
<text x="103.8" y="767.1" text-anchor="end">8</text>
<text x="112.2" y="767.1">41</text>
<text x="103.8" y="782.7" text-anchor="end">11</text>
<text x="112.7" y="782.7">40</text>
</g>
<g stroke-width="1.8" stroke-linecap="square" fill="none" transform="translate(0.5 0.5)">
<path stroke="#1b2a4c" d="M196 697h0m21 0h0m-40 1h0m28 0h0m7 0h0m1 0h0m-20 1h0m2 1h0m9 0h0m6 0h0m1 0h0m1 0h0m-8 1h0m1 0h0m2 0h0m3 0h0m2 0h0m-23 1h0m6 0h0m10 0h0m2 0h0m6 0h0m1 0h0m-15 1h0m1 0h0m-32 1h0m30 0h0m1 0h0m10 0h0m-38 1h0m25 0h0m9 0h0m3 0h0m3 0h0m2 0h0m-22 1h0m21 0h0m3 0h0m2 0h0m-29 1h0m6 0h0m1 0h0m4 0h0m-37 1h0m26 0h0m5 0h0m5 0h0m12 0h0m5 0h0m-27 1h0m7 0h0m2 0h0m2 0h0m16 0h0m5 0h0m3 0h0m-34 1h0m1 0h0m6 0h0m3 0h0m10 0h0m8 0h0m7 0h0m10 0h0m-54 1h0m26 0h0m1 0h0m6 0h0m-42 1h0m18 0h0m16 0h0m6 0h0m7 0h0m-27 1h0m6 0h0m15 0h0m2 0h0m1 0h0m-22 1h0m18 0h0m-37 1h0m2 0h0m18 0h0m20 0h0m3 0h0m4 0h0m1 0h0m3 0h0m1 0h0m-62 1h0m5 0h0m3 0h0m8 0h0m7 0h0m32 0h0m3 0h0m-58 1h0m28 0h0m21 0h0m4 0h0m-45 1h0m8 0h0m4 0h0m32 0h0m-40 1h0m5 0h0m5 0h0m1 0h0m26 0h0m7 0h0m-47 1h0m10 0h0m31 0h0m4 0h0m1 0h0m1 0h0m-57 1h0m4 0h0m17 0h0m1 0h0m32 0h0m3 0h0m-48 1h0m40 0h0m7 0h0m2 0h0m-45 1h0m14 0h0m2 0h0m29 0h0m-55 1h0m5 0h0m17 0h0m28 0h0m7 0h0m-41 1h0m31 0h0m6 0h0m-50 1h0m4 0h0m-3 1h0m3 0h0m5 0h0m9 0h0m25 0h0m4 0h0m-36 1h0m2 0h0m34 0h0m-41 1h0m9 0h0m6 0h0m-18 1h0m1 0h0m10 0h0m1 0h0m1 0h0m1 1h0m5 0h0m22 0h0m2 0h0m3 0h0m-50 1h0m6 0h0m5 0h0m3 0h0m39 0h0m-51 2h0m9 0h0m4 0h0m5 0h0m23 0h0m8 0h0m-54 1h0m13 0h0m7 0h0m3 0h0m11 0h0m4 0h0m10 0h0m-1 1h0m2 0h0m2 0h0m-31 1h0m30 0h0m-39 1h0m3 0h0m7 0h0m3 0h0m3 0h0m10 0h0m10 0h0m5 0h0m-34 1h0m4 0h0m3 0h0m1 0h0m10 0h0m3 0h0m4 0h0m-20 1h0m4 0h0m5 0h0m4 0h0m5 0h0m1 0h0m7 0h0m1 0h0m-35 1h0m4 0h0m3 0h0m1 0h0m2 0h0m2 0h0m4 0h0m1 0h0m5 0h0m1 0h0m11 0h0m-45 1h0m7 0h0m18 0h0m4 0h0m5 0h0m8 0h0m3 0h0m4 0h0m-35 1h0m1 0h0m1 0h0m1 0h0m11 0h0m5 0h0m1 0h0m2 0h0m2 0h0m4 0h0m-20 1h0m2 0h0m4 0h0m5 0h0m4 0h0m3 0h0m1 0h0m7 0h0m1 0h0m-36 1h0m2 0h0m4 0h0m3 0h0m2 0h0m6 0h0m2 0h0m4 0h0m8 0h0m-32 1h0m2 0h0m10 0h0m10 0h0m5 0h0m18 0h0m-43 1h0m10 0h0m4 0h0m10 0h0m7 0h0m-35 1h0m10 0h0m3 0h0m7 0h0m3 0h0m8 0h0m-28 1h0m4 0h0m1 0h0m3 0h0m14 0h0m1 0h0m1 0h0m5 0h0m2 0h0m-28 1h0m5 0h0m2 0h0m1 0h0m1 0h0m4 0h0m10 0h0m1 0h0m2 0h0m8 0h0m-38 1h0m5 0h0m9 0h0m1 0h0m5 0h0m1 0h0m-14 1h0m1 0h0m1 0h0m4 0h0m3 0h0m1 0h0m1 0h0m4 0h0m1 0h0m6 0h0m-27 1h0m3 0h0m3 0h0m1 0h0m8 0h0m1 0h0m4 0h0m1 0h0m1 0h0m3 0h0m1 0h0m2 0h0m-33 1h0m3 0h0m4 0h0m11 0h0m6 0h0m5 0h0m3 0h0m-28 1h0m2 0h0m1 0h0m3 0h0m1 0h0m4 0h0m1 0h0m2 0h0m6 0h0m1 0h0m10 0h0m1 0h0m-35 1h0m2 0h0m4 0h0m1 0h0m14 0h0m1 0h0m2 0h0m1 0h0m8 0h0m-43 1h0m6 0h0m7 0h0m9 0h0m8 0h0m1 0h0m4 0h0m7 0h0m-31 1h0m8 0h0m17 0h0m-32 1h0m6 0h0m1 0h0m1 0h0m1 0h0m4 0h0m7 0h0m5 0h0m3 0h0m2 0h0m2 0h0m-29 1h0m23 0h0m5 0h0m3 0h0m-36 1h0m1 0h0m35 0h0m1 0h0m-36 1h0m1 0h0m1 0h0m3 0h0m26 0h0m12 0h0m-43 1h0m26 0h0m3 0h0m1 0h0m-27 1h0m29 0h0m3 0h0m-39 1h0m5 0h0m1 0h0m28 0h0m2 0h0m-30 1h0m1 0h0m3 0h0m21 0h0m3 0h0m2 0h0m-7 1h0m1 0h0m5 0h0m1 0h0m-32 1h0m5 0h0m10 0h0m7 0h0m8 0h0m3 0h0m-24 1h0m13 0h0m2 0h0m5 0h0m4 0h0m-38 1h0m17 0h0m14 0h0m2 0h0m2 0h0m1 0h0m4 0h0m-36 1h0m4 0h0m4 0h0m12 0h0m4 0h0m8 0h0m1 0h0m-21 1h0m1 0h0m5 0h0m2 0h0m2 0h0m-23 1h0m2 0h0m2 0h0m3 0h0m1 0h0m16 0h0m-29 1h0m9 0h0m1 0h0m4 0h0m2 0h0m3 0h0m5 0h0m2 0h0m1 0h0m3 0h0m-19 1h0m1 0h0m12 0h0m14 0h0m-38 1h0m4 0h0m4 0h0m5 0h0m1 0h0m14 0h0m7 0h0m-19 1h0m8 0h0m3 0h0m-13 1h0m15 0h0m-26 1h0m21 0h0m10 0h0m-35 2h0m12 3h0"/>
<path stroke="#2866b8" d="M191 739h0m2 0h0m-5 1h0m9 0h0m1 0h0m4 0h0m-2 1h0m-11 1h0m1 0h0m11 0h0m-1 1h0m-10 2h0m-7 2h0m3 0h0m3 0h0m16 0h0m-19 2h0m1 0h0m4 1h0m13 0h0m-15 1h0m1 0h0m-1 1h0m3 0h0m5 0h0m1 0h0m3 0h0m-16 1h0m3 0h0m1 0h0m2 0h0m6 0h0m1 0h0m5 0h0m-17 1h0m5 0h0m1 0h0m1 0h0m1 0h0m1 0h0m1 0h0m3 0h0m3 0h0m-20 1h0m4 0h0m5 0h0m2 0h0m3 0h0m-17 1h0m2 0h0m3 0h0m5 0h0m3 0h0m2 0h0m2 0h0m1 0h0m3 0h0m2 0h0m-18 1h0m1 0h0m4 0h0m3 0h0m3 0h0m2 0h0m1 0h0m-20 1h0m6 0h0m4 0h0m12 0h0m-1 1h0m1 0h0m-23 1h0m4 0h0m2 0h0m18 0h0m2 1h0m-23 1h0m1 0h0m17 0h0m3 0h0m-19 1h0m14 0h0m-19 1h0m2 0h0m18 1h0m1 0h0m-23 1h0m2 0h0m23 0h0m-7 1h0m-1 1h0m5 0h0m-14 1h0m6 0h0m5 0h0m2 0h0m-22 1h0m4 0h0m3 0h0m1 0h0m8 0h0m3 0h0m-16 1h0m3 0h0m1 0h0m6 0h0m3 0h0m3 0h0m2 0h0m-5 1h0m5 0h0m-17 1h0m2 0h0m17 0h0m-16 3h0m3 0h0m-4 1h0"/>
<path stroke="#2458a8" d="M204 701h0m2 1h0m-4 1h0m7 0h0m1 0h0m-7 1h0m1 0h0m7 0h0m-11 1h0m2 0h0m10 0h0m-16 1h0m4 0h0m-5 1h0m2 0h0m8 0h0m-8 1h0m2 0h0m7 0h0m3 0h0m-11 1h0m4 0h0m9 0h0m-16 1h0m1 0h0m6 0h0m1 0h0m1 0h0m2 0h0m1 0h0m1 0h0m-9 1h0m4 0h0m1 0h0m2 0h0m-9 1h0m5 0h0m4 0h0m-13 1h0m1 0h0m1 0h0m3 0h0m1 0h0m2 0h0m2 0h0m3 0h0m7 0h0m-22 1h0m1 0h0m3 0h0m1 0h0m4 0h0m5 0h0m6 0h0m2 0h0m-21 1h0m10 0h0m8 0h0m1 0h0m-14 1h0m3 0h0m4 0h0m2 0h0m2 0h0m4 0h0m3 0h0m-25 1h0m4 0h0m3 0h0m10 0h0m1 0h0m4 0h0m2 0h0m2 0h0m-24 1h0m2 0h0m16 0h0m6 0h0m-24 1h0m1 0h0m3 0h0m14 0h0m3 0h0m2 0h0m-22 1h0m17 0h0m1 0h0m3 0h0m-24 1h0m1 0h0m1 0h0m1 0h0m1 0h0m1 0h0m19 0h0m-24 1h0m1 0h0m1 0h0m1 0h0m14 0h0m4 0h0m3 0h0m-27 1h0m4 0h0m2 0h0m19 0h0m2 0h0m-22 1h0m22 0h0m-22 1h0m18 0h0m6 0h0m-25 1h0m1 1h0m16 0h0m3 0h0m-22 1h0m4 1h0m2 0h0m16 0h0m1 0h0m8 0h0m-32 1h0m3 0h0m3 0h0m14 0h0m2 0h0m-18 1h0m2 0h0m18 0h0m-22 1h0m16 0h0m13 0h0m-12 1h0m1 0h0m3 0h0m3 0h0m-30 1h0m8 0h0m1 0h0m3 0h0m6 0h0m4 0h0m6 0h0m-24 1h0m2 0h0m2 0h0m1 0h0m2 0h0m1 0h0m12 0h0m-19 1h0m3 0h0m1 0h0m1 0h0m1 0h0m8 0h0m2 0h0m1 0h0m5 0h0m6 0h0m-21 1h0m4 0h0m-9 1h0m2 0h0m1 0h0m2 0h0m1 0h0m9 0h0m5 0h0m-24 1h0m10 0h0m-2 1h0m3 0h0m1 0h0m3 0h0m4 0h0m-12 1h0m1 0h0m4 0h0m6 0h0m2 0h0m-15 1h0m12 0h0m2 0h0m-12 1h0m3 0h0m1 0h0m1 0h0m2 0h0m1 0h0m1 0h0m-10 1h0m4 0h0m10 0h0m-5 1h0m2 0h0m-8 2h0m7 1h0"/>
<path stroke="#3cb0e8" d="M194 754h0m-6 1h0m1 1h0m2 0h0m1 0h0m1 0h0m1 0h0m3 0h0m-13 1h0m1 0h0m5 0h0m3 0h0m2 0h0m1 0h0m-14 1h0m1 0h0m1 0h0m2 0h0m2 0h0m1 0h0m2 0h0m3 0h0m-11 1h0m2 0h0m3 0h0m5 0h0m2 0h0m6 0h0m-20 1h0m4 0h0m4 0h0m5 0h0m1 0h0m2 0h0m2 0h0m-19 1h0m1 0h0m1 0h0m1 0h0m11 0h0m1 0h0m2 0h0m1 0h0m1 0h0m-19 1h0m1 0h0m13 0h0m2 0h0m1 0h0m-19 1h0m5 0h0m16 0h0m1 0h0m-18 1h0m10 0h0m-11 1h0m16 0h0m1 0h0m-21 1h0m5 0h0m-5 1h0m5 0h0m4 0h0m-6 1h0m1 0h0m2 0h0m1 0h0m1 0h0m6 0h0m5 0h0m6 0h0m-24 1h0m8 0h0m2 0h0m1 0h0m1 0h0m3 0h0m-10 1h0m1 0h0m6 0h0m-7 1h0m4 1h0m2 2h0"/>
<path stroke="#3a92dc" d="M197 739h0m-9 1h0m8 0h0m-5 1h0m-3 1h0m4 0h0m2 0h0m2 0h0m-7 1h0m8 0h0m3 0h0m1 0h0m-13 1h0m3 0h0m1 0h0m6 0h0m1 0h0m-10 1h0m1 0h0m10 0h0m-12 1h0m1 0h0m10 0h0m1 1h0m1 0h0m1 0h0m-17 1h0m18 0h0m-16 1h0m1 0h0m13 0h0m-14 1h0m2 0h0m2 0h0m7 1h0m2 0h0m-13 1h0m5 0h0m3 0h0m1 0h0m3 0h0m-9 1h0m2 0h0m3 0h0m1 0h0m4 0h0m-10 1h0m8 0h0"/>
<path stroke="#3a8ad8" d="M209 707h0m-9 3h0m11 1h0m-22 1h0m15 0h0m-5 1h0m2 0h0m1 0h0m5 0h0m-9 1h0m1 0h0m1 0h0m1 0h0m1 0h0m2 0h0m1 0h0m2 0h0m1 0h0m-12 1h0m2 0h0m1 0h0m4 0h0m2 0h0m1 0h0m1 0h0m3 0h0m-14 1h0m3 0h0m2 0h0m3 0h0m2 0h0m2 0h0m3 0h0m-15 1h0m2 0h0m2 0h0m2 0h0m1 0h0m1 0h0m3 0h0m2 0h0m-15 1h0m3 0h0m1 0h0m2 0h0m5 0h0m1 0h0m-14 1h0m4 0h0m1 0h0m2 0h0m1 0h0m7 0h0m1 0h0m1 0h0m1 0h0m1 0h0m1 0h0m-17 1h0m2 0h0m1 0h0m2 0h0m2 0h0m2 0h0m2 0h0m1 0h0m-13 1h0m2 0h0m5 0h0m4 0h0m2 0h0m1 0h0m2 0h0m1 0h0m1 0h0m-17 1h0m1 0h0m1 0h0m7 0h0m2 0h0m1 0h0m1 0h0m1 0h0m-19 1h0m5 0h0m10 0h0m3 0h0m2 0h0m-17 1h0m2 0h0m12 0h0m2 0h0m1 0h0m-17 1h0m1 0h0m1 0h0m12 0h0m1 0h0m1 0h0m1 0h0m1 0h0m-19 1h0m1 0h0m2 0h0m1 0h0m1 0h0m12 0h0m2 0h0m-19 1h0m3 0h0m1 0h0m10 0h0m2 0h0m1 0h0m-18 1h0m2 0h0m3 0h0m3 0h0m7 0h0m1 0h0m1 0h0m1 0h0m1 0h0m4 0h0m-22 1h0m2 0h0m2 0h0m8 0h0m1 0h0m2 0h0m-15 1h0m10 0h0m3 0h0m1 0h0m1 0h0m2 0h0m3 0h0m-23 1h0m4 0h0m1 0h0m1 0h0m1 0h0m1 0h0m3 0h0m9 0h0m2 0h0m-17 1h0m3 0h0m1 0h0m2 0h0m3 0h0m1 0h0m2 0h0m-14 1h0m3 0h0m1 0h0m2 0h0m1 0h0m2 0h0m2 0h0m1 0h0m1 0h0m3 0h0m-15 1h0m3 0h0m1 0h0m2 0h0m1 0h0m1 0h0m2 0h0m2 0h0m3 0h0m1 0h0m-13 1h0m2 0h0m1 0h0m8 0h0m3 0h0m-14 1h0m3 0h0m1 0h0m1 0h0m1 0h0m1 0h0m1 0h0m3 0h0m-14 1h0m1 0h0m3 0h0m1 0h0m2 0h0m1 0h0m2 0h0m2 0h0m-9 1h0m3 0h0m-4 1h0m1 0h0m3 0h0m1 0h0m-10 2h0m12 0h0m1 0h0m1 1h0"/>
<path stroke="#3cc8a0" d="M189 757h0m4 0h0m-4 1h0m-3 1h0m7 0h0m1 0h0m-11 1h0m3 0h0m7 0h0m3 0h0m-9 1h0m7 0h0m-11 1h0m2 0h0m1 0h0m7 0h0m3 0h0m-14 1h0m3 0h0m7 0h0m2 0h0m-11 1h0m11 0h0m3 0h0m-16 1h0m3 0h0m10 0h0m-11 1h0m8 0h0m1 0h0m1 0h0m-12 1h0m4 0h0m1 0h0m7 0h0m-12 1h0m2 0h0m2 0h0m1 0h0m4 0h0m2 0h0m-10 1h0m1 0h0m1 0h0m3 0h0m1 0h0m3 0h0m-2 1h0"/>
<path stroke="#48bce8" d="M191 742h0m5 0h0m0 1h0m-6 1h0m3 0h0m3 0h0m-5 1h0m2 0h0m2 0h0m2 0h0m-6 1h0m1 0h0m3 0h0m2 0h0m2 0h0m-8 1h0m4 0h0m1 0h0m2 0h0m1 0h0m-8 1h0m1 0h0m1 0h0m1 0h0m1 0h0m1 0h0m1 0h0m1 0h0m-9 1h0m2 0h0m2 0h0m5 0h0m-7 1h0m6 0h0m-5 1h0m1 0h0m0 1h0"/>
<path stroke="#3fd84a" d="M193 759h0m-8 1h0m3 0h0m1 0h0m5 0h0m-9 1h0m1 0h0m2 0h0m2 0h0m1 0h0m1 0h0m-8 1h0m1 0h0m2 0h0m1 0h0m1 0h0m1 0h0m2 0h0m1 0h0m-9 1h0m1 0h0m2 0h0m2 0h0m1 0h0m1 0h0m1 0h0m1 0h0m1 0h0m-10 1h0m1 0h0m1 0h0m1 0h0m2 0h0m1 0h0m1 0h0m1 0h0m-10 1h0m2 0h0m2 0h0m1 0h0m1 0h0m2 0h0m2 0h0m-8 1h0m1 0h0m1 0h0m2 0h0m1 0h0m1 0h0m1 0h0m-10 1h0m3 0h0m1 0h0m1 0h0m1 0h0m1 0h0m1 0h0m1 0h0m-6 1h0m2 0h0m1 0h0m1 0h0m3 1h0"/>
<path stroke="#4cc0e0" d="M202 715h0m-2 2h0m3 0h0m-3 1h0m1 0h0m1 0h0m-1 1h0m2 0h0m1 0h0m-5 1h0m4 0h0m2 0h0m1 0h0m1 0h0m1 0h0m-13 1h0m2 0h0m1 0h0m3 0h0m1 0h0m1 0h0m2 0h0m-8 1h0m1 0h0m2 0h0m1 0h0m1 0h0m1 0h0m1 0h0m2 0h0m-9 1h0m2 0h0m1 0h0m1 0h0m1 0h0m2 0h0m2 0h0m-11 1h0m2 0h0m2 0h0m1 0h0m1 0h0m1 0h0m1 0h0m3 0h0m-9 1h0m1 0h0m2 0h0m1 0h0m3 0h0m2 0h0m2 0h0m-14 1h0m2 0h0m1 0h0m2 0h0m1 0h0m1 0h0m1 0h0m1 0h0m1 0h0m1 0h0m1 0h0m1 0h0m-10 1h0m2 0h0m2 0h0m1 0h0m1 0h0m1 0h0m1 0h0m1 0h0m-9 1h0m1 0h0m1 0h0m1 0h0m1 0h0m2 0h0m1 0h0m1 0h0m-10 1h0m5 0h0m1 0h0m1 0h0m1 0h0m1 0h0m1 0h0m-7 1h0m2 0h0m2 0h0m2 0h0m1 0h0m-7 1h0m4 0h0m1 0h0m1 0h0m-2 1h0m2 0h0m-4 1h0m1 0h0m1 0h0m-4 1h0m2 0h0m-2 1h0"/>
</g>
<path d="M145.4 695.4H243V792.3H145.4" fill="none" stroke="#2e3432" stroke-width="1.2"/>
<line x1="145.4" y1="695.4" x2="145.4" y2="792.3" stroke="#9aa8a8" stroke-width="0.9" stroke-dasharray="1 1.5"/>
<line x1="143.4" y1="765.4" x2="145.4" y2="765.4" stroke="#6a7a7a" stroke-width="0.8"/>
<line x1="143.4" y1="738.5" x2="145.4" y2="738.5" stroke="#6a7a7a" stroke-width="0.8"/>
<line x1="143.4" y1="711.5" x2="145.4" y2="711.5" stroke="#6a7a7a" stroke-width="0.8"/>
<line x1="145.4" y1="748.5" x2="243" y2="748.5" stroke="#3c4442" stroke-width="1.1"/>
<line x1="186.9" y1="695.4" x2="186.9" y2="792.3" stroke="#3c4442" stroke-width="1.1"/>
<g font-family="&quot;Liberation Serif&quot;, serif" font-size="12px" fill="#111" stroke="#111" stroke-width="0.25">
<line x1="206.7" y1="772.2" x2="239.0" y2="772.2" stroke="#111" stroke-width="1.3"/>
<line x1="222.2" y1="758.0" x2="222.2" y2="785.2" stroke="#111" stroke-width="1.3"/>
<text x="218.79999999999998" y="768.3" text-anchor="end">8</text>
<text x="227.2" y="768.3">40</text>
<text x="218.79999999999998" y="783.9" text-anchor="end">18</text>
<text x="227.7" y="783.9">34</text>
</g>
<g stroke-width="1.8" stroke-linecap="square" fill="none" transform="translate(0.5 0.5)">
<path stroke="#1b2a4c" d="M347 697h0m4 0h0m22 0h0m-30 2h0m20 0h0m-26 1h0m2 0h0m12 0h0m-16 1h0m5 0h0m10 0h0m-9 1h0m9 0h0m14 0h0m-20 1h0m-9 1h0m8 0h0m14 0h0m1 0h0m2 0h0m-18 1h0m8 0h0m11 0h0m-35 1h0m9 0h0m10 0h0m3 0h0m1 0h0m10 0h0m4 0h0m4 0h0m-35 1h0m2 0h0m4 0h0m12 0h0m3 0h0m-32 1h0m4 0h0m10 0h0m13 0h0m-21 1h0m10 0h0m-27 1h0m2 0h0m11 0h0m7 0h0m3 0h0m8 0h0m-18 1h0m15 0h0m19 0h0m4 0h0m-52 1h0m20 0h0m6 0h0m24 0h0m-41 1h0m4 0h0m-10 1h0m11 0h0m57 0h0m-62 1h0m14 0h0m7 0h0m24 0h0m1 0h0m8 0h0m-52 1h0m1 0h0m4 0h0m8 0h0m36 0h0m-62 1h0m12 0h0m9 0h0m38 0h0m13 0h0m-70 1h0m7 0h0m1 0h0m3 0h0m7 0h0m44 0h0m-59 1h0m6 0h0m4 0h0m12 0h0m32 0h0m-62 1h0m6 0h0m12 0h0m8 0h0m1 0h0m-19 1h0m12 0h0m-2 2h0m2 0h0m1 0h0m1 0h0m2 0h0m2 0h0m5 0h0m26 0h0m8 0h0m-64 1h0m8 0h0m13 0h0m1 0h0m1 0h0m-23 1h0m5 0h0m13 0h0m3 0h0m42 0h0m4 0h0m-49 1h0m3 0h0m2 0h0m6 0h0m1 0h0m4 0h0m37 0h0m-12 1h0m3 0h0m9 0h0m-72 1h0m18 0h0m2 0h0m11 0h0m31 0h0m-56 1h0m10 0h0m4 0h0m-9 1h0m7 0h0m12 0h0m32 0h0m3 0h0m-50 1h0m6 0h0m6 0h0m4 0h0m-18 1h0m2 0h0m1 0h0m4 0h0m3 0h0m9 0h0m6 0h0m28 0h0m-61 1h0m5 0h0m7 0h0m10 0h0m2 0h0m5 0h0m21 0h0m-52 1h0m24 0h0m3 0h0m3 0h0m5 0h0m14 0h0m-43 1h0m6 0h0m14 0h0m12 0h0m2 0h0m7 0h0m5 0h0m-31 1h0m10 0h0m2 0h0m4 0h0m25 0h0m-52 1h0m7 0h0m3 0h0m10 0h0m1 0h0m1 0h0m21 0h0m9 0h0m-46 1h0m17 0h0m2 0h0m9 0h0m1 0h0m3 0h0m-32 1h0m9 0h0m1 0h0m21 0h0m1 0h0m8 0h0m-31 1h0m17 0h0m10 0h0m-31 1h0m16 0h0m8 0h0m-36 1h0m11 0h0m3 0h0m4 0h0m5 0h0m-7 1h0m5 0h0m2 0h0m1 0h0m2 0h0m4 0h0m2 0h0m-25 1h0m14 0h0m5 0h0m4 0h0m1 0h0m4 0h0m-28 1h0m13 0h0m19 0h0m5 0h0m-13 1h0m9 0h0m-18 1h0m2 0h0m4 0h0m-19 1h0m17 0h0m-17 1h0m7 0h0m1 0h0m17 0h0m9 0h0m-27 1h0m4 0h0m4 0h0m2 1h0m-17 1h0m1 0h0m4 0h0m29 0h0m-38 1h0m8 0h0m9 0h0m12 0h0m-24 1h0m2 0h0m2 0h0m2 0h0m-10 1h0m10 0h0m1 0h0m6 0h0m11 0h0m-26 1h0m1 0h0m2 0h0m3 0h0m2 0h0m4 0h0m8 0h0m2 0h0m-17 1h0m1 0h0m1 0h0m2 0h0m1 0h0m2 0h0m1 0h0m12 0h0m-31 1h0m2 0h0m2 0h0m1 0h0m1 0h0m4 0h0m5 0h0m1 0h0m13 0h0m16 0h0m-40 1h0m2 0h0m2 0h0m2 0h0m-1 1h0m3 0h0m13 0h0m-24 1h0m3 0h0m7 0h0m1 0h0m-13 1h0m12 0h0m13 0h0m-12 1h0m6 0h0m-20 1h0m2 0h0m9 0h0m1 0h0m6 0h0m-18 1h0m1 0h0m10 0h0m-14 1h0m1 0h0m1 0h0m12 0h0m1 0h0m1 0h0m3 0h0m2 0h0m2 0h0m10 0h0m-34 1h0m1 0h0m3 0h0m10 0h0m1 0h0m1 0h0m3 0h0m-6 1h0m-10 1h0m7 0h0m7 0h0m-18 1h0m11 0h0m12 0h0m-24 1h0m10 0h0m1 0h0m3 0h0m2 0h0m1 0h0m21 0h0m-36 1h0m2 0h0m1 0h0m4 0h0m5 0h0m-12 1h0m8 0h0m11 0h0m-21 1h0m3 0h0m3 0h0m2 0h0m4 0h0m-14 1h0m4 0h0m1 0h0m2 1h0m3 0h0m-9 2h0m3 0h0m-3 2h0m2 0h0m-9 1h0m3 3h0m0 1h0"/>
<path stroke="#2458a8" d="M350 701h0m-9 1h0m24 0h0m-15 1h0m-10 2h0m3 0h0m2 0h0m5 0h0m4 0h0m4 0h0m4 0h0m-24 2h0m6 0h0m5 0h0m13 0h0m-26 1h0m13 0h0m1 0h0m2 0h0m-7 1h0m2 0h0m6 0h0m-10 1h0m6 0h0m3 0h0m10 0h0m-8 1h0m2 0h0m9 0h0m-32 1h0m4 0h0m2 0h0m2 0h0m1 0h0m16 0h0m5 0h0m-26 1h0m3 0h0m6 0h0m11 0h0m10 0h0m-34 1h0m5 0h0m2 0h0m1 0h0m19 0h0m4 0h0m1 0h0m-26 1h0m21 0h0m2 0h0m2 0h0m9 0h0m-43 1h0m5 0h0m1 0h0m2 0h0m29 0h0m-4 1h0m3 0h0m-29 1h0m0 1h0m1 0h0m29 0h0m-33 1h0m1 0h0m32 0h0m1 0h0m-35 1h0m-1 1h0m3 0h0m4 0h0m2 0h0m-5 1h0m2 0h0m1 0h0m24 0h0m4 0h0m1 0h0m-37 1h0m2 0h0m28 0h0m2 0h0m-29 1h0m27 0h0m-22 1h0m24 0h0m3 0h0m1 0h0m-35 1h0m28 0h0m1 0h0m-24 1h0m23 0h0m1 0h0m-24 1h0m2 0h0m1 0h0m19 0h0m5 0h0m-29 1h0m21 0h0m2 0h0m2 0h0m-29 1h0m10 0h0m1 0h0m2 0h0m2 0h0m9 0h0m5 0h0m6 0h0m-32 1h0m5 0h0m5 0h0m8 0h0m5 0h0m1 0h0m9 0h0m-27 1h0m2 0h0m6 0h0m4 0h0m7 0h0m-22 1h0m1 0h0m1 0h0m7 0h0m9 0h0m-17 1h0m3 0h0m14 0h0m2 0h0m4 0h0m-21 1h0m10 0h0m3 0h0m2 0h0m1 0h0m-17 1h0m1 0h0m2 0h0m2 0h0m13 0h0m-9 1h0m3 0h0m1 0h0m-5 1h0m5 0h0m5 1h0m5 1h0m-7 1h0"/>
<path stroke="#3a92dc" d="M331 756h0m-5 2h0m1 0h0m-2 1h0m1 0h0m3 0h0m-4 1h0m1 0h0m1 0h0m-5 1h0m4 0h0m1 0h0m-5 1h0m4 0h0m-5 1h0m6 0h0m-7 1h0m1 0h0m-2 1h0m7 1h0m-9 1h0m7 0h0m-3 1h0m1 0h0m-6 1h0m4 0h0m1 0h0m-4 1h0m1 0h0m1 0h0m-3 1h0m-6 5h0"/>
<path stroke="#2f7fd0" d="M324 757h0m4 1h0m-7 1h0m1 0h0m1 0h0m1 0h0m1 0h0m1 0h0m1 0h0m-5 1h0m5 0h0m2 0h0m-8 1h0m6 0h0m-7 1h0m2 0h0m4 0h0m1 0h0m-8 1h0m7 0h0m0 1h0m2 0h0m-1 1h0m-2 1h0m-10 2h0m1 0h0m8 0h0m3 0h0m-11 1h0m6 0h0m-6 1h0m6 0h0m-8 1h0m7 0h0m-6 1h0m1 0h0m2 0h0m4 0h0m-10 1h0m3 2h0"/>
<path stroke="#3a8ad8" d="M349 701h0m-8 6h0m4 0h0m1 0h0m2 0h0m-7 1h0m11 0h0m7 0h0m-12 1h0m3 1h0m1 0h0m-10 1h0m5 0h0m4 0h0m1 0h0m1 0h0m3 0h0m-18 1h0m2 0h0m1 0h0m4 0h0m3 0h0m3 0h0m8 0h0m3 0h0m-17 1h0m2 0h0m2 0h0m2 0h0m1 0h0m1 0h0m1 0h0m1 0h0m1 0h0m1 0h0m2 0h0m4 0h0m-18 1h0m2 0h0m1 0h0m5 0h0m4 0h0m3 0h0m5 0h0m-21 1h0m1 0h0m1 0h0m1 0h0m1 0h0m6 0h0m1 0h0m7 0h0m-20 1h0m3 0h0m1 0h0m2 0h0m4 0h0m2 0h0m1 0h0m3 0h0m1 0h0m10 0h0m-28 1h0m14 0h0m2 0h0m6 0h0m-24 1h0m5 0h0m13 0h0m2 0h0m4 0h0m-31 1h0m8 0h0m1 0h0m1 0h0m12 0h0m5 0h0m3 0h0m-23 1h0m2 0h0m16 0h0m2 0h0m2 0h0m1 0h0m-18 1h0m14 0h0m5 0h0m4 0h0m-31 1h0m3 0h0m2 0h0m1 0h0m1 0h0m14 0h0m1 0h0m1 0h0m2 0h0m-22 1h0m3 0h0m3 0h0m1 0h0m11 0h0m3 0h0m2 0h0m-25 1h0m7 0h0m13 0h0m1 0h0m2 0h0m1 0h0m-21 1h0m1 0h0m5 0h0m10 0h0m1 0h0m5 0h0m-27 1h0m3 0h0m2 0h0m2 0h0m2 0h0m1 0h0m1 0h0m7 0h0m3 0h0m-19 1h0m4 0h0m3 0h0m3 0h0m7 0h0m1 0h0m1 0h0m1 0h0m3 0h0m-21 1h0m3 0h0m1 0h0m3 0h0m3 0h0m6 0h0m3 0h0m-16 1h0m1 0h0m2 0h0m1 0h0m4 0h0m3 0h0m-12 1h0m4 0h0m1 0h0m3 0h0m1 0h0m3 0h0m2 0h0m-12 1h0m2 0h0m2 0h0m3 0h0m1 0h0m1 0h0m2 0h0m-13 1h0m2 0h0m9 0h0m2 0h0m10 0h0m-23 1h0m10 0h0m1 0h0m1 0h0m1 0h0m-11 1h0m2 0h0m4 0h0m2 0h0m2 2h0m2 0h0"/>
<path stroke="#2866b8" d="M314 720h0m2 0h0m3 0h0m2 0h0m-8 1h0m3 0h0m2 0h0m-4 1h0m6 0h0m4 0h0m-12 1h0m5 0h0m-2 1h0m3 0h0m-6 1h0m5 0h0m1 0h0m-4 1h0m3 0h0m3 0h0m-4 1h0m8 0h0m-12 1h0m3 0h0m1 0h0m0 1h0m3 0h0m1 0h0m-1 1h0m-1 1h0m3 0h0m13 7h0m3 2h0m-3 1h0m-1 1h0m1 0h0m2 0h0m-4 1h0m2 2h0m-3 8h0m9 3h0m-12 1h0m8 0h0m5 0h0m1 0h0m-12 1h0m4 0h0m4 0h0m-13 1h0m8 0h0m-12 1h0m3 0h0m1 0h0m2 0h0m3 1h0m1 0h0m6 0h0m1 0h0m-12 1h0m2 0h0m10 0h0m-19 1h0m8 0h0m13 0h0m-4 1h0m-21 2h0m4 0h0m-3 1h0m1 0h0m-1 1h0m-1 1h0m0 1h0m7 0h0m1 0h0m-7 1h0m2 0h0m-6 1h0m2 2h0m3 0h0m1 0h0m-5 1h0m3 1h0m-4 1h0"/>
<path stroke="#48bce8" d="M325 761h0m1 0h0m-1 1h0m2 0h0m-4 1h0m1 0h0m1 0h0m-2 1h0m1 0h0m1 0h0m-4 1h0m2 0h0m-3 1h0m2 0h0m-1 1h0m1 0h0m1 0h0m-4 1h0m1 0h0m1 0h0m1 0h0m-4 1h0m2 0h0m-3 1h0"/>
<path stroke="#4cc0e0" d="M351 714h0m-5 1h0m5 0h0m-4 1h0m1 0h0m1 0h0m1 0h0m1 0h0m-6 1h0m3 0h0m3 0h0m2 0h0m3 0h0m-11 1h0m2 0h0m1 0h0m1 0h0m1 0h0m1 0h0m1 0h0m1 0h0m1 0h0m-8 1h0m1 0h0m2 0h0m1 0h0m2 0h0m-9 1h0m2 0h0m1 0h0m1 0h0m1 0h0m2 0h0m1 0h0m1 0h0m2 0h0m1 0h0m1 0h0m1 0h0m-13 1h0m1 0h0m2 0h0m1 0h0m2 0h0m1 0h0m1 0h0m1 0h0m3 0h0m-9 1h0m1 0h0m3 0h0m3 0h0m1 0h0m-11 1h0m2 0h0m1 0h0m4 0h0m2 0h0m2 0h0m1 0h0m-12 1h0m2 0h0m2 0h0m3 0h0m2 0h0m1 0h0m1 0h0m-12 1h0m2 0h0m1 0h0m2 0h0m2 0h0m3 0h0m-11 1h0m3 0h0m2 0h0m1 0h0m2 0h0m1 0h0m2 0h0m-7 1h0m3 0h0m1 0h0m2 0h0m1 0h0m4 0h0m-8 1h0m-3 1h0m-23 33h0m1 0h0m1 0h0m-3 1h0m1 0h0m1 0h0m3 0h0m-5 1h0m3 0h0m-1 1h0m-5 1h0m1 0h0m1 0h0m3 0h0m-3 1h0m1 0h0m1 0h0m-6 1h0m3 0h0m0 2h0"/>
</g>
<path d="M294.2 695.4H393.5V793.5H294.2" fill="none" stroke="#2e3432" stroke-width="1.2"/>
<line x1="294.2" y1="695.4" x2="294.2" y2="793.5" stroke="#9aa8a8" stroke-width="0.9" stroke-dasharray="1 1.5"/>
<line x1="292.2" y1="766.2" x2="294.2" y2="766.2" stroke="#6a7a7a" stroke-width="0.8"/>
<line x1="292.2" y1="739.0" x2="294.2" y2="739.0" stroke="#6a7a7a" stroke-width="0.8"/>
<line x1="292.2" y1="711.8" x2="294.2" y2="711.8" stroke="#6a7a7a" stroke-width="0.8"/>
<line x1="294.2" y1="749.6" x2="393.5" y2="749.6" stroke="#a8c4d0" stroke-width="1.1"/>
<line x1="336.2" y1="695.4" x2="336.2" y2="793.5" stroke="#a8c4d0" stroke-width="1.1"/>
<g font-family="&quot;Liberation Serif&quot;, serif" font-size="12px" fill="#111" stroke="#111" stroke-width="0.25">
<line x1="358.3" y1="772.7" x2="390.6" y2="772.7" stroke="#111" stroke-width="1.3"/>
<line x1="373.8" y1="758.5" x2="373.8" y2="785.7" stroke="#111" stroke-width="1.3"/>
<text x="370.40000000000003" y="768.8" text-anchor="end">18</text>
<text x="378.8" y="768.8">49</text>
<text x="370.40000000000003" y="784.4" text-anchor="end">27</text>
<text x="379.3" y="784.4">6</text>
</g>
<g stroke-width="1.8" stroke-linecap="square" fill="none" transform="translate(0.5 0.5)">
<path stroke="#3ea6e2" d="M447 750h0m1 0h0m1 1h0m-5 1h0m1 0h0m0 1h0m-3 1h0m1 0h0m1 0h0m3 1h0m-6 1h0m1 0h0m2 0h0m-6 1h0m2 0h0m-3 2h0m-1 1h0m1 0h0m5 2h0m-10 1h0m9 0h0m-11 3h0m10 0h0m-4 1h0m-2 1h0m-9 2h0m9 0h0m-3 1h0m-6 2h0m-4 1h0m4 0h0m-1 3h0m-2 2h0"/>
<path stroke="#1b2a4c" d="M462 698h0m-8 1h0m8 0h0m-1 1h0m11 0h0m0 2h0m1 0h0m-14 1h0m10 0h0m-14 1h0m4 0h0m6 0h0m9 0h0m-30 1h0m4 0h0m8 0h0m11 0h0m-10 1h0m2 0h0m2 0h0m9 0h0m3 0h0m-21 1h0m2 0h0m7 0h0m5 0h0m-19 1h0m9 0h0m13 0h0m1 0h0m-42 1h0m35 0h0m2 0h0m-12 1h0m16 0h0m-29 1h0m12 0h0m14 0h0m4 0h0m-27 1h0m9 0h0m17 0h0m6 0h0m-39 1h0m3 0h0m3 0h0m8 0h0m5 0h0m15 0h0m-46 1h0m12 0h0m6 0h0m26 0h0m-35 1h0m37 0h0m3 0h0m1 0h0m-39 1h0m7 0h0m9 0h0m16 0h0m6 0h0m3 0h0m-40 1h0m4 0h0m1 0h0m-10 1h0m7 0h0m1 0h0m3 0h0m4 0h0m1 0h0m1 0h0m4 0h0m17 0h0m-37 1h0m2 0h0m9 0h0m2 0h0m2 0h0m-14 1h0m2 0h0m34 0h0m2 0h0m2 0h0m-29 1h0m43 0h0m-55 1h0m10 0h0m6 0h0m25 0h0m-39 1h0m6 0h0m3 0h0m4 0h0m28 0h0m-34 1h0m1 0h0m1 0h0m36 0h0m-36 1h0m4 0h0m27 0h0m-46 1h0m13 0h0m6 0h0m2 0h0m-23 1h0m17 0h0m1 0h0m6 0h0m20 0h0m3 0h0m4 0h0m-45 1h0m10 0h0m4 0h0m1 0h0m24 0h0m-31 1h0m3 0h0m4 0h0m1 0h0m1 0h0m19 0h0m2 0h0m-37 1h0m9 0h0m3 0h0m27 0h0m3 0h0m-23 1h0m21 0h0m5 0h0m-46 1h0m6 0h0m5 0h0m7 0h0m19 0h0m2 0h0m5 0h0m-46 1h0m10 0h0m3 0h0m5 0h0m23 0h0m-30 1h0m7 0h0m2 0h0m16 0h0m-37 1h0m13 0h0m9 0h0m9 0h0m-19 1h0m25 0h0m1 0h0m-30 1h0m1 0h0m5 0h0m9 0h0m14 0h0m3 0h0m5 0h0m-38 1h0m14 0h0m6 0h0m10 0h0m-31 1h0m2 0h0m1 0h0m13 0h0m9 0h0m2 0h0m1 0h0m8 0h0m-25 1h0m3 0h0m2 0h0m1 0h0m1 0h0m-20 1h0m6 0h0m2 0h0m10 0h0m3 0h0m7 0h0m2 0h0m2 0h0m6 0h0m-41 1h0m19 0h0m3 0h0m1 0h0m1 0h0m7 0h0m4 0h0m-29 1h0m2 0h0m1 0h0m2 0h0m7 0h0m4 0h0m9 0h0m3 0h0m-13 1h0m1 0h0m20 0h0m-29 1h0m13 0h0m16 0h0m-13 1h0m8 0h0m1 0h0m-16 1h0m9 0h0m-21 1h0m5 0h0m1 0h0m18 2h0m-15 1h0m7 0h0m-20 1h0m7 0h0m10 1h0m5 0h0m3 0h0m-18 1h0m5 0h0m7 0h0m4 0h0m-17 1h0m1 0h0m10 0h0m-21 1h0m4 0h0m2 0h0m12 0h0m-18 1h0m7 0h0m8 0h0m-13 1h0m1 0h0m3 0h0m10 0h0m2 0h0m-14 1h0m-7 1h0m14 0h0m0 1h0m3 0h0m-14 1h0m11 0h0m3 2h0m-18 1h0m14 0h0m1 0h0m-22 1h0m5 1h0m3 0h0m-2 1h0m1 0h0m11 0h0m-15 1h0m1 0h0m14 0h0m-15 1h0m5 0h0m10 0h0m-19 1h0m21 0h0m-15 3h0m1 0h0m9 0h0m1 0h0m-12 1h0m2 0h0m-6 1h0m7 0h0m2 0h0m-9 1h0m4 0h0m7 0h0m0 1h0m-5 1h0m-9 1h0m10 2h0m-12 1h0m4 9h0"/>
<path stroke="#3cc0b0" d="M445 754h0m1 0h0m-3 1h0m1 0h0m-1 1h0m-2 1h0m2 0h0m-4 1h0m-2 1h0m3 0h0m1 0h0m1 0h0m-7 1h0m1 0h0m6 0h0m-5 1h0m3 0h0m1 1h0m-2 1h0m1 0h0m-9 2h0m1 1h0m5 0h0m-7 1h0m1 0h0m3 0h0m-5 1h0m-1 1h0m4 0h0m1 0h0m1 0h0m-8 1h0m2 0h0m2 0h0m1 0h0m1 0h0m-6 1h0m2 0h0m4 0h0m-6 1h0m1 0h0m1 0h0m1 0h0m1 0h0m-6 2h0m3 0h0"/>
<path stroke="#2458a8" d="M461 702h0m5 1h0m-8 1h0m6 0h0m3 1h0m-8 1h0m2 1h0m2 0h0m-5 1h0m1 0h0m6 0h0m1 0h0m-12 1h0m7 0h0m1 0h0m1 0h0m2 0h0m1 0h0m-14 1h0m5 0h0m1 0h0m2 0h0m3 0h0m4 0h0m-13 1h0m1 0h0m2 0h0m3 0h0m1 0h0m1 0h0m1 0h0m-13 2h0m20 0h0m-19 1h0m3 0h0m14 0h0m-16 1h0m1 0h0m12 0h0m6 0h0m-25 1h0m4 0h0m1 0h0m2 0h0m1 0h0m14 0h0m2 0h0m-3 1h0m1 0h0m-15 1h0m1 0h0m14 0h0m-17 1h0m17 0h0m-18 1h0m1 0h0m1 0h0m2 0h0m13 0h0m-1 2h0m2 0h0m5 0h0m-5 1h0m3 0h0m-21 1h0m20 1h0m-23 1h0m6 0h0m14 0h0m2 0h0m-20 1h0m3 0h0m12 0h0m5 0h0m-18 1h0m2 0h0m-4 1h0m2 0h0m1 0h0m12 0h0m2 0h0m1 0h0m-18 1h0m2 0h0m1 0h0m4 0h0m12 0h0m-18 1h0m14 0h0m5 0h0m-20 1h0m3 0h0m12 0h0m1 0h0m-13 1h0m13 0h0m1 0h0m7 0h0m-14 1h0m4 0h0m2 0h0m4 0h0m-20 1h0m2 0h0m8 0h0m1 0h0m4 0h0m3 0h0m-16 1h0m1 0h0m2 0h0m6 0h0m2 0h0m-3 1h0m-9 1h0m3 0h0m1 0h0m3 0h0m13 0h0m-20 1h0m3 0h0m3 0h0m1 0h0m3 0h0m1 1h0m1 0h0m4 0h0m-16 1h0m9 0h0"/>
<path stroke="#2f7fd0" d="M441 754h0m-1 1h0m-1 1h0m2 0h0m2 2h0m-9 1h0m2 0h0m1 0h0m-3 1h0m1 0h0m1 0h0m5 0h0m1 0h0m1 0h0m-10 1h0m2 0h0m-2 1h0m1 0h0m1 0h0m-4 1h0m1 0h0m7 0h0m-7 1h0m-6 2h0m3 0h0m1 0h0m6 1h0m2 0h0m-9 1h0m1 0h0m2 2h0m1 0h0m1 0h0"/>
<path stroke="#3a8ad8" d="M461 706h0m-3 2h0m7 1h0m1 0h0m-6 2h0m2 0h0m-4 1h0m1 0h0m1 0h0m1 0h0m1 1h0m-4 1h0m3 0h0m2 0h0m3 0h0m-11 1h0m2 0h0m2 0h0m1 0h0m2 0h0m2 0h0m1 0h0m-8 1h0m1 0h0m1 0h0m2 0h0m3 0h0m2 0h0m2 0h0m3 0h0m-17 1h0m7 0h0m2 0h0m-8 1h0m2 0h0m4 0h0m2 0h0m3 0h0m-12 1h0m2 0h0m5 0h0m2 0h0m1 0h0m1 0h0m1 0h0m1 0h0m-10 1h0m7 0h0m2 0h0m-13 1h0m2 0h0m11 0h0m-11 1h0m10 0h0m1 0h0m1 0h0m2 0h0m-18 1h0m2 0h0m12 0h0m1 0h0m1 0h0m-14 1h0m1 0h0m12 0h0m-14 1h0m1 0h0m1 0h0m10 0h0m1 0h0m1 0h0m1 0h0m-15 1h0m1 0h0m1 0h0m1 0h0m11 0h0m1 0h0m2 0h0m-18 1h0m3 0h0m1 0h0m2 0h0m8 0h0m1 0h0m-13 1h0m1 0h0m8 0h0m1 0h0m2 0h0m1 0h0m3 0h0m-9 1h0m4 0h0m2 0h0m1 0h0m-15 1h0m1 0h0m2 0h0m2 0h0m-4 1h0m1 0h0m1 0h0m1 0h0m1 0h0m1 0h0m1 0h0m1 0h0m2 0h0m4 0h0m-16 1h0m4 0h0m1 0h0m1 0h0m1 0h0m3 0h0m1 0h0m1 0h0m2 0h0m2 0h0m1 0h0m-15 1h0m4 0h0m3 0h0m1 0h0m2 0h0m-7 1h0m1 0h0m1 0h0m4 0h0m2 0h0m1 0h0m-10 1h0m2 0h0m2 0h0m2 0h0m1 0h0m-8 1h0m1 0h0m1 0h0m8 1h0m2 1h0"/>
<path stroke="#3fd34a" d="M444 755h0m-4 2h0m2 0h0m-2 1h0m2 0h0m1 0h0m-4 1h0m1 0h0m1 0h0m-3 1h0m1 0h0m2 0h0m-4 1h0m1 0h0m1 0h0m1 0h0m-4 1h0m1 0h0m1 0h0m1 0h0m1 0h0m-5 1h0m1 0h0m1 0h0m1 0h0m1 0h0m-4 1h0m1 0h0m2 0h0m-6 1h0m1 0h0m1 0h0m1 0h0m1 0h0m-3 1h0m1 0h0m2 0h0m-5 1h0m1 0h0m1 0h0m1 0h0m-3 1h0m1 0h0m2 0h0m-5 1h0m2 0h0m1 0h0m-1 1h0m1 0h0m-4 1h0m1 0h0"/>
<path stroke="#2866b8" d="M436 720h0m1 3h0m2 0h0m-6 1h0m6 0h0m-5 1h0m1 0h0m1 0h0m2 0h0m1 0h0m-5 1h0m4 1h0m2 0h0m-5 2h0m1 0h0m0 1h0m2 0h0m-3 1h0m-1 1h0m1 0h0m-1 1h0m2 0h0m1 0h0m0 3h0"/>
<path stroke="#4cc0e0" d="M461 714h0m-2 3h0m-2 1h0m1 0h0m3 1h0m2 0h0m-5 1h0m1 0h0m1 0h0m1 0h0m2 0h0m1 0h0m-11 1h0m1 0h0m3 0h0m1 0h0m1 0h0m3 0h0m-6 1h0m3 0h0m1 0h0m1 0h0m2 0h0m-7 1h0m1 0h0m1 0h0m1 0h0m1 0h0m1 0h0m1 0h0m1 0h0m-6 1h0m1 0h0m1 0h0m1 0h0m1 0h0m-5 1h0m1 0h0m1 0h0m1 0h0m1 0h0m1 0h0m1 0h0m2 0h0m-7 1h0m2 0h0m1 0h0m1 0h0m1 0h0m1 0h0m2 0h0m-7 1h0m2 0h0m1 0h0m1 0h0m1 0h0m1 0h0m-6 1h0m1 0h0m1 0h0m1 0h0m2 0h0m-7 1h0m2 0h0m2 0h0m2 0h0m-5 1h0m1 0h0m-18 30h0m-3 1h0m-1 1h0m2 0h0m1 0h0m-6 1h0m1 0h0m3 0h0m-4 1h0m1 0h0m4 0h0m-3 1h0m2 0h0m-4 1h0m1 0h0m2 0h0m-5 1h0m5 0h0m-3 1h0m0 2h0m-4 1h0m4 0h0"/>
</g>
<path d="M405.1 696.1H504.3V793.9H405.1" fill="none" stroke="#2e3432" stroke-width="1.2"/>
<line x1="405.1" y1="696.1" x2="405.1" y2="793.9" stroke="#9aa8a8" stroke-width="0.9" stroke-dasharray="1 1.5"/>
<line x1="403.1" y1="766.7" x2="405.1" y2="766.7" stroke="#6a7a7a" stroke-width="0.8"/>
<line x1="403.1" y1="739.6" x2="405.1" y2="739.6" stroke="#6a7a7a" stroke-width="0.8"/>
<line x1="403.1" y1="712.4" x2="405.1" y2="712.4" stroke="#6a7a7a" stroke-width="0.8"/>
<line x1="405.1" y1="751.5" x2="504.3" y2="751.5" stroke="#3c4442" stroke-width="1.1"/>
<line x1="447.3" y1="696.1" x2="447.3" y2="793.9" stroke="#3c4442" stroke-width="1.1"/>
<g font-family="&quot;Liberation Serif&quot;, serif" font-size="12px" fill="#111" stroke="#111" stroke-width="0.25">
<line x1="461.8" y1="773.4" x2="494.1" y2="773.4" stroke="#111" stroke-width="1.3"/>
<line x1="477.3" y1="759.1999999999999" x2="477.3" y2="786.4" stroke="#111" stroke-width="1.3"/>
<text x="473.90000000000003" y="769.5" text-anchor="end">11</text>
<text x="482.3" y="769.5">39</text>
<text x="473.90000000000003" y="785.1" text-anchor="end">39</text>
<text x="482.8" y="785.1">11</text>
</g>
<g stroke-width="1.8" stroke-linecap="square" fill="none" transform="translate(0.5 0.5)">
<path stroke="#1b2a4c" d="M93 815h0m11 1h0m-7 2h0m3 0h0m2 0h0m-15 1h0m18 0h0m-9 1h0m2 0h0m20 1h0m-42 1h0m3 0h0m-6 1h0m14 0h0m11 0h0m-2 1h0m7 0h0m-13 1h0m2 0h0m3 0h0m-4 1h0m-20 1h0m-8 1h0m12 0h0m12 0h0m14 0h0m7 0h0m2 0h0m1 0h0m-39 1h0m38 1h0m-4 2h0m1 0h0m8 0h0m-54 1h0m13 0h0m7 0h0m3 0h0m26 0h0m-7 1h0m5 0h0m-39 1h0m14 0h0m25 0h0m-48 2h0m21 0h0m26 0h0m-68 1h0m42 0h0m24 0h0m-55 1h0m6 0h0m2 0h0m16 0h0m-10 1h0m8 0h0m1 0h0m1 0h0m31 0h0m1 0h0m15 0h0m-63 1h0m3 0h0m44 0h0m2 0h0m-41 1h0m9 0h0m1 0h0m31 0h0m-52 1h0m7 0h0m3 0h0m36 0h0m5 0h0m6 0h0m5 0h0m-75 1h0m25 0h0m11 0h0m-20 1h0m5 0h0m9 0h0m29 0h0m4 0h0m-52 1h0m9 0h0m1 0h0m13 0h0m37 0h0m-48 1h0m52 0h0m-65 1h0m4 0h0m1 0h0m10 0h0m4 0h0m3 0h0m3 0h0m-29 1h0m1 0h0m13 0h0m4 0h0m10 0h0m2 0h0m30 0h0m-61 1h0m16 0h0m6 0h0m4 0h0m25 0h0m4 0h0m10 0h0m-66 1h0m4 0h0m17 0h0m21 0h0m15 0h0m-54 1h0m12 0h0m29 0h0m14 0h0m-33 1h0m7 0h0m29 0h0m-60 1h0m14 0h0m5 0h0m31 0h0m9 0h0m-59 1h0m17 0h0m1 0h0m27 0h0m5 0h0m-57 1h0m29 0h0m8 0h0m1 0h0m1 0h0m7 0h0m-49 1h0m4 0h0m22 0h0m1 0h0m1 0h0m6 0h0m11 0h0m7 0h0m2 0h0m2 0h0m9 0h0m-20 1h0m10 0h0m3 0h0m6 0h0m-33 1h0m3 0h0m1 0h0m4 0h0m3 0h0m2 0h0m6 0h0m8 0h0m4 0h0m5 0h0m-32 1h0m2 0h0m4 0h0m3 0h0m10 0h0m1 0h0m-28 1h0m3 0h0m10 0h0m2 0h0m1 0h0m9 0h0m4 0h0m-50 1h0m22 0h0m1 0h0m2 0h0m4 0h0m2 0h0m1 0h0m15 0h0m4 0h0m1 0h0m2 0h0m12 0h0m-53 1h0m13 0h0m1 0h0m1 0h0m1 0h0m3 0h0m3 0h0m2 0h0m3 0h0m8 0h0m2 0h0m1 0h0m1 0h0m-32 1h0m1 0h0m1 0h0m4 0h0m1 0h0m13 0h0m9 0h0m2 0h0m2 0h0m4 0h0m1 0h0m-50 1h0m12 0h0m12 0h0m2 0h0m12 0h0m3 0h0m3 0h0m1 0h0m5 0h0m1 0h0m-38 1h0m2 0h0m3 0h0m13 0h0m7 0h0m1 0h0m1 0h0m1 0h0m1 0h0m3 0h0m-28 1h0m10 0h0m10 0h0m1 0h0m2 0h0m2 0h0m1 0h0m1 0h0m9 0h0m-52 1h0m34 0h0m4 0h0m2 0h0m1 0h0m11 0h0m-47 1h0m5 0h0m2 0h0m2 0h0m8 0h0m15 0h0m4 0h0m7 0h0m-35 1h0m1 0h0m1 0h0m24 0h0m6 0h0m1 0h0m-46 1h0m8 0h0m3 0h0m29 0h0m5 0h0m6 0h0m1 0h0m-49 1h0m7 0h0m4 0h0m4 0h0m3 0h0m17 0h0m2 0h0m1 0h0m-45 1h0m21 0h0m17 0h0m6 0h0m7 0h0m1 0h0m-34 1h0m23 0h0m8 0h0m-47 1h0m9 0h0m8 0h0m23 0h0m2 0h0m6 0h0m-58 1h0m17 0h0m10 0h0m28 0h0m-30 1h0m22 0h0m-24 1h0m3 0h0m4 0h0m15 0h0m8 0h0m-37 1h0m8 0h0m26 0h0m7 0h0m-53 1h0m19 0h0m3 0h0m2 0h0m1 0h0m1 0h0m14 0h0m2 0h0m5 0h0m6 0h0m-48 1h0m10 0h0m3 0h0m2 0h0m1 0h0m4 0h0m4 0h0m5 0h0m2 0h0m9 0h0m6 0h0m-54 1h0m30 0h0m15 0h0m-23 1h0m7 0h0m5 0h0m5 0h0m3 0h0m4 0h0m-28 1h0m3 0h0m12 0h0m2 0h0m10 0h0m7 0h0m3 0h0m-57 1h0m21 0h0m8 0h0m1 0h0m5 0h0m2 0h0m5 0h0m3 0h0m1 0h0m2 0h0m3 0h0m8 0h0m-35 1h0m9 0h0m2 0h0m1 0h0m8 0h0m1 0h0m2 0h0m2 0h0m2 0h0m7 0h0m-46 1h0m16 0h0m4 0h0m7 0h0m-20 2h0m15 0h0m12 0h0m5 0h0m11 0h0m-33 1h0m19 0h0m4 1h0m-23 3h0m-21 1h0"/>
<path stroke="#2458a8" d="M90 822h0m-2 2h0m8 0h0m-4 1h0m2 0h0m3 0h0m-9 1h0m2 1h0m10 0h0m2 0h0m1 0h0m-13 1h0m-1 1h0m1 0h0m3 0h0m7 0h0m-8 1h0m6 0h0m-18 1h0m1 0h0m1 0h0m6 0h0m3 0h0m4 0h0m-11 1h0m8 0h0m12 0h0m-21 1h0m8 0h0m7 0h0m1 0h0m3 0h0m-20 1h0m1 0h0m6 0h0m7 0h0m3 0h0m1 0h0m0 1h0m-23 1h0m21 0h0m2 0h0m3 0h0m-23 1h0m21 0h0m-26 1h0m3 0h0m19 1h0m4 0h0m-2 1h0m3 0h0m-26 1h0m3 0h0m22 0h0m-24 1h0m4 0h0m1 0h0m-5 1h0m26 0h0m2 0h0m-32 1h0m4 0h0m3 0h0m2 0h0m14 0h0m5 0h0m1 0h0m-31 1h0m4 0h0m23 0h0m1 0h0m-23 1h0m3 0h0m20 0h0m1 0h0m-1 1h0m-26 1h0m26 0h0m1 0h0m-26 1h0m5 0h0m-4 1h0m5 0h0m22 0h0m-26 1h0m4 0h0m17 0h0m1 0h0m-19 1h0m17 0h0m-21 1h0m3 0h0m2 0h0m15 0h0m1 0h0m2 0h0m3 0h0m6 0h0m-29 1h0m1 0h0m3 0h0m1 0h0m19 0h0m-23 1h0m10 1h0m12 0h0m-18 1h0m2 0h0m7 0h0m-15 1h0m3 0h0m4 0h0m7 0h0m-11 1h0m2 0h0m6 0h0m9 0h0m-13 1h0m1 0h0m9 0h0m-8 3h0m9 0h0m-2 2h0m-11 2h0"/>
<path stroke="#2866b8" d="M55 848h0m2 1h0m5 0h0m-11 2h0m1 1h0m7 1h0m-4 2h0m6 0h0m-4 2h0m3 0h0m-7 1h0m4 1h0m7 0h0m12 0h0m-23 2h0m5 0h0m20 0h0m1 0h0m1 0h0m2 0h0m4 0h0m4 0h0m-42 1h0m4 0h0m3 0h0m2 0h0m24 0h0m2 0h0m1 0h0m-32 1h0m5 0h0m15 0h0m2 0h0m1 0h0m1 0h0m3 0h0m2 0h0m4 0h0m2 0h0m2 0h0m-33 1h0m3 0h0m1 0h0m4 0h0m4 0h0m5 0h0m9 0h0m1 0h0m2 0h0m1 0h0m5 0h0m-37 1h0m2 0h0m3 0h0m3 0h0m7 0h0m7 0h0m12 0h0m3 0h0m2 0h0m-16 1h0m1 0h0m1 0h0m-28 1h0m14 0h0m2 0h0m4 0h0m18 0h0m1 0h0m3 0h0m-17 1h0m13 0h0m1 0h0m-37 1h0m1 0h0m33 0h0m2 0h0m-21 2h0m4 0h0m18 0h0m5 0h0m3 0h0m-32 1h0m2 0h0m20 0h0m-25 1h0m6 0h0m20 0h0m1 0h0m4 0h0m-30 1h0m3 0h0m20 0h0m-22 1h0m4 0h0m18 0h0m2 0h0m1 0h0m-26 1h0m7 0h0m19 0h0m-19 1h0m18 0h0m3 0h0m-21 1h0m3 0h0m12 0h0m1 0h0m-18 1h0m2 0h0m5 0h0m5 0h0m7 0h0m2 0h0m1 0h0m-20 1h0m1 0h0m1 0h0m3 0h0m-7 1h0m14 0h0m2 0h0m-16 1h0m7 0h0m5 0h0m1 0h0m-6 1h0m2 0h0m1 0h0m3 0h0m6 0h0m-16 1h0m1 0h0m-1 1h0m1 0h0m6 0h0m2 0h0m8 0h0"/>
<path stroke="#3cb0e8" d="M78 862h0m-7 1h0m2 0h0m4 0h0m4 0h0m2 0h0m7 0h0m-15 1h0m3 0h0m2 0h0m2 0h0m1 0h0m1 0h0m-9 1h0m4 0h0m2 0h0m1 0h0m-7 1h0m1 0h0m4 0h0m4 0h0m1 0h0m1 0h0m-18 1h0m3 0h0m4 0h0m1 0h0m3 0h0m5 0h0m4 0h0m-13 1h0m3 0h0m3 0h0m7 0h0m-17 1h0m1 0h0m1 0h0m9 0h0m6 0h0m3 0h0m-20 1h0m2 0h0m2 0h0m11 0h0m3 0h0m2 0h0m-19 1h0m12 0h0m2 0h0m4 0h0m-21 1h0m1 0h0m1 0h0m1 0h0m1 0h0m11 0h0m3 0h0m-16 1h0m2 0h0m1 0h0m12 0h0m1 0h0m5 0h0m-24 1h0m1 0h0m1 0h0m1 0h0m3 0h0m11 0h0m4 0h0m-21 1h0m1 0h0m1 0h0m1 0h0m1 0h0m3 0h0m8 0h0m2 0h0m2 0h0m-16 1h0m1 0h0m4 0h0m12 0h0m1 0h0m-21 1h0m11 0h0m8 0h0m-20 1h0m3 0h0m1 0h0m1 0h0m3 0h0m3 0h0m1 0h0m3 0h0m2 0h0m7 0h0m-15 1h0m2 0h0m1 0h0m1 0h0m1 0h0m1 0h0m2 0h0m2 0h0m-13 1h0m1 0h0m1 0h0m1 0h0m2 0h0m1 0h0m1 0h0m2 0h0m1 0h0m-11 1h0m2 0h0m2 0h0m2 0h0m4 0h0m-8 1h0m5 0h0m1 0h0"/>
<path stroke="#3a8ad8" d="M96 829h0m3 0h0m-11 1h0m0 1h0m5 0h0m3 1h0m-5 1h0m8 0h0m-12 1h0m3 0h0m4 0h0m1 0h0m6 0h0m-14 1h0m4 0h0m2 0h0m1 0h0m2 0h0m2 0h0m-11 1h0m2 0h0m3 0h0m1 0h0m2 0h0m1 0h0m-15 1h0m8 0h0m3 0h0m-10 1h0m1 0h0m4 0h0m2 0h0m3 0h0m2 0h0m2 0h0m1 0h0m-14 1h0m1 0h0m2 1h0m9 0h0m5 0h0m-19 1h0m3 0h0m11 0h0m2 0h0m2 0h0m-16 1h0m18 0h0m-21 1h0m1 0h0m1 0h0m13 0h0m3 0h0m-17 1h0m3 0h0m13 0h0m2 0h0m-2 1h0m1 0h0m-18 1h0m2 0h0m1 0h0m2 0h0m11 0h0m3 0h0m-19 1h0m2 0h0m3 0h0m10 0h0m1 0h0m1 0h0m1 0h0m-17 1h0m1 0h0m1 0h0m10 0h0m3 0h0m-3 1h0m4 0h0m-3 1h0m2 0h0m-5 1h0m1 0h0m2 0h0m1 0h0m1 0h0m2 0h0m-19 1h0m2 0h0m8 0h0m9 0h0m-19 1h0m3 0h0m1 0h0m5 0h0m5 0h0m1 0h0m-20 1h0m7 0h0m9 0h0m2 0h0m4 0h0m-16 1h0m6 0h0m3 0h0m1 0h0m1 0h0m3 0h0m3 0h0m-19 1h0m11 0h0m-3 1h0m5 0h0m5 0h0m-14 1h0m3 0h0m1 0h0m4 0h0m1 0h0m1 0h0m-6 1h0m4 0h0m-2 2h0m-5 2h0m4 0h0"/>
<path stroke="#3cc8a0" d="M81 864h0m-5 1h0m2 0h0m2 0h0m1 0h0m4 1h0m1 0h0m-8 1h0m1 0h0m1 0h0m6 0h0m-12 1h0m3 0h0m1 0h0m1 0h0m1 0h0m1 0h0m1 0h0m2 0h0m2 0h0m-11 1h0m3 0h0m1 0h0m1 0h0m5 0h0m1 0h0m-11 1h0m9 0h0m1 0h0m3 0h0m-18 1h0m4 1h0m12 0h0m1 0h0m-14 1h0m12 0h0m-13 1h0m1 0h0m11 0h0m2 0h0m-14 1h0m2 0h0m0 1h0m1 0h0m3 0h0m1 0h0m5 0h0m2 0h0m-11 1h0m1 0h0m1 0h0m1 0h0m2 0h0m2 0h0m1 0h0m-10 1h0m5 0h0m1 0h0m1 0h0m2 0h0m1 0h0m-4 1h0"/>
<path stroke="#4cc0e0" d="M89 836h0m1 0h0m2 1h0m-2 1h0m6 0h0m-8 1h0m3 0h0m4 0h0m-10 1h0m1 0h0m2 0h0m1 0h0m4 0h0m1 0h0m2 0h0m-9 1h0m4 0h0m5 0h0m-10 1h0m1 0h0m1 0h0m1 0h0m2 0h0m2 0h0m2 0h0m-10 1h0m1 0h0m2 0h0m6 0h0m1 0h0m-8 1h0m-2 1h0m1 0h0m6 0h0m1 0h0m1 0h0m1 0h0m-9 1h0m1 0h0m3 0h0m2 0h0m1 0h0m1 0h0m-10 1h0m2 0h0m1 0h0m2 0h0m1 0h0m2 0h0m2 0h0m2 0h0m-11 1h0m1 0h0m1 0h0m3 0h0m1 0h0m2 0h0m-8 1h0m1 0h0m1 0h0m4 0h0m4 0h0m-5 1h0m3 0h0m-8 1h0m2 2h0"/>
<path stroke="#3fd84a" d="M83 867h0m-6 1h0m1 0h0m1 0h0m1 0h0m2 0h0m-3 1h0m1 0h0m2 0h0m1 0h0m2 0h0m-12 1h0m2 0h0m1 0h0m1 0h0m1 0h0m1 0h0m1 0h0m1 0h0m1 0h0m1 0h0m1 0h0m-10 1h0m2 0h0m1 0h0m1 0h0m1 0h0m1 0h0m1 0h0m1 0h0m2 0h0m1 0h0m-11 1h0m2 0h0m3 0h0m1 0h0m1 0h0m1 0h0m1 0h0m1 0h0m1 0h0m2 0h0m-10 1h0m1 0h0m4 0h0m3 0h0m-12 1h0m1 0h0m1 0h0m1 0h0m2 0h0m1 0h0m1 0h0m1 0h0m2 0h0m1 0h0m-7 1h0m1 0h0m3 0h0m1 0h0m3 0h0m-12 1h0m1 0h0m2 0h0m2 0h0m1 0h0m2 0h0m-5 1h0m4 0h0m4 0h0m-6 1h0m8 1h0"/>
</g>
<path d="M30.3 800H129V898.5H30.3" fill="none" stroke="#2e3432" stroke-width="1.2"/>
<line x1="30.3" y1="800" x2="30.3" y2="898.5" stroke="#9aa8a8" stroke-width="0.9" stroke-dasharray="1 1.5"/>
<line x1="28.3" y1="871.1" x2="30.3" y2="871.1" stroke="#6a7a7a" stroke-width="0.8"/>
<line x1="28.3" y1="843.8" x2="30.3" y2="843.8" stroke="#6a7a7a" stroke-width="0.8"/>
<line x1="28.3" y1="816.4" x2="30.3" y2="816.4" stroke="#6a7a7a" stroke-width="0.8"/>
<line x1="30.3" y1="854.3" x2="129" y2="854.3" stroke="#3c4442" stroke-width="1.1"/>
<line x1="73" y1="800" x2="73" y2="898.5" stroke="#3c4442" stroke-width="1.1"/>
<g font-family="&quot;Liberation Serif&quot;, serif" font-size="12px" fill="#111" stroke="#111" stroke-width="0.25">
<line x1="96.3" y1="815.8" x2="128.6" y2="815.8" stroke="#111" stroke-width="1.3"/>
<line x1="111.8" y1="801.5999999999999" x2="111.8" y2="828.8" stroke="#111" stroke-width="1.3"/>
<text x="108.39999999999999" y="811.9" text-anchor="end">5</text>
<text x="116.8" y="811.9">22</text>
<text x="108.39999999999999" y="827.5" text-anchor="end">16</text>
<text x="117.3" y="827.5">57</text>
</g>
<g stroke-width="1.8" stroke-linecap="square" fill="none" transform="translate(0.5 0.5)">
<path stroke="#1b2a4c" d="M197 821h0m5 0h0m-4 3h0m9 1h0m1 0h0m6 2h0m6 0h0m-14 1h0m5 0h0m-13 1h0m1 1h0m-2 1h0m11 0h0m9 0h0m-14 1h0m1 0h0m4 0h0m6 0h0m-24 1h0m10 0h0m7 0h0m-3 1h0m15 0h0m2 0h0m-24 1h0m2 0h0m3 0h0m3 0h0m3 0h0m7 0h0m-13 1h0m4 0h0m-11 1h0m20 0h0m1 0h0m3 0h0m3 0h0m-24 1h0m1 0h0m1 0h0m17 0h0m-24 1h0m4 1h0m2 0h0m18 0h0m3 0h0m5 0h0m-32 1h0m-4 2h0m8 0h0m22 0h0m2 0h0m5 0h0m-35 1h0m7 0h0m-8 1h0m15 0h0m14 0h0m-26 1h0m26 0h0m1 1h0m1 0h0m-34 1h0m9 0h0m6 0h0m7 0h0m8 0h0m-27 1h0m6 0h0m6 0h0m6 0h0m5 0h0m0 1h0m-19 1h0m3 0h0m1 0h0m1 0h0m-14 1h0m1 0h0m8 0h0m2 0h0m3 0h0m1 0h0m3 0h0m2 0h0m2 0h0m5 0h0m-27 1h0m6 0h0m6 0h0m7 0h0m9 0h0m4 0h0m3 0h0m-52 1h0m18 0h0m3 0h0m8 0h0m2 0h0m1 0h0m10 0h0m2 0h0m-24 1h0m1 0h0m2 0h0m7 0h0m1 0h0m5 0h0m4 0h0m3 0h0m8 0h0m-40 1h0m4 0h0m1 0h0m2 0h0m1 0h0m10 0h0m4 0h0m3 0h0m6 0h0m1 0h0m2 0h0m1 0h0m3 0h0m-50 1h0m11 0h0m4 0h0m15 0h0m1 0h0m3 0h0m1 0h0m2 0h0m1 0h0m4 0h0m1 0h0m3 0h0m9 0h0m-42 1h0m3 0h0m1 0h0m5 0h0m5 0h0m11 0h0m4 0h0m1 0h0m1 0h0m3 0h0m3 0h0m-41 1h0m6 0h0m4 0h0m1 0h0m11 0h0m1 0h0m3 0h0m6 0h0m4 0h0m1 0h0m-33 1h0m19 0h0m5 0h0m3 0h0m1 0h0m3 0h0m2 0h0m-37 1h0m2 0h0m1 0h0m8 0h0m9 0h0m1 0h0m9 0h0m3 0h0m1 0h0m5 0h0m8 0h0m-56 1h0m10 0h0m16 0h0m5 0h0m2 0h0m8 0h0m1 0h0m4 0h0m5 0h0m-42 1h0m30 0h0m2 0h0m1 0h0m-47 1h0m2 0h0m11 0h0m8 0h0m10 0h0m12 0h0m1 0h0m1 0h0m1 0h0m2 0h0m-36 1h0m25 0h0m17 0h0m2 0h0m-55 1h0m6 0h0m5 0h0m2 0h0m2 0h0m24 0h0m3 0h0m3 0h0m2 0h0m4 0h0m3 0h0m-48 1h0m4 0h0m2 0h0m1 0h0m25 0h0m11 0h0m3 0h0m-39 1h0m30 0h0m2 0h0m1 0h0m9 0h0m-46 1h0m5 0h0m24 0h0m4 0h0m-38 1h0m7 0h0m1 0h0m31 0h0m4 0h0m-37 1h0m34 0h0m5 0h0m-45 1h0m31 0h0m3 0h0m8 0h0m-44 1h0m1 0h0m5 0h0m1 0h0m1 0h0m3 0h0m32 0h0m-41 1h0m4 0h0m2 0h0m27 0h0m5 0h0m0 1h0m3 0h0m-12 1h0m4 0h0m-31 1h0m5 0h0m20 0h0m5 0h0m2 0h0m4 0h0m-38 1h0m4 0h0m3 0h0m2 0h0m20 0h0m3 0h0m3 0h0m2 0h0m1 0h0m5 0h0m7 0h0m-50 1h0m3 0h0m2 0h0m3 0h0m5 0h0m3 0h0m6 0h0m13 0h0m1 0h0m2 0h0m1 0h0m-50 1h0m12 0h0m7 0h0m1 0h0m1 0h0m16 0h0m2 0h0m24 0h0m-54 1h0m2 0h0m6 0h0m6 0h0m1 0h0m9 0h0m1 0h0m8 0h0m2 0h0m-35 1h0m5 0h0m2 0h0m4 0h0m7 0h0m6 0h0m7 0h0m2 0h0m3 0h0m-31 1h0m6 0h0m7 0h0m3 0h0m2 0h0m5 0h0m2 0h0m-40 1h0m8 0h0m2 0h0m6 0h0m4 0h0m18 0h0m-24 1h0m5 0h0m4 0h0m5 0h0m-10 1h0m3 0h0m3 0h0m3 0h0m5 0h0m5 0h0m1 0h0m-25 1h0m3 0h0m18 0h0m2 0h0m-30 1h0m14 0h0m7 0h0m1 0h0m0 1h0m7 0h0m-20 1h0m5 0h0m10 1h0m-16 1h0m-1 1h0m4 0h0m11 0h0m9 0h0"/>
<path stroke="#2866b8" d="M202 854h0m-15 1h0m8 0h0m1 0h0m-7 1h0m-8 1h0m13 0h0m3 0h0m3 0h0m-16 1h0m11 0h0m1 0h0m1 0h0m2 0h0m6 0h0m3 0h0m-23 1h0m7 0h0m1 0h0m1 0h0m-11 1h0m2 0h0m5 0h0m2 0h0m4 0h0m1 0h0m2 0h0m2 0h0m2 0h0m3 0h0m-21 1h0m3 0h0m2 0h0m7 0h0m7 0h0m6 0h0m-31 1h0m6 0h0m3 0h0m3 0h0m20 0h0m-33 1h0m3 0h0m2 0h0m13 0h0m2 0h0m-18 1h0m4 0h0m20 0h0m4 0h0m-28 1h0m23 0h0m3 0h0m-27 1h0m1 0h0m2 0h0m16 0h0m8 0h0m1 0h0m-5 1h0m2 0h0m1 0h0m-27 1h0m2 0h0m29 0h0m1 0h0m-37 1h0m6 0h0m20 0h0m4 0h0m5 0h0m-39 1h0m5 0h0m4 0h0m24 0h0m1 0h0m2 0h0m1 0h0m-32 1h0m25 0h0m1 0h0m2 0h0m-27 1h0m24 0h0m4 0h0m-32 1h0m4 0h0m2 0h0m20 0h0m1 0h0m1 0h0m7 0h0m-36 1h0m6 0h0m2 0h0m21 0h0m4 0h0m2 0h0m-29 1h0m1 0h0m3 0h0m17 0h0m1 0h0m3 0h0m-23 1h0m17 0h0m1 0h0m3 0h0m5 0h0m-26 1h0m2 0h0m13 0h0m2 0h0m-29 1h0m21 0h0m3 0h0m1 0h0m1 0h0m5 0h0m1 0h0m-24 1h0m8 0h0m2 0h0m7 0h0m1 0h0m2 0h0m3 0h0m-13 1h0m1 0h0m2 0h0m4 0h0m1 0h0m-21 1h0m4 0h0m6 0h0m2 0h0m-17 1h0m3 0h0m10 0h0m4 0h0m4 0h0m4 0h0m-20 1h0m19 0h0m-21 1h0m9 0h0m4 0h0m6 0h0m-9 2h0m0 1h0"/>
<path stroke="#2458a8" d="M201 829h0m8 0h0m1 1h0m1 0h0m2 1h0m-6 1h0m6 0h0m-6 1h0m1 0h0m1 1h0m7 0h0m2 0h0m-6 1h0m-16 1h0m2 0h0m4 0h0m2 0h0m1 0h0m5 0h0m13 0h0m-21 1h0m8 0h0m7 0h0m3 0h0m-27 1h0m7 0h0m-3 1h0m3 0h0m4 0h0m6 0h0m2 0h0m-13 1h0m16 0h0m-21 1h0m5 0h0m1 0h0m-5 1h0m26 0h0m-7 3h0m1 0h0m-1 1h0m4 0h0m-23 1h0m1 0h0m1 0h0m3 0h0m19 0h0m-20 1h0m16 0h0m-18 1h0m14 1h0m2 0h0m-14 1h0m4 1h0m5 0h0m4 0h0m-19 1h0m13 0h0m7 0h0m-5 1h0m4 0h0m-15 1h0m4 0h0m3 0h0m5 0h0m-13 1h0m13 0h0m3 0h0m-13 1h0m12 0h0m3 0h0m-9 1h0m4 0h0m-1 2h0m-10 1h0m3 0h0m6 1h0"/>
<path stroke="#3cb0e8" d="M200 854h0m4 3h0m-13 1h0m1 0h0m1 0h0m3 0h0m2 1h0m1 0h0m-13 1h0m8 0h0m3 0h0m2 0h0m3 0h0m4 0h0m-20 1h0m5 0h0m3 0h0m2 0h0m5 0h0m-7 1h0m-15 1h0m4 0h0m4 0h0m4 0h0m2 0h0m3 0h0m2 0h0m1 0h0m6 0h0m-25 1h0m2 0h0m2 0h0m1 0h0m1 0h0m15 0h0m-22 1h0m5 0h0m1 0h0m8 0h0m4 0h0m2 0h0m1 0h0m1 0h0m1 0h0m-24 1h0m2 0h0m1 0h0m1 0h0m3 0h0m10 0h0m3 0h0m2 0h0m1 0h0m1 0h0m1 0h0m-28 1h0m2 0h0m5 0h0m1 0h0m18 0h0m3 0h0m-25 1h0m1 0h0m19 0h0m1 0h0m1 0h0m2 0h0m-25 1h0m1 0h0m1 0h0m1 0h0m1 0h0m14 0h0m6 0h0m-22 1h0m18 0h0m2 0h0m1 0h0m-21 1h0m16 0h0m2 0h0m1 0h0m1 0h0m-23 1h0m2 0h0m1 0h0m3 0h0m16 0h0m2 0h0m-22 1h0m1 0h0m1 0h0m12 0h0m2 0h0m1 0h0m1 0h0m-20 1h0m4 0h0m2 0h0m14 0h0m-21 1h0m2 0h0m14 0h0m1 0h0m2 0h0m-17 1h0m1 0h0m2 0h0m4 0h0m1 0h0m2 0h0m4 0h0m1 0h0m1 0h0m-13 1h0m2 0h0m1 0h0m2 0h0m3 0h0m1 0h0m1 0h0m1 0h0m2 0h0m-19 1h0m3 0h0m2 0h0m4 0h0m1 0h0m4 0h0m2 0h0m-17 1h0m5 0h0m7 0h0m-4 1h0m1 0h0m3 0h0m-15 1h0m2 0h0m2 0h0m9 0h0m-4 1h0m0 1h0m7 0h0"/>
<path stroke="#3a8ad8" d="M206 835h0m5 0h0m-7 1h0m1 0h0m2 0h0m3 0h0m7 0h0m-16 1h0m2 0h0m2 0h0m1 0h0m4 0h0m2 0h0m-8 1h0m4 0h0m8 0h0m-15 1h0m4 0h0m1 0h0m3 0h0m2 0h0m-8 1h0m1 0h0m2 0h0m6 0h0m1 0h0m-10 1h0m1 0h0m4 0h0m1 0h0m2 0h0m4 0h0m-17 1h0m1 0h0m1 0h0m2 0h0m9 0h0m-10 1h0m13 0h0m1 0h0m1 0h0m-17 1h0m1 0h0m1 0h0m12 0h0m-12 1h0m1 0h0m-3 1h0m12 0h0m1 0h0m1 0h0m1 0h0m-16 1h0m1 0h0m3 0h0m8 0h0m1 1h0m1 0h0m-3 1h0m1 0h0m2 0h0m2 0h0m1 0h0m-16 1h0m2 0h0m11 0h0m1 0h0m-17 1h0m2 0h0m2 0h0m1 0h0m9 0h0m2 0h0m-6 1h0m2 0h0m4 0h0m-11 1h0m1 0h0m1 0h0m1 0h0m3 0h0m5 0h0m-12 1h0m10 0h0m-5 1h0m-3 1h0m8 0h0m-9 2h0"/>
<path stroke="#3cc8a0" d="M197 860h0m-4 2h0m3 0h0m-13 1h0m7 0h0m3 0h0m3 0h0m2 0h0m-10 1h0m1 0h0m1 0h0m1 0h0m1 0h0m4 0h0m3 0h0m2 0h0m-16 1h0m1 0h0m2 0h0m5 0h0m2 0h0m5 0h0m-14 1h0m2 0h0m7 0h0m2 0h0m2 0h0m-18 1h0m2 0h0m1 0h0m14 0h0m-17 1h0m1 0h0m2 0h0m10 0h0m3 0h0m2 0h0m-15 1h0m11 0h0m-14 1h0m3 0h0m14 0h0m1 0h0m-18 1h0m12 0h0m-12 1h0m1 0h0m7 0h0m6 0h0m-15 1h0m1 0h0m1 0h0m8 0h0m6 0h0m-14 1h0m3 0h0m6 0h0m-10 1h0m7 0h0m1 0h0m1 0h0m1 0h0m3 0h0m-6 1h0m1 0h0m1 0h0m1 0h0m-5 1h0m2 0h0m-3 1h0m1 0h0m-6 1h0"/>
<path stroke="#4cc0e0" d="M209 838h0m1 2h0m-2 1h0m1 0h0m-4 1h0m2 0h0m3 0h0m1 0h0m-5 1h0m1 0h0m1 0h0m1 0h0m-3 1h0m1 0h0m1 0h0m-4 1h0m1 0h0m4 0h0m-9 1h0m1 0h0m4 0h0m4 0h0m1 0h0m-8 1h0m1 0h0m4 0h0m2 0h0m-4 1h0m5 0h0m-7 1h0m1 0h0m1 0h0m1 0h0m1 0h0m1 0h0m-3 1h0m3 0h0m3 0h0m-6 1h0m1 0h0"/>
<path stroke="#3fd84a" d="M200 862h0m-9 1h0m-4 1h0m7 0h0m2 0h0m-10 1h0m2 0h0m1 0h0m3 0h0m1 0h0m1 0h0m1 0h0m1 0h0m-10 1h0m1 0h0m1 0h0m1 0h0m1 0h0m2 0h0m1 0h0m1 0h0m1 0h0m1 0h0m1 0h0m1 0h0m-12 1h0m1 0h0m2 0h0m2 0h0m2 0h0m1 0h0m1 0h0m-10 1h0m1 0h0m1 0h0m1 0h0m2 0h0m1 0h0m1 0h0m1 0h0m1 0h0m2 0h0m-14 1h0m2 0h0m1 0h0m1 0h0m2 0h0m1 0h0m1 0h0m1 0h0m1 0h0m1 0h0m1 0h0m1 0h0m-12 1h0m1 0h0m2 0h0m1 0h0m1 0h0m1 0h0m1 0h0m1 0h0m1 0h0m1 0h0m1 0h0m1 0h0m1 0h0m-15 1h0m2 0h0m2 0h0m1 0h0m1 0h0m1 0h0m1 0h0m1 0h0m1 0h0m2 0h0m3 0h0m-17 1h0m5 0h0m2 0h0m2 0h0m2 0h0m2 0h0m1 0h0m1 0h0m-12 1h0m1 0h0m1 0h0m1 0h0m1 0h0m2 0h0m1 0h0m1 0h0m1 0h0m1 0h0m-8 1h0m3 0h0m2 0h0m-4 1h0m1 0h0m4 0h0m-1 3h0"/>
</g>
<path d="M144.7 800.4H242.3V897.3H144.7" fill="none" stroke="#2e3432" stroke-width="1.2"/>
<line x1="144.7" y1="800.4" x2="144.7" y2="897.3" stroke="#9aa8a8" stroke-width="0.9" stroke-dasharray="1 1.5"/>
<line x1="142.7" y1="870.4" x2="144.7" y2="870.4" stroke="#6a7a7a" stroke-width="0.8"/>
<line x1="142.7" y1="843.5" x2="144.7" y2="843.5" stroke="#6a7a7a" stroke-width="0.8"/>
<line x1="142.7" y1="816.5" x2="144.7" y2="816.5" stroke="#6a7a7a" stroke-width="0.8"/>
<line x1="144.7" y1="854.6" x2="242.3" y2="854.6" stroke="#3c4442" stroke-width="1.1"/>
<line x1="186.2" y1="800.4" x2="186.2" y2="897.3" stroke="#3c4442" stroke-width="1.1"/>
<g font-family="&quot;Liberation Serif&quot;, serif" font-size="12px" fill="#111" stroke="#111" stroke-width="0.25">
<line x1="206.7" y1="816" x2="239.0" y2="816" stroke="#111" stroke-width="1.3"/>
<line x1="222.2" y1="801.8" x2="222.2" y2="829" stroke="#111" stroke-width="1.3"/>
<text x="218.79999999999998" y="812.1" text-anchor="end">3</text>
<text x="227.2" y="812.1">14</text>
<text x="218.79999999999998" y="827.7" text-anchor="end">25</text>
<text x="227.7" y="827.7">58</text>
</g>
<g stroke-width="1.8" stroke-linecap="square" fill="none" transform="translate(0.5 0.5)">
<path stroke="#1b2a4c" d="M388 817h0m-19 1h0m-10 1h0m-55 2h0m58 0h0m-41 1h0m22 1h0m8 0h0m10 0h0m-58 1h0m6 0h0m1 0h0m3 0h0m6 0h0m42 0h0m-51 2h0m42 1h0m1 0h0m3 0h0m2 0h0m30 0h0m-78 1h0m32 0h0m5 0h0m-40 1h0m11 0h0m1 0h0m2 0h0m1 0h0m35 0h0m2 0h0m1 0h0m16 0h0m-70 1h0m39 0h0m12 0h0m8 0h0m1 0h0m-58 1h0m14 0h0m33 0h0m1 0h0m7 0h0m-52 1h0m11 0h0m18 0h0m5 0h0m4 0h0m7 0h0m2 0h0m7 0h0m-9 1h0m8 0h0m4 0h0m21 0h0m-73 1h0m17 0h0m1 0h0m8 0h0m10 0h0m9 0h0m6 0h0m15 0h0m-66 1h0m6 0h0m13 0h0m2 0h0m4 0h0m9 0h0m12 0h0m-45 1h0m5 0h0m16 0h0m9 0h0m15 0h0m4 0h0m1 0h0m3 0h0m-38 1h0m23 0h0m1 0h0m11 0h0m8 0h0m-48 1h0m13 0h0m1 0h0m9 0h0m12 0h0m3 0h0m8 0h0m-33 1h0m2 0h0m2 0h0m16 0h0m2 0h0m2 0h0m-57 1h0m8 0h0m25 0h0m1 0h0m-32 1h0m17 0h0m5 0h0m19 0h0m10 0h0m1 0h0m-34 1h0m11 0h0m7 0h0m9 0h0m4 0h0m4 0h0m3 0h0m3 0h0m3 0h0m5 0h0m-46 1h0m3 0h0m28 0h0m14 0h0m-40 1h0m13 0h0m8 0h0m1 0h0m7 0h0m1 0h0m12 0h0m-43 1h0m11 0h0m20 0h0m2 0h0m5 0h0m-45 1h0m1 0h0m1 0h0m27 0h0m6 0h0m5 0h0m-40 1h0m2 0h0m19 0h0m3 0h0m6 0h0m3 0h0m3 0h0m-41 1h0m16 0h0m3 0h0m2 0h0m6 0h0m12 0h0m-31 1h0m17 0h0m4 0h0m1 0h0m12 0h0m2 0h0m-52 1h0m12 0h0m15 0h0m-23 1h0m3 0h0m4 0h0m29 0h0m1 0h0m2 0h0m1 0h0m2 0h0m1 0h0m1 0h0m5 0h0m1 0h0m1 0h0m5 0h0m1 0h0m-58 1h0m14 0h0m30 0h0m-42 1h0m6 0h0m2 0h0m28 0h0m5 0h0m4 0h0m9 0h0m-59 1h0m4 0h0m5 0h0m12 0h0m3 0h0m12 0h0m7 0h0m15 0h0m-60 1h0m9 0h0m52 0h0m-42 1h0m6 0h0m20 0h0m5 0h0m6 0h0m-53 1h0m4 0h0m1 0h0m3 0h0m12 0h0m21 0h0m1 0h0m7 0h0m-53 1h0m10 0h0m13 0h0m1 0h0m17 0h0m2 0h0m3 0h0m-45 1h0m2 0h0m20 0h0m19 0h0m5 0h0m-45 1h0m1 0h0m2 0h0m3 0h0m38 0h0m-39 1h0m11 0h0m5 0h0m19 0h0m3 0h0m-40 1h0m3 0h0m4 0h0m7 0h0m24 0h0m1 0h0m3 0h0m3 0h0m-45 1h0m1 0h0m5 0h0m30 0h0m4 0h0m-48 1h0m7 0h0m3 0h0m2 0h0m3 0h0m4 0h0m2 0h0m24 0h0m1 0h0m-44 1h0m37 0h0m4 0h0m1 0h0m9 0h0m1 0h0m5 0h0m-32 1h0m-25 1h0m10 0h0m7 0h0m15 0h0m12 0h0m1 0h0m6 0h0m-49 1h0m2 0h0m13 0h0m3 0h0m2 0h0m6 0h0m5 0h0m17 0h0m-60 1h0m1 0h0m11 0h0m14 0h0m2 0h0m5 0h0m17 0h0m1 0h0m1 0h0m5 0h0m2 0h0m-25 1h0m1 0h0m8 0h0m-39 1h0m2 0h0m6 0h0m3 0h0m2 0h0m54 0h0m-57 1h0m2 0h0m2 0h0m2 0h0m5 0h0m1 0h0m9 0h0m1 0h0m1 0h0m7 0h0m-40 1h0m10 0h0m25 0h0m4 0h0m11 0h0m-49 1h0m8 0h0m3 0h0m1 0h0m14 0h0m4 0h0m-28 1h0m21 0h0m13 0h0m1 0h0m-21 1h0m22 0h0m12 0h0m-44 1h0m5 0h0m9 0h0m4 0h0m5 0h0m5 0h0m-29 1h0m1 0h0m6 0h0m1 0h0m17 0h0m2 0h0m1 0h0m-43 1h0m12 0h0m5 0h0m4 0h0m12 0h0m4 0h0m-32 1h0m8 0h0m2 0h0m11 0h0m4 0h0m1 0h0m10 0h0m5 0h0m2 0h0m-39 1h0m2 0h0m10 0h0m2 0h0m6 0h0m-7 1h0m10 1h0m4 0h0m-17 1h0m1 0h0m4 0h0m15 0h0m11 0h0m-29 1h0m4 0h0m9 0h0m-16 1h0m36 0h0m-46 1h0m26 0h0m-27 2h0m14 0h0m-8 1h0m16 1h0m-24 1h0m24 3h0"/>
<path stroke="#2458a8" d="M343 832h0m20 1h0m-9 1h0m3 0h0m-13 2h0m6 0h0m1 0h0m-9 1h0m17 0h0m7 0h0m-12 1h0m-12 1h0m1 0h0m15 0h0m2 0h0m5 0h0m-24 1h0m3 0h0m7 0h0m1 0h0m-14 1h0m4 0h0m5 0h0m4 0h0m4 0h0m-14 1h0m1 0h0m4 0h0m2 0h0m1 0h0m2 0h0m2 0h0m6 0h0m-22 1h0m15 0h0m4 0h0m3 0h0m9 0h0m-32 1h0m6 0h0m9 0h0m1 0h0m5 0h0m1 0h0m-29 1h0m12 0h0m2 0h0m10 0h0m2 0h0m4 0h0m1 0h0m2 0h0m2 0h0m3 0h0m-36 1h0m5 0h0m4 0h0m2 0h0m-7 1h0m6 0h0m15 0h0m2 0h0m-27 2h0m3 0h0m21 0h0m1 0h0m3 0h0m1 0h0m-37 1h0m10 0h0m2 0h0m1 0h0m1 0h0m16 0h0m2 0h0m2 0h0m1 0h0m-33 1h0m1 0h0m7 0h0m22 0h0m3 0h0m-28 1h0m1 0h0m3 0h0m4 0h0m16 0h0m2 0h0m-33 1h0m2 0h0m1 0h0m3 0h0m3 0h0m2 0h0m19 0h0m11 0h0m4 0h0m-44 1h0m2 0h0m7 0h0m21 0h0m3 0h0m-32 1h0m1 0h0m2 0h0m26 0h0m3 0h0m1 0h0m-34 1h0m28 0h0m2 0h0m11 0h0m-43 1h0m28 0h0m1 0h0m-28 1h0m32 0h0m-32 1h0m2 0h0m22 1h0m-29 1h0m4 0h0m2 0h0m2 0h0m21 0h0m2 0h0m3 0h0m1 0h0m2 0h0m1 0h0m-8 1h0m4 0h0m-28 1h0m20 0h0m4 0h0m1 0h0m5 0h0m-33 1h0m1 0h0m25 0h0m1 0h0m3 0h0m1 0h0m-25 1h0m20 0h0m2 0h0m-29 1h0m3 0h0m23 0h0m2 0h0m5 0h0m1 0h0m-39 1h0m4 0h0m2 0h0m7 0h0m13 0h0m-27 1h0m6 0h0m22 0h0m4 0h0m-33 1h0m7 0h0m1 0h0m1 0h0m1 0h0m7 0h0m7 0h0m-14 1h0m17 0h0m-18 1h0m2 0h0m1 0h0m1 0h0m2 0h0m1 0h0m5 0h0m3 0h0m11 0h0m-31 1h0m8 0h0m7 0h0m4 0h0m2 0h0m-27 1h0m2 0h0m6 0h0m3 0h0m15 0h0m2 0h0m-25 1h0m10 0h0m4 0h0m1 0h0m2 0h0m1 0h0m2 0h0m-23 1h0m11 0h0m5 0h0m2 0h0m2 0h0m6 0h0m-14 2h0m1 0h0m-5 2h0m2 0h0m16 0h0m2 0h0m-23 1h0m7 1h0"/>
<path stroke="#2866b8" d="M311 825h0m3 1h0m4 0h0m-5 1h0m-1 3h0m4 1h0m-4 1h0m1 0h0m2 0h0m3 0h0m-4 1h0m34 15h0m4 0h0m-10 1h0m9 1h0m1 1h0m1 0h0m3 0h0m-14 2h0m6 0h0m7 0h0m1 1h0m-15 1h0m9 0h0m1 0h0m1 0h0m-18 2h0m0 1h0m1 0h0m1 0h0m15 0h0m-16 1h0m13 0h0m2 0h0m1 0h0m1 0h0m-18 1h0m-1 1h0m15 0h0m0 1h0m-16 1h0m1 1h0m0 1h0m10 0h0m1 1h0m-13 1h0m4 0h0m10 0h0m-9 1h0m1 0h0m-8 1h0m2 0h0m2 0h0m1 0h0m2 0h0"/>
<path stroke="#3a92dc" d="M343 850h0m7 1h0m-3 1h0m2 0h0m-6 1h0m1 0h0m6 0h0m-11 1h0m2 0h0m2 0h0m1 0h0m4 0h0m1 0h0m1 0h0m1 0h0m1 0h0m-16 1h0m3 0h0m1 0h0m1 1h0m6 0h0m1 1h0m1 0h0m2 0h0m-5 1h0m1 0h0m1 0h0m-12 1h0m11 0h0m2 0h0m-16 1h0m12 0h0m2 0h0m-12 1h0m1 0h0m-1 1h0m2 0h0m7 0h0m-12 1h0m3 1h0m4 0h0m3 0h0m1 0h0m1 0h0m1 0h0m-13 1h0m5 0h0m-2 1h0m2 0h0m1 0h0m4 0h0m-7 1h0m2 0h0m2 0h0m1 0h0m-7 1h0m2 0h0m-2 1h0"/>
<path stroke="#3a8ad8" d="M357 841h0m-14 1h0m4 0h0m9 0h0m-16 1h0m5 0h0m13 0h0m4 0h0m-23 1h0m8 0h0m4 0h0m2 0h0m2 0h0m2 0h0m-24 1h0m7 0h0m1 0h0m2 0h0m2 0h0m1 0h0m2 0h0m11 0h0m-19 1h0m1 0h0m3 0h0m1 0h0m2 0h0m7 0h0m2 0h0m-18 1h0m2 0h0m2 0h0m1 0h0m1 0h0m7 0h0m2 0h0m-13 1h0m3 0h0m3 0h0m1 0h0m1 0h0m2 0h0m1 0h0m2 0h0m6 0h0m-27 1h0m5 0h0m6 0h0m1 0h0m1 0h0m4 0h0m3 0h0m1 0h0m1 0h0m4 0h0m-25 1h0m2 0h0m2 0h0m2 0h0m1 0h0m1 0h0m1 0h0m15 0h0m-22 1h0m2 0h0m1 0h0m9 0h0m2 0h0m1 0h0m2 0h0m2 0h0m1 0h0m1 0h0m-23 1h0m1 0h0m3 0h0m1 0h0m12 0h0m1 0h0m1 0h0m1 0h0m3 0h0m-26 1h0m2 0h0m2 0h0m3 0h0m11 0h0m1 0h0m2 0h0m1 0h0m2 0h0m3 0h0m1 0h0m-26 1h0m1 0h0m1 0h0m1 0h0m16 0h0m2 0h0m-22 1h0m3 0h0m2 0h0m11 0h0m-15 1h0m1 0h0m1 0h0m14 0h0m1 0h0m1 0h0m1 0h0m4 0h0m4 0h0m-31 1h0m5 0h0m19 0h0m-29 1h0m4 0h0m1 0h0m1 0h0m2 0h0m13 0h0m3 0h0m1 0h0m-19 1h0m3 0h0m14 0h0m1 0h0m1 0h0m1 0h0m2 0h0m-26 1h0m1 0h0m3 0h0m2 0h0m14 0h0m1 0h0m-23 1h0m5 0h0m2 0h0m14 0h0m1 0h0m2 0h0m-23 1h0m1 0h0m2 0h0m2 0h0m1 0h0m12 0h0m2 0h0m5 0h0m-23 1h0m1 0h0m1 0h0m4 0h0m1 0h0m8 0h0m2 0h0m3 0h0m4 0h0m-20 1h0m10 0h0m2 0h0m1 0h0m2 0h0m3 0h0m-30 1h0m6 0h0m1 0h0m1 0h0m2 0h0m2 0h0m3 0h0m2 0h0m2 0h0m1 0h0m2 0h0m-16 1h0m1 0h0m18 0h0m-16 1h0m1 0h0m1 0h0m1 0h0m1 0h0m1 0h0m1 0h0m1 0h0m1 0h0m3 0h0m5 0h0m-25 1h0m7 0h0m1 0h0m1 0h0m1 0h0m3 0h0m1 0h0m5 0h0m1 0h0m1 0h0m4 0h0m3 0h0m-24 1h0m2 0h0m4 0h0m2 0h0m2 0h0m2 0h0m2 0h0m4 0h0m-12 1h0m2 0h0m2 0h0m-6 1h0m6 0h0m1 0h0m2 0h0m-13 1h0m11 0h0m5 0h0m-16 1h0m5 0h0m3 0h0m1 0h0m2 0h0m4 0h0m-2 2h0m-19 1h0m12 1h0m-4 1h0"/>
<path stroke="#48bce8" d="M344 853h0m2 0h0m-2 1h0m2 0h0m1 0h0m-4 1h0m4 0h0m2 0h0m-11 1h0m3 0h0m3 0h0m1 0h0m1 0h0m-6 1h0m2 0h0m2 0h0m-8 1h0m4 0h0m1 0h0m1 0h0m3 0h0m1 0h0m-6 1h0m1 0h0m-4 1h0m1 0h0m2 0h0m1 0h0m1 0h0m4 0h0m-8 1h0m1 0h0m1 0h0m2 0h0m1 0h0m3 0h0m-9 1h0m3 0h0m2 0h0m4 0h0m-11 1h0m2 0h0m1 0h0m3 0h0m-5 1h0m1 0h0m0 1h0m2 0h0m0 1h0"/>
<path stroke="#4cc0e0" d="M347 846h0m-2 1h0m-3 1h0m2 0h0m0 1h0m1 0h0m3 0h0m1 0h0m3 0h0m2 0h0m-13 1h0m2 0h0m1 0h0m4 0h0m1 0h0m2 0h0m-9 1h0m8 0h0m-11 1h0m2 0h0m2 0h0m2 0h0m-8 1h0m1 0h0m3 0h0m2 0h0m1 0h0m1 0h0m1 0h0m2 0h0m-11 1h0m1 0h0m1 0h0m1 0h0m1 0h0m3 0h0m1 0h0m1 0h0m-10 1h0m1 0h0m2 0h0m6 0h0m4 0h0m-16 1h0m1 0h0m1 0h0m1 0h0m1 0h0m1 0h0m2 0h0m2 0h0m2 0h0m2 0h0m1 0h0m-11 1h0m1 0h0m1 0h0m1 0h0m5 0h0m1 0h0m1 0h0m-14 1h0m1 0h0m3 0h0m1 0h0m1 0h0m2 0h0m2 0h0m6 0h0m-18 1h0m5 0h0m2 0h0m2 0h0m1 0h0m2 0h0m1 0h0m1 0h0m2 0h0m-13 1h0m5 0h0m1 0h0m1 0h0m1 0h0m1 0h0m2 0h0m-11 1h0m2 0h0m1 0h0m1 0h0m2 0h0m2 0h0m1 0h0m1 0h0m1 0h0m-12 1h0m1 0h0m2 0h0m2 0h0m1 0h0m3 0h0m-12 1h0m5 0h0m2 0h0m3 0h0m1 0h0m2 0h0m-10 1h0m1 0h0m1 0h0m2 0h0m1 0h0m1 0h0m-7 1h0m2 0h0m1 0h0m3 0h0m1 0h0m-10 1h0m1 0h0m3 0h0m3 0h0m1 1h0m-1 1h0m-5 1h0"/>
</g>
<path d="M293.8 800.4H393V898.5H293.8" fill="none" stroke="#2e3432" stroke-width="1.2"/>
<line x1="293.8" y1="800.4" x2="293.8" y2="898.5" stroke="#9aa8a8" stroke-width="0.9" stroke-dasharray="1 1.5"/>
<line x1="291.8" y1="871.2" x2="293.8" y2="871.2" stroke="#6a7a7a" stroke-width="0.8"/>
<line x1="291.8" y1="844.0" x2="293.8" y2="844.0" stroke="#6a7a7a" stroke-width="0.8"/>
<line x1="291.8" y1="816.8" x2="293.8" y2="816.8" stroke="#6a7a7a" stroke-width="0.8"/>
<line x1="293.8" y1="855.3" x2="393" y2="855.3" stroke="#a8c4d0" stroke-width="1.1"/>
<line x1="336.2" y1="800.4" x2="336.2" y2="898.5" stroke="#a8c4d0" stroke-width="1.1"/>
<g font-family="&quot;Liberation Serif&quot;, serif" font-size="12px" fill="#111" stroke="#111" stroke-width="0.25">
<line x1="358.3" y1="817" x2="390.6" y2="817" stroke="#111" stroke-width="1.3"/>
<line x1="373.8" y1="802.8" x2="373.8" y2="830" stroke="#111" stroke-width="1.3"/>
<text x="370.40000000000003" y="813.1" text-anchor="end">7</text>
<text x="378.8" y="813.1">30</text>
<text x="370.40000000000003" y="828.7" text-anchor="end">27</text>
<text x="379.3" y="828.7">35</text>
</g>
<g stroke-width="1.8" stroke-linecap="square" fill="none" transform="translate(0.5 0.5)">
<path stroke="#3ea6e2" d="M481 848h0m-12 2h0m5 2h0m6 0h0m-9 1h0m-7 2h0m2 1h0m2 0h0m2 0h0m-9 1h0m12 0h0m-11 1h0m-5 1h0m6 1h0m4 0h0m-3 1h0m3 0h0m-14 1h0m13 0h0m6 0h0m-25 1h0m19 0h0m-16 1h0m13 0h0m-19 1h0m1 0h0m0 1h0m12 1h0m1 0h0m-2 1h0m4 0h0m-24 2h0m4 0h0m12 0h0m-14 1h0m-6 1h0m14 0h0m7 0h0m-7 1h0m-5 1h0m2 0h0m0 1h0m2 0h0m-14 1h0m8 0h0m5 0h0m1 0h0m-14 1h0m-4 1h0m9 0h0m2 1h0m-23 1h0m6 1h0m8 1h0m-4 1h0"/>
<path stroke="#1b2a4c" d="M447 834h0m8 0h0m-5 1h0m7 0h0m10 0h0m-12 1h0m12 0h0m-15 1h0m1 0h0m3 0h0m3 0h0m3 0h0m8 0h0m-17 1h0m21 0h0m-11 1h0m2 0h0m3 0h0m3 0h0m-11 1h0m1 0h0m8 0h0m10 0h0m-33 1h0m6 0h0m8 0h0m9 0h0m-21 1h0m2 0h0m3 0h0m5 0h0m2 0h0m1 0h0m1 0h0m2 0h0m5 0h0m4 0h0m-19 1h0m3 0h0m2 0h0m4 0h0m1 0h0m9 0h0m4 1h0m4 0h0m-32 1h0m7 0h0m11 0h0m-9 1h0m10 0h0m-7 1h0m4 0h0m2 0h0m-11 1h0m2 0h0m2 0h0m8 0h0m-6 1h0m-11 1h0m14 0h0m-3 1h0m2 0h0m7 0h0m10 0h0m-20 1h0m1 0h0m2 0h0m3 0h0m14 0h0m-19 1h0m10 0h0m-11 1h0m10 0h0m1 0h0m-22 1h0m6 0h0m11 0h0m-14 1h0m1 0h0m29 0h0m-33 1h0m2 0h0m11 0h0m10 0h0m-16 1h0m13 1h0m-23 1h0m17 0h0m-17 1h0m28 0h0m-33 1h0m2 0h0m21 0h0m-27 1h0m7 0h0m32 0h0m-38 1h0m29 0h0m4 0h0m-36 2h0m0 1h0m33 1h0m-36 1h0m36 0h0m-39 1h0m4 0h0m30 0h0m-45 1h0m12 0h0m6 0h0m23 0h0m6 0h0m-44 1h0m8 0h0m-10 1h0m4 0h0m28 0h0m6 0h0m-24 1h0m-11 1h0m10 0h0m-5 1h0m4 0h0m7 0h0m20 0h0m-36 1h0m7 0h0m14 0h0m-12 1h0m15 0h0m-33 1h0m12 0h0m3 0h0m9 0h0m11 0h0m-28 1h0m5 0h0m5 0h0m7 0h0m7 0h0m-13 1h0m4 0h0m4 0h0m3 0h0m7 0h0m-26 1h0m9 0h0m3 0h0m8 0h0m8 1h0m-34 1h0m3 0h0m18 0h0m8 0h0m-32 1h0m29 0h0m-14 3h0m2 3h0"/>
<path stroke="#3cc0b0" d="M471 854h0m1 0h0m-8 4h0m3 0h0m-4 1h0m-7 1h0m3 0h0m2 0h0m1 0h0m2 0h0m2 0h0m1 0h0m-11 1h0m1 0h0m9 0h0m-12 1h0m9 0h0m1 0h0m-12 1h0m1 0h0m4 0h0m2 0h0m1 0h0m2 0h0m1 0h0m1 0h0m-14 1h0m11 0h0m2 0h0m-6 1h0m3 0h0m1 0h0m-14 1h0m11 0h0m-16 1h0m15 0h0m-15 1h0m1 0h0m2 0h0m9 0h0m2 0h0m-13 1h0m-4 1h0m2 0h0m10 0h0m-13 1h0m1 0h0m7 0h0m4 0h0m-15 1h0m2 0h0m-4 2h0m2 0h0m1 0h0m5 0h0m4 0h0m-10 1h0m1 0h0m4 0h0m-7 1h0m3 0h0m3 0h0m-8 1h0m4 0h0"/>
<path stroke="#2866b8" d="M453 857h0m7 0h0m-1 1h0m-7 1h0m3 0h0m7 0h0m9 0h0m-1 2h0m-26 1h0m4 0h0m-2 1h0m17 0h0m1 0h0m2 0h0m-25 1h0m2 0h0m18 0h0m-18 1h0m19 1h0m-24 1h0m1 0h0m20 0h0m2 0h0m2 0h0m-2 1h0m-28 2h0m2 0h0m2 0h0m23 0h0m-5 1h0m3 0h0m-6 1h0m5 0h0m-20 1h0m6 0h0m4 0h0m3 0h0m1 0h0m-17 1h0m15 0h0m8 0h0m-24 1h0m7 0h0m2 0h0m6 0h0m2 0h0m-17 1h0m11 0h0m5 0h0m-16 2h0m7 0h0m-6 1h0m4 0h0m-8 2h0"/>
<path stroke="#3a92dc" d="M464 856h0m-3 1h0m-6 2h0m-4 1h0m5 0h0m2 0h0m2 0h0m5 0h0m-14 1h0m5 0h0m2 0h0m2 0h0m1 0h0m-13 1h0m7 0h0m6 0h0m2 0h0m-10 1h0m5 0h0m1 0h0m1 0h0m5 0h0m-23 1h0m4 0h0m13 0h0m1 0h0m-20 1h0m7 0h0m11 0h0m3 0h0m-20 1h0m5 0h0m12 0h0m5 0h0m-20 1h0m17 0h0m-19 1h0m15 0h0m2 0h0m2 0h0m-20 1h0m1 0h0m1 0h0m-3 1h0m15 0h0m2 0h0m2 0h0m-6 1h0m1 0h0m-11 1h0m9 0h0m-19 1h0m3 0h0m3 0h0m4 0h0m1 0h0m2 0h0m5 0h0m-12 1h0m2 0h0m2 0h0m1 0h0m1 0h0m1 0h0m2 0h0m1 0h0m-9 1h0m1 0h0m1 0h0m3 0h0m4 0h0m1 0h0m-10 1h0m1 0h0m2 0h0m2 0h0m5 0h0m4 0h0"/>
<path stroke="#3fd34a" d="M463 859h0m-2 1h0m0 1h0m2 0h0m-8 1h0m1 0h0m2 0h0m1 0h0m-4 1h0m1 0h0m1 0h0m1 0h0m2 0h0m-8 1h0m1 0h0m3 0h0m1 0h0m1 0h0m1 0h0m-11 1h0m3 0h0m1 0h0m1 0h0m1 0h0m1 0h0m1 0h0m1 0h0m1 0h0m-10 1h0m2 0h0m1 0h0m1 0h0m1 0h0m1 0h0m1 0h0m-7 1h0m1 0h0m1 0h0m1 0h0m1 0h0m1 0h0m1 0h0m-10 1h0m1 0h0m1 0h0m1 0h0m1 0h0m1 0h0m2 0h0m-8 1h0m1 0h0m1 0h0m1 0h0m1 0h0m1 0h0m1 0h0m2 0h0m-11 1h0m1 0h0m1 0h0m1 0h0m2 0h0m1 0h0m1 0h0m1 0h0m2 0h0m2 0h0m-10 1h0m1 0h0m2 0h0m1 0h0m5 0h0m-13 1h0m2 0h0m1 0h0m1 0h0m1 0h0m1 0h0m1 0h0m-5 1h0m1 0h0m1 0h0m1 0h0m1 0h0m1 0h0m-9 1h0m2 0h0m3 0h0m-5 1h0m5 0h0m-5 1h0m3 0h0"/>
<path stroke="#48bce8" d="M457 861h0m-5 2h0m1 0h0m1 0h0m2 0h0m1 0h0m-9 1h0m3 0h0m1 0h0m3 0h0m1 0h0m1 0h0m-9 1h0m1 0h0m1 0h0m1 0h0m2 0h0m1 0h0m1 0h0m2 0h0m-9 1h0m1 0h0m1 0h0m1 0h0m2 0h0m1 0h0m1 0h0m1 0h0m1 0h0m-15 1h0m4 0h0m2 0h0m1 0h0m2 0h0m2 0h0m1 0h0m1 0h0m1 0h0m2 0h0m-17 1h0m5 0h0m1 0h0m1 0h0m1 0h0m1 0h0m1 0h0m3 0h0m2 0h0m-12 1h0m3 0h0m1 0h0m2 0h0m1 0h0m2 0h0m-10 1h0m2 0h0m1 0h0m1 0h0m1 0h0m1 0h0m1 0h0m5 0h0m-16 1h0m3 0h0m2 0h0m1 0h0m2 0h0m1 0h0m1 0h0m3 0h0m-10 1h0m2 0h0m4 0h0m1 0h0m-6 1h0m2 0h0"/>
</g>
<path d="M404.6 801.5H503.8V899.6H404.6" fill="none" stroke="#2e3432" stroke-width="1.2"/>
<line x1="404.6" y1="801.5" x2="404.6" y2="899.6" stroke="#9aa8a8" stroke-width="0.9" stroke-dasharray="1 1.5"/>
<line x1="402.6" y1="872.4" x2="404.6" y2="872.4" stroke="#6a7a7a" stroke-width="0.8"/>
<line x1="402.6" y1="845.1" x2="404.6" y2="845.1" stroke="#6a7a7a" stroke-width="0.8"/>
<line x1="402.6" y1="817.9" x2="404.6" y2="817.9" stroke="#6a7a7a" stroke-width="0.8"/>
<line x1="404.6" y1="856.9" x2="503.8" y2="856.9" stroke="#3c4442" stroke-width="1.1"/>
<line x1="447.3" y1="801.5" x2="447.3" y2="899.6" stroke="#3c4442" stroke-width="1.1"/>
<g font-family="&quot;Liberation Serif&quot;, serif" font-size="12px" fill="#111" stroke="#111" stroke-width="0.25">
<line x1="461.8" y1="817.7" x2="494.1" y2="817.7" stroke="#111" stroke-width="1.3"/>
<line x1="477.3" y1="803.5" x2="477.3" y2="830.7" stroke="#111" stroke-width="1.3"/>
<text x="473.90000000000003" y="813.8" text-anchor="end">2</text>
<text x="482.3" y="813.8">10</text>
<text x="473.90000000000003" y="829.4" text-anchor="end">47</text>
<text x="482.8" y="829.4">41</text>
</g>
</svg>
</body></html>
